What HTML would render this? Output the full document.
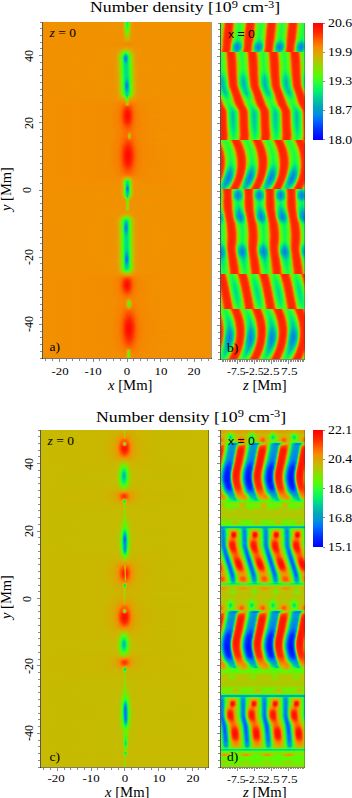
<!DOCTYPE html>
<html><head><meta charset="utf-8"><style>
*{margin:0;padding:0}
html,body{width:352px;height:798px;background:#fff;overflow:hidden;position:relative}
.im{position:absolute;overflow:hidden}
.im i{display:block;height:1px}
b,s{position:absolute;display:block}
b{background:#8a8a8a}
p{position:absolute;white-space:nowrap;color:#000;line-height:1;transform-origin:0 0}
sup{font-size:70%;vertical-align:0;position:relative;top:-0.5em}
.tt{font-family:"Liberation Serif",serif;font-size:14px;transform:scaleX(1.265)}
.yl{font-family:"Liberation Serif",serif;font-size:12px;transform-origin:center;transform:translate(-50%,-50%) rotate(-90deg) translateY(-50%)}
.ya{font-family:"Liberation Serif",serif;font-size:14.5px;transform-origin:center;transform:translate(-50%,-50%) rotate(-90deg)}
.xl{font-family:"Liberation Serif",serif;font-size:11px;transform-origin:center top;transform:translateX(-50%) scaleX(1.17)}
.xa{font-family:"Liberation Serif",serif;font-size:14px;transform:scaleX(1.05)}
.cl{font-family:"Liberation Serif",serif;font-size:12px;transform:translateY(-50%) scaleX(1.15)}
.zl{transform-origin:0 0}
.pl{font-family:"Liberation Serif",serif;font-size:13.5px}
.pls{font-family:"Liberation Sans",sans-serif;font-size:11.2px;transform:scaleX(1.09)}
</style></head><body>
<div class="im" style="left:43px;top:22px;width:168px;height:336px">
<i style="background:linear-gradient(90deg,#f29000 0.5px,#ef9300 78.5px,#e79b00 79.5px,#d3ae00 80.5px,#9ed200 81.5px,#54fa0c 82.5px,#18f750 83.5px,#0af363 84.5px,#29fd3a 85.5px,#73ed00 86.5px,#bac200 87.5px,#dda500 88.5px,#eb9700 89.5px,#f29000 92.5px,#f29000 167.5px)"></i>
<i style="background:linear-gradient(90deg,#f29000 0.5px,#ef9300 78.5px,#e79b00 79.5px,#d3ae00 80.5px,#9fd200 81.5px,#56f90a 82.5px,#1af84e 83.5px,#0cf460 84.5px,#2afd38 85.5px,#74ec00 86.5px,#bbc100 87.5px,#dda400 88.5px,#eb9700 89.5px,#f29000 92.5px,#f29000 167.5px)"></i>
<i style="background:linear-gradient(90deg,#f29000 0.5px,#ef9300 78.5px,#e79b00 79.5px,#d4ad00 80.5px,#a1d100 81.5px,#59f907 82.5px,#1df94a 83.5px,#0ff55c 84.5px,#2dfe34 85.5px,#76eb00 86.5px,#bcc000 87.5px,#dda400 88.5px,#eb9700 89.5px,#f29000 92.5px,#f29000 167.5px)"></i>
<i style="background:linear-gradient(90deg,#f29000 0.5px,#ef9300 78.5px,#e79a00 79.5px,#d5ad00 80.5px,#a4cf00 81.5px,#5ef802 82.5px,#22fa43 83.5px,#14f655 84.5px,#32ff2e 85.5px,#7ae900 86.5px,#bebf00 87.5px,#dea400 88.5px,#eb9600 89.5px,#f29000 92.5px,#f29000 167.5px)"></i>
<i style="background:linear-gradient(90deg,#f29000 0.5px,#ef9300 78.5px,#e89a00 79.5px,#d6ac00 80.5px,#a8cd00 81.5px,#64f600 82.5px,#28fc3b 83.5px,#1bf84c 84.5px,#3afe26 85.5px,#7ee600 86.5px,#c1be00 87.5px,#dfa300 88.5px,#ec9600 89.5px,#f29000 93.5px,#f29000 167.5px)"></i>
<i style="background:linear-gradient(90deg,#f29000 0.5px,#ef9300 78.5px,#e89900 79.5px,#d7aa00 80.5px,#acca00 81.5px,#6bf200 82.5px,#2fff31 83.5px,#23fb41 84.5px,#44fc1c 85.5px,#83e300 86.5px,#c5bb00 87.5px,#e0a200 88.5px,#ec9600 89.5px,#f29000 93.5px,#f29000 167.5px)"></i>
<i style="background:linear-gradient(90deg,#f29000 0.5px,#ef9300 78.5px,#e99900 79.5px,#d8a900 80.5px,#b1c700 81.5px,#72ed00 82.5px,#3bfd25 83.5px,#2cfe35 84.5px,#4ffa11 85.5px,#8adf00 86.5px,#c8b900 87.5px,#e0a100 88.5px,#ec9600 89.5px,#f29000 92.5px,#f29000 167.5px)"></i>
<i style="background:linear-gradient(90deg,#f29000 0.5px,#f09200 78.5px,#e99800 79.5px,#daa700 80.5px,#b7c400 81.5px,#7ae800 82.5px,#48fb18 83.5px,#39fe27 84.5px,#5bf905 85.5px,#cab700 87.5px,#e2a000 88.5px,#ed9500 89.5px,#f29000 94.5px,#f29000 167.5px)"></i>
<i style="background:linear-gradient(90deg,#f29000 0.5px,#f09200 78.5px,#ea9800 79.5px,#dca600 80.5px,#bdc000 81.5px,#83e300 82.5px,#56f90a 83.5px,#48fb18 84.5px,#67f400 85.5px,#cdb400 87.5px,#e39f00 88.5px,#f19100 90.5px,#f29000 167.5px)"></i>
<i style="background:linear-gradient(90deg,#f29000 0.5px,#f09200 78.5px,#eb9700 79.5px,#dda400 80.5px,#c3bc00 81.5px,#8ddd00 82.5px,#64f500 83.5px,#58f908 84.5px,#72ed00 85.5px,#d0b100 87.5px,#e49e00 88.5px,#f19100 90.5px,#f29000 167.5px)"></i>
<i style="background:linear-gradient(90deg,#f29000 0.5px,#f09200 78.5px,#eb9700 79.5px,#dfa200 80.5px,#c9b900 81.5px,#98d700 82.5px,#71ee00 83.5px,#67f400 84.5px,#7de600 85.5px,#acca00 86.5px,#d3ae00 87.5px,#e59d00 88.5px,#f19100 90.5px,#f29000 167.5px)"></i>
<i style="background:linear-gradient(90deg,#f29000 0.5px,#f09200 78.5px,#ec9600 79.5px,#e1a100 80.5px,#ccb500 81.5px,#7ee600 83.5px,#75ec00 84.5px,#89df00 85.5px,#b5c500 86.5px,#d6ac00 87.5px,#e69b00 88.5px,#f19100 90.5px,#f29000 167.5px)"></i>
<i style="background:linear-gradient(90deg,#f29000 0.5px,#f09200 78.5px,#ec9500 79.5px,#e39f00 80.5px,#d0b100 81.5px,#8bde00 83.5px,#82e400 84.5px,#97d700 85.5px,#bebf00 86.5px,#d9a900 87.5px,#e79a00 88.5px,#f19100 90.5px,#f29000 167.5px)"></i>
<i style="background:linear-gradient(90deg,#f29000 0.5px,#f19100 78.5px,#e49d00 80.5px,#d4ad00 81.5px,#99d600 83.5px,#90db00 84.5px,#a4cf00 85.5px,#c7ba00 86.5px,#dba600 87.5px,#e99900 88.5px,#f29000 91.5px,#f29000 167.5px)"></i>
<i style="background:linear-gradient(90deg,#f29000 0.5px,#f19100 78.5px,#e69c00 80.5px,#c2bd00 82.5px,#a7cd00 83.5px,#9fd200 84.5px,#b0c800 85.5px,#ccb500 86.5px,#ea9800 88.5px,#f29000 92.5px,#f29000 167.5px)"></i>
<i style="background:linear-gradient(90deg,#f29000 0.5px,#f19100 78.5px,#e79a00 80.5px,#cab700 82.5px,#b4c500 83.5px,#adca00 84.5px,#bcc100 85.5px,#e1a100 87.5px,#f09200 89.5px,#f29000 167.5px)"></i>
<i style="background:linear-gradient(90deg,#f29000 0.5px,#ef9300 79.5px,#dea300 81.5px,#c1be00 83.5px,#bbc100 84.5px,#d6ac00 86.5px,#ec9600 88.5px,#f29000 94.5px,#f29000 167.5px)"></i>
<i style="background:linear-gradient(90deg,#f29000 0.5px,#ef9300 79.5px,#e2a000 81.5px,#ccb500 83.5px,#c9b800 84.5px,#dba700 86.5px,#ed9500 88.5px,#f29000 93.5px,#f29000 167.5px)"></i>
<i style="background:linear-gradient(90deg,#f29000 0.5px,#f09200 79.5px,#e69c00 81.5px,#d6ab00 83.5px,#d4ad00 84.5px,#ee9400 88.5px,#f29000 96.5px,#f29000 167.5px)"></i>
<i style="background:linear-gradient(90deg,#f29000 0.5px,#ef9300 80.5px,#e0a100 84.5px,#f19100 89.5px,#f29000 167.5px)"></i>
<i style="background:linear-gradient(90deg,#f29000 0.5px,#ef9300 82.5px,#f29000 167.5px)"></i>
<i style="background:linear-gradient(90deg,#f29000 0.5px,#f38d00 81.5px,#f48900 85.5px,#f29000 92.5px,#f29000 167.5px)"></i>
<i style="background:linear-gradient(90deg,#f29000 0.5px,#f29000 80.5px,#f58400 84.5px,#f29000 90.5px,#f29000 167.5px)"></i>
<i style="background:linear-gradient(90deg,#f29000 0.5px,#f19100 81.5px,#f38c00 85.5px,#f19100 91.5px,#f29000 167.5px)"></i>
<i style="background:linear-gradient(90deg,#f29000 0.5px,#ef9300 76.5px,#ec9600 84.5px,#f29000 102.5px,#f29000 167.5px)"></i>
<i style="background:linear-gradient(90deg,#f29000 0.5px,#f09200 74.5px,#e0a100 83.5px,#f19100 92.5px,#f29000 167.5px)"></i>
<i style="background:linear-gradient(90deg,#f29000 0.5px,#f09200 73.5px,#d4ae00 83.5px,#ef9300 91.5px,#f29000 167.5px)"></i>
<i style="background:linear-gradient(90deg,#f29000 0.5px,#f09200 72.5px,#e49d00 76.5px,#c4bc00 82.5px,#c7ba00 84.5px,#ea9800 90.5px,#f29000 98.5px,#f29000 167.5px)"></i>
<i style="background:linear-gradient(90deg,#f29000 0.5px,#ef9300 72.5px,#dea400 76.5px,#c4bc00 79.5px,#aacc00 81.5px,#a2d000 83.5px,#b6c400 85.5px,#d0b100 87.5px,#eb9700 91.5px,#f29000 98.5px,#f29000 167.5px)"></i>
<i style="background:linear-gradient(90deg,#f29000 0.5px,#f09200 71.5px,#e69c00 74.5px,#cbb600 77.5px,#83e300 81.5px,#7ae800 82.5px,#7be800 83.5px,#85e200 84.5px,#c1be00 87.5px,#e2a000 90.5px,#f09200 94.5px,#f29000 167.5px)"></i>
<i style="background:linear-gradient(90deg,#f29000 0.5px,#ef9300 71.5px,#e2a000 74.5px,#cdb400 76.5px,#bac200 77.5px,#6fef00 80.5px,#59f907 81.5px,#4afb16 82.5px,#4efb12 83.5px,#61f800 84.5px,#8ddd00 86.5px,#c3bd00 88.5px,#dca500 90.5px,#ed9500 93.5px,#f29000 103.5px,#f29000 167.5px)"></i>
<i style="background:linear-gradient(90deg,#f29000 0.5px,#f09200 70.5px,#e59c00 73.5px,#d2af00 75.5px,#c2bd00 76.5px,#68f300 79.5px,#46fc1a 80.5px,#27fc3d 81.5px,#17f752 82.5px,#1cf94b 83.5px,#31ff2f 84.5px,#53fa0d 85.5px,#72ed00 86.5px,#b0c800 88.5px,#cab700 89.5px,#e1a100 91.5px,#ef9300 94.5px,#f29000 167.5px)"></i>
<i style="background:linear-gradient(90deg,#f29000 0.5px,#f09200 70.5px,#e39f00 73.5px,#cdb500 75.5px,#b4c600 76.5px,#70ef00 78.5px,#4afb16 79.5px,#22fb42 80.5px,#00ef71 81.5px,#00d590 82.5px,#00df85 83.5px,#0ff55b 84.5px,#30ff31 85.5px,#59f907 86.5px,#7ce700 87.5px,#c0be00 89.5px,#dea400 91.5px,#ee9400 94.5px,#f29000 106.5px,#f29000 167.5px)"></i>
<i style="background:linear-gradient(90deg,#f29000 0.5px,#ef9300 70.5px,#e1a000 73.5px,#c8b900 75.5px,#84e300 77.5px,#5ff801 78.5px,#30ff30 79.5px,#0af363 80.5px,#00c7a1 81.5px,#00abb6 82.5px,#00b6ad 83.5px,#00e182 84.5px,#1bf94b 85.5px,#43fc1d 86.5px,#6ef000 87.5px,#b7c400 89.5px,#cfb300 90.5px,#e59d00 92.5px,#f19100 96.5px,#f29000 167.5px)"></i>
<i style="background:linear-gradient(90deg,#f29000 0.5px,#ef9300 70.5px,#e0a100 73.5px,#c5bb00 75.5px,#7de700 77.5px,#55fa0b 78.5px,#26fc3d 79.5px,#00e978 80.5px,#00b0b2 81.5px,#0093db 82.5px,#009ec8 83.5px,#00cb9c 84.5px,#10f55b 85.5px,#37fe29 86.5px,#66f400 87.5px,#b2c700 89.5px,#cdb500 90.5px,#e49e00 92.5px,#f09200 95.5px,#f29000 167.5px)"></i>
<i style="background:linear-gradient(90deg,#f29000 0.5px,#ef9300 70.5px,#e0a100 73.5px,#c5bb00 75.5px,#7de700 77.5px,#54fa0c 78.5px,#25fb3f 79.5px,#00e47f 80.5px,#00a6bc 81.5px,#007ef2 82.5px,#0094da 83.5px,#00c3a3 84.5px,#0cf45f 85.5px,#35fe2b 86.5px,#64f500 87.5px,#b0c800 89.5px,#ccb500 90.5px,#e39e00 92.5px,#f09200 95.5px,#f29000 167.5px)"></i>
<i style="background:linear-gradient(90deg,#f29000 0.5px,#ef9300 70.5px,#e1a100 73.5px,#c6bb00 75.5px,#7ee600 77.5px,#55fa0b 78.5px,#26fc3e 79.5px,#00e380 80.5px,#00a3c0 81.5px,#0075fa 82.5px,#0090e0 83.5px,#00c1a5 84.5px,#0bf361 85.5px,#33ff2d 86.5px,#63f600 87.5px,#afc800 89.5px,#cbb600 90.5px,#e39e00 92.5px,#f09200 95.5px,#f29000 167.5px)"></i>
<i style="background:linear-gradient(90deg,#f29000 0.5px,#ef9300 70.5px,#e1a100 73.5px,#c7ba00 75.5px,#7fe500 77.5px,#57f909 78.5px,#27fc3c 79.5px,#00e67c 80.5px,#00a6bb 81.5px,#007ef1 82.5px,#0093da 83.5px,#00c2a4 84.5px,#0bf361 85.5px,#32ff2e 86.5px,#62f700 87.5px,#aec900 89.5px,#cbb600 90.5px,#e39f00 92.5px,#f09200 95.5px,#f29000 167.5px)"></i>
<i style="background:linear-gradient(90deg,#f29000 0.5px,#ef9300 70.5px,#e1a000 73.5px,#c7ba00 75.5px,#a7cd00 76.5px,#80e500 77.5px,#59f907 78.5px,#29fd3a 79.5px,#00eb76 80.5px,#00b0b2 81.5px,#0093db 82.5px,#009dca 83.5px,#00c8a0 84.5px,#0cf460 85.5px,#30ff30 86.5px,#60f800 87.5px,#adca00 89.5px,#cab700 90.5px,#e39f00 92.5px,#f19100 96.5px,#f29000 167.5px)"></i>
<i style="background:linear-gradient(90deg,#f29000 0.5px,#ef9300 70.5px,#e2a000 73.5px,#c8b900 75.5px,#82e400 77.5px,#5af906 78.5px,#2bfd37 79.5px,#02f16d 80.5px,#00bea7 81.5px,#00a2c2 82.5px,#00aab6 83.5px,#00d195 84.5px,#0df45f 85.5px,#30ff31 86.5px,#5ff801 87.5px,#accb00 89.5px,#cab700 90.5px,#e29f00 92.5px,#f09200 95.5px,#f29000 167.5px)"></i>
<i style="background:linear-gradient(90deg,#f29000 0.5px,#ef9300 70.5px,#e2a000 73.5px,#c9b800 75.5px,#83e300 77.5px,#5cf904 78.5px,#2dfe34 79.5px,#08f265 80.5px,#00cc9b 81.5px,#00b4af 82.5px,#00baaa 83.5px,#00d98b 84.5px,#0ef45d 85.5px,#2fff32 86.5px,#5df803 87.5px,#aacb00 89.5px,#c9b800 90.5px,#e2a000 92.5px,#ef9200 95.5px,#f29000 167.5px)"></i>
<i style="background:linear-gradient(90deg,#f29000 0.5px,#ef9200 70.5px,#e29f00 73.5px,#c9b800 75.5px,#abcb00 76.5px,#5ef802 78.5px,#2fff32 79.5px,#0df45f 80.5px,#00da8b 81.5px,#00c4a3 82.5px,#00c7a1 83.5px,#00e083 84.5px,#0ff55c 85.5px,#2efe33 86.5px,#5cf904 87.5px,#a9cc00 89.5px,#c8b900 90.5px,#e2a000 92.5px,#ef9300 95.5px,#f29000 167.5px)"></i>
<i style="background:linear-gradient(90deg,#f29000 0.5px,#f09200 70.5px,#e29f00 73.5px,#cab700 75.5px,#acca00 76.5px,#60f800 78.5px,#30ff30 79.5px,#10f55a 80.5px,#00e380 81.5px,#00d097 82.5px,#00d195 83.5px,#00e47e 84.5px,#0ff55c 85.5px,#2dfe34 86.5px,#5af906 87.5px,#a8cd00 89.5px,#c8b900 90.5px,#e1a000 92.5px,#ef9300 95.5px,#f29000 167.5px)"></i>
<i style="background:linear-gradient(90deg,#f29000 0.5px,#f09200 70.5px,#e39f00 73.5px,#cab700 75.5px,#adca00 76.5px,#61f700 78.5px,#32ff2e 79.5px,#13f657 80.5px,#00e879 81.5px,#00d78d 82.5px,#00d78e 83.5px,#00e67c 84.5px,#0ff55d 85.5px,#2cfe35 86.5px,#59f907 87.5px,#80e500 88.5px,#a7ce00 89.5px,#c7ba00 90.5px,#e1a000 92.5px,#ef9300 95.5px,#f29000 167.5px)"></i>
<i style="background:linear-gradient(90deg,#f29000 0.5px,#f09200 70.5px,#e39f00 73.5px,#cbb600 75.5px,#aec900 76.5px,#62f700 78.5px,#34fe2c 79.5px,#14f655 80.5px,#00eb76 81.5px,#00db89 82.5px,#00da8b 83.5px,#00e77b 84.5px,#0ef45d 85.5px,#2bfd37 86.5px,#57f909 87.5px,#7fe600 88.5px,#c6ba00 90.5px,#e1a100 92.5px,#ef9300 95.5px,#f29000 167.5px)"></i>
<i style="background:linear-gradient(90deg,#f29000 0.5px,#f09200 70.5px,#e39e00 73.5px,#ccb600 75.5px,#b0c800 76.5px,#64f600 78.5px,#36fe2a 79.5px,#16f753 80.5px,#00ed73 81.5px,#00dd87 82.5px,#00db89 83.5px,#00e77b 84.5px,#0df45e 85.5px,#2afd38 86.5px,#55fa0b 87.5px,#7de600 88.5px,#c5bb00 90.5px,#e1a100 92.5px,#ef9300 95.5px,#f29000 167.5px)"></i>
<i style="background:linear-gradient(90deg,#f29000 0.5px,#f09200 70.5px,#e49e00 73.5px,#ccb500 75.5px,#b1c700 76.5px,#65f500 78.5px,#37fe29 79.5px,#17f752 80.5px,#00ee72 81.5px,#00de86 82.5px,#00db89 83.5px,#00e67b 84.5px,#0cf45f 85.5px,#29fd3a 86.5px,#54fa0c 87.5px,#7ce700 88.5px,#c4bc00 90.5px,#e0a100 92.5px,#ef9300 95.5px,#f29000 167.5px)"></i>
<i style="background:linear-gradient(90deg,#f29000 0.5px,#f09200 70.5px,#e49e00 73.5px,#cdb400 75.5px,#b2c700 76.5px,#66f400 78.5px,#39fe27 79.5px,#18f750 80.5px,#00ef71 81.5px,#00de85 82.5px,#00db89 83.5px,#00e67c 84.5px,#0cf461 85.5px,#28fc3b 86.5px,#52fa0e 87.5px,#7be800 88.5px,#c3bc00 90.5px,#d5ad00 91.5px,#e89a00 93.5px,#f29000 98.5px,#f29000 167.5px)"></i>
<i style="background:linear-gradient(90deg,#f29000 0.5px,#f09200 70.5px,#e49e00 73.5px,#cdb400 75.5px,#b3c600 76.5px,#68f300 78.5px,#3bfd25 79.5px,#19f84f 80.5px,#00f070 81.5px,#00df85 82.5px,#00db89 83.5px,#00e57d 84.5px,#0bf362 85.5px,#27fc3c 86.5px,#51fa0f 87.5px,#7ae900 88.5px,#c2bd00 90.5px,#e0a200 92.5px,#ef9300 95.5px,#f29000 167.5px)"></i>
<i style="background:linear-gradient(90deg,#f29000 0.5px,#f09200 70.5px,#e49d00 73.5px,#ceb300 75.5px,#b4c500 76.5px,#69f300 78.5px,#3cfd24 79.5px,#1af84e 80.5px,#01f06f 81.5px,#00df84 82.5px,#00db89 83.5px,#00e57d 84.5px,#0af363 85.5px,#26fc3e 86.5px,#4ffa11 87.5px,#78e900 88.5px,#c1bd00 90.5px,#d4ae00 91.5px,#e79b00 93.5px,#f19100 97.5px,#f29000 167.5px)"></i>
<i style="background:linear-gradient(90deg,#f29000 0.5px,#f09200 70.5px,#e59d00 73.5px,#ceb300 75.5px,#b5c500 76.5px,#6af200 78.5px,#3efd22 79.5px,#1bf84c 80.5px,#01f06e 81.5px,#00e084 82.5px,#00db89 83.5px,#00e47e 84.5px,#09f364 85.5px,#25fb3f 86.5px,#4dfb13 87.5px,#77ea00 88.5px,#c0be00 90.5px,#d3ae00 91.5px,#e79b00 93.5px,#f19100 97.5px,#f29000 167.5px)"></i>
<i style="background:linear-gradient(90deg,#f29000 0.5px,#f09200 70.5px,#e59d00 73.5px,#cfb200 75.5px,#b7c400 76.5px,#6cf100 78.5px,#3ffd21 79.5px,#1cf94b 80.5px,#02f16d 81.5px,#00e083 82.5px,#00db8a 83.5px,#00e47f 84.5px,#08f365 85.5px,#24fb41 86.5px,#4cfb14 87.5px,#76eb00 88.5px,#bfbf00 90.5px,#d3af00 91.5px,#e79b00 93.5px,#f19100 97.5px,#f29000 167.5px)"></i>
<i style="background:linear-gradient(90deg,#f29000 0.5px,#f09200 70.5px,#e59d00 73.5px,#cfb200 75.5px,#b8c300 76.5px,#6df000 78.5px,#41fd1f 79.5px,#1df94a 80.5px,#03f16c 81.5px,#00e083 82.5px,#00da8a 83.5px,#00e380 84.5px,#07f266 85.5px,#23fb42 86.5px,#4afb16 87.5px,#75ec00 88.5px,#bebf00 90.5px,#d2af00 91.5px,#e69b00 93.5px,#f09200 96.5px,#f29000 167.5px)"></i>
<i style="background:linear-gradient(90deg,#f29000 0.5px,#f09200 70.5px,#e59c00 73.5px,#d0b100 75.5px,#b9c300 76.5px,#6eef00 78.5px,#43fc1d 79.5px,#1ef948 80.5px,#03f16b 81.5px,#00e083 82.5px,#00d98b 83.5px,#00e182 84.5px,#06f268 85.5px,#21fa43 86.5px,#49fb17 87.5px,#73ec00 88.5px,#bdc000 90.5px,#d2af00 91.5px,#e69b00 93.5px,#f09200 96.5px,#f29000 167.5px)"></i>
<i style="background:linear-gradient(90deg,#f29000 0.5px,#f09200 70.5px,#e69c00 73.5px,#d0b100 75.5px,#bac200 76.5px,#70ef00 78.5px,#44fc1c 79.5px,#1ffa47 80.5px,#04f16b 81.5px,#00e084 82.5px,#00d88d 83.5px,#00df84 84.5px,#04f16a 85.5px,#20fa45 86.5px,#47fc19 87.5px,#72ed00 88.5px,#bcc100 90.5px,#d1b000 91.5px,#e69c00 93.5px,#f09200 96.5px,#f29000 167.5px)"></i>
<i style="background:linear-gradient(90deg,#f29000 0.5px,#f09200 70.5px,#e69c00 73.5px,#d1b000 75.5px,#bbc100 76.5px,#71ee00 78.5px,#46fc1a 79.5px,#20fa46 80.5px,#04f16a 81.5px,#00de86 82.5px,#00d491 83.5px,#00dc89 84.5px,#02f16d 85.5px,#1ffa47 86.5px,#45fc1b 87.5px,#71ee00 88.5px,#bbc100 90.5px,#d1b000 91.5px,#e69c00 93.5px,#f19100 97.5px,#f29000 167.5px)"></i>
<i style="background:linear-gradient(90deg,#f29000 0.5px,#ef9300 71.5px,#dea400 74.5px,#d1b000 75.5px,#bcc000 76.5px,#72ed00 78.5px,#47fc19 79.5px,#20fa45 80.5px,#04f16b 81.5px,#00db89 82.5px,#00ce98 83.5px,#00d690 84.5px,#00ef71 85.5px,#1df949 86.5px,#44fc1c 87.5px,#6fef00 88.5px,#bac200 90.5px,#d0b100 91.5px,#e69c00 93.5px,#f19100 97.5px,#f29000 167.5px)"></i>
<i style="background:linear-gradient(90deg,#f29000 0.5px,#ef9300 71.5px,#dea300 74.5px,#d2af00 75.5px,#bdc000 76.5px,#74ec00 78.5px,#49fb17 79.5px,#21fa44 80.5px,#03f16c 81.5px,#00d68f 82.5px,#00c6a2 83.5px,#00cc9b 84.5px,#00ea78 85.5px,#1bf84c 86.5px,#42fc1e 87.5px,#6ef000 88.5px,#b9c300 90.5px,#d0b100 91.5px,#e59c00 93.5px,#f19100 97.5px,#f29000 167.5px)"></i>
<i style="background:linear-gradient(90deg,#f29000 0.5px,#ef9300 71.5px,#e79b00 73.5px,#d2af00 75.5px,#bebf00 76.5px,#75eb00 78.5px,#4bfb15 79.5px,#22fb43 80.5px,#02f16d 81.5px,#00cf97 82.5px,#00bbaa 83.5px,#00c1a5 84.5px,#00e280 85.5px,#18f84f 86.5px,#40fd20 87.5px,#6df000 88.5px,#b8c300 90.5px,#cfb200 91.5px,#e59d00 93.5px,#f19100 97.5px,#f29000 167.5px)"></i>
<i style="background:linear-gradient(90deg,#f29000 0.5px,#ef9300 71.5px,#dfa300 74.5px,#d3ae00 75.5px,#c0be00 76.5px,#76eb00 78.5px,#4cfb14 79.5px,#23fb42 80.5px,#00f070 81.5px,#00c6a1 82.5px,#00adb4 83.5px,#00b4af 84.5px,#00d98b 85.5px,#15f753 86.5px,#3efd22 87.5px,#6cf100 88.5px,#b7c400 90.5px,#cfb200 91.5px,#e59d00 93.5px,#f19100 97.5px,#f29000 167.5px)"></i>
<i style="background:linear-gradient(90deg,#f29000 0.5px,#ef9300 71.5px,#dfa200 74.5px,#c1be00 76.5px,#77ea00 78.5px,#4efb12 79.5px,#23fb41 80.5px,#00ee73 81.5px,#00bea8 82.5px,#00a0c5 83.5px,#00a6bc 84.5px,#00cf98 85.5px,#12f658 86.5px,#3cfd24 87.5px,#6af200 88.5px,#b5c500 90.5px,#ceb300 91.5px,#e59d00 93.5px,#f19100 97.5px,#f29000 167.5px)"></i>
<i style="background:linear-gradient(90deg,#f29000 0.5px,#ef9300 71.5px,#dfa200 74.5px,#d4ad00 75.5px,#c2bd00 76.5px,#79e900 78.5px,#4ffa11 79.5px,#24fb40 80.5px,#00eb76 81.5px,#00b5ae 82.5px,#0095d8 83.5px,#009acf 84.5px,#00c5a2 85.5px,#0ff55c 86.5px,#3afe26 87.5px,#69f300 88.5px,#b4c500 90.5px,#ceb300 91.5px,#e49d00 93.5px,#f09200 96.5px,#f29000 167.5px)"></i>
<i style="background:linear-gradient(90deg,#f29000 0.5px,#ef9300 71.5px,#e0a200 74.5px,#c3bc00 76.5px,#7ae800 78.5px,#51fa0f 79.5px,#24fb3f 80.5px,#00e978 81.5px,#00aeb3 82.5px,#0087e9 83.5px,#0091de 84.5px,#00bfa7 85.5px,#0cf460 86.5px,#38fe28 87.5px,#68f300 88.5px,#b3c600 90.5px,#cdb400 91.5px,#e49d00 93.5px,#f09200 96.5px,#f29000 167.5px)"></i>
<i style="background:linear-gradient(90deg,#f29000 0.5px,#ef9300 71.5px,#e0a100 74.5px,#c4bc00 76.5px,#7ce700 78.5px,#53fa0d 79.5px,#25fc3e 80.5px,#00e979 81.5px,#00abb6 82.5px,#007df3 83.5px,#0088e7 84.5px,#00bbaa 85.5px,#0af362 86.5px,#36fe2a 87.5px,#66f400 88.5px,#b2c700 90.5px,#cdb400 91.5px,#e49e00 93.5px,#f09200 96.5px,#f29000 167.5px)"></i>
<i style="background:linear-gradient(90deg,#f29000 0.5px,#ef9300 71.5px,#e1a100 74.5px,#c5bb00 76.5px,#7de700 78.5px,#54fa0c 79.5px,#26fc3d 80.5px,#00ea77 81.5px,#00abb5 82.5px,#007df2 83.5px,#0088e8 84.5px,#00baaa 85.5px,#0af363 86.5px,#35fe2b 87.5px,#65f500 88.5px,#b1c700 90.5px,#ccb500 91.5px,#e49e00 93.5px,#f09200 96.5px,#f29000 167.5px)"></i>
<i style="background:linear-gradient(90deg,#f29000 0.5px,#ef9300 71.5px,#e1a100 74.5px,#c6ba00 76.5px,#7ee600 78.5px,#56f90a 79.5px,#28fc3b 80.5px,#00ed74 81.5px,#00b0b2 82.5px,#0088e8 83.5px,#0091de 84.5px,#00bda8 85.5px,#0af363 86.5px,#34fe2c 87.5px,#64f600 88.5px,#b0c800 90.5px,#ccb500 91.5px,#e49e00 93.5px,#f09200 96.5px,#f29000 167.5px)"></i>
<i style="background:linear-gradient(90deg,#f29000 0.5px,#ef9200 71.5px,#e1a000 74.5px,#c7ba00 76.5px,#80e500 78.5px,#58f908 79.5px,#2afd39 80.5px,#01f06f 81.5px,#00b8ac 82.5px,#0096d7 83.5px,#009acf 84.5px,#00c3a4 85.5px,#0bf361 86.5px,#33ff2d 87.5px,#63f600 88.5px,#afc800 90.5px,#cbb600 91.5px,#e39e00 93.5px,#f09200 96.5px,#f29000 167.5px)"></i>
<i style="background:linear-gradient(90deg,#f29000 0.5px,#f09200 71.5px,#e2a000 74.5px,#c8b900 76.5px,#a8cd00 77.5px,#5af906 79.5px,#2bfe36 80.5px,#05f26a 81.5px,#00c2a5 82.5px,#00a2c3 83.5px,#00a5bd 84.5px,#00cb9d 85.5px,#0df45f 86.5px,#32ff2e 87.5px,#62f700 88.5px,#aec900 90.5px,#cbb600 91.5px,#e39e00 93.5px,#f09200 96.5px,#f29000 167.5px)"></i>
<i style="background:linear-gradient(90deg,#f29000 0.5px,#f09200 71.5px,#e29f00 74.5px,#c9b800 76.5px,#83e300 78.5px,#5cf904 79.5px,#2dfe34 80.5px,#09f364 81.5px,#00cd9a 82.5px,#00b0b2 83.5px,#00b3b0 84.5px,#00d492 85.5px,#0ef45d 86.5px,#32ff2e 87.5px,#61f700 88.5px,#adc900 90.5px,#cbb600 91.5px,#e39f00 93.5px,#f09200 96.5px,#f29000 167.5px)"></i>
<i style="background:linear-gradient(90deg,#f29000 0.5px,#f09200 71.5px,#e39f00 74.5px,#c9b800 76.5px,#abcb00 77.5px,#5ef802 79.5px,#2fff31 80.5px,#0df45e 81.5px,#00d88d 82.5px,#00bea8 83.5px,#00c0a6 84.5px,#00dc88 85.5px,#10f55b 86.5px,#31ff2f 87.5px,#60f800 88.5px,#acca00 90.5px,#cab700 91.5px,#e39f00 93.5px,#f09200 96.5px,#f29000 167.5px)"></i>
<i style="background:linear-gradient(90deg,#f29000 0.5px,#f09200 71.5px,#e39f00 74.5px,#cab700 76.5px,#adca00 77.5px,#61f700 79.5px,#32ff2e 80.5px,#12f658 81.5px,#00e281 82.5px,#00cb9d 83.5px,#00cc9b 84.5px,#00e47e 85.5px,#13f657 86.5px,#33ff2d 87.5px,#61f700 88.5px,#adca00 90.5px,#cab700 91.5px,#e39f00 93.5px,#f09200 96.5px,#f29000 167.5px)"></i>
<i style="background:linear-gradient(90deg,#f29000 0.5px,#f09200 71.5px,#e49e00 74.5px,#cdb400 76.5px,#b3c600 77.5px,#6af200 79.5px,#40fd20 80.5px,#1df949 81.5px,#01f06e 82.5px,#00da8a 83.5px,#00db89 84.5px,#02f16d 85.5px,#1ef948 86.5px,#41fd1f 87.5px,#6af200 88.5px,#b3c600 90.5px,#cdb400 91.5px,#e49e00 93.5px,#f09200 96.5px,#f29000 167.5px)"></i>
<i style="background:linear-gradient(90deg,#f29000 0.5px,#ef9300 72.5px,#dda400 75.5px,#d1b000 76.5px,#bdc000 77.5px,#7ae800 79.5px,#58f908 80.5px,#2fff31 81.5px,#0df45f 82.5px,#00d98c 83.5px,#00da8b 84.5px,#0df45e 85.5px,#30ff30 86.5px,#59f907 87.5px,#7ae800 88.5px,#bdc000 90.5px,#d1b000 91.5px,#e69c00 93.5px,#f29000 97.5px,#f29000 167.5px)"></i>
<i style="background:linear-gradient(90deg,#f29000 0.5px,#ef9200 72.5px,#e1a100 75.5px,#c9b800 77.5px,#73ed00 80.5px,#4ffb11 81.5px,#17f752 82.5px,#00cc9b 83.5px,#00cd9a 84.5px,#17f751 85.5px,#4ffa11 86.5px,#74ec00 87.5px,#b0c800 89.5px,#c9b800 90.5px,#e1a000 92.5px,#f09200 95.5px,#f29000 167.5px)"></i>
<i style="background:linear-gradient(90deg,#f29000 0.5px,#f09200 72.5px,#e59d00 75.5px,#c4bc00 78.5px,#73ed00 81.5px,#36fe2a 82.5px,#00eb76 83.5px,#00ea77 84.5px,#35fe2b 85.5px,#73ec00 86.5px,#acca00 88.5px,#c5bb00 89.5px,#dda400 91.5px,#ee9400 94.5px,#f28f00 101.5px,#f29000 167.5px)"></i>
<i style="background:linear-gradient(90deg,#f29000 0.5px,#f09200 73.5px,#e39f00 76.5px,#c6bb00 79.5px,#b3c600 80.5px,#98d600 81.5px,#66f500 82.5px,#1ffa46 83.5px,#1cf94b 84.5px,#60f800 85.5px,#97d700 86.5px,#b4c600 87.5px,#c7ba00 88.5px,#e39e00 91.5px,#f19100 95.5px,#f29000 167.5px)"></i>
<i style="background:linear-gradient(90deg,#f29000 0.5px,#f19100 73.5px,#e39f00 77.5px,#cdb400 80.5px,#bdc000 81.5px,#8adf00 82.5px,#46fc1a 83.5px,#3dfd23 84.5px,#80e500 85.5px,#bac200 86.5px,#ceb300 87.5px,#e99900 91.5px,#f28f00 95.5px,#f29000 167.5px)"></i>
<i style="background:linear-gradient(90deg,#f29000 0.5px,#f19100 74.5px,#dda500 80.5px,#d3ae00 81.5px,#aec900 82.5px,#6bf200 83.5px,#60f800 84.5px,#9ed300 85.5px,#d1b000 86.5px,#dea400 87.5px,#f29000 93.5px,#f29000 167.5px)"></i>
<i style="background:linear-gradient(90deg,#f29000 0.5px,#f19100 76.5px,#e99900 80.5px,#e39f00 81.5px,#cab700 82.5px,#85e200 83.5px,#77ea00 84.5px,#b7c400 85.5px,#dfa200 86.5px,#ea9800 87.5px,#f38d00 94.5px,#f29000 167.5px)"></i>
<i style="background:linear-gradient(90deg,#f29000 0.5px,#f28f00 80.5px,#ee9400 81.5px,#d8a900 82.5px,#9dd300 83.5px,#8adf00 84.5px,#c9b800 85.5px,#ea9700 86.5px,#f38d00 87.5px,#f29000 167.5px)"></i>
<i style="background:linear-gradient(90deg,#f29000 0.5px,#f38d00 71.5px,#f58300 80.5px,#f48700 81.5px,#e49e00 82.5px,#b2c700 83.5px,#9bd500 84.5px,#d1b000 85.5px,#f28e00 86.5px,#f68000 87.5px,#f38d00 97.5px,#f29000 167.5px)"></i>
<i style="background:linear-gradient(90deg,#f29000 0.5px,#f38d00 70.5px,#f68200 78.5px,#f87a00 80.5px,#f87b00 81.5px,#ed9500 82.5px,#c2bd00 83.5px,#a8cc00 84.5px,#d8a900 85.5px,#f68300 86.5px,#f97500 87.5px,#f48900 93.5px,#f29000 114.5px,#f29000 167.5px)"></i>
<i style="background:linear-gradient(90deg,#f29000 0.5px,#f38d00 69.5px,#f68200 77.5px,#fb7000 81.5px,#f48800 82.5px,#d3af00 83.5px,#c2bd00 84.5px,#e39e00 85.5px,#f97700 86.5px,#fc6c00 87.5px,#f58500 92.5px,#f28f00 104.5px,#f29000 167.5px)"></i>
<i style="background:linear-gradient(90deg,#f29000 0.5px,#f38d00 69.5px,#f58300 76.5px,#fa7300 79.5px,#fe6400 81.5px,#fc6a00 82.5px,#f68200 83.5px,#f38c00 84.5px,#ff6200 86.5px,#fe6200 87.5px,#f77f00 91.5px,#f38b00 97.5px,#f29000 122.5px,#f29000 167.5px)"></i>
<i style="background:linear-gradient(90deg,#f29000 0.5px,#f38d00 69.5px,#f68200 76.5px,#fe6400 80.5px,#ff5200 82.5px,#ff5100 86.5px,#f77d00 91.5px,#f48a00 96.5px,#f29000 117.5px,#f29000 167.5px)"></i>
<i style="background:linear-gradient(90deg,#f29000 0.5px,#f38d00 68.5px,#f58400 75.5px,#fa7300 78.5px,#ff4500 82.5px,#ff3c00 84.5px,#ff4500 86.5px,#fa7300 90.5px,#f58400 93.5px,#f28f00 104.5px,#f29000 167.5px)"></i>
<i style="background:linear-gradient(90deg,#f29000 0.5px,#f38d00 68.5px,#f68300 75.5px,#fb7000 78.5px,#ff3b00 82.5px,#ff2f00 84.5px,#ff3b00 86.5px,#fb7000 90.5px,#f68300 93.5px,#f28f00 105.5px,#f29000 167.5px)"></i>
<i style="background:linear-gradient(90deg,#f29000 0.5px,#f38d00 68.5px,#f68200 75.5px,#fc6d00 78.5px,#ff3200 82.5px,#ff2800 83.5px,#ff2800 85.5px,#ff4100 87.5px,#fc6d00 90.5px,#f68200 93.5px,#f38e00 102.5px,#f29000 167.5px)"></i>
<i style="background:linear-gradient(90deg,#f29000 0.5px,#f38d00 67.5px,#f68100 75.5px,#f97500 77.5px,#ff4b00 80.5px,#ff2900 82.5px,#ff1f00 84.5px,#ff2900 86.5px,#fc6a00 90.5px,#f77c00 92.5px,#f48a00 97.5px,#f29000 118.5px,#f29000 167.5px)"></i>
<i style="background:linear-gradient(90deg,#f29000 0.5px,#f38d00 67.5px,#f58400 74.5px,#fa7300 77.5px,#ff4600 80.5px,#ff2400 82.5px,#ff1900 84.5px,#ff2400 86.5px,#ff4600 88.5px,#fa7300 91.5px,#f58400 94.5px,#f28f00 106.5px,#f29000 167.5px)"></i>
<i style="background:linear-gradient(90deg,#f29000 0.5px,#f38d00 67.5px,#f58300 74.5px,#fa7100 77.5px,#ff5500 79.5px,#ff2d00 81.5px,#ff1700 83.5px,#ff1700 85.5px,#ff2d00 87.5px,#fe6500 90.5px,#f68000 93.5px,#f38c00 100.5px,#f29000 136.5px,#f29000 167.5px)"></i>
<i style="background:linear-gradient(90deg,#f29000 0.5px,#f38d00 67.5px,#f68300 74.5px,#fb7000 77.5px,#ff5200 79.5px,#ff2800 81.5px,#ff1300 83.5px,#ff1300 85.5px,#ff2800 87.5px,#fe6300 90.5px,#f87900 92.5px,#f48700 96.5px,#f29000 111.5px,#f29000 167.5px)"></i>
<i style="background:linear-gradient(90deg,#f29000 0.5px,#f38d00 67.5px,#f77f00 75.5px,#fb6f00 77.5px,#ff5000 79.5px,#ff2600 81.5px,#ff1100 83.5px,#ff0d00 84.5px,#ff1900 86.5px,#ff2600 87.5px,#ff6200 90.5px,#f87800 92.5px,#f58500 95.5px,#f28f00 107.5px,#f29000 167.5px)"></i>
<i style="background:linear-gradient(90deg,#f29000 0.5px,#f38d00 67.5px,#f68300 74.5px,#fb6f00 77.5px,#ff4f00 79.5px,#ff2500 81.5px,#ff0f00 83.5px,#ff0f00 85.5px,#ff2500 87.5px,#ff6100 90.5px,#f87800 92.5px,#f48700 96.5px,#f29000 111.5px,#f29000 167.5px)"></i>
<i style="background:linear-gradient(90deg,#f29000 0.5px,#f38d00 67.5px,#f68200 74.5px,#fb6f00 77.5px,#ff4f00 79.5px,#ff2500 81.5px,#ff0f00 83.5px,#ff0f00 85.5px,#ff2500 87.5px,#ff6100 90.5px,#f97800 92.5px,#f48700 96.5px,#f29000 111.5px,#f29000 167.5px)"></i>
<i style="background:linear-gradient(90deg,#f29000 0.5px,#f38d00 67.5px,#f68200 74.5px,#fb6f00 77.5px,#ff5000 79.5px,#ff2600 81.5px,#ff1000 83.5px,#ff1000 85.5px,#ff2600 87.5px,#ff6100 90.5px,#f87800 92.5px,#f48700 96.5px,#f29000 111.5px,#f29000 167.5px)"></i>
<i style="background:linear-gradient(90deg,#f29000 0.5px,#f38d00 67.5px,#f77f00 75.5px,#fb6f00 77.5px,#ff5100 79.5px,#ff2700 81.5px,#ff1300 83.5px,#ff1300 85.5px,#ff2700 87.5px,#fe6200 90.5px,#f87800 92.5px,#f58500 95.5px,#f28f00 107.5px,#f29000 167.5px)"></i>
<i style="background:linear-gradient(90deg,#f29000 0.5px,#f38d00 67.5px,#f77f00 75.5px,#fe6400 78.5px,#ff2b00 81.5px,#ff1600 83.5px,#ff1600 85.5px,#ff2b00 87.5px,#fe6400 90.5px,#f77f00 93.5px,#f38d00 101.5px,#f29000 167.5px)"></i>
<i style="background:linear-gradient(90deg,#f29000 0.5px,#f38d00 67.5px,#f68300 74.5px,#fa7200 77.5px,#ff5600 79.5px,#ff2200 82.5px,#ff1800 84.5px,#ff2200 86.5px,#ff4400 88.5px,#fd6600 90.5px,#f87a00 92.5px,#f48900 97.5px,#f29000 115.5px,#f29000 167.5px)"></i>
<i style="background:linear-gradient(90deg,#f29000 0.5px,#f38d00 67.5px,#f58300 74.5px,#fa7300 77.5px,#ff4900 80.5px,#ff2700 82.5px,#ff1e00 84.5px,#ff2700 86.5px,#fd6800 90.5px,#f68000 93.5px,#f38d00 101.5px,#f29000 167.5px)"></i>
<i style="background:linear-gradient(90deg,#f29000 0.5px,#f38d00 67.5px,#f68100 75.5px,#fc6b00 78.5px,#ff2f00 82.5px,#ff2600 83.5px,#ff2600 85.5px,#ff3d00 87.5px,#fc6a00 90.5px,#f68000 93.5px,#f38c00 100.5px,#f29000 136.5px,#f29000 167.5px)"></i>
<i style="background:linear-gradient(90deg,#f29000 0.5px,#f38d00 67.5px,#f68100 75.5px,#fb6d00 78.5px,#ff3700 82.5px,#ff2b00 84.5px,#ff3700 86.5px,#fc6d00 90.5px,#f68100 93.5px,#f38d00 102.5px,#f29000 167.5px)"></i>
<i style="background:linear-gradient(90deg,#f29000 0.5px,#f38d00 67.5px,#f68200 75.5px,#fb7000 78.5px,#ff4000 82.5px,#ff3500 84.5px,#ff4000 86.5px,#fb6f00 90.5px,#f68200 93.5px,#f28f00 106.5px,#f29000 167.5px)"></i>
<i style="background:linear-gradient(90deg,#f29000 0.5px,#f38d00 67.5px,#f68300 75.5px,#fa7200 78.5px,#ff4100 83.5px,#ff4100 85.5px,#fa7200 90.5px,#f68200 93.5px,#f28f00 106.5px,#f29000 167.5px)"></i>
<i style="background:linear-gradient(90deg,#f29000 0.5px,#f38d00 67.5px,#f58300 75.5px,#fc6d00 79.5px,#ff4a00 83.5px,#ff4a00 85.5px,#f87b00 91.5px,#f48800 96.5px,#f29000 114.5px,#f29000 167.5px)"></i>
<i style="background:linear-gradient(90deg,#f29000 0.5px,#f38d00 67.5px,#f68100 76.5px,#fd6800 80.5px,#ff5200 83.5px,#ff5200 85.5px,#f77c00 91.5px,#f48a00 97.5px,#f29000 121.5px,#f29000 167.5px)"></i>
<i style="background:linear-gradient(90deg,#f29000 0.5px,#f38d00 67.5px,#f68200 76.5px,#fe6400 81.5px,#ff5700 84.5px,#fe6300 87.5px,#f68100 92.5px,#f38d00 101.5px,#f29000 167.5px)"></i>
<i style="background:linear-gradient(90deg,#f29000 0.5px,#f38d00 68.5px,#f68200 76.5px,#fb6f00 80.5px,#ff5e00 83.5px,#ff6200 86.5px,#f68100 92.5px,#f38d00 101.5px,#f29000 167.5px)"></i>
<i style="background:linear-gradient(90deg,#f29000 0.5px,#f38d00 68.5px,#f68000 77.5px,#fe6300 83.5px,#fe6300 85.5px,#f68200 92.5px,#f28f00 105.5px,#f29000 167.5px)"></i>
<i style="background:linear-gradient(90deg,#f29000 0.5px,#f38d00 68.5px,#f68000 77.5px,#fd6600 83.5px,#fc6a00 85.5px,#fb7000 87.5px,#f48800 95.5px,#f29000 115.5px,#f29000 167.5px)"></i>
<i style="background:linear-gradient(90deg,#f29000 0.5px,#f38d00 68.5px,#f68100 77.5px,#fd6800 83.5px,#fc6a00 84.5px,#f58500 86.5px,#fa7400 88.5px,#f48800 95.5px,#f29000 115.5px,#f29000 167.5px)"></i>
<i style="background:linear-gradient(90deg,#f29000 0.5px,#f38d00 68.5px,#f68100 77.5px,#fd6900 83.5px,#fb7000 84.5px,#ef9300 85.5px,#dda400 86.5px,#f19100 87.5px,#f97700 88.5px,#f38b00 98.5px,#f29000 128.5px,#f29000 167.5px)"></i>
<i style="background:linear-gradient(90deg,#f29000 0.5px,#f38d00 68.5px,#f68100 77.5px,#fd6900 83.5px,#f97700 84.5px,#d7aa00 85.5px,#acca00 86.5px,#dea300 87.5px,#f87b00 88.5px,#f97600 89.5px,#f48800 95.5px,#f29000 115.5px,#f29000 167.5px)"></i>
<i style="background:linear-gradient(90deg,#f29000 0.5px,#f38d00 68.5px,#f68000 77.5px,#fd6800 83.5px,#f87c00 84.5px,#c3bc00 85.5px,#7ce700 86.5px,#d0b100 87.5px,#f77e00 88.5px,#f97500 89.5px,#f48700 95.5px,#f29000 113.5px,#f29000 167.5px)"></i>
<i style="background:linear-gradient(90deg,#f29000 0.5px,#f38d00 67.5px,#f68300 76.5px,#fe6500 83.5px,#f87900 84.5px,#c6bb00 85.5px,#7ee600 86.5px,#d2b000 87.5px,#f87b00 88.5px,#fa7300 89.5px,#f48700 95.5px,#f29000 113.5px,#f29000 167.5px)"></i>
<i style="background:linear-gradient(90deg,#f29000 0.5px,#f38d00 67.5px,#f68200 76.5px,#ff6200 83.5px,#fb6f00 84.5px,#dca600 85.5px,#b4c600 86.5px,#e39f00 87.5px,#f97500 88.5px,#fa7100 89.5px,#f48700 95.5px,#f29000 113.5px,#f29000 167.5px)"></i>
<i style="background:linear-gradient(90deg,#f29000 0.5px,#f38d00 67.5px,#f68100 76.5px,#ff5d00 83.5px,#fe6300 84.5px,#f48800 85.5px,#e59d00 86.5px,#f58500 87.5px,#fc6c00 88.5px,#f58400 94.5px,#f28f00 107.5px,#f29000 167.5px)"></i>
<i style="background:linear-gradient(90deg,#f29000 0.5px,#f38d00 67.5px,#f58400 75.5px,#fc6a00 80.5px,#ff5700 83.5px,#ff5800 84.5px,#fa7300 86.5px,#fe6500 88.5px,#f68100 93.5px,#f38d00 102.5px,#f29000 167.5px)"></i>
<i style="background:linear-gradient(90deg,#f29000 0.5px,#f38d00 67.5px,#f68300 75.5px,#fb6e00 79.5px,#ff5200 83.5px,#ff4f00 84.5px,#ff5f00 88.5px,#f87b00 92.5px,#f48a00 98.5px,#f29000 124.5px,#f29000 167.5px)"></i>
<i style="background:linear-gradient(90deg,#f29000 0.5px,#f38d00 67.5px,#f68200 75.5px,#fa7300 78.5px,#ff4b00 83.5px,#ff4900 85.5px,#ff5a00 88.5px,#f87a00 92.5px,#f48a00 98.5px,#f29000 124.5px,#f29000 167.5px)"></i>
<i style="background:linear-gradient(90deg,#f29000 0.5px,#f38d00 66.5px,#f68100 75.5px,#fa7100 78.5px,#ff4400 83.5px,#ff4100 85.5px,#ff5500 88.5px,#f87800 92.5px,#f58700 96.5px,#f29000 114.5px,#f29000 167.5px)"></i>
<i style="background:linear-gradient(90deg,#f29000 0.5px,#f38d00 66.5px,#f68100 75.5px,#fe6500 79.5px,#ff3d00 83.5px,#ff3900 85.5px,#ff4500 87.5px,#f97600 92.5px,#f58600 96.5px,#f29000 112.5px,#f29000 167.5px)"></i>
<i style="background:linear-gradient(90deg,#f29000 0.5px,#f38d00 66.5px,#f58300 74.5px,#f97500 77.5px,#ff4a00 81.5px,#ff3600 83.5px,#ff3100 85.5px,#ff3f00 87.5px,#fc6c00 91.5px,#f68000 94.5px,#f38c00 102.5px,#f29000 142.5px,#f29000 167.5px)"></i>
<i style="background:linear-gradient(90deg,#f29000 0.5px,#f38d00 66.5px,#f68300 74.5px,#fa7300 77.5px,#ff3800 82.5px,#ff2900 84.5px,#ff2f00 86.5px,#fc6a00 91.5px,#f77f00 94.5px,#f38b00 100.5px,#f29000 130.5px,#f29000 167.5px)"></i>
<i style="background:linear-gradient(90deg,#f29000 0.5px,#f38d00 66.5px,#f68200 74.5px,#fa7100 77.5px,#ff4d00 80.5px,#ff2700 83.5px,#ff2700 86.5px,#fd6700 91.5px,#f77e00 94.5px,#f48a00 100.5px,#f29000 124.5px,#f29000 167.5px)"></i>
<i style="background:linear-gradient(90deg,#f29000 0.5px,#f38d00 65.5px,#f68200 74.5px,#fb6f00 77.5px,#ff4800 80.5px,#ff2b00 82.5px,#ff1f00 84.5px,#ff2300 86.5px,#ff3900 88.5px,#fe6500 91.5px,#f77d00 94.5px,#f48900 99.5px,#f29000 120.5px,#f29000 167.5px)"></i>
<i style="background:linear-gradient(90deg,#f29000 0.5px,#f38d00 65.5px,#f68100 74.5px,#fb6e00 77.5px,#ff2600 82.5px,#ff1b00 84.5px,#ff1f00 86.5px,#ff2600 87.5px,#fb6e00 92.5px,#f68100 95.5px,#f38d00 104.5px,#f29000 167.5px)"></i>
<i style="background:linear-gradient(90deg,#f29000 0.5px,#f38d00 65.5px,#f68100 74.5px,#fc6c00 77.5px,#ff4000 80.5px,#ff2200 82.5px,#ff1600 84.5px,#ff1b00 86.5px,#ff2f00 88.5px,#ff6000 91.5px,#f77c00 94.5px,#f48900 99.5px,#f29000 120.5px,#f29000 167.5px)"></i>
<i style="background:linear-gradient(90deg,#f29000 0.5px,#f38d00 65.5px,#f58300 73.5px,#f97400 76.5px,#ff5e00 78.5px,#ff2b00 81.5px,#ff1700 83.5px,#ff1300 85.5px,#ff1f00 87.5px,#ff3d00 89.5px,#fc6b00 92.5px,#f68000 95.5px,#f38c00 103.5px,#f29000 143.5px,#f29000 167.5px)"></i>
<i style="background:linear-gradient(90deg,#f29000 0.5px,#f38d00 65.5px,#f58300 73.5px,#fa7400 76.5px,#ff5c00 78.5px,#ff2700 81.5px,#ff1400 83.5px,#ff0f00 85.5px,#ff2700 88.5px,#ff5c00 91.5px,#fa7400 93.5px,#f58600 97.5px,#f29000 114.5px,#f29000 167.5px)"></i>
<i style="background:linear-gradient(90deg,#f29000 0.5px,#f38d00 65.5px,#f68300 73.5px,#fa7300 76.5px,#ff5b00 78.5px,#ff2500 81.5px,#ff1100 83.5px,#ff0d00 85.5px,#ff1a00 87.5px,#ff2500 88.5px,#fd6900 92.5px,#f67f00 95.5px,#f38b00 101.5px,#f29000 131.5px,#f29000 167.5px)"></i>
<i style="background:linear-gradient(90deg,#f29000 0.5px,#f38d00 65.5px,#f68300 73.5px,#fa7200 76.5px,#ff5a00 78.5px,#ff2400 81.5px,#ff0f00 83.5px,#ff0a00 85.5px,#ff1800 87.5px,#ff3500 89.5px,#fd6800 92.5px,#f77f00 95.5px,#f38b00 102.5px,#f29000 129.5px,#f29000 167.5px)"></i>
<i style="background:linear-gradient(90deg,#f29000 0.5px,#f38d00 65.5px,#f68300 73.5px,#fa7200 76.5px,#ff4800 79.5px,#ff2300 81.5px,#ff0e00 83.5px,#ff0900 85.5px,#ff1700 87.5px,#ff3400 89.5px,#fd6700 92.5px,#f77f00 95.5px,#f38b00 102.5px,#f29000 129.5px,#f29000 167.5px)"></i>
<i style="height:2px;background:linear-gradient(90deg,#f29000 0.5px,#f38d00 65.5px,#f68300 73.5px,#fa7200 76.5px,#ff5900 78.5px,#ff2200 81.5px,#ff0d00 83.5px,#ff0800 85.5px,#ff1600 87.5px,#ff3300 89.5px,#ff5900 91.5px,#f87a00 94.5px,#f48700 98.5px,#f29000 116.5px,#f29000 167.5px)"></i>
<i style="background:linear-gradient(90deg,#f29000 0.5px,#f38d00 65.5px,#f68300 73.5px,#fa7200 76.5px,#ff4800 79.5px,#ff2300 81.5px,#ff0e00 83.5px,#ff0900 85.5px,#ff1700 87.5px,#ff3400 89.5px,#fd6700 92.5px,#f77f00 95.5px,#f38b00 102.5px,#f29000 129.5px,#f29000 167.5px)"></i>
<i style="background:linear-gradient(90deg,#f29000 0.5px,#f38d00 65.5px,#f68300 73.5px,#fa7200 76.5px,#ff5a00 78.5px,#ff2400 81.5px,#ff0f00 83.5px,#ff0a00 85.5px,#ff1800 87.5px,#ff3500 89.5px,#fd6800 92.5px,#f77f00 95.5px,#f38b00 102.5px,#f29000 129.5px,#f29000 167.5px)"></i>
<i style="background:linear-gradient(90deg,#f29000 0.5px,#f38d00 65.5px,#f68300 73.5px,#fa7300 76.5px,#ff5b00 78.5px,#ff2500 81.5px,#ff1100 83.5px,#ff0d00 85.5px,#ff1a00 87.5px,#ff2500 88.5px,#fd6900 92.5px,#f68000 95.5px,#f38c00 103.5px,#f29000 143.5px,#f29000 167.5px)"></i>
<i style="background:linear-gradient(90deg,#f29000 0.5px,#f38d00 65.5px,#f58300 73.5px,#fa7400 76.5px,#ff5d00 78.5px,#ff2700 81.5px,#ff1400 83.5px,#ff0f00 85.5px,#ff2700 88.5px,#ff5d00 91.5px,#f87b00 94.5px,#f48900 99.5px,#f29000 120.5px,#f29000 167.5px)"></i>
<i style="background:linear-gradient(90deg,#f29000 0.5px,#f38d00 65.5px,#f58400 73.5px,#f97500 76.5px,#ff4f00 79.5px,#ff2b00 81.5px,#ff1700 83.5px,#ff1300 85.5px,#ff1f00 87.5px,#ff3d00 89.5px,#fc6b00 92.5px,#f68000 95.5px,#f38c00 102.5px,#f29000 146.5px,#f29000 167.5px)"></i>
<i style="background:linear-gradient(90deg,#f29000 0.5px,#f38d00 65.5px,#f68100 74.5px,#fc6c00 77.5px,#ff4100 80.5px,#ff2300 82.5px,#ff1700 84.5px,#ff1b00 86.5px,#ff2f00 88.5px,#ff6000 91.5px,#f97600 93.5px,#f58600 97.5px,#f29000 113.5px,#f29000 167.5px)"></i>
<i style="background:linear-gradient(90deg,#f29000 0.5px,#f38d00 65.5px,#f68100 74.5px,#fb6e00 77.5px,#ff4500 80.5px,#ff2600 82.5px,#ff1b00 84.5px,#ff1f00 86.5px,#ff2600 87.5px,#fe6300 91.5px,#f77d00 94.5px,#f38b00 101.5px,#f29000 128.5px,#f29000 167.5px)"></i>
<i style="background:linear-gradient(90deg,#f29000 0.5px,#f38d00 66.5px,#f68200 74.5px,#fb7000 77.5px,#ff3a00 81.5px,#ff2b00 82.5px,#ff2000 84.5px,#ff2300 86.5px,#ff2b00 87.5px,#fe6500 91.5px,#f77e00 94.5px,#f48a00 100.5px,#f29000 124.5px,#f29000 167.5px)"></i>
<i style="background:linear-gradient(90deg,#f29000 0.5px,#f38d00 66.5px,#f68200 74.5px,#fa7100 77.5px,#ff4d00 80.5px,#ff2800 83.5px,#ff2400 85.5px,#ff3200 87.5px,#fd6800 91.5px,#f77f00 94.5px,#f38b00 101.5px,#f29000 128.5px,#f29000 167.5px)"></i>
<i style="background:linear-gradient(90deg,#f29000 0.5px,#f38d00 66.5px,#f58300 74.5px,#fa7300 77.5px,#ff4500 81.5px,#ff2f00 83.5px,#ff2a00 85.5px,#ff3900 87.5px,#fc6a00 91.5px,#f68000 94.5px,#f38c00 102.5px,#f29000 142.5px,#f29000 167.5px)"></i>
<i style="background:linear-gradient(90deg,#f29000 0.5px,#f38d00 66.5px,#f58400 74.5px,#f97500 77.5px,#ff4b00 81.5px,#ff3700 83.5px,#ff3300 85.5px,#ff4000 87.5px,#fc6d00 91.5px,#f68000 94.5px,#f38c00 101.5px,#f29000 145.5px,#f29000 167.5px)"></i>
<i style="background:linear-gradient(90deg,#f29000 0.5px,#f38d00 67.5px,#f68100 75.5px,#fb7000 78.5px,#ff3f00 83.5px,#ff3b00 85.5px,#ff4700 87.5px,#f97700 92.5px,#f58700 96.5px,#f29000 114.5px,#f29000 167.5px)"></i>
<i style="background:linear-gradient(90deg,#f29000 0.5px,#f38d00 67.5px,#f68200 75.5px,#fc6a00 79.5px,#ff4600 83.5px,#ff4600 86.5px,#fa7200 91.5px,#f58500 95.5px,#f28f00 108.5px,#f29000 167.5px)"></i>
<i style="background:linear-gradient(90deg,#f29000 0.5px,#f38d00 67.5px,#f58300 75.5px,#fb6d00 79.5px,#ff4e00 83.5px,#ff4a00 85.5px,#ff5c00 88.5px,#f87b00 92.5px,#f48900 97.5px,#f29000 120.5px,#f29000 167.5px)"></i>
<i style="background:linear-gradient(90deg,#f29000 0.5px,#f38d00 67.5px,#f58400 75.5px,#fb7100 79.5px,#ff5500 83.5px,#ff5500 86.5px,#f68100 93.5px,#f38c00 100.5px,#f29000 144.5px,#f29000 167.5px)"></i>
<i style="background:linear-gradient(90deg,#f29000 0.5px,#f38d00 68.5px,#f68200 76.5px,#fd6700 81.5px,#ff5900 84.5px,#ff6000 87.5px,#f77f00 92.5px,#f38b00 98.5px,#f29000 130.5px,#f29000 167.5px)"></i>
<i style="background:linear-gradient(90deg,#f29000 0.5px,#f38d00 68.5px,#f58400 76.5px,#ff6100 84.5px,#fd6700 87.5px,#f58400 93.5px,#f28f00 106.5px,#f29000 167.5px)"></i>
<i style="background:linear-gradient(90deg,#f29000 0.5px,#f38d00 69.5px,#f68200 77.5px,#fc6c00 84.5px,#fa7200 88.5px,#f48700 94.5px,#f29000 112.5px,#f29000 167.5px)"></i>
<i style="background:linear-gradient(90deg,#f29000 0.5px,#f38d00 69.5px,#f68100 78.5px,#f87900 88.5px,#f38b00 97.5px,#f29000 129.5px,#f29000 167.5px)"></i>
<i style="background:linear-gradient(90deg,#f29000 0.5px,#f38d00 70.5px,#f58600 79.5px,#ed9500 84.5px,#f68200 89.5px,#f28e00 103.5px,#f29000 167.5px)"></i>
<i style="background:linear-gradient(90deg,#f29000 0.5px,#f38d00 70.5px,#f48a00 78.5px,#e59d00 81.5px,#d4ad00 83.5px,#d1b000 84.5px,#dda500 86.5px,#ef9300 88.5px,#f48700 90.5px,#f29000 114.5px,#f29000 167.5px)"></i>
<i style="background:linear-gradient(90deg,#f29000 0.5px,#f38d00 71.5px,#f38c00 77.5px,#eb9700 79.5px,#cfb200 81.5px,#a1d100 83.5px,#98d600 84.5px,#a2d100 85.5px,#d1b100 87.5px,#ec9500 89.5px,#f48a00 91.5px,#f29000 127.5px,#f29000 167.5px)"></i>
<i style="background:linear-gradient(90deg,#f29000 0.5px,#f38d00 71.5px,#f38c00 76.5px,#ed9500 78.5px,#e2a000 79.5px,#cfb200 80.5px,#abcb00 81.5px,#7fe500 82.5px,#60f800 83.5px,#53fa0d 84.5px,#61f700 85.5px,#80e500 86.5px,#adca00 87.5px,#d1b000 88.5px,#e39e00 89.5px,#f38e00 91.5px,#f38b00 95.5px,#f29000 130.5px,#f29000 167.5px)"></i>
<i style="background:linear-gradient(90deg,#f29000 0.5px,#f38d00 72.5px,#f38d00 76.5px,#e99900 78.5px,#daa800 79.5px,#bcc000 80.5px,#85e200 81.5px,#4efb12 82.5px,#22fb42 83.5px,#15f754 84.5px,#23fb42 85.5px,#4ffa11 86.5px,#86e100 87.5px,#bebf00 88.5px,#dba700 89.5px,#ea9800 90.5px,#f38c00 92.5px,#f29000 156.5px,#f29000 167.5px)"></i>
<i style="background:linear-gradient(90deg,#f29000 0.5px,#f38d00 73.5px,#ef9300 77.5px,#e69c00 78.5px,#d4ad00 79.5px,#adca00 80.5px,#70ef00 81.5px,#2cfe35 82.5px,#04f16a 83.5px,#00e37f 84.5px,#05f16a 85.5px,#2dfe34 86.5px,#71ee00 87.5px,#aec900 88.5px,#d5ac00 89.5px,#e79b00 90.5px,#f38e00 92.5px,#f29000 167.5px)"></i>
<i style="background:linear-gradient(90deg,#f29000 0.5px,#f28f00 76.5px,#ef9300 77.5px,#e59c00 78.5px,#d3ae00 79.5px,#a9cc00 80.5px,#6cf100 81.5px,#27fc3b 82.5px,#00ed74 83.5px,#00da8a 84.5px,#00ed73 85.5px,#28fd3b 86.5px,#6df000 87.5px,#abcb00 88.5px,#d4ad00 89.5px,#e69c00 90.5px,#f28e00 92.5px,#f29000 167.5px)"></i>
<i style="background:linear-gradient(90deg,#f29000 0.5px,#f29000 76.5px,#e59d00 78.5px,#d2af00 79.5px,#a8cd00 80.5px,#6af200 81.5px,#25fc3e 82.5px,#00e77a 83.5px,#00d294 84.5px,#00e87a 85.5px,#26fc3e 86.5px,#6bf100 87.5px,#a9cc00 88.5px,#d3ae00 89.5px,#e59c00 90.5px,#ef9300 91.5px,#f38d00 95.5px,#f29000 167.5px)"></i>
<i style="background:linear-gradient(90deg,#f29000 0.5px,#f29000 76.5px,#e49d00 78.5px,#d2af00 79.5px,#a7cd00 80.5px,#69f300 81.5px,#22fb42 82.5px,#00de86 83.5px,#00c5a3 84.5px,#00de86 85.5px,#23fb42 86.5px,#6af200 87.5px,#a8cd00 88.5px,#d2af00 89.5px,#e59d00 90.5px,#f29000 92.5px,#f29000 116.5px,#f29000 167.5px)"></i>
<i style="background:linear-gradient(90deg,#f29000 0.5px,#f29000 76.5px,#e49e00 78.5px,#d1b000 79.5px,#a6ce00 80.5px,#68f300 81.5px,#1ef948 82.5px,#00ce98 83.5px,#00b2b0 84.5px,#00cf98 85.5px,#1ef948 86.5px,#68f300 87.5px,#a7cd00 88.5px,#d2af00 89.5px,#e49d00 90.5px,#f29000 92.5px,#f29000 116.5px,#f29000 167.5px)"></i>
<i style="background:linear-gradient(90deg,#f29000 0.5px,#f19100 76.5px,#e49e00 78.5px,#d1b000 79.5px,#a5ce00 80.5px,#66f400 81.5px,#19f84f 82.5px,#00bea8 83.5px,#009ec9 84.5px,#00bea8 85.5px,#19f84e 86.5px,#67f400 87.5px,#a6ce00 88.5px,#d1b000 89.5px,#e49e00 90.5px,#f29000 92.5px,#f29000 167.5px)"></i>
<i style="background:linear-gradient(90deg,#f29000 0.5px,#f19100 76.5px,#e39e00 78.5px,#d1b100 79.5px,#a5cf00 80.5px,#65f500 81.5px,#14f655 82.5px,#00aeb3 83.5px,#0089e7 84.5px,#00aeb3 85.5px,#14f655 86.5px,#65f500 87.5px,#a5cf00 88.5px,#d1b000 89.5px,#e49e00 90.5px,#f19100 92.5px,#f29000 167.5px)"></i>
<i style="background:linear-gradient(90deg,#f29000 0.5px,#f19100 76.5px,#e39f00 78.5px,#d0b100 79.5px,#a4cf00 80.5px,#64f600 81.5px,#11f55a 82.5px,#00a5bc 83.5px,#0073fc 84.5px,#00a5bc 85.5px,#11f55a 86.5px,#64f500 87.5px,#a4cf00 88.5px,#d1b100 89.5px,#e39e00 90.5px,#f19100 92.5px,#f29000 167.5px)"></i>
<i style="background:linear-gradient(90deg,#f29000 0.5px,#f19100 76.5px,#e39f00 78.5px,#d0b100 79.5px,#a3cf00 80.5px,#64f600 81.5px,#10f55b 82.5px,#00a5bd 83.5px,#0072fd 84.5px,#00a5bd 85.5px,#10f55a 86.5px,#64f600 87.5px,#a4cf00 88.5px,#d0b100 89.5px,#e39f00 90.5px,#f19100 92.5px,#f29000 167.5px)"></i>
<i style="background:linear-gradient(90deg,#f29000 0.5px,#f19100 76.5px,#e39f00 78.5px,#d0b100 79.5px,#a3d000 80.5px,#63f600 81.5px,#13f657 82.5px,#00adb4 83.5px,#0087e9 84.5px,#00adb4 85.5px,#13f657 86.5px,#64f600 87.5px,#a3d000 88.5px,#d0b100 89.5px,#e39f00 90.5px,#f19100 92.5px,#f29000 167.5px)"></i>
<i style="background:linear-gradient(90deg,#f29000 0.5px,#f09100 76.5px,#e29f00 78.5px,#d0b200 79.5px,#a3d000 80.5px,#64f600 81.5px,#17f752 82.5px,#00bba9 83.5px,#009ccc 84.5px,#00bba9 85.5px,#17f752 86.5px,#64f600 87.5px,#a3d000 88.5px,#d0b100 89.5px,#e39f00 90.5px,#f19100 92.5px,#f29000 167.5px)"></i>
<i style="background:linear-gradient(90deg,#f29000 0.5px,#f09200 76.5px,#e29f00 78.5px,#cfb200 79.5px,#a2d000 80.5px,#64f600 81.5px,#1bf84c 82.5px,#00ca9d 83.5px,#00afb3 84.5px,#00ca9d 85.5px,#1bf84c 86.5px,#64f600 87.5px,#a3d000 88.5px,#d0b200 89.5px,#e29f00 90.5px,#f09200 92.5px,#f29000 167.5px)"></i>
<i style="background:linear-gradient(90deg,#f29000 0.5px,#f09200 76.5px,#e29f00 78.5px,#cfb200 79.5px,#a2d000 80.5px,#64f600 81.5px,#1ef948 82.5px,#00d88d 83.5px,#00c0a6 84.5px,#00d88d 85.5px,#1ef948 86.5px,#64f500 87.5px,#a2d000 88.5px,#cfb200 89.5px,#e29f00 90.5px,#f09200 92.5px,#f29000 167.5px)"></i>
<i style="background:linear-gradient(90deg,#f29000 0.5px,#f09200 76.5px,#e29f00 78.5px,#d0b100 79.5px,#a4cf00 80.5px,#67f400 81.5px,#21fa43 82.5px,#00e084 83.5px,#00c8a0 84.5px,#00e084 85.5px,#22fa43 86.5px,#67f400 87.5px,#a4cf00 88.5px,#d0b100 89.5px,#e29f00 90.5px,#f09200 92.5px,#f29000 167.5px)"></i>
<i style="background:linear-gradient(90deg,#f29000 0.5px,#f09200 76.5px,#e49d00 78.5px,#d4ad00 79.5px,#b1c700 80.5px,#79e900 81.5px,#34fe2c 82.5px,#00ea77 83.5px,#00c99e 84.5px,#00ea77 85.5px,#35fe2b 86.5px,#79e900 87.5px,#b2c700 88.5px,#d4ad00 89.5px,#e49d00 90.5px,#f09100 92.5px,#f29000 167.5px)"></i>
<i style="background:linear-gradient(90deg,#f29000 0.5px,#f19100 76.5px,#e89a00 78.5px,#dba600 79.5px,#c8b900 80.5px,#99d600 81.5px,#5bf905 82.5px,#04f16b 83.5px,#00c2a4 84.5px,#04f16b 85.5px,#5bf905 86.5px,#99d600 87.5px,#c8b900 88.5px,#dca600 89.5px,#ee9400 91.5px,#f29000 99.5px,#f29000 167.5px)"></i>
<i style="background:linear-gradient(90deg,#f29000 0.5px,#f09200 77.5px,#e39e00 79.5px,#d6ab00 80.5px,#c0be00 81.5px,#89df00 82.5px,#2dfe34 83.5px,#00ee72 84.5px,#2dfe34 85.5px,#89e000 86.5px,#c0be00 87.5px,#d6ab00 88.5px,#eb9600 90.5px,#f29000 93.5px,#f29000 167.5px)"></i>
<i style="background:linear-gradient(90deg,#f29000 0.5px,#f19100 77.5px,#e2a000 80.5px,#d6ab00 81.5px,#b7c400 82.5px,#65f500 83.5px,#29fd39 84.5px,#63f600 85.5px,#b6c400 86.5px,#d6ab00 87.5px,#ea9800 89.5px,#f29000 93.5px,#f29000 167.5px)"></i>
<i style="background:linear-gradient(90deg,#f29000 0.5px,#f09200 78.5px,#e39e00 81.5px,#d0b100 82.5px,#86e100 83.5px,#4ffa11 84.5px,#83e300 85.5px,#cfb200 86.5px,#e39e00 87.5px,#f09200 90.5px,#f29000 167.5px)"></i>
<i style="background:linear-gradient(90deg,#f29000 0.5px,#ef9300 80.5px,#eb9700 81.5px,#dba700 82.5px,#9bd400 83.5px,#65f500 84.5px,#96d700 85.5px,#d9a800 86.5px,#eb9700 87.5px,#f29000 94.5px,#f29000 167.5px)"></i>
<i style="background:linear-gradient(90deg,#f29000 0.5px,#f19100 80.5px,#ee9300 81.5px,#e0a200 82.5px,#a6ce00 83.5px,#6fef00 84.5px,#a0d200 85.5px,#dea400 86.5px,#ee9400 87.5px,#f29000 95.5px,#f29000 167.5px)"></i>
<i style="background:linear-gradient(90deg,#f29000 0.5px,#f09200 81.5px,#e29f00 82.5px,#abcb00 83.5px,#73ed00 84.5px,#a3d000 85.5px,#e0a200 86.5px,#f09200 87.5px,#f29000 167.5px)"></i>
<i style="background:linear-gradient(90deg,#f29000 0.5px,#f09200 81.5px,#e39e00 82.5px,#adc900 83.5px,#74ec00 84.5px,#a4cf00 85.5px,#e0a100 86.5px,#f09200 87.5px,#f29000 167.5px)"></i>
<i style="background:linear-gradient(90deg,#f29000 0.5px,#f19100 81.5px,#e49e00 82.5px,#afc900 83.5px,#74ec00 84.5px,#a3cf00 85.5px,#e0a200 86.5px,#f09200 87.5px,#f29000 167.5px)"></i>
<i style="background:linear-gradient(90deg,#f29000 0.5px,#f19100 81.5px,#e49e00 82.5px,#74ec00 84.5px,#a3d000 85.5px,#e0a200 86.5px,#f09200 87.5px,#f29000 167.5px)"></i>
<i style="background:linear-gradient(90deg,#f29000 0.5px,#f19100 81.5px,#e49e00 82.5px,#b0c800 83.5px,#74ec00 84.5px,#a2d000 85.5px,#dfa200 86.5px,#f09200 87.5px,#f29000 167.5px)"></i>
<i style="background:linear-gradient(90deg,#f29000 0.5px,#f09100 81.5px,#e49e00 82.5px,#b1c800 83.5px,#74ec00 84.5px,#a1d100 85.5px,#dfa200 86.5px,#f09200 87.5px,#f29000 167.5px)"></i>
<i style="background:linear-gradient(90deg,#f29000 0.5px,#f09200 81.5px,#e49e00 82.5px,#b1c700 83.5px,#74ec00 84.5px,#a0d200 85.5px,#dfa300 86.5px,#ef9200 87.5px,#f29000 167.5px)"></i>
<i style="background:linear-gradient(90deg,#f29000 0.5px,#f09200 81.5px,#e59d00 82.5px,#b9c200 83.5px,#81e400 84.5px,#aacc00 85.5px,#e0a200 86.5px,#ef9300 87.5px,#f29000 167.5px)"></i>
<i style="background:linear-gradient(90deg,#f29000 0.5px,#ef9300 81.5px,#ea9800 82.5px,#ccb500 84.5px,#d7aa00 85.5px,#e99900 86.5px,#f19100 88.5px,#f29000 167.5px)"></i>
<i style="background:linear-gradient(90deg,#f29000 0.5px,#ef9300 78.5px,#e99900 85.5px,#f19100 90.5px,#f29000 167.5px)"></i>
<i style="background:linear-gradient(90deg,#f29000 0.5px,#f09200 76.5px,#e79b00 84.5px,#f29000 95.5px,#f29000 167.5px)"></i>
<i style="background:linear-gradient(90deg,#f29000 0.5px,#ef9300 75.5px,#dea300 83.5px,#f19100 93.5px,#f29000 167.5px)"></i>
<i style="background:linear-gradient(90deg,#f29000 0.5px,#ef9300 74.5px,#e29f00 78.5px,#d2af00 82.5px,#d6ab00 85.5px,#ee9400 91.5px,#f29000 107.5px,#f29000 167.5px)"></i>
<i style="background:linear-gradient(90deg,#f29000 0.5px,#f09200 73.5px,#e1a100 77.5px,#bbc100 82.5px,#bec000 84.5px,#e89a00 90.5px,#f29000 95.5px,#f29000 167.5px)"></i>
<i style="background:linear-gradient(90deg,#f29000 0.5px,#ef9300 73.5px,#e1a100 76.5px,#c0be00 79.5px,#9fd200 81.5px,#95d800 82.5px,#92da00 83.5px,#a4cf00 85.5px,#c7ba00 87.5px,#e49e00 90.5px,#f19100 94.5px,#f29000 167.5px)"></i>
<i style="background:linear-gradient(90deg,#f29000 0.5px,#f09200 72.5px,#e39e00 75.5px,#cfb200 77.5px,#bdc000 78.5px,#8adf00 80.5px,#77ea00 81.5px,#6bf100 82.5px,#69f300 83.5px,#70ef00 84.5px,#7ee600 85.5px,#c6ba00 88.5px,#dea300 90.5px,#ee9400 93.5px,#f29000 105.5px,#f29000 167.5px)"></i>
<i style="background:linear-gradient(90deg,#f29000 0.5px,#ef9300 72.5px,#dfa300 75.5px,#c3bc00 77.5px,#69f300 80.5px,#4efb12 81.5px,#3bfd25 82.5px,#36fe2a 83.5px,#42fc1e 84.5px,#59f907 85.5px,#74ec00 86.5px,#b2c700 88.5px,#cbb600 89.5px,#e29f00 91.5px,#f09200 94.5px,#f29000 167.5px)"></i>
<i style="background:linear-gradient(90deg,#f29000 0.5px,#f09200 71.5px,#e49d00 74.5px,#cdb400 76.5px,#b3c600 77.5px,#6cf100 79.5px,#45fc1b 80.5px,#26fc3e 81.5px,#14f655 82.5px,#11f559 83.5px,#1cf94b 84.5px,#30ff30 85.5px,#56f90a 86.5px,#7ae900 87.5px,#c0be00 89.5px,#d3ae00 90.5px,#e79b00 92.5px,#f19100 96.5px,#f29000 167.5px)"></i>
<i style="background:linear-gradient(90deg,#f29000 0.5px,#f09200 71.5px,#e39f00 74.5px,#c8b900 76.5px,#a7cd00 77.5px,#7fe500 78.5px,#57f909 79.5px,#2afd38 80.5px,#0cf460 81.5px,#00e57d 82.5px,#00e182 83.5px,#01f06f 84.5px,#1af84e 85.5px,#3bfd25 86.5px,#68f300 87.5px,#b6c400 89.5px,#cfb200 90.5px,#e69c00 92.5px,#f09200 95.5px,#f29000 167.5px)"></i>
<i style="background:linear-gradient(90deg,#f29000 0.5px,#f09200 71.5px,#e2a000 74.5px,#c5bb00 76.5px,#77ea00 78.5px,#4afb16 79.5px,#1ef948 80.5px,#00ea77 81.5px,#00cd9b 82.5px,#00c8a0 83.5px,#00dd87 84.5px,#0cf460 85.5px,#2efe33 86.5px,#5ff801 87.5px,#b0c800 89.5px,#cdb400 90.5px,#e59d00 92.5px,#f09200 95.5px,#f29000 167.5px)"></i>
<i style="background:linear-gradient(90deg,#f29000 0.5px,#f09200 71.5px,#e1a000 74.5px,#d6ab00 75.5px,#c4bc00 76.5px,#76eb00 78.5px,#48fb18 79.5px,#1bf84c 80.5px,#00e181 81.5px,#00c0a6 82.5px,#00bca9 83.5px,#00d492 84.5px,#09f364 85.5px,#2cfe36 86.5px,#5df803 87.5px,#afc900 89.5px,#ccb500 90.5px,#e59d00 92.5px,#f19100 96.5px,#f29000 167.5px)"></i>
<i style="background:linear-gradient(90deg,#f29000 0.5px,#f09200 71.5px,#e2a000 74.5px,#c4bc00 76.5px,#77ea00 78.5px,#48fb18 79.5px,#19f84f 80.5px,#00d98c 81.5px,#00b2b0 82.5px,#00aeb3 83.5px,#00ca9d 84.5px,#06f268 85.5px,#2bfd37 86.5px,#5cf904 87.5px,#aec900 89.5px,#ccb500 90.5px,#e59d00 92.5px,#f19100 96.5px,#f29000 167.5px)"></i>
<i style="background:linear-gradient(90deg,#f29000 0.5px,#f09200 71.5px,#e2a000 74.5px,#c5bb00 76.5px,#77ea00 78.5px,#48fb18 79.5px,#17f752 80.5px,#00ce98 81.5px,#00a4be 82.5px,#00a1c3 83.5px,#00c1a5 84.5px,#03f16c 85.5px,#2afd38 86.5px,#5cf904 87.5px,#aec900 89.5px,#ccb500 90.5px,#e59d00 92.5px,#f19100 96.5px,#f29000 167.5px)"></i>
<i style="background:linear-gradient(90deg,#f29000 0.5px,#f09200 71.5px,#e2a000 74.5px,#c5bb00 76.5px,#78ea00 78.5px,#48fb18 79.5px,#14f655 80.5px,#00c5a2 81.5px,#0099d1 82.5px,#0096d6 83.5px,#00b9ab 84.5px,#00f070 85.5px,#2afd39 86.5px,#5bf905 87.5px,#aec900 89.5px,#ccb500 90.5px,#e59d00 92.5px,#f19100 96.5px,#f29000 167.5px)"></i>
<i style="background:linear-gradient(90deg,#f29000 0.5px,#f09200 71.5px,#e2a000 74.5px,#c6bb00 76.5px,#78ea00 78.5px,#48fb18 79.5px,#12f657 80.5px,#00bfa7 81.5px,#0090e0 82.5px,#008ae6 83.5px,#00b2b0 84.5px,#00ed73 85.5px,#29fd3a 86.5px,#5af906 87.5px,#adca00 89.5px,#ccb500 90.5px,#e49d00 92.5px,#f09200 95.5px,#f29000 167.5px)"></i>
<i style="background:linear-gradient(90deg,#f29000 0.5px,#f09200 71.5px,#e2a000 74.5px,#c6bb00 76.5px,#78e900 78.5px,#48fb18 79.5px,#11f559 80.5px,#00bbaa 81.5px,#0086ea 82.5px,#007ff0 83.5px,#00aeb3 84.5px,#00ec75 85.5px,#28fd3a 86.5px,#5af906 87.5px,#adca00 89.5px,#cbb600 90.5px,#e49d00 92.5px,#f09200 95.5px,#f29000 167.5px)"></i>
<i style="background:linear-gradient(90deg,#f29000 0.5px,#f09200 71.5px,#e2a000 74.5px,#c6ba00 76.5px,#79e900 78.5px,#49fb17 79.5px,#12f658 80.5px,#00bba9 81.5px,#0086ea 82.5px,#007ff0 83.5px,#00aeb3 84.5px,#00eb76 85.5px,#28fc3b 86.5px,#59f907 87.5px,#83e300 88.5px,#acca00 89.5px,#cbb600 90.5px,#e49d00 92.5px,#f09200 95.5px,#f29000 167.5px)"></i>
<i style="background:linear-gradient(90deg,#f29000 0.5px,#f09200 71.5px,#e29f00 74.5px,#c7ba00 76.5px,#79e900 78.5px,#4afb16 79.5px,#13f656 80.5px,#00bfa6 81.5px,#0090df 82.5px,#0089e6 83.5px,#00b2b1 84.5px,#00ec74 85.5px,#28fc3b 86.5px,#59f907 87.5px,#83e300 88.5px,#acca00 89.5px,#cbb600 90.5px,#e49e00 92.5px,#f09200 95.5px,#f29000 167.5px)"></i>
<i style="background:linear-gradient(90deg,#f29000 0.5px,#f09200 71.5px,#e29f00 74.5px,#c7ba00 76.5px,#7ae900 78.5px,#4bfb15 79.5px,#16f753 80.5px,#00c6a1 81.5px,#009ad0 82.5px,#0096d6 83.5px,#00b8ac 84.5px,#00ee72 85.5px,#28fc3b 86.5px,#58f908 87.5px,#82e300 88.5px,#accb00 89.5px,#cbb600 90.5px,#e49e00 92.5px,#f09200 95.5px,#f29000 167.5px)"></i>
<i style="background:linear-gradient(90deg,#f29000 0.5px,#f09200 71.5px,#e29f00 74.5px,#c7ba00 76.5px,#a4cf00 77.5px,#7ae800 78.5px,#4cfb14 79.5px,#19f84f 80.5px,#00d096 81.5px,#00a5bd 82.5px,#00a1c3 83.5px,#00c0a6 84.5px,#01f06f 85.5px,#28fc3b 86.5px,#58f908 87.5px,#82e400 88.5px,#abcb00 89.5px,#cbb600 90.5px,#e49e00 92.5px,#f09200 95.5px,#f29000 167.5px)"></i>
<i style="background:linear-gradient(90deg,#f29000 0.5px,#f09200 71.5px,#e29f00 74.5px,#c7ba00 76.5px,#7be800 78.5px,#4dfb13 79.5px,#1cf94b 80.5px,#00db89 81.5px,#00b4af 82.5px,#00aeb3 83.5px,#00c89f 84.5px,#03f16b 85.5px,#28fc3b 86.5px,#57f909 87.5px,#82e400 88.5px,#abcb00 89.5px,#cab700 90.5px,#e49e00 92.5px,#f09200 95.5px,#f29000 167.5px)"></i>
<i style="background:linear-gradient(90deg,#f29000 0.5px,#f09200 71.5px,#e39f00 74.5px,#c8b900 76.5px,#7be800 78.5px,#4efb12 79.5px,#1ffa47 80.5px,#00e57e 81.5px,#00c1a5 82.5px,#00bca9 83.5px,#00d195 84.5px,#06f269 85.5px,#28fc3b 86.5px,#57f909 87.5px,#81e400 88.5px,#aacb00 89.5px,#cab700 90.5px,#e49e00 92.5px,#f09200 95.5px,#f29000 167.5px)"></i>
<i style="background:linear-gradient(90deg,#f29000 0.5px,#f09200 71.5px,#e39f00 74.5px,#c8b900 76.5px,#7ce700 78.5px,#4ffa11 79.5px,#21fa44 80.5px,#00ec75 81.5px,#00cc9b 82.5px,#00c6a2 83.5px,#00d88c 84.5px,#07f267 85.5px,#28fc3b 86.5px,#56f90a 87.5px,#81e400 88.5px,#aacc00 89.5px,#cab700 90.5px,#e49e00 92.5px,#f09200 95.5px,#f29000 167.5px)"></i>
<i style="background:linear-gradient(90deg,#f29000 0.5px,#f09200 71.5px,#e39f00 74.5px,#c8b900 76.5px,#7ce700 78.5px,#50fa10 79.5px,#23fb42 80.5px,#01f06e 81.5px,#00d68f 82.5px,#00cf98 83.5px,#00dd87 84.5px,#08f365 85.5px,#28fc3b 86.5px,#56fa0a 87.5px,#80e500 88.5px,#a9cc00 89.5px,#cab700 90.5px,#e49e00 92.5px,#f09200 95.5px,#f29000 167.5px)"></i>
<i style="background:linear-gradient(90deg,#f29000 0.5px,#f09200 71.5px,#e39f00 74.5px,#c8b900 76.5px,#a6ce00 77.5px,#7ce700 78.5px,#51fa0f 79.5px,#24fb40 80.5px,#04f16a 81.5px,#00dc88 82.5px,#00d491 83.5px,#00e083 84.5px,#09f365 85.5px,#27fc3c 86.5px,#55fa0b 87.5px,#80e500 88.5px,#a9cc00 89.5px,#cab700 90.5px,#e49e00 92.5px,#f09200 95.5px,#f29000 167.5px)"></i>
<i style="background:linear-gradient(90deg,#f29000 0.5px,#f09200 71.5px,#e39f00 74.5px,#c8b900 76.5px,#a6ce00 77.5px,#7de700 78.5px,#51fa0f 79.5px,#25fb3f 80.5px,#06f268 81.5px,#00df84 82.5px,#00d88d 83.5px,#00e281 84.5px,#09f364 85.5px,#27fc3c 86.5px,#55fa0b 87.5px,#7fe500 88.5px,#a9cc00 89.5px,#cab800 90.5px,#e39e00 92.5px,#f09200 95.5px,#f29000 167.5px)"></i>
<i style="background:linear-gradient(90deg,#f29000 0.5px,#f09200 71.5px,#e39f00 74.5px,#c9b800 76.5px,#a7ce00 77.5px,#7de600 78.5px,#52fa0e 79.5px,#25fc3e 80.5px,#07f266 81.5px,#00e182 82.5px,#00d98b 83.5px,#00e280 84.5px,#09f364 85.5px,#27fc3c 86.5px,#54fa0c 87.5px,#7fe500 88.5px,#a8cd00 89.5px,#c9b800 90.5px,#e39e00 92.5px,#f09200 95.5px,#f29000 167.5px)"></i>
<i style="background:linear-gradient(90deg,#f29000 0.5px,#f09200 71.5px,#e39f00 74.5px,#c9b800 76.5px,#a7cd00 77.5px,#7ee600 78.5px,#53fa0d 79.5px,#26fc3e 80.5px,#08f265 81.5px,#00e281 82.5px,#00da8a 83.5px,#00e380 84.5px,#09f365 85.5px,#26fc3d 86.5px,#54fa0c 87.5px,#7fe600 88.5px,#a8cd00 89.5px,#c9b800 90.5px,#e39e00 92.5px,#f09200 95.5px,#f29000 167.5px)"></i>
<i style="background:linear-gradient(90deg,#f29000 0.5px,#f09200 71.5px,#e39e00 74.5px,#c9b800 76.5px,#a7cd00 77.5px,#7ee600 78.5px,#53fa0d 79.5px,#26fc3d 80.5px,#08f365 81.5px,#00e380 82.5px,#00db8a 83.5px,#00e380 84.5px,#08f365 85.5px,#26fc3d 86.5px,#53fa0d 87.5px,#7ee600 88.5px,#a7cd00 89.5px,#c9b800 90.5px,#e39e00 92.5px,#f09200 95.5px,#f29000 167.5px)"></i>
<i style="background:linear-gradient(90deg,#f29000 0.5px,#f09200 71.5px,#e39e00 74.5px,#c9b800 76.5px,#a8cd00 77.5px,#7fe600 78.5px,#54fa0c 79.5px,#26fc3d 80.5px,#09f364 81.5px,#00e380 82.5px,#00db8a 83.5px,#00e380 84.5px,#08f365 85.5px,#26fc3e 86.5px,#52fa0e 87.5px,#7ee600 88.5px,#a7cd00 89.5px,#c9b800 90.5px,#e39f00 92.5px,#f09200 95.5px,#f29000 167.5px)"></i>
<i style="background:linear-gradient(90deg,#f29000 0.5px,#f09200 71.5px,#e39e00 74.5px,#c9b800 76.5px,#a8cd00 77.5px,#7fe500 78.5px,#54fa0c 79.5px,#27fc3c 80.5px,#09f364 81.5px,#00e37f 82.5px,#00db8a 83.5px,#00e280 84.5px,#08f266 85.5px,#25fc3e 86.5px,#52fa0e 87.5px,#7de600 88.5px,#a7ce00 89.5px,#c9b900 90.5px,#e39f00 92.5px,#f09200 95.5px,#f29000 167.5px)"></i>
<i style="background:linear-gradient(90deg,#f29000 0.5px,#f09200 71.5px,#e39e00 74.5px,#cab800 76.5px,#a9cc00 77.5px,#7fe500 78.5px,#55fa0b 79.5px,#27fc3c 80.5px,#09f364 81.5px,#00e37f 82.5px,#00db8a 83.5px,#00e281 84.5px,#07f266 85.5px,#25fc3f 86.5px,#51fa0f 87.5px,#7de700 88.5px,#a6ce00 89.5px,#c8b900 90.5px,#e39f00 92.5px,#f09200 95.5px,#f29000 167.5px)"></i>
<i style="background:linear-gradient(90deg,#f29000 0.5px,#f09200 71.5px,#e49e00 74.5px,#cab700 76.5px,#a9cc00 77.5px,#80e500 78.5px,#55fa0b 79.5px,#28fc3b 80.5px,#0af363 81.5px,#00e37f 82.5px,#00da8a 83.5px,#00e281 84.5px,#07f266 85.5px,#25fb3f 86.5px,#51fa0f 87.5px,#7ce700 88.5px,#a6ce00 89.5px,#c8b900 90.5px,#e39f00 92.5px,#f09200 95.5px,#f29000 167.5px)"></i>
<i style="background:linear-gradient(90deg,#f29000 0.5px,#f09200 71.5px,#e49e00 74.5px,#cab700 76.5px,#aacc00 77.5px,#80e500 78.5px,#56f90a 79.5px,#28fc3b 80.5px,#0af363 81.5px,#00e37f 82.5px,#00da8a 83.5px,#00e182 84.5px,#07f267 85.5px,#24fb40 86.5px,#50fa10 87.5px,#7ce700 88.5px,#c8b900 90.5px,#e39f00 92.5px,#f09200 95.5px,#f29000 167.5px)"></i>
<i style="background:linear-gradient(90deg,#f29000 0.5px,#f09200 71.5px,#e49e00 74.5px,#cab700 76.5px,#aacb00 77.5px,#81e400 78.5px,#56f90a 79.5px,#28fd3a 80.5px,#0af363 81.5px,#00e380 82.5px,#00d98c 83.5px,#00e083 84.5px,#06f268 85.5px,#24fb40 86.5px,#50fa10 87.5px,#7ce700 88.5px,#c8b900 90.5px,#e39f00 92.5px,#f09200 95.5px,#f29000 167.5px)"></i>
<i style="background:linear-gradient(90deg,#f29000 0.5px,#f09200 71.5px,#e49e00 74.5px,#cab700 76.5px,#aacb00 77.5px,#81e400 78.5px,#57f909 79.5px,#29fd3a 80.5px,#0af363 81.5px,#00e281 82.5px,#00d78e 83.5px,#00df85 84.5px,#05f269 85.5px,#23fb41 86.5px,#4ffa11 87.5px,#7be800 88.5px,#c8ba00 90.5px,#e39f00 92.5px,#f09200 95.5px,#f29000 167.5px)"></i>
<i style="background:linear-gradient(90deg,#f29000 0.5px,#f09200 71.5px,#e49e00 74.5px,#cbb700 76.5px,#abcb00 77.5px,#82e400 78.5px,#57f909 79.5px,#29fd3a 80.5px,#0af363 81.5px,#00e083 82.5px,#00d591 83.5px,#00dc88 84.5px,#04f16b 85.5px,#23fb42 86.5px,#4ffb11 87.5px,#7be800 88.5px,#c7ba00 90.5px,#e29f00 92.5px,#f09200 95.5px,#f29000 167.5px)"></i>
<i style="background:linear-gradient(90deg,#f29000 0.5px,#f09200 71.5px,#e49e00 74.5px,#cbb600 76.5px,#abcb00 77.5px,#82e400 78.5px,#58f908 79.5px,#29fd39 80.5px,#09f364 81.5px,#00de86 82.5px,#00d096 83.5px,#00d88d 84.5px,#02f16e 85.5px,#22fb43 86.5px,#4efb12 87.5px,#7ae800 88.5px,#a4cf00 89.5px,#c7ba00 90.5px,#e29f00 92.5px,#f09200 95.5px,#f29000 167.5px)"></i>
<i style="background:linear-gradient(90deg,#f29000 0.5px,#f09200 71.5px,#e49e00 74.5px,#cbb600 76.5px,#acca00 77.5px,#82e300 78.5px,#59f907 79.5px,#29fd39 80.5px,#08f365 81.5px,#00da8b 82.5px,#00c99f 83.5px,#00d195 84.5px,#00ef71 85.5px,#21fa44 86.5px,#4dfb13 87.5px,#7ae900 88.5px,#c7ba00 90.5px,#e29f00 92.5px,#f09200 95.5px,#f29000 167.5px)"></i>
<i style="background:linear-gradient(90deg,#f29000 0.5px,#f09200 71.5px,#e49d00 74.5px,#cbb600 76.5px,#acca00 77.5px,#83e300 78.5px,#59f907 79.5px,#29fd39 80.5px,#07f267 81.5px,#00d492 82.5px,#00c1a5 83.5px,#00c8a0 84.5px,#00ea77 85.5px,#1ffa46 86.5px,#4cfb14 87.5px,#79e900 88.5px,#a3d000 89.5px,#c6ba00 90.5px,#e29f00 92.5px,#f09200 95.5px,#f29000 167.5px)"></i>
<i style="background:linear-gradient(90deg,#f29000 0.5px,#f09200 71.5px,#e49d00 74.5px,#cbb600 76.5px,#adca00 77.5px,#5af906 79.5px,#29fd39 80.5px,#04f16a 81.5px,#00cc9b 82.5px,#00b6ad 83.5px,#00bfa7 84.5px,#00e47e 85.5px,#1ef948 86.5px,#4cfb14 87.5px,#79e900 88.5px,#c6bb00 90.5px,#e2a000 92.5px,#f09200 95.5px,#f29000 167.5px)"></i>
<i style="background:linear-gradient(90deg,#f29000 0.5px,#f09200 71.5px,#e49d00 74.5px,#ccb600 76.5px,#adca00 77.5px,#5af906 79.5px,#29fd39 80.5px,#02f16e 81.5px,#00c3a4 82.5px,#00a9b7 83.5px,#00b3b0 84.5px,#00dd87 85.5px,#1cf94b 86.5px,#4bfb15 87.5px,#78e900 88.5px,#c6bb00 90.5px,#e2a000 92.5px,#f09200 95.5px,#f29000 167.5px)"></i>
<i style="background:linear-gradient(90deg,#f29000 0.5px,#f09200 71.5px,#e49d00 74.5px,#ccb500 76.5px,#adc900 77.5px,#5af906 79.5px,#29fd3a 80.5px,#00ef72 81.5px,#00bbaa 82.5px,#009ec8 83.5px,#00a7ba 84.5px,#00d590 85.5px,#1af84e 86.5px,#4afb16 87.5px,#78ea00 88.5px,#c5bb00 90.5px,#d7ab00 91.5px,#e99900 93.5px,#f29000 97.5px,#f29000 167.5px)"></i>
<i style="background:linear-gradient(90deg,#f29000 0.5px,#f09200 71.5px,#e59d00 74.5px,#ccb500 76.5px,#aec900 77.5px,#5bf905 79.5px,#29fd3a 80.5px,#00eb76 81.5px,#00b2b1 82.5px,#0093db 83.5px,#009dcb 84.5px,#00cd9a 85.5px,#18f750 86.5px,#49fb17 87.5px,#78ea00 88.5px,#c5bb00 90.5px,#e2a000 92.5px,#f09200 95.5px,#f29000 167.5px)"></i>
<i style="background:linear-gradient(90deg,#f29000 0.5px,#f09200 71.5px,#e59d00 74.5px,#ccb500 76.5px,#aec900 77.5px,#5bf905 79.5px,#28fd3a 80.5px,#00e879 81.5px,#00aab7 82.5px,#0082ee 83.5px,#0094da 84.5px,#00c6a2 85.5px,#16f753 86.5px,#48fb18 87.5px,#77ea00 88.5px,#c5bb00 90.5px,#e2a000 92.5px,#f09200 95.5px,#f29000 167.5px)"></i>
<i style="background:linear-gradient(90deg,#f29000 0.5px,#f09200 71.5px,#e59d00 74.5px,#ccb500 76.5px,#afc900 77.5px,#5cf904 79.5px,#28fd3a 80.5px,#00e67c 81.5px,#00a5be 82.5px,#0073fc 83.5px,#008ae6 84.5px,#00c1a5 85.5px,#14f655 86.5px,#47fc19 87.5px,#77ea00 88.5px,#c5bb00 90.5px,#e2a000 92.5px,#f09200 95.5px,#f29000 167.5px)"></i>
<i style="background:linear-gradient(90deg,#f29000 0.5px,#f09200 71.5px,#e59d00 74.5px,#cdb500 76.5px,#afc800 77.5px,#5df803 79.5px,#29fd3a 80.5px,#00e57d 81.5px,#00a2c2 82.5px,#006aff 83.5px,#0082ed 84.5px,#00bfa7 85.5px,#13f657 86.5px,#47fc19 87.5px,#76eb00 88.5px,#c4bc00 90.5px,#e2a000 92.5px,#f09200 95.5px,#f29000 167.5px)"></i>
<i style="background:linear-gradient(90deg,#f29000 0.5px,#ef9300 72.5px,#e59d00 74.5px,#cdb400 76.5px,#b0c800 77.5px,#5df803 79.5px,#29fd39 80.5px,#00e57d 81.5px,#00a2c2 82.5px,#006aff 83.5px,#0082ee 84.5px,#00bfa7 85.5px,#13f657 86.5px,#46fc1a 87.5px,#76eb00 88.5px,#c4bc00 90.5px,#d6ab00 91.5px,#e99900 93.5px,#f29000 97.5px,#f29000 167.5px)"></i>
<i style="background:linear-gradient(90deg,#f29000 0.5px,#ef9300 72.5px,#e59d00 74.5px,#cdb400 76.5px,#b0c800 77.5px,#5ef802 79.5px,#2afd38 80.5px,#00e77b 81.5px,#00a5bd 82.5px,#0073fc 83.5px,#0089e6 84.5px,#00c1a5 85.5px,#13f656 86.5px,#46fc1a 87.5px,#76eb00 88.5px,#c4bc00 90.5px,#d6ac00 91.5px,#e99900 93.5px,#f29000 97.5px,#f29000 167.5px)"></i>
<i style="background:linear-gradient(90deg,#f29000 0.5px,#ef9300 72.5px,#e59c00 74.5px,#cdb400 76.5px,#b1c700 77.5px,#5ff801 79.5px,#2bfd37 80.5px,#00ea77 81.5px,#00abb6 82.5px,#0083ed 83.5px,#0094da 84.5px,#00c5a2 85.5px,#14f655 86.5px,#46fc1a 87.5px,#75eb00 88.5px,#c4bc00 90.5px,#d6ac00 91.5px,#e99900 93.5px,#f29000 97.5px,#f29000 167.5px)"></i>
<i style="background:linear-gradient(90deg,#f29000 0.5px,#ef9300 72.5px,#e59c00 74.5px,#ceb400 76.5px,#b1c700 77.5px,#60f800 79.5px,#2cfe36 80.5px,#00ee72 81.5px,#00b3b0 82.5px,#0094da 83.5px,#009dcb 84.5px,#00cc9c 85.5px,#16f753 86.5px,#46fc1a 87.5px,#75eb00 88.5px,#c3bc00 90.5px,#d6ac00 91.5px,#e99900 93.5px,#f29000 97.5px,#f29000 167.5px)"></i>
<i style="background:linear-gradient(90deg,#f29000 0.5px,#ef9300 72.5px,#e69c00 74.5px,#ceb300 76.5px,#b2c700 77.5px,#60f800 79.5px,#2dfe34 80.5px,#02f16d 81.5px,#00bda8 82.5px,#009fc7 83.5px,#00a7ba 84.5px,#00d492 85.5px,#18f751 86.5px,#46fc1a 87.5px,#75eb00 88.5px,#c3bc00 90.5px,#d6ac00 91.5px,#e99900 93.5px,#f29000 97.5px,#f29000 167.5px)"></i>
<i style="background:linear-gradient(90deg,#f29000 0.5px,#ef9300 72.5px,#e69c00 74.5px,#ceb300 76.5px,#b3c600 77.5px,#61f700 79.5px,#2efe32 80.5px,#06f268 81.5px,#00c6a1 82.5px,#00abb6 83.5px,#00b3b0 84.5px,#00db89 85.5px,#19f84e 86.5px,#46fc1a 87.5px,#75eb00 88.5px,#c3bc00 90.5px,#d6ac00 91.5px,#e99900 93.5px,#f29000 97.5px,#f29000 167.5px)"></i>
<i style="background:linear-gradient(90deg,#f29000 0.5px,#ef9300 72.5px,#dda500 75.5px,#cfb300 76.5px,#b3c600 77.5px,#62f700 79.5px,#2fff31 80.5px,#0af363 81.5px,#00d096 82.5px,#00b8ac 83.5px,#00bfa7 84.5px,#00e380 85.5px,#1bf84c 86.5px,#47fc19 87.5px,#75eb00 88.5px,#c3bc00 90.5px,#d6ac00 91.5px,#e99900 93.5px,#f29000 97.5px,#f29000 167.5px)"></i>
<i style="background:linear-gradient(90deg,#f29000 0.5px,#ef9300 72.5px,#e69b00 74.5px,#cfb200 76.5px,#b4c500 77.5px,#63f600 79.5px,#31ff2f 80.5px,#0df45e 81.5px,#00d98b 82.5px,#00c3a3 83.5px,#00c99f 84.5px,#00e979 85.5px,#1df94a 86.5px,#47fc19 87.5px,#75eb00 88.5px,#c3bc00 90.5px,#d6ac00 91.5px,#e99900 93.5px,#f29000 97.5px,#f29000 167.5px)"></i>
<i style="background:linear-gradient(90deg,#f29000 0.5px,#ef9300 72.5px,#e79b00 74.5px,#cfb200 76.5px,#b5c500 77.5px,#64f500 79.5px,#33ff2d 80.5px,#10f55a 81.5px,#00e182 82.5px,#00cd9a 83.5px,#00d393 84.5px,#00ee73 85.5px,#1ef948 86.5px,#48fc18 87.5px,#75eb00 88.5px,#c3bc00 90.5px,#d6ac00 91.5px,#e99900 93.5px,#f29000 97.5px,#f29000 167.5px)"></i>
<i style="background:linear-gradient(90deg,#f29000 0.5px,#f09200 72.5px,#dea400 75.5px,#d0b100 76.5px,#b7c400 77.5px,#67f400 79.5px,#37fe29 80.5px,#14f655 81.5px,#00e879 82.5px,#00d88d 83.5px,#00dc88 84.5px,#03f16c 85.5px,#21fa44 86.5px,#4bfb15 87.5px,#77ea00 88.5px,#c5bb00 90.5px,#e2a000 92.5px,#ee9400 94.5px,#f29000 102.5px,#f29000 167.5px)"></i>
<i style="background:linear-gradient(90deg,#f29000 0.5px,#f09200 72.5px,#e0a200 75.5px,#d3af00 76.5px,#bdc000 77.5px,#71ee00 79.5px,#47fc19 80.5px,#22fb42 81.5px,#0bf362 82.5px,#00ee72 83.5px,#02f16e 84.5px,#13f656 85.5px,#2efe33 86.5px,#5af906 87.5px,#a8cd00 89.5px,#c9b800 90.5px,#e39e00 92.5px,#f19100 95.5px,#f29000 167.5px)"></i>
<i style="background:linear-gradient(90deg,#f29000 0.5px,#f19100 72.5px,#e29f00 75.5px,#c8b900 77.5px,#63f600 80.5px,#3ffd21 81.5px,#27fc3d 82.5px,#1df94a 83.5px,#1ffa46 84.5px,#2efe33 85.5px,#4dfb13 86.5px,#70ee00 87.5px,#b6c400 89.5px,#cfb200 90.5px,#e69c00 92.5px,#f29000 96.5px,#f29000 167.5px)"></i>
<i style="background:linear-gradient(90deg,#f29000 0.5px,#f19100 72.5px,#e69c00 75.5px,#d1b100 77.5px,#bdc000 78.5px,#81e400 80.5px,#68f300 81.5px,#54fa0c 82.5px,#49fb17 83.5px,#4cfb14 84.5px,#5cf904 85.5px,#8ddd00 87.5px,#c8b900 89.5px,#e1a000 91.5px,#f09200 94.5px,#f29000 167.5px)"></i>
<i style="background:linear-gradient(90deg,#f29000 0.5px,#f19100 73.5px,#e39f00 76.5px,#ceb300 78.5px,#a6ce00 80.5px,#82e300 82.5px,#7ce700 83.5px,#7ee600 84.5px,#88e000 85.5px,#c7ba00 88.5px,#e69b00 91.5px,#f29000 94.5px,#f29000 167.5px)"></i>
<i style="background:linear-gradient(90deg,#f29000 0.5px,#f29000 73.5px,#e99900 76.5px,#c9b800 80.5px,#b4c500 82.5px,#afc800 83.5px,#b8c300 85.5px,#dfa200 89.5px,#ef9300 92.5px,#f28e00 99.5px,#f29000 167.5px)"></i>
<i style="background:linear-gradient(90deg,#f29000 0.5px,#f28f00 74.5px,#e2a000 79.5px,#d6ac00 83.5px,#e0a100 87.5px,#f29000 92.5px,#f29000 116.5px,#f29000 167.5px)"></i>
<i style="background:linear-gradient(90deg,#f29000 0.5px,#f38d00 70.5px,#f19100 77.5px,#f19100 88.5px,#f38c00 96.5px,#f29000 132.5px,#f29000 167.5px)"></i>
<i style="background:linear-gradient(90deg,#f29000 0.5px,#f38d00 69.5px,#f58300 79.5px,#f97500 84.5px,#f48900 92.5px,#f29000 115.5px,#f29000 167.5px)"></i>
<i style="background:linear-gradient(90deg,#f29000 0.5px,#f38d00 69.5px,#f68100 77.5px,#ff5a00 83.5px,#ff5d00 85.5px,#f68000 90.5px,#f38c00 97.5px,#f29000 133.5px,#f29000 167.5px)"></i>
<i style="background:linear-gradient(90deg,#f29000 0.5px,#f38d00 68.5px,#f68100 76.5px,#fc6a00 79.5px,#ff4900 82.5px,#ff4300 84.5px,#ff5e00 87.5px,#f87b00 90.5px,#f48a00 95.5px,#f29000 116.5px,#f29000 167.5px)"></i>
<i style="background:linear-gradient(90deg,#f29000 0.5px,#f38d00 68.5px,#f68300 75.5px,#fb6e00 78.5px,#ff3800 82.5px,#ff3100 83.5px,#ff3700 85.5px,#fb6d00 89.5px,#f68200 92.5px,#f38e00 101.5px,#f29000 167.5px)"></i>
<i style="background:linear-gradient(90deg,#f29000 0.5px,#f38d00 68.5px,#f68100 75.5px,#fa7400 77.5px,#ff4800 80.5px,#ff2900 82.5px,#ff2300 84.5px,#ff2900 85.5px,#fa7400 90.5px,#f58400 93.5px,#f28f00 104.5px,#f29000 167.5px)"></i>
<i style="background:linear-gradient(90deg,#f29000 0.5px,#f38d00 67.5px,#f58400 74.5px,#fa7100 77.5px,#ff5300 79.5px,#ff2c00 81.5px,#ff1b00 83.5px,#ff2100 85.5px,#ff2c00 86.5px,#fe6400 89.5px,#f87a00 91.5px,#f48800 95.5px,#f29000 111.5px,#f29000 167.5px)"></i>
<i style="background:linear-gradient(90deg,#f29000 0.5px,#f38d00 67.5px,#f58300 74.5px,#f87900 76.5px,#ff6100 78.5px,#ff2500 81.5px,#ff1400 83.5px,#ff1400 84.5px,#ff2500 86.5px,#ff6000 89.5px,#f87800 91.5px,#f48800 95.5px,#f29000 111.5px,#f29000 167.5px)"></i>
<i style="background:linear-gradient(90deg,#f29000 0.5px,#f38d00 67.5px,#f68300 74.5px,#f97800 76.5px,#ff5e00 78.5px,#ff2200 81.5px,#ff1000 83.5px,#ff1600 85.5px,#ff3400 87.5px,#ff5e00 89.5px,#f97700 91.5px,#f58500 94.5px,#f29000 107.5px,#f29000 167.5px)"></i>
<i style="height:2px;background:linear-gradient(90deg,#f29000 0.5px,#f38d00 67.5px,#f68200 74.5px,#f97700 76.5px,#ff5d00 78.5px,#ff2000 81.5px,#ff0d00 83.5px,#ff0d00 84.5px,#ff2000 86.5px,#ff5d00 89.5px,#f97700 91.5px,#f48700 95.5px,#f29000 110.5px,#f29000 167.5px)"></i>
<i style="background:linear-gradient(90deg,#f29000 0.5px,#f38d00 67.5px,#f68300 74.5px,#fc6d00 77.5px,#ff4b00 79.5px,#ff2200 81.5px,#ff0f00 83.5px,#ff0f00 84.5px,#ff2100 86.5px,#ff5e00 89.5px,#f97700 91.5px,#f48700 95.5px,#f29000 110.5px,#f29000 167.5px)"></i>
<i style="background:linear-gradient(90deg,#f29000 0.5px,#f38d00 67.5px,#f68300 74.5px,#fb6e00 77.5px,#ff4e00 79.5px,#ff2500 81.5px,#ff1400 83.5px,#ff1a00 85.5px,#ff2500 86.5px,#ff6000 89.5px,#f97800 91.5px,#f58500 94.5px,#f28f00 106.5px,#f29000 167.5px)"></i>
<i style="background:linear-gradient(90deg,#f29000 0.5px,#f38d00 67.5px,#f58300 74.5px,#fb7000 77.5px,#ff5200 79.5px,#ff2b00 81.5px,#ff1a00 83.5px,#ff1f00 85.5px,#ff2a00 86.5px,#fe6300 89.5px,#f87900 91.5px,#f48700 95.5px,#f29000 110.5px,#f29000 167.5px)"></i>
<i style="background:linear-gradient(90deg,#f29000 0.5px,#f38d00 67.5px,#f58400 74.5px,#fa7200 77.5px,#ff5700 79.5px,#ff2600 82.5px,#ff2100 84.5px,#ff2600 85.5px,#fd6600 89.5px,#f87a00 91.5px,#f48800 95.5px,#f29000 113.5px,#f29000 167.5px)"></i>
<i style="background:linear-gradient(90deg,#f29000 0.5px,#f38d00 68.5px,#f68100 75.5px,#fc6b00 78.5px,#ff3200 82.5px,#ff2a00 83.5px,#ff2a00 84.5px,#ff3e00 86.5px,#fc6a00 89.5px,#f77c00 91.5px,#f48900 96.5px,#f29000 113.5px,#f29000 167.5px)"></i>
<i style="background:linear-gradient(90deg,#f29000 0.5px,#f38d00 68.5px,#f68300 75.5px,#fb6f00 78.5px,#ff3e00 82.5px,#ff3800 84.5px,#ff4900 86.5px,#f97700 90.5px,#f48700 94.5px,#f29000 109.5px,#f29000 167.5px)"></i>
<i style="background:linear-gradient(90deg,#f29000 0.5px,#f38d00 68.5px,#f58400 75.5px,#fa7300 78.5px,#ff4a00 82.5px,#ff4500 84.5px,#ff5300 86.5px,#f87a00 90.5px,#f48900 95.5px,#f29000 113.5px,#f29000 167.5px)"></i>
<i style="background:linear-gradient(90deg,#f29000 0.5px,#f38d00 68.5px,#f68200 76.5px,#fd6600 80.5px,#ff5200 83.5px,#ff5500 85.5px,#f77c00 90.5px,#f48900 95.5px,#f29000 113.5px,#f29000 167.5px)"></i>
<i style="background:linear-gradient(90deg,#f29000 0.5px,#f38d00 69.5px,#f58300 76.5px,#fb6d00 80.5px,#ff5d00 83.5px,#fe6500 86.5px,#f77f00 90.5px,#f38b00 97.5px,#f29000 124.5px,#f29000 167.5px)"></i>
<i style="background:linear-gradient(90deg,#f29000 0.5px,#f38d00 69.5px,#f68200 77.5px,#fd6600 83.5px,#fa7200 87.5px,#f58600 92.5px,#f29000 108.5px,#f29000 167.5px)"></i>
<i style="background:linear-gradient(90deg,#f29000 0.5px,#f38d00 69.5px,#f58400 77.5px,#fb6f00 83.5px,#f48800 93.5px,#f29000 113.5px,#f29000 167.5px)"></i>
<i style="background:linear-gradient(90deg,#f29000 0.5px,#f38d00 70.5px,#f68300 78.5px,#f97600 83.5px,#f77e00 87.5px,#f38e00 100.5px,#f29000 167.5px)"></i>
<i style="background:linear-gradient(90deg,#f29000 0.5px,#f38d00 70.5px,#f68200 79.5px,#f87b00 82.5px,#f58500 84.5px,#f38e00 85.5px,#f48800 87.5px,#f68300 89.5px,#f28f00 103.5px,#f29000 167.5px)"></i>
<i style="background:linear-gradient(90deg,#f29000 0.5px,#f38d00 71.5px,#f68000 82.5px,#f48700 83.5px,#e29f00 85.5px,#e39f00 86.5px,#f48900 88.5px,#f58500 90.5px,#f28f00 106.5px,#f29000 167.5px)"></i>
<i style="background:linear-gradient(90deg,#f29000 0.5px,#f38d00 71.5px,#f68100 81.5px,#f58400 82.5px,#f09200 83.5px,#c7ba00 85.5px,#cab700 86.5px,#f19100 88.5px,#f58600 89.5px,#f29000 111.5px,#f29000 167.5px)"></i>
<i style="background:linear-gradient(90deg,#f29000 0.5px,#f38d00 71.5px,#f68300 81.5px,#f48800 82.5px,#e79b00 83.5px,#c4bc00 84.5px,#8fdc00 85.5px,#96d800 86.5px,#ccb500 87.5px,#ea9700 88.5px,#f48800 89.5px,#f48800 93.5px,#f29000 113.5px,#f29000 167.5px)"></i>
<i style="background:linear-gradient(90deg,#f29000 0.5px,#f38d00 71.5px,#f58300 81.5px,#f38c00 82.5px,#dfa300 83.5px,#a0d200 84.5px,#5ff801 85.5px,#67f400 86.5px,#b1c700 87.5px,#e49d00 88.5px,#f48a00 89.5px,#f58400 90.5px,#f28f00 105.5px,#f29000 167.5px)"></i>
<i style="background:linear-gradient(90deg,#f29000 0.5px,#f38d00 71.5px,#f68300 81.5px,#f38d00 82.5px,#daa800 83.5px,#8adf00 84.5px,#3cfd24 85.5px,#47fc19 86.5px,#9fd200 87.5px,#e1a100 88.5px,#f48a00 89.5px,#f58400 91.5px,#f28f00 104.5px,#f29000 167.5px)"></i>
<i style="background:linear-gradient(90deg,#f29000 0.5px,#f38d00 71.5px,#f68200 81.5px,#f38c00 82.5px,#dba700 83.5px,#8cde00 84.5px,#3dfd23 85.5px,#49fb17 86.5px,#a1d100 87.5px,#e2a000 88.5px,#f48800 89.5px,#f68200 90.5px,#f38e00 102.5px,#f29000 167.5px)"></i>
<i style="background:linear-gradient(90deg,#f29000 0.5px,#f38d00 71.5px,#f68000 81.5px,#f48800 82.5px,#e1a000 83.5px,#64f600 85.5px,#6cf100 86.5px,#b7c400 87.5px,#e89a00 88.5px,#f58500 89.5px,#f68000 90.5px,#f38d00 100.5px,#f29000 167.5px)"></i>
<i style="background:linear-gradient(90deg,#f29000 0.5px,#f38d00 71.5px,#f68300 79.5px,#f77e00 81.5px,#f68200 82.5px,#eb9700 83.5px,#cab700 84.5px,#98d600 85.5px,#9fd200 86.5px,#d2b000 87.5px,#f09200 88.5px,#f68000 89.5px,#f58300 92.5px,#f38e00 103.5px,#f29000 167.5px)"></i>
<i style="background:linear-gradient(90deg,#f29000 0.5px,#f38d00 70.5px,#f68100 79.5px,#f77c00 82.5px,#f48a00 83.5px,#cfb200 85.5px,#d2af00 86.5px,#e79b00 87.5px,#f58500 88.5px,#f87b00 89.5px,#f38b00 97.5px,#f29000 132.5px,#f29000 167.5px)"></i>
<i style="background:linear-gradient(90deg,#f29000 0.5px,#f38d00 70.5px,#f58300 78.5px,#f97700 82.5px,#f87c00 83.5px,#ec9600 85.5px,#ed9500 86.5px,#f87900 88.5px,#f87900 90.5px,#f48900 96.5px,#f29000 119.5px,#f29000 167.5px)"></i>
<i style="background:linear-gradient(90deg,#f29000 0.5px,#f38d00 70.5px,#f68200 78.5px,#fa7100 83.5px,#f87b00 85.5px,#fb7000 88.5px,#f48900 96.5px,#f29000 119.5px,#f29000 167.5px)"></i>
<i style="background:linear-gradient(90deg,#f29000 0.5px,#f38d00 69.5px,#f68100 78.5px,#fd6900 83.5px,#fd6900 88.5px,#f58400 94.5px,#f28f00 107.5px,#f29000 167.5px)"></i>
<i style="background:linear-gradient(90deg,#f29000 0.5px,#f38d00 69.5px,#f68300 77.5px,#ff5f00 84.5px,#fe6300 88.5px,#f68300 94.5px,#f38e00 105.5px,#f29000 167.5px)"></i>
<i style="background:linear-gradient(90deg,#f29000 0.5px,#f38d00 69.5px,#f68200 77.5px,#ff5800 84.5px,#ff5800 87.5px,#f68200 94.5px,#f38d00 102.5px,#f29000 167.5px)"></i>
<i style="background:linear-gradient(90deg,#f29000 0.5px,#f38d00 68.5px,#f58400 76.5px,#fb6f00 80.5px,#ff5100 84.5px,#ff5100 87.5px,#f77c00 93.5px,#f48900 98.5px,#f29000 119.5px,#f29000 167.5px)"></i>
<i style="background:linear-gradient(90deg,#f29000 0.5px,#f38d00 68.5px,#f68300 76.5px,#fc6c00 80.5px,#ff4a00 84.5px,#ff4a00 87.5px,#f87a00 93.5px,#f48900 98.5px,#f29000 121.5px,#f29000 167.5px)"></i>
<i style="background:linear-gradient(90deg,#f29000 0.5px,#f38d00 68.5px,#f68200 76.5px,#fd6800 80.5px,#ff4300 84.5px,#ff3f00 86.5px,#ff5400 89.5px,#f87800 93.5px,#f48700 97.5px,#f29000 115.5px,#f29000 167.5px)"></i>
<i style="background:linear-gradient(90deg,#f29000 0.5px,#f38d00 67.5px,#f68100 76.5px,#fe6500 80.5px,#ff3c00 84.5px,#ff3700 86.5px,#ff4e00 89.5px,#f97600 93.5px,#f58600 97.5px,#f29000 113.5px,#f29000 167.5px)"></i>
<i style="background:linear-gradient(90deg,#f29000 0.5px,#f38d00 67.5px,#f58400 75.5px,#fc6c00 79.5px,#ff3400 84.5px,#ff3000 86.5px,#ff3d00 88.5px,#fc6c00 92.5px,#f58400 96.5px,#f28f00 109.5px,#f29000 167.5px)"></i>
<i style="background:linear-gradient(90deg,#f29000 0.5px,#f38d00 67.5px,#f68300 75.5px,#fa7300 78.5px,#ff3700 83.5px,#ff2800 85.5px,#ff2d00 87.5px,#fc6900 92.5px,#f77f00 95.5px,#f38b00 101.5px,#f29000 131.5px,#f29000 167.5px)"></i>
<i style="background:linear-gradient(90deg,#f29000 0.5px,#f38d00 67.5px,#f68200 75.5px,#fa7100 78.5px,#ff3000 83.5px,#ff2300 85.5px,#ff2700 87.5px,#ff3d00 89.5px,#fa7100 93.5px,#f58500 97.5px,#f28f00 111.5px,#f29000 167.5px)"></i>
<i style="background:linear-gradient(90deg,#f29000 0.5px,#f38d00 67.5px,#f68200 75.5px,#fb6f00 78.5px,#ff4800 81.5px,#ff2a00 83.5px,#ff1e00 85.5px,#ff2200 87.5px,#ff3800 89.5px,#fe6400 92.5px,#f97800 94.5px,#f58700 98.5px,#f29000 116.5px,#f29000 167.5px)"></i>
<i style="background:linear-gradient(90deg,#f29000 0.5px,#f38d00 66.5px,#f68100 75.5px,#fb6e00 78.5px,#ff4400 81.5px,#ff2500 83.5px,#ff1a00 85.5px,#ff1e00 87.5px,#ff2500 88.5px,#fe6200 92.5px,#f77d00 95.5px,#f38b00 102.5px,#f29000 129.5px,#f29000 167.5px)"></i>
<i style="background:linear-gradient(90deg,#f29000 0.5px,#f38d00 66.5px,#f68100 75.5px,#fc6c00 78.5px,#ff4000 81.5px,#ff2200 83.5px,#ff1600 85.5px,#ff1a00 87.5px,#ff2e00 89.5px,#ff6000 92.5px,#f77c00 95.5px,#f48900 100.5px,#f29000 121.5px,#f29000 167.5px)"></i>
<i style="background:linear-gradient(90deg,#f29000 0.5px,#f38d00 66.5px,#f58400 74.5px,#f97400 77.5px,#ff5e00 79.5px,#ff2a00 82.5px,#ff1200 85.5px,#ff1700 87.5px,#ff2a00 89.5px,#ff5e00 92.5px,#f97400 94.5px,#f58600 98.5px,#f29000 114.5px,#f29000 167.5px)"></i>
<i style="background:linear-gradient(90deg,#f29000 0.5px,#f38d00 66.5px,#f58300 74.5px,#fa7400 77.5px,#ff5c00 79.5px,#ff2700 82.5px,#ff1400 84.5px,#ff0f00 86.5px,#ff2700 89.5px,#ff5c00 92.5px,#fa7400 94.5px,#f58600 98.5px,#f29000 115.5px,#f29000 167.5px)"></i>
<i style="background:linear-gradient(90deg,#f29000 0.5px,#f38d00 66.5px,#f68300 74.5px,#fa7300 77.5px,#ff5b00 79.5px,#ff2500 82.5px,#ff1100 84.5px,#ff0c00 86.5px,#ff1a00 88.5px,#ff2500 89.5px,#fd6900 93.5px,#f68000 96.5px,#f38c00 104.5px,#f29000 144.5px,#f29000 167.5px)"></i>
<i style="background:linear-gradient(90deg,#f29000 0.5px,#f38d00 66.5px,#f68300 74.5px,#fa7200 77.5px,#ff5a00 79.5px,#ff2400 82.5px,#ff0f00 84.5px,#ff0a00 86.5px,#ff1800 88.5px,#ff3500 90.5px,#fd6800 93.5px,#f77f00 96.5px,#f38b00 103.5px,#f29000 130.5px,#f29000 167.5px)"></i>
<i style="background:linear-gradient(90deg,#f29000 0.5px,#f38d00 66.5px,#f68300 74.5px,#fa7200 77.5px,#ff4800 80.5px,#ff2300 82.5px,#ff0e00 84.5px,#ff0900 86.5px,#ff1700 88.5px,#ff3400 90.5px,#fd6700 93.5px,#f77f00 96.5px,#f38b00 103.5px,#f29000 130.5px,#f29000 167.5px)"></i>
<i style="height:2px;background:linear-gradient(90deg,#f29000 0.5px,#f38d00 66.5px,#f68300 74.5px,#fa7200 77.5px,#ff5900 79.5px,#ff2200 82.5px,#ff0d00 84.5px,#ff0800 86.5px,#ff1600 88.5px,#ff3300 90.5px,#ff5900 92.5px,#f87a00 95.5px,#f48700 99.5px,#f29000 117.5px,#f29000 167.5px)"></i>
<i style="background:linear-gradient(90deg,#f29000 0.5px,#f38d00 66.5px,#f68300 74.5px,#fa7200 77.5px,#ff4800 80.5px,#ff2300 82.5px,#ff0e00 84.5px,#ff0900 86.5px,#ff1700 88.5px,#ff3400 90.5px,#fd6700 93.5px,#f77f00 96.5px,#f38b00 103.5px,#f29000 130.5px,#f29000 167.5px)"></i>
<i style="background:linear-gradient(90deg,#f29000 0.5px,#f38d00 66.5px,#f68300 74.5px,#fa7200 77.5px,#ff5a00 79.5px,#ff2400 82.5px,#ff0f00 84.5px,#ff0a00 86.5px,#ff1800 88.5px,#ff3500 90.5px,#fd6800 93.5px,#f77f00 96.5px,#f38b00 103.5px,#f29000 130.5px,#f29000 167.5px)"></i>
<i style="background:linear-gradient(90deg,#f29000 0.5px,#f38d00 66.5px,#f68300 74.5px,#fa7300 77.5px,#ff5b00 79.5px,#ff2500 82.5px,#ff1100 84.5px,#ff0c00 86.5px,#ff1a00 88.5px,#ff2500 89.5px,#fd6900 93.5px,#f68000 96.5px,#f38c00 104.5px,#f29000 144.5px,#f29000 167.5px)"></i>
<i style="background:linear-gradient(90deg,#f29000 0.5px,#f38d00 66.5px,#f58300 74.5px,#fa7400 77.5px,#ff5c00 79.5px,#ff2700 82.5px,#ff1400 84.5px,#ff0f00 86.5px,#ff2700 89.5px,#ff5c00 92.5px,#fa7400 94.5px,#f58600 98.5px,#f29000 115.5px,#f29000 167.5px)"></i>
<i style="background:linear-gradient(90deg,#f29000 0.5px,#f38d00 66.5px,#f58400 74.5px,#f97400 77.5px,#ff5e00 79.5px,#ff2a00 82.5px,#ff1200 85.5px,#ff1700 87.5px,#ff2a00 89.5px,#ff5e00 92.5px,#f97400 94.5px,#f58600 98.5px,#f29000 114.5px,#f29000 167.5px)"></i>
<i style="background:linear-gradient(90deg,#f29000 0.5px,#f38d00 66.5px,#f68100 75.5px,#fc6c00 78.5px,#ff4000 81.5px,#ff2200 83.5px,#ff1600 85.5px,#ff1a00 87.5px,#ff2e00 89.5px,#ff6000 92.5px,#f77c00 95.5px,#f48900 100.5px,#f29000 121.5px,#f29000 167.5px)"></i>
<i style="background:linear-gradient(90deg,#f29000 0.5px,#f38d00 66.5px,#f68100 75.5px,#fb6e00 78.5px,#ff4400 81.5px,#ff2500 83.5px,#ff1a00 85.5px,#ff1e00 87.5px,#ff2500 88.5px,#fe6200 92.5px,#f77d00 95.5px,#f38b00 102.5px,#f29000 129.5px,#f29000 167.5px)"></i>
<i style="background:linear-gradient(90deg,#f29000 0.5px,#f38d00 67.5px,#f68200 75.5px,#fb6f00 78.5px,#ff4800 81.5px,#ff2a00 83.5px,#ff1e00 85.5px,#ff2200 87.5px,#ff3800 89.5px,#fe6400 92.5px,#f77e00 95.5px,#f48a00 101.5px,#f29000 125.5px,#f29000 167.5px)"></i>
<i style="background:linear-gradient(90deg,#f29000 0.5px,#f38d00 67.5px,#f68200 75.5px,#fa7100 78.5px,#ff3000 83.5px,#ff2300 85.5px,#ff2700 87.5px,#ff3d00 89.5px,#fa7100 93.5px,#f58500 97.5px,#f28f00 111.5px,#f29000 167.5px)"></i>
<i style="background:linear-gradient(90deg,#f29000 0.5px,#f38d00 67.5px,#f68300 75.5px,#fa7300 78.5px,#ff3700 83.5px,#ff2800 85.5px,#ff2d00 87.5px,#fc6900 92.5px,#f77f00 95.5px,#f38b00 101.5px,#f29000 131.5px,#f29000 167.5px)"></i>
<i style="background:linear-gradient(90deg,#f29000 0.5px,#f38d00 67.5px,#f58400 75.5px,#fc6c00 79.5px,#ff3400 84.5px,#ff3000 86.5px,#ff3d00 88.5px,#fc6c00 92.5px,#f58400 96.5px,#f28f00 109.5px,#f29000 167.5px)"></i>
<i style="background:linear-gradient(90deg,#f29000 0.5px,#f38d00 67.5px,#f68100 76.5px,#fe6500 80.5px,#ff3c00 84.5px,#ff3700 86.5px,#ff4e00 89.5px,#f97600 93.5px,#f58600 97.5px,#f28f00 111.5px,#f29000 167.5px)"></i>
<i style="background:linear-gradient(90deg,#f29000 0.5px,#f38d00 68.5px,#f68200 76.5px,#fd6800 80.5px,#ff4300 84.5px,#ff3f00 86.5px,#ff5400 89.5px,#f87800 93.5px,#f48700 97.5px,#f29000 115.5px,#f29000 167.5px)"></i>
<i style="background:linear-gradient(90deg,#f29000 0.5px,#f38d00 68.5px,#f68300 76.5px,#fc6c00 80.5px,#ff4a00 84.5px,#ff4a00 87.5px,#f87a00 93.5px,#f48900 98.5px,#f29000 121.5px,#f29000 167.5px)"></i>
<i style="background:linear-gradient(90deg,#f29000 0.5px,#f38d00 68.5px,#f58400 76.5px,#fb6f00 80.5px,#ff5100 84.5px,#ff5100 87.5px,#f77c00 93.5px,#f48900 98.5px,#f29000 119.5px,#f29000 167.5px)"></i>
<i style="background:linear-gradient(90deg,#f29000 0.5px,#f38d00 69.5px,#f68200 77.5px,#ff5800 84.5px,#ff5800 87.5px,#f68200 94.5px,#f38d00 102.5px,#f29000 167.5px)"></i>
<i style="background:linear-gradient(90deg,#f29000 0.5px,#f38d00 69.5px,#f68300 77.5px,#ff5e00 84.5px,#ff5e00 87.5px,#f68300 94.5px,#f38e00 105.5px,#f29000 167.5px)"></i>
<i style="background:linear-gradient(90deg,#f29000 0.5px,#f38d00 69.5px,#f68100 78.5px,#fe6500 84.5px,#fe6400 87.5px,#f58400 94.5px,#f28f00 107.5px,#f29000 167.5px)"></i>
<i style="background:linear-gradient(90deg,#f29000 0.5px,#f38d00 70.5px,#f68200 78.5px,#fb7000 83.5px,#f87800 85.5px,#fb6d00 87.5px,#f97600 90.5px,#f48900 96.5px,#f29000 119.5px,#f29000 167.5px)"></i>
<i style="background:linear-gradient(90deg,#f29000 0.5px,#f38d00 70.5px,#f68100 79.5px,#f97700 82.5px,#f68000 83.5px,#e79a00 84.5px,#d6ab00 85.5px,#e39e00 86.5px,#f68200 87.5px,#fa7400 88.5px,#f48900 96.5px,#f29000 119.5px,#f29000 167.5px)"></i>
<i style="background:linear-gradient(90deg,#f29000 0.5px,#f38d00 71.5px,#f68200 79.5px,#f77c00 82.5px,#ef9300 83.5px,#bcc100 84.5px,#7de700 85.5px,#aacb00 86.5px,#e99800 87.5px,#f87c00 88.5px,#f87800 89.5px,#f48a00 96.5px,#f29000 123.5px,#f29000 167.5px)"></i>
<i style="background:linear-gradient(90deg,#f29000 0.5px,#f38d00 71.5px,#f68100 80.5px,#f68000 82.5px,#eb9700 83.5px,#adca00 84.5px,#6af200 85.5px,#99d600 86.5px,#e49d00 87.5px,#f68000 88.5px,#f77e00 90.5px,#f38c00 98.5px,#f29000 146.5px,#f29000 167.5px)"></i>
<i style="background:linear-gradient(90deg,#f29000 0.5px,#f38d00 72.5px,#f68300 82.5px,#e99900 83.5px,#a9cc00 84.5px,#67f400 85.5px,#95d800 86.5px,#e29f00 87.5px,#f68300 88.5px,#f77e00 89.5px,#f38c00 97.5px,#f29000 149.5px,#f29000 167.5px)"></i>
<i style="background:linear-gradient(90deg,#f29000 0.5px,#f38d00 73.5px,#f58500 82.5px,#e79b00 83.5px,#a6ce00 84.5px,#64f600 85.5px,#92da00 86.5px,#e0a100 87.5px,#f58600 88.5px,#f68200 90.5px,#f38d00 99.5px,#f29000 167.5px)"></i>
<i style="background:linear-gradient(90deg,#f29000 0.5px,#f38d00 73.5px,#f48700 82.5px,#e69c00 83.5px,#a3d000 84.5px,#62f700 85.5px,#8fdc00 86.5px,#dfa300 87.5px,#f48800 88.5px,#f58400 90.5px,#f28e00 102.5px,#f29000 167.5px)"></i>
<i style="background:linear-gradient(90deg,#f29000 0.5px,#f38d00 74.5px,#f58600 81.5px,#f48900 82.5px,#e49d00 83.5px,#a1d100 84.5px,#5ff801 85.5px,#8ddd00 86.5px,#dda400 87.5px,#f38a00 88.5px,#f58600 90.5px,#f28f00 105.5px,#f29000 167.5px)"></i>
<i style="background:linear-gradient(90deg,#f29000 0.5px,#f38d00 75.5px,#f48800 81.5px,#f38b00 82.5px,#e39e00 83.5px,#9fd200 84.5px,#5df803 85.5px,#8bde00 86.5px,#dca600 87.5px,#f38c00 88.5px,#f48700 90.5px,#f28f00 106.5px,#f29000 167.5px)"></i>
<i style="background:linear-gradient(90deg,#f29000 0.5px,#f38d00 75.5px,#f48900 81.5px,#f38c00 82.5px,#e29f00 83.5px,#9dd300 84.5px,#5bf905 85.5px,#89e000 86.5px,#dba700 87.5px,#f38e00 88.5px,#f48800 90.5px,#f29000 111.5px,#f29000 167.5px)"></i>
</div>
<div class="im" style="left:41px;top:430px;width:168px;height:337px">
<i style="background:linear-gradient(90deg,#c7ba00 0.5px,#cab700 71.5px,#d2af00 81.5px,#c4bc00 82.5px,#8cde00 83.5px,#c4bc00 84.5px,#d2af00 85.5px,#c7ba00 107.5px,#c7ba00 167.5px)"></i>
<i style="background:linear-gradient(90deg,#c7ba00 0.5px,#cab700 70.5px,#d5ac00 81.5px,#c8b900 82.5px,#91da00 83.5px,#c8b900 84.5px,#d5ac00 85.5px,#c8b900 101.5px,#c7ba00 167.5px)"></i>
<i style="background:linear-gradient(90deg,#c7ba00 0.5px,#cab700 69.5px,#d8a900 81.5px,#ccb500 82.5px,#97d700 83.5px,#ccb500 84.5px,#d8a900 85.5px,#c9b800 99.5px,#c7ba00 167.5px)"></i>
<i style="background:linear-gradient(90deg,#c7ba00 0.5px,#cab700 68.5px,#d6ab00 78.5px,#dca500 81.5px,#d0b100 82.5px,#9fd200 83.5px,#d0b100 84.5px,#dca500 85.5px,#cbb600 96.5px,#c7ba00 140.5px,#c7ba00 167.5px)"></i>
<i style="background:linear-gradient(90deg,#c7ba00 0.5px,#cab700 67.5px,#d4ad00 76.5px,#e1a000 81.5px,#d5ac00 82.5px,#a8cd00 83.5px,#d5ac00 84.5px,#e1a000 85.5px,#cdb400 95.5px,#c7ba00 119.5px,#c7ba00 167.5px)"></i>
<i style="background:linear-gradient(90deg,#c7ba00 0.5px,#cab700 67.5px,#d6ab00 76.5px,#e79b00 81.5px,#dca600 82.5px,#b3c600 83.5px,#dca600 84.5px,#e79b00 85.5px,#d0b100 93.5px,#c7ba00 111.5px,#c7ba00 167.5px)"></i>
<i style="background:linear-gradient(90deg,#c7ba00 0.5px,#cab700 66.5px,#d6ac00 75.5px,#ee9400 81.5px,#e39f00 82.5px,#bfbf00 83.5px,#e39f00 84.5px,#ee9400 85.5px,#d3ae00 92.5px,#c8b900 105.5px,#c7ba00 167.5px)"></i>
<i style="background:linear-gradient(90deg,#c7ba00 0.5px,#cab700 65.5px,#d5ad00 74.5px,#eb9700 79.5px,#f38b00 81.5px,#eb9700 82.5px,#cab700 83.5px,#eb9700 84.5px,#f38b00 85.5px,#d8aa00 91.5px,#cbb600 99.5px,#c7ba00 139.5px,#c7ba00 167.5px)"></i>
<i style="background:linear-gradient(90deg,#c7ba00 0.5px,#cab700 65.5px,#d6ab00 74.5px,#f19100 79.5px,#f77d00 81.5px,#f48700 82.5px,#e0a200 83.5px,#f48700 84.5px,#f77d00 85.5px,#ea9800 88.5px,#d6ab00 92.5px,#cab700 102.5px,#c7ba00 167.5px)"></i>
<i style="background:linear-gradient(90deg,#c7ba00 0.5px,#cab700 65.5px,#d8a900 74.5px,#ef9300 78.5px,#fb6e00 81.5px,#fd6800 82.5px,#fd6800 84.5px,#f87a00 86.5px,#ef9300 88.5px,#d8a900 92.5px,#cab700 101.5px,#c7ba00 167.5px)"></i>
<i style="background:linear-gradient(90deg,#c7ba00 0.5px,#cab700 64.5px,#d6ab00 73.5px,#eb9600 77.5px,#f77c00 79.5px,#ff6000 81.5px,#ff5800 83.5px,#ff6000 85.5px,#f38c00 88.5px,#dea300 91.5px,#d0b100 96.5px,#c7ba00 111.5px,#c7ba00 167.5px)"></i>
<i style="background:linear-gradient(90deg,#c7ba00 0.5px,#cab700 64.5px,#d7aa00 73.5px,#ef9300 77.5px,#ff6000 80.5px,#ff5600 81.5px,#fc6b00 83.5px,#ff5900 85.5px,#ff6100 86.5px,#ef9300 89.5px,#d7aa00 93.5px,#cab700 102.5px,#c7ba00 167.5px)"></i>
<i style="background:linear-gradient(90deg,#c7ba00 0.5px,#cab700 64.5px,#d8a900 73.5px,#ea9800 76.5px,#f28e00 77.5px,#ff5500 80.5px,#ff5900 81.5px,#ee9400 82.5px,#c8b900 83.5px,#e39f00 84.5px,#fe6300 85.5px,#ff5700 86.5px,#f28e00 89.5px,#dda500 92.5px,#ceb300 98.5px,#c7ba00 116.5px,#c7ba00 167.5px)"></i>
<i style="background:linear-gradient(90deg,#c7ba00 0.5px,#cab700 63.5px,#d6ab00 72.5px,#e49e00 75.5px,#f48900 77.5px,#ff5e00 79.5px,#ff4c00 80.5px,#fe6300 81.5px,#b7c400 82.5px,#3cfd24 83.5px,#92da00 84.5px,#f97700 85.5px,#ff4f00 86.5px,#ff5e00 87.5px,#f48900 89.5px,#e49e00 91.5px,#d4ae00 95.5px,#c8b900 107.5px,#c7ba00 167.5px)"></i>
<i style="background:linear-gradient(90deg,#c7ba00 0.5px,#cab700 63.5px,#d7ab00 72.5px,#e69c00 75.5px,#ee9400 76.5px,#fb6e00 78.5px,#ff4200 80.5px,#ff5700 81.5px,#c3bc00 82.5px,#49fb17 83.5px,#9ed300 84.5px,#fc6b00 85.5px,#ff4500 86.5px,#ff5600 87.5px,#f58400 89.5px,#ee9400 90.5px,#daa700 93.5px,#ccb600 101.5px,#c7ba00 123.5px,#c7ba00 167.5px)"></i>
<i style="background:linear-gradient(90deg,#c7ba00 0.5px,#cab700 63.5px,#d7aa00 72.5px,#e79b00 75.5px,#f09200 76.5px,#fd6800 78.5px,#ff3800 80.5px,#ff3700 81.5px,#fa7200 82.5px,#dfa300 83.5px,#f58400 84.5px,#ff4100 85.5px,#ff3900 86.5px,#fd6800 88.5px,#f09200 90.5px,#dba700 93.5px,#cdb400 100.5px,#c7ba00 118.5px,#c7ba00 167.5px)"></i>
<i style="background:linear-gradient(90deg,#c7ba00 0.5px,#cab700 63.5px,#d8aa00 72.5px,#e89a00 75.5px,#f19100 76.5px,#fe6500 78.5px,#ff3000 80.5px,#ff2300 81.5px,#ff2400 82.5px,#ff2e00 83.5px,#ff2400 85.5px,#ff3100 86.5px,#fe6500 88.5px,#f19100 90.5px,#dba600 93.5px,#cdb400 100.5px,#c7ba00 118.5px,#c7ba00 167.5px)"></i>
<i style="background:linear-gradient(90deg,#c7ba00 0.5px,#cab700 63.5px,#d8aa00 72.5px,#e89a00 75.5px,#f29000 76.5px,#fe6300 78.5px,#ff2d00 80.5px,#ff1d00 81.5px,#ff1300 83.5px,#ff1500 84.5px,#ff2d00 86.5px,#fe6300 88.5px,#f29000 90.5px,#dca600 93.5px,#cdb400 100.5px,#c7ba00 118.5px,#c7ba00 167.5px)"></i>
<i style="background:linear-gradient(90deg,#c7ba00 0.5px,#cab700 63.5px,#d8aa00 72.5px,#e89a00 75.5px,#f29000 76.5px,#fe6300 78.5px,#ff2d00 80.5px,#ff1d00 81.5px,#ff1000 83.5px,#ff1d00 85.5px,#ff2d00 86.5px,#fe6300 88.5px,#f29000 90.5px,#dca600 93.5px,#cdb400 100.5px,#c7ba00 118.5px,#c7ba00 167.5px)"></i>
<i style="background:linear-gradient(90deg,#c7ba00 0.5px,#cab700 63.5px,#d8aa00 72.5px,#e89a00 75.5px,#f19100 76.5px,#fe6500 78.5px,#ff3100 80.5px,#ff2000 81.5px,#ff1600 82.5px,#ff1600 84.5px,#ff1f00 85.5px,#ff3000 86.5px,#fe6500 88.5px,#f19100 90.5px,#dba600 93.5px,#cdb400 100.5px,#c7ba00 118.5px,#c7ba00 167.5px)"></i>
<i style="background:linear-gradient(90deg,#c7ba00 0.5px,#cab700 63.5px,#d7aa00 72.5px,#e79b00 75.5px,#f09200 76.5px,#fd6900 78.5px,#ff3700 80.5px,#ff2400 81.5px,#ff1800 83.5px,#ff2400 85.5px,#ff3600 86.5px,#fd6900 88.5px,#f09200 90.5px,#dba700 93.5px,#cdb400 100.5px,#c7ba00 118.5px,#c7ba00 167.5px)"></i>
<i style="background:linear-gradient(90deg,#c7ba00 0.5px,#cab700 63.5px,#d7ab00 72.5px,#e59c00 75.5px,#ee9400 76.5px,#fb6f00 78.5px,#ff2c00 81.5px,#ff2200 82.5px,#ff2200 84.5px,#ff2b00 85.5px,#fb6e00 88.5px,#ee9400 90.5px,#daa700 93.5px,#ccb600 101.5px,#c7ba00 123.5px,#c7ba00 167.5px)"></i>
<i style="background:linear-gradient(90deg,#c7ba00 0.5px,#cab700 63.5px,#d6ab00 72.5px,#e49e00 75.5px,#f48a00 77.5px,#ff6000 79.5px,#ff3900 81.5px,#ff2c00 82.5px,#ff2800 83.5px,#ff2c00 84.5px,#ff4a00 86.5px,#f97500 88.5px,#f48900 89.5px,#e49e00 91.5px,#d4ae00 95.5px,#c8b900 107.5px,#c7ba00 167.5px)"></i>
<i style="background:linear-gradient(90deg,#c7ba00 0.5px,#cab700 64.5px,#d8a900 73.5px,#e99900 76.5px,#f29000 77.5px,#ff5800 80.5px,#ff3d00 82.5px,#ff3900 83.5px,#ff3c00 84.5px,#ff5700 86.5px,#f28f00 89.5px,#dda500 92.5px,#ceb300 98.5px,#c7ba00 116.5px,#c7ba00 167.5px)"></i>
<i style="background:linear-gradient(90deg,#c7ba00 0.5px,#cab700 64.5px,#d7aa00 73.5px,#ee9400 77.5px,#ff5900 81.5px,#ff4b00 83.5px,#ff5700 85.5px,#ef9300 89.5px,#dba600 92.5px,#cdb400 99.5px,#c7ba00 120.5px,#c7ba00 167.5px)"></i>
<i style="background:linear-gradient(90deg,#c7ba00 0.5px,#cab700 64.5px,#d6ab00 73.5px,#ea9800 77.5px,#f68300 79.5px,#fe6300 82.5px,#ff6100 84.5px,#fa7300 86.5px,#f28f00 88.5px,#daa800 92.5px,#ccb600 100.5px,#c7ba00 125.5px,#c7ba00 167.5px)"></i>
<i style="background:linear-gradient(90deg,#c7ba00 0.5px,#cab700 65.5px,#d8aa00 74.5px,#f29000 79.5px,#f97700 82.5px,#f97500 84.5px,#f68300 86.5px,#e1a100 90.5px,#d1b000 95.5px,#c7ba00 110.5px,#c7ba00 167.5px)"></i>
<i style="background:linear-gradient(90deg,#c7ba00 0.5px,#cab700 65.5px,#d6ab00 74.5px,#f38c00 82.5px,#f38d00 85.5px,#d4ae00 93.5px,#c8b900 106.5px,#c7ba00 167.5px)"></i>
<i style="background:linear-gradient(90deg,#c7ba00 0.5px,#cab700 65.5px,#d7ab00 75.5px,#e99900 83.5px,#e59d00 87.5px,#cfb200 95.5px,#c7ba00 113.5px,#c7ba00 167.5px)"></i>
<i style="background:linear-gradient(90deg,#c7ba00 0.5px,#cab700 66.5px,#dfa300 86.5px,#ccb600 98.5px,#c7ba00 125.5px,#c7ba00 167.5px)"></i>
<i style="background:linear-gradient(90deg,#c7ba00 0.5px,#cab700 67.5px,#d3ae00 78.5px,#cfb200 83.5px,#d7aa00 88.5px,#c9b800 102.5px,#c7ba00 167.5px)"></i>
<i style="background:linear-gradient(90deg,#c7ba00 0.5px,#cab700 67.5px,#cfb200 77.5px,#bebf00 82.5px,#d3af00 89.5px,#c8b900 106.5px,#c7ba00 167.5px)"></i>
<i style="background:linear-gradient(90deg,#c7ba00 0.5px,#cab700 68.5px,#cdb400 76.5px,#c8b900 78.5px,#a9cc00 82.5px,#b0c800 84.5px,#cab700 87.5px,#cfb200 92.5px,#c7ba00 112.5px,#c7ba00 167.5px)"></i>
<i style="background:linear-gradient(90deg,#c7ba00 0.5px,#cab700 69.5px,#cbb600 76.5px,#bfbf00 78.5px,#9ad500 81.5px,#94d900 83.5px,#a8cd00 85.5px,#c2bd00 87.5px,#ceb300 90.5px,#c7ba00 118.5px,#c7ba00 167.5px)"></i>
<i style="background:linear-gradient(90deg,#c7ba00 0.5px,#cab700 70.5px,#cbb600 75.5px,#c1bd00 77.5px,#a6ce00 79.5px,#87e100 81.5px,#7fe500 82.5px,#80e500 83.5px,#88e000 84.5px,#c4bc00 88.5px,#ccb500 91.5px,#c7ba00 128.5px,#c7ba00 167.5px)"></i>
<i style="background:linear-gradient(90deg,#c7ba00 0.5px,#cab700 71.5px,#c5bb00 76.5px,#acca00 78.5px,#76eb00 81.5px,#6cf100 82.5px,#6df000 83.5px,#76eb00 84.5px,#bdc000 88.5px,#cab700 90.5px,#c7ba00 167.5px)"></i>
<i style="background:linear-gradient(90deg,#c7ba00 0.5px,#c7ba00 75.5px,#b5c500 77.5px,#64f500 81.5px,#58f908 82.5px,#58f908 83.5px,#65f500 84.5px,#a5cf00 87.5px,#c2bd00 89.5px,#cab700 91.5px,#c7ba00 167.5px)"></i>
<i style="background:linear-gradient(90deg,#c7ba00 0.5px,#c8b900 74.5px,#bdc000 76.5px,#9bd500 78.5px,#69f300 80.5px,#50fa10 81.5px,#40fd20 82.5px,#40fd20 83.5px,#50fa10 84.5px,#69f200 85.5px,#9cd400 87.5px,#bebf00 89.5px,#c9b800 91.5px,#c7ba00 167.5px)"></i>
<i style="background:linear-gradient(90deg,#c7ba00 0.5px,#c7ba00 74.5px,#bac200 76.5px,#aacc00 77.5px,#77ea00 79.5px,#5af906 80.5px,#3bfd25 81.5px,#2afd39 82.5px,#2afd38 83.5px,#3bfd25 84.5px,#5af906 85.5px,#93d900 87.5px,#aacb00 88.5px,#c4bc00 90.5px,#c9b800 95.5px,#c7ba00 167.5px)"></i>
<i style="background:linear-gradient(90deg,#c7ba00 0.5px,#c6ba00 74.5px,#b6c400 76.5px,#a5cf00 77.5px,#6df000 79.5px,#49fb17 80.5px,#28fd3a 81.5px,#18f850 82.5px,#18f850 83.5px,#29fd3a 84.5px,#4afb16 85.5px,#6df000 86.5px,#a5ce00 88.5px,#b7c400 89.5px,#c7ba00 91.5px,#c7ba00 167.5px)"></i>
<i style="background:linear-gradient(90deg,#c7ba00 0.5px,#c5bb00 74.5px,#b3c600 76.5px,#a0d200 77.5px,#64f600 79.5px,#3afe26 80.5px,#1af84d 81.5px,#06f267 82.5px,#07f267 83.5px,#1af84d 84.5px,#3afe26 85.5px,#64f600 86.5px,#a0d100 88.5px,#b4c600 89.5px,#c6bb00 91.5px,#c7ba00 167.5px)"></i>
<i style="background:linear-gradient(90deg,#c7ba00 0.5px,#c7ba00 73.5px,#bec000 75.5px,#b1c700 76.5px,#9bd400 77.5px,#7ee600 78.5px,#5af906 79.5px,#2dfe34 80.5px,#0cf460 81.5px,#00e47e 82.5px,#00e47e 83.5px,#0cf45f 84.5px,#2dfe34 85.5px,#5af906 86.5px,#9cd400 88.5px,#b1c700 89.5px,#c5bb00 91.5px,#c7ba00 167.5px)"></i>
<i style="background:linear-gradient(90deg,#c7ba00 0.5px,#c7ba00 73.5px,#bcc000 75.5px,#afc900 76.5px,#98d700 77.5px,#79e900 78.5px,#51fa0f 79.5px,#24fb40 80.5px,#00f070 81.5px,#00d392 82.5px,#00d392 83.5px,#00f070 84.5px,#24fb40 85.5px,#51fa0f 86.5px,#79e900 87.5px,#98d600 88.5px,#afc900 89.5px,#c4bc00 91.5px,#c8b900 98.5px,#c7ba00 167.5px)"></i>
<i style="background:linear-gradient(90deg,#c7ba00 0.5px,#c6bb00 73.5px,#bbc100 75.5px,#adca00 76.5px,#95d800 77.5px,#74ec00 78.5px,#4afb16 79.5px,#1df94a 80.5px,#00e57d 81.5px,#00c6a1 82.5px,#00c6a1 83.5px,#00e57d 84.5px,#1df94a 85.5px,#4afb16 86.5px,#75ec00 87.5px,#95d800 88.5px,#adca00 89.5px,#c3bd00 91.5px,#c8b900 97.5px,#c7ba00 167.5px)"></i>
<i style="background:linear-gradient(90deg,#c7ba00 0.5px,#c6bb00 73.5px,#bac200 75.5px,#abcb00 76.5px,#92da00 77.5px,#71ee00 78.5px,#45fc1b 79.5px,#17f751 80.5px,#00dd87 81.5px,#00bea7 82.5px,#00bea7 83.5px,#00dd87 84.5px,#18f751 85.5px,#45fc1b 86.5px,#72ed00 87.5px,#92da00 88.5px,#abcb00 89.5px,#bac200 90.5px,#c6bb00 92.5px,#c7ba00 167.5px)"></i>
<i style="background:linear-gradient(90deg,#c7ba00 0.5px,#c5bb00 73.5px,#bac200 75.5px,#aacb00 76.5px,#91db00 77.5px,#6fef00 78.5px,#41fc1f 79.5px,#14f655 80.5px,#00d98c 81.5px,#00bbaa 82.5px,#00bbaa 83.5px,#00d98c 84.5px,#14f655 85.5px,#41fc1f 86.5px,#70ef00 87.5px,#91db00 88.5px,#aacb00 89.5px,#bac200 90.5px,#c6bb00 92.5px,#c7ba00 167.5px)"></i>
<i style="background:linear-gradient(90deg,#c7ba00 0.5px,#c5bb00 73.5px,#b9c200 75.5px,#aacc00 76.5px,#90db00 77.5px,#6fef00 78.5px,#40fd20 79.5px,#13f656 80.5px,#00d88c 81.5px,#00bbaa 82.5px,#00bbaa 83.5px,#00d88c 84.5px,#13f656 85.5px,#40fd20 86.5px,#6fef00 87.5px,#90db00 88.5px,#aacc00 89.5px,#c2bd00 91.5px,#c7ba00 96.5px,#c7ba00 167.5px)"></i>
<i style="background:linear-gradient(90deg,#c7ba00 0.5px,#c5bb00 73.5px,#b9c200 75.5px,#aacc00 76.5px,#90db00 77.5px,#6fef00 78.5px,#41fd1f 79.5px,#15f654 80.5px,#00dc88 81.5px,#00bfa7 82.5px,#00bfa7 83.5px,#00dc88 84.5px,#15f654 85.5px,#41fd1f 86.5px,#6fef00 87.5px,#90db00 88.5px,#aacc00 89.5px,#b9c200 90.5px,#c5bb00 92.5px,#c7ba00 167.5px)"></i>
<i style="background:linear-gradient(90deg,#c7ba00 0.5px,#c5bb00 73.5px,#b9c200 75.5px,#aacb00 76.5px,#91da00 77.5px,#71ee00 78.5px,#44fc1c 79.5px,#18f850 80.5px,#00e281 81.5px,#00c6a1 82.5px,#00c6a1 83.5px,#00e281 84.5px,#18f850 85.5px,#44fc1c 86.5px,#71ee00 87.5px,#91da00 88.5px,#aacb00 89.5px,#b9c200 90.5px,#c5bb00 92.5px,#c7ba00 167.5px)"></i>
<i style="background:linear-gradient(90deg,#c7ba00 0.5px,#c5bb00 73.5px,#bac200 75.5px,#abcb00 76.5px,#93d900 77.5px,#73ec00 78.5px,#49fb17 79.5px,#1df949 80.5px,#00eb76 81.5px,#00d295 82.5px,#00d295 83.5px,#00eb76 84.5px,#1df949 85.5px,#49fb17 86.5px,#73ec00 87.5px,#93d900 88.5px,#abcb00 89.5px,#bac200 90.5px,#c5bb00 92.5px,#c7ba00 167.5px)"></i>
<i style="background:linear-gradient(90deg,#c7ba00 0.5px,#c5bb00 73.5px,#bbc100 75.5px,#adca00 76.5px,#96d800 77.5px,#77ea00 78.5px,#4ffa11 79.5px,#24fb40 80.5px,#05f269 81.5px,#00df84 82.5px,#00df84 83.5px,#05f269 84.5px,#24fb40 85.5px,#50fa10 86.5px,#77ea00 87.5px,#96d800 88.5px,#adca00 89.5px,#bbc100 90.5px,#c7ba00 93.5px,#c7ba00 167.5px)"></i>
<i style="background:linear-gradient(90deg,#c7ba00 0.5px,#c6bb00 73.5px,#bcc100 75.5px,#afc900 76.5px,#99d600 77.5px,#7be800 78.5px,#58f908 79.5px,#2cfe35 80.5px,#10f55b 81.5px,#00ee72 82.5px,#00ee72 83.5px,#10f55b 84.5px,#2cfe35 85.5px,#58f908 86.5px,#7be800 87.5px,#99d600 88.5px,#afc900 89.5px,#c3bd00 91.5px,#c7ba00 99.5px,#c7ba00 167.5px)"></i>
<i style="background:linear-gradient(90deg,#c7ba00 0.5px,#c6bb00 73.5px,#bdc000 75.5px,#b1c700 76.5px,#9dd300 77.5px,#61f700 79.5px,#38fe28 80.5px,#1cf94b 81.5px,#0df45f 82.5px,#0df45f 83.5px,#1cf94b 84.5px,#38fe28 85.5px,#61f700 86.5px,#9dd300 88.5px,#b1c700 89.5px,#c3bc00 91.5px,#c7ba00 99.5px,#c7ba00 167.5px)"></i>
<i style="background:linear-gradient(90deg,#c7ba00 0.5px,#c7ba00 73.5px,#bfbf00 75.5px,#b4c600 76.5px,#a2d100 77.5px,#6af200 79.5px,#47fc19 80.5px,#29fd39 81.5px,#1bf94c 82.5px,#1bf94c 83.5px,#29fd39 84.5px,#47fc19 85.5px,#6af200 86.5px,#a2d000 88.5px,#b4c500 89.5px,#c4bc00 91.5px,#c7ba00 97.5px,#c7ba00 167.5px)"></i>
<i style="background:linear-gradient(90deg,#c7ba00 0.5px,#c6bb00 74.5px,#b7c400 76.5px,#a7cd00 77.5px,#74ec00 79.5px,#57f909 80.5px,#39fe27 81.5px,#2bfd37 82.5px,#2bfd37 83.5px,#39fe27 84.5px,#57f909 85.5px,#74ec00 86.5px,#a7cd00 88.5px,#c1be00 90.5px,#c8b900 93.5px,#c7ba00 167.5px)"></i>
<i style="background:linear-gradient(90deg,#c7ba00 0.5px,#c7ba00 74.5px,#bbc100 76.5px,#adca00 77.5px,#66f400 80.5px,#4efb12 81.5px,#3ffd21 82.5px,#3ffd21 83.5px,#4efb12 84.5px,#66f400 85.5px,#adca00 88.5px,#c4bc00 90.5px,#c8b900 96.5px,#c7ba00 167.5px)"></i>
<i style="background:linear-gradient(90deg,#c7ba00 0.5px,#c6ba00 75.5px,#b4c600 77.5px,#63f600 81.5px,#57f909 82.5px,#57f909 83.5px,#63f600 84.5px,#b4c500 88.5px,#c7ba00 90.5px,#c7ba00 115.5px,#c7ba00 167.5px)"></i>
<i style="background:linear-gradient(90deg,#c7ba00 0.5px,#cab700 72.5px,#c5bb00 76.5px,#adca00 78.5px,#77ea00 81.5px,#6ef000 82.5px,#6ef000 83.5px,#86e100 85.5px,#bcc100 88.5px,#c9b800 90.5px,#c7ba00 167.5px)"></i>
<i style="background:linear-gradient(90deg,#c7ba00 0.5px,#cab700 70.5px,#c9b800 76.5px,#b9c200 78.5px,#8ddd00 81.5px,#85e200 82.5px,#86e100 83.5px,#9cd400 85.5px,#c5bb00 88.5px,#cdb500 92.5px,#c7ba00 116.5px,#c7ba00 167.5px)"></i>
<i style="background:linear-gradient(90deg,#c7ba00 0.5px,#cab700 68.5px,#ceb300 76.5px,#c7ba00 78.5px,#a9cc00 81.5px,#a4cf00 83.5px,#b5c500 85.5px,#c8b900 87.5px,#cfb200 90.5px,#c7ba00 112.5px,#c7ba00 167.5px)"></i>
<i style="background:linear-gradient(90deg,#c7ba00 0.5px,#cab700 67.5px,#d2af00 77.5px,#c7ba00 83.5px,#d4ad00 88.5px,#c7ba00 106.5px,#c7ba00 167.5px)"></i>
<i style="background:linear-gradient(90deg,#c7ba00 0.5px,#cab700 66.5px,#dca500 81.5px,#dca500 88.5px,#cbb600 98.5px,#c7ba00 130.5px,#c7ba00 167.5px)"></i>
<i style="background:linear-gradient(90deg,#c7ba00 0.5px,#cab700 66.5px,#d9a800 75.5px,#f38d00 82.5px,#f29000 85.5px,#d5ac00 92.5px,#c9b800 102.5px,#c7ba00 167.5px)"></i>
<i style="background:linear-gradient(90deg,#c7ba00 0.5px,#cab700 65.5px,#d6ac00 73.5px,#e89a00 77.5px,#fb7000 81.5px,#fd6800 83.5px,#fa7300 85.5px,#ec9600 88.5px,#d7ab00 92.5px,#c9b800 102.5px,#c7ba00 167.5px)"></i>
<i style="background:linear-gradient(90deg,#c7ba00 0.5px,#cab700 65.5px,#d7aa00 73.5px,#e69c00 76.5px,#f48700 78.5px,#ff5600 81.5px,#ff4c00 82.5px,#ff4a00 83.5px,#ff5c00 85.5px,#f29000 88.5px,#dca500 91.5px,#cab700 100.5px,#c7ba00 167.5px)"></i>
<i style="background:linear-gradient(90deg,#c7ba00 0.5px,#cab700 65.5px,#d8aa00 73.5px,#e89a00 76.5px,#f19100 77.5px,#ff5600 80.5px,#ff3a00 82.5px,#ff3800 83.5px,#ff3f00 84.5px,#ff6000 86.5px,#f48a00 88.5px,#e49e00 90.5px,#d3ae00 94.5px,#c8b900 105.5px,#c7ba00 167.5px)"></i>
<i style="background:linear-gradient(90deg,#c7ba00 0.5px,#cab700 65.5px,#d8aa00 73.5px,#e89a00 76.5px,#f29000 77.5px,#ff5200 80.5px,#ff4000 81.5px,#ff3500 82.5px,#ff3300 83.5px,#ff3a00 84.5px,#ff5e00 86.5px,#f48800 88.5px,#e49e00 90.5px,#d3ae00 94.5px,#c8b900 105.5px,#c7ba00 167.5px)"></i>
<i style="background:linear-gradient(90deg,#c7ba00 0.5px,#cab700 65.5px,#d7aa00 73.5px,#e79b00 76.5px,#f09200 77.5px,#ff5900 80.5px,#ff4800 81.5px,#ff3f00 82.5px,#ff3e00 83.5px,#ff4400 84.5px,#fe6400 86.5px,#f38c00 88.5px,#e29f00 90.5px,#d3ae00 94.5px,#c8b900 105.5px,#c7ba00 167.5px)"></i>
<i style="background:linear-gradient(90deg,#c7ba00 0.5px,#cab700 65.5px,#d6ac00 73.5px,#ec9600 77.5px,#f38b00 78.5px,#fd6700 80.5px,#ff5c00 81.5px,#fc6a00 83.5px,#fd6600 85.5px,#fa7100 86.5px,#ef9200 88.5px,#dba700 91.5px,#cbb600 99.5px,#c7ba00 131.5px,#c7ba00 167.5px)"></i>
<i style="background:linear-gradient(90deg,#c7ba00 0.5px,#cab700 66.5px,#d7aa00 74.5px,#ee9400 78.5px,#f77c00 80.5px,#f68100 81.5px,#dca500 82.5px,#b6c400 83.5px,#d1b000 84.5px,#f28f00 85.5px,#f58500 86.5px,#e99900 88.5px,#d5ac00 92.5px,#c9b800 102.5px,#c7ba00 167.5px)"></i>
<i style="background:linear-gradient(90deg,#c7ba00 0.5px,#cab700 66.5px,#d7aa00 75.5px,#f09200 80.5px,#dfa300 81.5px,#72ed00 82.5px,#0af362 83.5px,#51fa0f 84.5px,#d1b000 85.5px,#eb9700 86.5px,#d3ae00 92.5px,#c8b900 104.5px,#c7ba00 167.5px)"></i>
<i style="background:linear-gradient(90deg,#c7ba00 0.5px,#cab700 67.5px,#d7aa00 76.5px,#e59d00 80.5px,#ceb400 81.5px,#43fc1d 82.5px,#00c3a4 83.5px,#20fa45 84.5px,#bac200 85.5px,#e0a200 86.5px,#dca500 88.5px,#ccb500 96.5px,#c7ba00 121.5px,#c7ba00 167.5px)"></i>
<i style="background:linear-gradient(90deg,#c7ba00 0.5px,#cab700 68.5px,#d6ac00 77.5px,#dca500 80.5px,#cfb200 81.5px,#73ed00 82.5px,#0bf362 83.5px,#5ef802 84.5px,#c6ba00 85.5px,#d9a800 86.5px,#c9b800 99.5px,#c7ba00 167.5px)"></i>
<i style="background:linear-gradient(90deg,#c7ba00 0.5px,#cab700 70.5px,#d6ab00 80.5px,#d3af00 81.5px,#acca00 82.5px,#64f600 83.5px,#a5cf00 84.5px,#d0b100 85.5px,#d4ad00 87.5px,#c8b900 101.5px,#c7ba00 167.5px)"></i>
<i style="background:linear-gradient(90deg,#c7ba00 0.5px,#cab700 71.5px,#d1b000 81.5px,#bebf00 82.5px,#84e300 83.5px,#bdc000 84.5px,#d0b100 85.5px,#c7ba00 109.5px,#c7ba00 167.5px)"></i>
<i style="background:linear-gradient(90deg,#c7ba00 0.5px,#cab700 74.5px,#cdb400 81.5px,#bbc100 82.5px,#84e200 83.5px,#bbc100 84.5px,#cdb400 85.5px,#c7ba00 119.5px,#c7ba00 167.5px)"></i>
<i style="background:linear-gradient(90deg,#c7ba00 0.5px,#cab700 77.5px,#cbb600 81.5px,#b7c400 82.5px,#80e500 83.5px,#b7c400 84.5px,#cbb700 85.5px,#c7ba00 149.5px,#c7ba00 167.5px)"></i>
<i style="background:linear-gradient(90deg,#c7ba00 0.5px,#c9b800 81.5px,#b4c600 82.5px,#7ee600 83.5px,#b3c600 84.5px,#c9b800 85.5px,#c7ba00 167.5px)"></i>
<i style="background:linear-gradient(90deg,#c7ba00 0.5px,#c8b900 81.5px,#b1c700 82.5px,#7ce700 83.5px,#b1c700 84.5px,#c7ba00 85.5px,#c7ba00 167.5px)"></i>
<i style="background:linear-gradient(90deg,#c7ba00 0.5px,#c6ba00 81.5px,#b0c800 82.5px,#7ae800 83.5px,#afc800 84.5px,#c6bb00 85.5px,#c7ba00 167.5px)"></i>
<i style="background:linear-gradient(90deg,#c7ba00 0.5px,#c5bb00 81.5px,#aec900 82.5px,#79e900 83.5px,#aec900 84.5px,#c5bb00 85.5px,#c7ba00 167.5px)"></i>
<i style="background:linear-gradient(90deg,#c7ba00 0.5px,#c4bc00 81.5px,#adca00 82.5px,#77ea00 83.5px,#acca00 84.5px,#c3bc00 85.5px,#c7ba00 101.5px,#c7ba00 167.5px)"></i>
<i style="background:linear-gradient(90deg,#c7ba00 0.5px,#c4bc00 80.5px,#c3bd00 81.5px,#abcb00 82.5px,#76eb00 83.5px,#abcb00 84.5px,#c2bd00 85.5px,#c7ba00 97.5px,#c7ba00 167.5px)"></i>
<i style="background:linear-gradient(90deg,#c7ba00 0.5px,#c5bb00 79.5px,#c1bd00 81.5px,#a9cc00 82.5px,#74ec00 83.5px,#a9cc00 84.5px,#c0be00 85.5px,#c7ba00 93.5px,#c7ba00 167.5px)"></i>
<i style="background:linear-gradient(90deg,#c7ba00 0.5px,#c4bc00 79.5px,#c0be00 81.5px,#a7cd00 82.5px,#73ed00 83.5px,#a7ce00 84.5px,#bebf00 85.5px,#c7ba00 92.5px,#c7ba00 167.5px)"></i>
<i style="background:linear-gradient(90deg,#c7ba00 0.5px,#c5bb00 78.5px,#bec000 81.5px,#a5ce00 82.5px,#70ee00 83.5px,#a4cf00 84.5px,#bcc100 85.5px,#c7ba00 91.5px,#c7ba00 167.5px)"></i>
<i style="background:linear-gradient(90deg,#c7ba00 0.5px,#c4bc00 78.5px,#bbc100 81.5px,#a2d000 82.5px,#6df000 83.5px,#a1d100 84.5px,#b9c200 85.5px,#c7ba00 91.5px,#c7ba00 167.5px)"></i>
<i style="background:linear-gradient(90deg,#c7ba00 0.5px,#c4bc00 78.5px,#b9c300 81.5px,#9fd200 82.5px,#6af200 83.5px,#9dd300 84.5px,#b6c400 85.5px,#c6bb00 90.5px,#c7ba00 167.5px)"></i>
<i style="background:linear-gradient(90deg,#c7ba00 0.5px,#c5bb00 77.5px,#b5c500 81.5px,#9bd500 82.5px,#66f400 83.5px,#98d600 84.5px,#b2c700 85.5px,#c4bc00 89.5px,#c7ba00 167.5px)"></i>
<i style="background:linear-gradient(90deg,#c7ba00 0.5px,#c5bb00 77.5px,#b2c700 81.5px,#96d800 82.5px,#62f700 83.5px,#93da00 84.5px,#adca00 85.5px,#c3bd00 89.5px,#c7ba00 101.5px,#c7ba00 167.5px)"></i>
<i style="background:linear-gradient(90deg,#c7ba00 0.5px,#c4bc00 77.5px,#b5c500 80.5px,#adca00 81.5px,#90db00 82.5px,#5bf905 83.5px,#8cdd00 84.5px,#a7cd00 85.5px,#c2bd00 89.5px,#c7ba00 96.5px,#c7ba00 167.5px)"></i>
<i style="background:linear-gradient(90deg,#c7ba00 0.5px,#c4bc00 77.5px,#b2c700 80.5px,#a8cd00 81.5px,#89df00 82.5px,#53fa0d 83.5px,#85e200 84.5px,#a1d100 85.5px,#c1be00 89.5px,#c7ba00 95.5px,#c7ba00 167.5px)"></i>
<i style="background:linear-gradient(90deg,#c7ba00 0.5px,#c5bb00 76.5px,#bfbf00 78.5px,#a2d000 81.5px,#82e300 82.5px,#4afb16 83.5px,#7ee600 84.5px,#99d500 85.5px,#b9c200 88.5px,#c6bb00 91.5px,#c7ba00 167.5px)"></i>
<i style="background:linear-gradient(90deg,#c7ba00 0.5px,#c5bb00 76.5px,#b5c500 79.5px,#9bd500 81.5px,#7be800 82.5px,#40fd20 83.5px,#75eb00 84.5px,#91db00 85.5px,#b6c400 88.5px,#c5bb00 91.5px,#c7ba00 167.5px)"></i>
<i style="background:linear-gradient(90deg,#c7ba00 0.5px,#c5bb00 76.5px,#bbc100 78.5px,#a4cf00 80.5px,#93d900 81.5px,#72ed00 82.5px,#33ff2d 83.5px,#6bf100 84.5px,#87e000 85.5px,#b4c600 88.5px,#c2bd00 90.5px,#c7ba00 97.5px,#c7ba00 167.5px)"></i>
<i style="background:linear-gradient(90deg,#c7ba00 0.5px,#c4bc00 76.5px,#b9c200 78.5px,#9ed300 80.5px,#8adf00 81.5px,#68f300 82.5px,#28fd3b 83.5px,#5ff801 84.5px,#7ee600 85.5px,#b0c800 88.5px,#c1bd00 90.5px,#c7ba00 96.5px,#c7ba00 167.5px)"></i>
<i style="background:linear-gradient(90deg,#c7ba00 0.5px,#c4bc00 76.5px,#b7c400 78.5px,#97d700 80.5px,#82e400 81.5px,#61f700 82.5px,#2bfd37 83.5px,#55fa0b 84.5px,#73ec00 85.5px,#adca00 88.5px,#c1be00 90.5px,#c7ba00 96.5px,#c7ba00 167.5px)"></i>
<i style="background:linear-gradient(90deg,#c7ba00 0.5px,#c6bb00 75.5px,#bebf00 77.5px,#a6ce00 79.5px,#61f700 82.5px,#4bfb15 83.5px,#52fa0e 84.5px,#68f300 85.5px,#a9cc00 88.5px,#c0be00 90.5px,#c7ba00 94.5px,#c7ba00 167.5px)"></i>
<i style="background:linear-gradient(90deg,#c7ba00 0.5px,#c5bb00 75.5px,#bdc000 77.5px,#b3c600 78.5px,#89df00 80.5px,#6fef00 81.5px,#51fa0f 82.5px,#39fe27 83.5px,#3dfd23 84.5px,#59f907 85.5px,#76eb00 86.5px,#a5ce00 88.5px,#bfbf00 90.5px,#c7ba00 94.5px,#c7ba00 167.5px)"></i>
<i style="background:linear-gradient(90deg,#c7ba00 0.5px,#c5bb00 75.5px,#bcc100 77.5px,#b0c800 78.5px,#9dd300 79.5px,#65f500 81.5px,#3cfd24 82.5px,#24fb41 83.5px,#28fc3b 84.5px,#48fc18 85.5px,#6cf100 86.5px,#a1d100 88.5px,#b3c600 89.5px,#c3bc00 91.5px,#c7ba00 99.5px,#c7ba00 167.5px)"></i>
<i style="background:linear-gradient(90deg,#c7ba00 0.5px,#c5bb00 75.5px,#bbc100 77.5px,#aec900 78.5px,#7ce700 80.5px,#58f908 81.5px,#29fd39 82.5px,#0ff55c 83.5px,#15f655 84.5px,#35fe2b 85.5px,#63f600 86.5px,#9dd300 88.5px,#b1c700 89.5px,#c3bd00 91.5px,#c7ba00 99.5px,#c7ba00 167.5px)"></i>
<i style="background:linear-gradient(90deg,#c7ba00 0.5px,#c5bb00 75.5px,#bac200 77.5px,#abcb00 78.5px,#75ec00 80.5px,#4afb16 81.5px,#18f84f 82.5px,#00e77b 83.5px,#00ef71 84.5px,#25fc3e 85.5px,#57f909 86.5px,#7be800 87.5px,#99d600 88.5px,#afc900 89.5px,#bcc100 90.5px,#c6ba00 93.5px,#c7ba00 167.5px)"></i>
<i style="background:linear-gradient(90deg,#c7ba00 0.5px,#c5bb00 75.5px,#b8c300 77.5px,#a8cd00 78.5px,#6ef000 80.5px,#3cfd24 81.5px,#07f267 82.5px,#00cc9b 83.5px,#00d78f 84.5px,#17f752 85.5px,#4bfb15 86.5px,#75eb00 87.5px,#94d900 88.5px,#acca00 89.5px,#bbc200 90.5px,#c5bb00 92.5px,#c7ba00 167.5px)"></i>
<i style="background:linear-gradient(90deg,#c7ba00 0.5px,#c5bb00 75.5px,#b7c400 77.5px,#a6ce00 78.5px,#8adf00 79.5px,#67f400 80.5px,#2efe33 81.5px,#00e47e 82.5px,#00b6ae 83.5px,#00c0a6 84.5px,#08f365 85.5px,#3ffd21 86.5px,#6fef00 87.5px,#90db00 88.5px,#aacb00 89.5px,#bac200 90.5px,#c6ba00 93.5px,#c7ba00 167.5px)"></i>
<i style="background:linear-gradient(90deg,#c7ba00 0.5px,#c4bc00 75.5px,#b6c400 77.5px,#a3d000 78.5px,#85e200 79.5px,#60f800 80.5px,#25fb3f 81.5px,#00d195 82.5px,#00a3c0 83.5px,#00adb5 84.5px,#00ea78 85.5px,#33ff2d 86.5px,#69f200 87.5px,#8cde00 88.5px,#a8cd00 89.5px,#b9c300 90.5px,#c5bb00 92.5px,#c7ba00 167.5px)"></i>
<i style="background:linear-gradient(90deg,#c7ba00 0.5px,#c4bc00 75.5px,#b5c500 77.5px,#a1d100 78.5px,#82e400 79.5px,#59f907 80.5px,#1cf94b 81.5px,#00c2a4 82.5px,#0095d7 83.5px,#009fc8 84.5px,#00db89 85.5px,#2bfd37 86.5px,#64f600 87.5px,#a6ce00 89.5px,#b8c300 90.5px,#c5bb00 92.5px,#c7ba00 167.5px)"></i>
<i style="background:linear-gradient(90deg,#c7ba00 0.5px,#c4bc00 75.5px,#b4c600 77.5px,#9fd200 78.5px,#7fe600 79.5px,#52fa0e 80.5px,#14f655 81.5px,#00b7ad 82.5px,#0084ec 83.5px,#0094d9 84.5px,#00cf97 85.5px,#24fb40 86.5px,#5ff801 87.5px,#85e200 88.5px,#a4cf00 89.5px,#b7c400 90.5px,#c5bb00 92.5px,#c7ba00 167.5px)"></i>
<i style="background:linear-gradient(90deg,#c7ba00 0.5px,#c4bc00 75.5px,#bfbf00 76.5px,#b3c600 77.5px,#9dd300 78.5px,#7ce700 79.5px,#4dfb13 80.5px,#0ef45e 81.5px,#00aeb3 82.5px,#0074fb 83.5px,#0089e7 84.5px,#00c6a1 85.5px,#1efa47 86.5px,#5af906 87.5px,#83e300 88.5px,#a3d000 89.5px,#b6c400 90.5px,#c5bb00 92.5px,#c7ba00 167.5px)"></i>
<i style="background:linear-gradient(90deg,#c7ba00 0.5px,#c4bc00 75.5px,#b2c600 77.5px,#9cd400 78.5px,#79e900 79.5px,#48fb18 80.5px,#09f364 81.5px,#00a9b7 82.5px,#006bff 83.5px,#0080ef 84.5px,#00c1a5 85.5px,#1af84d 86.5px,#55fa0b 87.5px,#81e400 88.5px,#a1d100 89.5px,#b5c500 90.5px,#c0be00 91.5px,#c7ba00 95.5px,#c7ba00 167.5px)"></i>
<i style="background:linear-gradient(90deg,#c7ba00 0.5px,#c4bc00 75.5px,#b2c700 77.5px,#9bd500 78.5px,#78ea00 79.5px,#45fc1b 80.5px,#06f268 81.5px,#00a7b9 82.5px,#0069ff 83.5px,#007ef2 84.5px,#00bea7 85.5px,#17f751 86.5px,#52fa0e 87.5px,#7fe500 88.5px,#a0d100 89.5px,#b5c500 90.5px,#c0be00 91.5px,#c7ba00 95.5px,#c7ba00 167.5px)"></i>
<i style="background:linear-gradient(90deg,#c7ba00 0.5px,#c4bc00 75.5px,#b2c700 77.5px,#9ad500 78.5px,#76eb00 79.5px,#42fc1e 80.5px,#05f269 81.5px,#00a8b8 82.5px,#006dff 83.5px,#0081ef 84.5px,#00bea8 85.5px,#15f754 86.5px,#50fa10 87.5px,#7ee600 88.5px,#a0d200 89.5px,#b5c500 90.5px,#c0be00 91.5px,#c7ba00 95.5px,#c7ba00 167.5px)"></i>
<i style="background:linear-gradient(90deg,#c7ba00 0.5px,#c4bc00 75.5px,#bebf00 76.5px,#b1c700 77.5px,#9ad500 78.5px,#76eb00 79.5px,#42fc1e 80.5px,#05f269 81.5px,#00abb6 82.5px,#0076f9 83.5px,#0087e8 84.5px,#00bfa7 85.5px,#15f654 86.5px,#4ffa11 87.5px,#7ee600 88.5px,#9fd200 89.5px,#b5c500 90.5px,#c0be00 91.5px,#c7ba00 95.5px,#c7ba00 167.5px)"></i>
<i style="background:linear-gradient(90deg,#c7ba00 0.5px,#c4bc00 75.5px,#bebf00 76.5px,#b1c700 77.5px,#9ad500 78.5px,#76eb00 79.5px,#42fc1e 80.5px,#07f267 81.5px,#00afb2 82.5px,#0081ef 83.5px,#0090e0 84.5px,#00c2a5 85.5px,#15f754 86.5px,#4ffa11 87.5px,#7ee600 88.5px,#a0d200 89.5px,#b5c500 90.5px,#c5bb00 92.5px,#c7ba00 167.5px)"></i>
<i style="background:linear-gradient(90deg,#c7ba00 0.5px,#c4bc00 75.5px,#b2c700 77.5px,#9ad500 78.5px,#77ea00 79.5px,#44fc1c 80.5px,#0af363 81.5px,#00b4af 82.5px,#008be5 83.5px,#0094d9 84.5px,#00c4a3 85.5px,#17f752 86.5px,#51fa0f 87.5px,#7ee600 88.5px,#a0d200 89.5px,#b5c500 90.5px,#c5bb00 92.5px,#c7ba00 167.5px)"></i>
<i style="background:linear-gradient(90deg,#c7ba00 0.5px,#c4bc00 75.5px,#bfbf00 76.5px,#b2c600 77.5px,#9bd400 78.5px,#78e900 79.5px,#47fc19 80.5px,#0df45f 81.5px,#00b9ab 82.5px,#0091de 83.5px,#0097d5 84.5px,#00c7a1 85.5px,#19f84f 86.5px,#53fa0d 87.5px,#80e500 88.5px,#a1d100 89.5px,#b6c500 90.5px,#c5bb00 92.5px,#c7ba00 167.5px)"></i>
<i style="background:linear-gradient(90deg,#c7ba00 0.5px,#c5bc00 75.5px,#b3c600 77.5px,#9dd400 78.5px,#7ae800 79.5px,#4bfb15 80.5px,#11f55a 81.5px,#00bda8 82.5px,#0093da 83.5px,#0098d3 84.5px,#00c99f 85.5px,#1cf94b 86.5px,#56f90a 87.5px,#82e400 88.5px,#a2d000 89.5px,#b6c400 90.5px,#c1be00 91.5px,#c7ba00 95.5px,#c7ba00 167.5px)"></i>
<i style="background:linear-gradient(90deg,#c7ba00 0.5px,#c5bb00 75.5px,#c0be00 76.5px,#b4c500 77.5px,#9ed200 78.5px,#7de700 79.5px,#50fa10 80.5px,#15f753 81.5px,#00c0a6 82.5px,#0094d9 83.5px,#0098d3 84.5px,#00cb9d 85.5px,#1ffa46 86.5px,#5bf905 87.5px,#84e200 88.5px,#a4cf00 89.5px,#b7c400 90.5px,#c5bb00 92.5px,#c7ba00 167.5px)"></i>
<i style="background:linear-gradient(90deg,#c7ba00 0.5px,#c5bb00 75.5px,#b5c500 77.5px,#a1d100 78.5px,#80e500 79.5px,#55fa0b 80.5px,#1bf84d 81.5px,#00c4a3 82.5px,#0094d9 83.5px,#0097d4 84.5px,#00cd9a 85.5px,#23fb41 86.5px,#60f800 87.5px,#87e100 88.5px,#a6ce00 89.5px,#b8c300 90.5px,#c6bb00 92.5px,#c7ba00 167.5px)"></i>
<i style="background:linear-gradient(90deg,#c7ba00 0.5px,#c6bb00 75.5px,#b7c400 77.5px,#a3d000 78.5px,#84e200 79.5px,#5cf904 80.5px,#21fa44 81.5px,#00c99e 82.5px,#0096d6 83.5px,#0098d2 84.5px,#00d294 85.5px,#29fd3a 86.5px,#65f500 87.5px,#8bde00 88.5px,#a8cd00 89.5px,#bac200 90.5px,#c6ba00 92.5px,#c7ba00 167.5px)"></i>
<i style="background:linear-gradient(90deg,#c7ba00 0.5px,#c6ba00 75.5px,#b8c300 77.5px,#a6ce00 78.5px,#88e000 79.5px,#63f600 80.5px,#28fd3a 81.5px,#00d393 82.5px,#009bcd 83.5px,#009dca 84.5px,#00da8b 85.5px,#2fff31 86.5px,#6bf100 87.5px,#8fdc00 88.5px,#abcb00 89.5px,#bbc100 90.5px,#c7ba00 92.5px,#c7ba00 167.5px)"></i>
<i style="background:linear-gradient(90deg,#c7ba00 0.5px,#c7ba00 75.5px,#bac200 77.5px,#a9cc00 78.5px,#8ddd00 79.5px,#6af200 80.5px,#31ff2f 81.5px,#00e083 82.5px,#00a5be 83.5px,#00a6bb 84.5px,#00e67c 85.5px,#3afd26 86.5px,#72ed00 87.5px,#94d900 88.5px,#aec900 89.5px,#bdc000 90.5px,#c7ba00 92.5px,#c7ba00 167.5px)"></i>
<i style="background:linear-gradient(90deg,#c7ba00 0.5px,#c5bc00 76.5px,#adca00 78.5px,#93d900 79.5px,#72ed00 80.5px,#3ffd21 81.5px,#01f06f 82.5px,#00b6ae 83.5px,#00b8ac 84.5px,#06f268 85.5px,#48fc18 86.5px,#79e900 87.5px,#99d600 88.5px,#b1c700 89.5px,#bfbf00 90.5px,#c8b900 92.5px,#c7ba00 167.5px)"></i>
<i style="background:linear-gradient(90deg,#c7ba00 0.5px,#c6bb00 76.5px,#bfbf00 77.5px,#b1c800 78.5px,#99d600 79.5px,#7ae800 80.5px,#4ffb11 81.5px,#13f657 82.5px,#00ce99 83.5px,#00d096 84.5px,#17f751 85.5px,#56f90a 86.5px,#80e500 87.5px,#9fd200 88.5px,#b4c500 89.5px,#c1be00 90.5px,#c8b900 92.5px,#c7ba00 167.5px)"></i>
<i style="background:linear-gradient(90deg,#c7ba00 0.5px,#c7ba00 76.5px,#b5c500 78.5px,#a0d200 79.5px,#83e300 80.5px,#5ff801 81.5px,#27fc3c 82.5px,#00ee72 83.5px,#00f070 84.5px,#2afd37 85.5px,#65f500 86.5px,#a5cf00 88.5px,#b8c300 89.5px,#c8b900 91.5px,#c7ba00 167.5px)"></i>
<i style="background:linear-gradient(90deg,#c7ba00 0.5px,#c8b900 76.5px,#c4bc00 77.5px,#b9c300 78.5px,#a6ce00 79.5px,#6df000 81.5px,#3ffd21 82.5px,#1bf94b 83.5px,#1df94a 84.5px,#44fc1c 85.5px,#72ed00 86.5px,#92da00 87.5px,#abcb00 88.5px,#bcc100 89.5px,#c6bb00 90.5px,#c9b800 96.5px,#c7ba00 167.5px)"></i>
<i style="background:linear-gradient(90deg,#c7ba00 0.5px,#cab700 73.5px,#c7ba00 77.5px,#adc900 79.5px,#7be800 81.5px,#5af906 82.5px,#39fe27 83.5px,#3bfd25 84.5px,#5ef802 85.5px,#9bd400 87.5px,#b1c700 88.5px,#c0be00 89.5px,#cab700 91.5px,#c7ba00 167.5px)"></i>
<i style="background:linear-gradient(90deg,#c7ba00 0.5px,#cab700 71.5px,#c9b800 77.5px,#b5c500 79.5px,#70ef00 82.5px,#5bf905 83.5px,#5df803 84.5px,#a6ce00 87.5px,#c5bb00 89.5px,#ccb500 92.5px,#c7ba00 127.5px,#c7ba00 167.5px)"></i>
<i style="background:linear-gradient(90deg,#c7ba00 0.5px,#cab700 70.5px,#cbb600 77.5px,#c7ba00 78.5px,#acca00 80.5px,#83e300 82.5px,#75eb00 83.5px,#76eb00 84.5px,#9cd400 86.5px,#bfbf00 88.5px,#c9b900 89.5px,#ccb500 93.5px,#c7ba00 128.5px,#c7ba00 167.5px)"></i>
<i style="background:linear-gradient(90deg,#c7ba00 0.5px,#cab700 69.5px,#cdb400 77.5px,#c4bc00 79.5px,#8bde00 83.5px,#8cdd00 84.5px,#c7ba00 88.5px,#cfb300 91.5px,#c7ba00 115.5px,#c7ba00 167.5px)"></i>
<i style="background:linear-gradient(90deg,#c7ba00 0.5px,#cab700 68.5px,#ceb300 78.5px,#c3bc00 80.5px,#a2d000 83.5px,#a3d000 84.5px,#c6bb00 87.5px,#d0b100 90.5px,#c7ba00 113.5px,#c7ba00 167.5px)"></i>
<i style="background:linear-gradient(90deg,#c7ba00 0.5px,#cab700 67.5px,#d2af00 78.5px,#c6ba00 81.5px,#b8c300 83.5px,#c0be00 85.5px,#d1b000 88.5px,#cfb300 94.5px,#c7ba00 112.5px,#c7ba00 167.5px)"></i>
<i style="background:linear-gradient(90deg,#c7ba00 0.5px,#cab700 67.5px,#d6ab00 79.5px,#cbb600 84.5px,#d7aa00 89.5px,#c8b900 104.5px,#c7ba00 167.5px)"></i>
<i style="background:linear-gradient(90deg,#c7ba00 0.5px,#cab700 66.5px,#d7ab00 76.5px,#dca600 80.5px,#daa800 85.5px,#dca600 89.5px,#cbb600 99.5px,#c7ba00 139.5px,#c7ba00 167.5px)"></i>
<i style="background:linear-gradient(90deg,#c7ba00 0.5px,#cab700 66.5px,#d9a800 76.5px,#e59d00 81.5px,#e39f00 88.5px,#cfb200 96.5px,#c7ba00 114.5px,#c7ba00 167.5px)"></i>
<i style="background:linear-gradient(90deg,#c7ba00 0.5px,#cab700 65.5px,#d8a900 75.5px,#ef9300 81.5px,#f09200 86.5px,#d3ae00 94.5px,#c8b900 107.5px,#c7ba00 167.5px)"></i>
<i style="background:linear-gradient(90deg,#c7ba00 0.5px,#cab700 65.5px,#d7ab00 74.5px,#f38b00 80.5px,#f77f00 82.5px,#d8a900 83.5px,#d9a900 84.5px,#f77e00 85.5px,#f09200 88.5px,#d7aa00 93.5px,#cab700 102.5px,#c7ba00 167.5px)"></i>
<i style="background:linear-gradient(90deg,#c7ba00 0.5px,#cab700 64.5px,#d5ac00 73.5px,#ee9300 78.5px,#fa7200 81.5px,#fc6c00 82.5px,#ceb400 83.5px,#cab700 84.5px,#fc6c00 85.5px,#f77c00 87.5px,#e79a00 90.5px,#d3ae00 95.5px,#c8b900 107.5px,#c7ba00 167.5px)"></i>
<i style="background:linear-gradient(90deg,#c7ba00 0.5px,#cab700 64.5px,#d6ab00 73.5px,#eb9700 77.5px,#f77f00 79.5px,#fe6200 81.5px,#ff5900 82.5px,#dda500 83.5px,#d2af00 84.5px,#ff5a00 85.5px,#ff6100 86.5px,#f38e00 89.5px,#daa800 93.5px,#ccb600 101.5px,#c7ba00 125.5px,#c7ba00 167.5px)"></i>
<i style="background:linear-gradient(90deg,#c7ba00 0.5px,#cab700 64.5px,#d7aa00 73.5px,#ee9400 77.5px,#f97500 79.5px,#ff5300 81.5px,#ff4800 82.5px,#eb9600 83.5px,#d9a800 84.5px,#ff4a00 85.5px,#ff5300 86.5px,#f58700 89.5px,#e69c00 91.5px,#d5ad00 95.5px,#c8b900 107.5px,#c7ba00 167.5px)"></i>
<i style="background:linear-gradient(90deg,#c7ba00 0.5px,#cab700 64.5px,#d8a900 73.5px,#e89a00 76.5px,#f19100 77.5px,#ff5900 80.5px,#ff3a00 82.5px,#f58600 83.5px,#dfa300 84.5px,#ff3c00 85.5px,#ff4600 86.5px,#f68100 89.5px,#f19100 90.5px,#dca600 93.5px,#ccb500 101.5px,#c7ba00 126.5px,#c7ba00 167.5px)"></i>
<i style="background:linear-gradient(90deg,#c7ba00 0.5px,#cab700 64.5px,#d9a900 73.5px,#e99800 76.5px,#f28f00 77.5px,#ff5000 80.5px,#ff2e00 82.5px,#fa7300 83.5px,#e39f00 84.5px,#ff3000 85.5px,#ff3c00 86.5px,#f87c00 89.5px,#f28f00 90.5px,#dda500 93.5px,#ceb300 99.5px,#c7ba00 117.5px,#c7ba00 167.5px)"></i>
<i style="background:linear-gradient(90deg,#c7ba00 0.5px,#cab700 64.5px,#d9a800 73.5px,#ea9700 76.5px,#f38c00 77.5px,#ff6200 79.5px,#ff3500 81.5px,#ff2600 82.5px,#fe6400 83.5px,#e59d00 84.5px,#ff2900 85.5px,#ff3500 86.5px,#ff6100 88.5px,#f38c00 90.5px,#dda400 93.5px,#cfb300 99.5px,#c7ba00 115.5px,#c7ba00 167.5px)"></i>
<i style="background:linear-gradient(90deg,#c7ba00 0.5px,#cab700 64.5px,#d9a800 73.5px,#eb9700 76.5px,#f38b00 77.5px,#ff5f00 79.5px,#ff3100 81.5px,#ff2300 82.5px,#ff5a00 83.5px,#e59d00 84.5px,#ff2600 85.5px,#ff3000 86.5px,#ff5f00 88.5px,#f38b00 90.5px,#e39e00 92.5px,#d4ae00 96.5px,#c8b900 108.5px,#c7ba00 167.5px)"></i>
<i style="background:linear-gradient(90deg,#c7ba00 0.5px,#cab700 64.5px,#d9a800 73.5px,#eb9700 76.5px,#f38b00 77.5px,#ff5f00 79.5px,#ff3000 81.5px,#ff2200 82.5px,#ff5300 83.5px,#e29f00 84.5px,#ff2600 85.5px,#ff3000 86.5px,#ff5f00 88.5px,#f38b00 90.5px,#e39e00 92.5px,#d4ae00 96.5px,#c8b900 108.5px,#c7ba00 167.5px)"></i>
<i style="background:linear-gradient(90deg,#c7ba00 0.5px,#cab700 64.5px,#d9a800 73.5px,#ea9700 76.5px,#f38c00 77.5px,#ff6100 79.5px,#ff3200 81.5px,#ff2400 82.5px,#ff5100 83.5px,#dea400 84.5px,#ff2800 85.5px,#ff3200 86.5px,#ff6000 88.5px,#f38c00 90.5px,#dda400 93.5px,#cfb300 99.5px,#c7ba00 115.5px,#c7ba00 167.5px)"></i>
<i style="background:linear-gradient(90deg,#c7ba00 0.5px,#cab700 64.5px,#d9a900 73.5px,#e99800 76.5px,#f28e00 77.5px,#fe6400 79.5px,#ff3800 81.5px,#ff2800 82.5px,#ff5300 83.5px,#d7aa00 84.5px,#ff3000 85.5px,#ff3800 86.5px,#fe6400 88.5px,#f28e00 90.5px,#dda500 93.5px,#ceb300 99.5px,#c7ba00 117.5px,#c7ba00 167.5px)"></i>
<i style="background:linear-gradient(90deg,#c7ba00 0.5px,#cab700 64.5px,#d8a900 73.5px,#e89a00 76.5px,#f19100 77.5px,#ff5400 80.5px,#ff3100 82.5px,#ff5800 83.5px,#cfb200 84.5px,#ff3a00 85.5px,#ff4000 86.5px,#f77f00 89.5px,#f19100 90.5px,#dca600 93.5px,#ccb500 101.5px,#c7ba00 126.5px,#c7ba00 167.5px)"></i>
<i style="background:linear-gradient(90deg,#c7ba00 0.5px,#cab700 64.5px,#d7aa00 73.5px,#e69c00 76.5px,#f58500 78.5px,#ff5d00 80.5px,#ff3d00 82.5px,#ff6000 83.5px,#c4bc00 84.5px,#ff4700 85.5px,#ff4b00 86.5px,#fa7200 88.5px,#ee9300 90.5px,#dba700 93.5px,#cdb400 100.5px,#c7ba00 121.5px,#c7ba00 167.5px)"></i>
<i style="background:linear-gradient(90deg,#c7ba00 0.5px,#cab700 64.5px,#d6ab00 73.5px,#ec9600 77.5px,#f87a00 79.5px,#ff4a00 82.5px,#fc6b00 83.5px,#b3c600 84.5px,#ff5700 85.5px,#ff5700 86.5px,#f38b00 89.5px,#dea300 92.5px,#d0b100 97.5px,#c7ba00 112.5px,#c7ba00 167.5px)"></i>
<i style="background:linear-gradient(90deg,#c7ba00 0.5px,#cab700 64.5px,#d8a900 74.5px,#f19100 78.5px,#ff5900 82.5px,#f97600 83.5px,#a1d100 84.5px,#fd6700 85.5px,#fe6400 86.5px,#f19100 89.5px,#d8a900 93.5px,#cab700 103.5px,#c7ba00 167.5px)"></i>
<i style="background:linear-gradient(90deg,#c7ba00 0.5px,#cab700 65.5px,#d7aa00 74.5px,#ec9600 78.5px,#fd6800 82.5px,#f97700 83.5px,#cfb200 84.5px,#fa7100 85.5px,#fa7200 86.5px,#ec9600 89.5px,#d7aa00 93.5px,#cab700 102.5px,#c7ba00 167.5px)"></i>
<i style="background:linear-gradient(90deg,#c7ba00 0.5px,#cab700 65.5px,#d6ac00 74.5px,#ef9300 79.5px,#f87800 82.5px,#f97800 85.5px,#ef9300 88.5px,#d6ac00 93.5px,#cab800 103.5px,#c7ba00 167.5px)"></i>
<i style="background:linear-gradient(90deg,#c7ba00 0.5px,#cab700 65.5px,#d4ad00 74.5px,#ef9300 80.5px,#f28e00 81.5px,#ea9700 83.5px,#f38d00 85.5px,#ef9300 87.5px,#d4ad00 93.5px,#c8b900 106.5px,#c7ba00 167.5px)"></i>
<i style="background:linear-gradient(90deg,#c7ba00 0.5px,#cab700 66.5px,#d8a900 76.5px,#e99900 80.5px,#e69c00 81.5px,#ccb500 82.5px,#92da00 83.5px,#a6ce00 84.5px,#dba600 85.5px,#eb9700 86.5px,#d1b000 94.5px,#c7ba00 111.5px,#c7ba00 167.5px)"></i>
<i style="background:linear-gradient(90deg,#c7ba00 0.5px,#cab700 66.5px,#d6ab00 76.5px,#e39f00 80.5px,#d6ab00 81.5px,#77ea00 82.5px,#00ee72 83.5px,#20fa46 84.5px,#aec900 85.5px,#e0a100 86.5px,#e49e00 87.5px,#d0b100 94.5px,#c7ba00 112.5px,#c7ba00 167.5px)"></i>
<i style="background:linear-gradient(90deg,#c7ba00 0.5px,#cab700 67.5px,#d7ab00 77.5px,#dea400 80.5px,#ceb300 81.5px,#5bf905 82.5px,#00c2a4 83.5px,#00ee73 84.5px,#98d600 85.5px,#daa800 86.5px,#dfa300 87.5px,#cdb400 96.5px,#c7ba00 120.5px,#c7ba00 167.5px)"></i>
<i style="background:linear-gradient(90deg,#c7ba00 0.5px,#cab700 67.5px,#d4ad00 77.5px,#daa700 80.5px,#d2af00 81.5px,#82e400 82.5px,#0df45e 83.5px,#47fc19 84.5px,#b8c300 85.5px,#d9a900 86.5px,#d9a900 88.5px,#cab700 99.5px,#c7ba00 167.5px)"></i>
<i style="background:linear-gradient(90deg,#c7ba00 0.5px,#cab700 68.5px,#d6ab00 81.5px,#b6c400 82.5px,#69f200 83.5px,#a4cf00 84.5px,#d1b000 85.5px,#d8a900 86.5px,#c9b800 101.5px,#c7ba00 167.5px)"></i>
<i style="background:linear-gradient(90deg,#c7ba00 0.5px,#cab700 69.5px,#d6ab00 81.5px,#c7ba00 82.5px,#8ddd00 83.5px,#c6bb00 84.5px,#d6ab00 85.5px,#c8b900 104.5px,#c7ba00 167.5px)"></i>
<i style="background:linear-gradient(90deg,#c7ba00 0.5px,#cab700 69.5px,#d4ad00 81.5px,#c7ba00 82.5px,#90db00 83.5px,#c7ba00 84.5px,#d5ad00 85.5px,#c8b900 104.5px,#c7ba00 167.5px)"></i>
<i style="background:linear-gradient(90deg,#c7ba00 0.5px,#cab700 69.5px,#d2af00 81.5px,#c4bc00 82.5px,#8ddd00 83.5px,#c5bb00 84.5px,#d3ae00 85.5px,#c7ba00 109.5px,#c7ba00 167.5px)"></i>
<i style="background:linear-gradient(90deg,#c7ba00 0.5px,#cab700 70.5px,#d1b000 81.5px,#c2bd00 82.5px,#8bde00 83.5px,#c3bd00 84.5px,#d2b000 85.5px,#c7ba00 110.5px,#c7ba00 167.5px)"></i>
<i style="background:linear-gradient(90deg,#c7ba00 0.5px,#cab700 70.5px,#d1b000 81.5px,#c1bd00 82.5px,#8adf00 83.5px,#c2bd00 84.5px,#d1b000 85.5px,#c7ba00 112.5px,#c7ba00 167.5px)"></i>
<i style="background:linear-gradient(90deg,#c7ba00 0.5px,#cab700 70.5px,#d1b100 81.5px,#c1bd00 82.5px,#8adf00 83.5px,#c1bd00 84.5px,#d1b000 85.5px,#c7ba00 112.5px,#c7ba00 167.5px)"></i>
<i style="background:linear-gradient(90deg,#c7ba00 0.5px,#cab700 70.5px,#d1b000 81.5px,#c2bd00 82.5px,#8adf00 83.5px,#c2bd00 84.5px,#d1b000 85.5px,#c7ba00 112.5px,#c7ba00 167.5px)"></i>
<i style="background:linear-gradient(90deg,#c7ba00 0.5px,#cab700 69.5px,#d2af00 81.5px,#c4bc00 82.5px,#8cde00 83.5px,#c4bc00 84.5px,#d2af00 85.5px,#c7ba00 110.5px,#c7ba00 167.5px)"></i>
<i style="background:linear-gradient(90deg,#c7ba00 0.5px,#cab700 69.5px,#d3ae00 81.5px,#c6bb00 82.5px,#8edc00 83.5px,#c6bb00 84.5px,#d3ae00 85.5px,#c7ba00 109.5px,#c7ba00 167.5px)"></i>
<i style="background:linear-gradient(90deg,#c7ba00 0.5px,#cab700 68.5px,#d5ac00 81.5px,#c8b900 82.5px,#92da00 83.5px,#c8b900 84.5px,#d5ac00 85.5px,#c8b900 104.5px,#c7ba00 167.5px)"></i>
<i style="background:linear-gradient(90deg,#c7ba00 0.5px,#cab700 68.5px,#d8aa00 81.5px,#cbb600 82.5px,#96d700 83.5px,#cbb600 84.5px,#d8aa00 85.5px,#c9b800 101.5px,#c7ba00 167.5px)"></i>
<i style="background:linear-gradient(90deg,#c7ba00 0.5px,#cab700 67.5px,#d6ab00 78.5px,#dba700 81.5px,#ceb300 82.5px,#9cd400 83.5px,#ceb300 84.5px,#dba700 85.5px,#cab700 99.5px,#c7ba00 167.5px)"></i>
<i style="background:linear-gradient(90deg,#c7ba00 0.5px,#cab700 66.5px,#d6ab00 77.5px,#dfa300 81.5px,#d2af00 82.5px,#a2d000 83.5px,#d2af00 84.5px,#dfa300 85.5px,#ccb500 96.5px,#c7ba00 128.5px,#c7ba00 167.5px)"></i>
<i style="background:linear-gradient(90deg,#c7ba00 0.5px,#cab700 66.5px,#d8a900 77.5px,#e39f00 81.5px,#d7aa00 82.5px,#aacb00 83.5px,#d7aa00 84.5px,#e39f00 85.5px,#ceb300 95.5px,#c7ba00 118.5px,#c7ba00 167.5px)"></i>
<i style="background:linear-gradient(90deg,#c7ba00 0.5px,#cab700 65.5px,#d5ac00 75.5px,#e89a00 81.5px,#dca500 82.5px,#b4c600 83.5px,#dca500 84.5px,#e89a00 85.5px,#d0b100 94.5px,#c7ba00 112.5px,#c7ba00 167.5px)"></i>
<i style="background:linear-gradient(90deg,#c7ba00 0.5px,#cab700 65.5px,#d7aa00 75.5px,#ee9400 81.5px,#e39f00 82.5px,#bebf00 83.5px,#e39f00 84.5px,#ee9400 85.5px,#d2af00 93.5px,#c7ba00 110.5px,#c7ba00 167.5px)"></i>
<i style="background:linear-gradient(90deg,#c7ba00 0.5px,#cab700 64.5px,#d6ab00 74.5px,#f38c00 81.5px,#ed9500 82.5px,#d5ac00 83.5px,#ed9500 84.5px,#f38c00 85.5px,#d6ab00 92.5px,#c8b900 106.5px,#c7ba00 167.5px)"></i>
<i style="background:linear-gradient(90deg,#c7ba00 0.5px,#cab700 64.5px,#d8aa00 74.5px,#f19100 79.5px,#f87c00 82.5px,#f68000 85.5px,#eb9700 88.5px,#d5ac00 93.5px,#c9b800 104.5px,#c7ba00 167.5px)"></i>
<i style="background:linear-gradient(90deg,#c7ba00 0.5px,#cab700 64.5px,#d9a800 74.5px,#ef9200 78.5px,#fa7300 81.5px,#fc6a00 83.5px,#fa7300 85.5px,#e99900 89.5px,#d6ab00 93.5px,#c8b900 107.5px,#c7ba00 167.5px)"></i>
<i style="background:linear-gradient(90deg,#c7ba00 0.5px,#cab700 63.5px,#d7aa00 73.5px,#ec9500 77.5px,#fd6600 81.5px,#ff5f00 83.5px,#fd6600 85.5px,#ec9500 89.5px,#d7aa00 93.5px,#cab700 103.5px,#c7ba00 167.5px)"></i>
<i style="background:linear-gradient(90deg,#c7ba00 0.5px,#cab700 63.5px,#d9a900 73.5px,#f09200 77.5px,#fe6500 80.5px,#ff5c00 81.5px,#fd6900 83.5px,#ff5e00 85.5px,#fe6500 86.5px,#f09200 89.5px,#d9a900 93.5px,#cbb600 102.5px,#c7ba00 142.5px,#c7ba00 167.5px)"></i>
<i style="background:linear-gradient(90deg,#c7ba00 0.5px,#cab700 63.5px,#d7ab00 72.5px,#eb9600 76.5px,#f38c00 77.5px,#ff5a00 80.5px,#ff5d00 81.5px,#f38e00 82.5px,#d5ad00 83.5px,#ea9800 84.5px,#fe6500 85.5px,#ff5b00 86.5px,#f38c00 89.5px,#dea300 92.5px,#cfb200 98.5px,#c7ba00 116.5px,#c7ba00 167.5px)"></i>
<i style="background:linear-gradient(90deg,#c7ba00 0.5px,#cab700 62.5px,#d8aa00 72.5px,#ee9400 76.5px,#fa7300 78.5px,#ff5100 80.5px,#fd6700 81.5px,#bcc100 82.5px,#4bfb15 83.5px,#9ad500 84.5px,#f87a00 85.5px,#ff5400 86.5px,#ff6000 87.5px,#f58600 89.5px,#e69c00 91.5px,#d5ac00 95.5px,#c9b800 106.5px,#c7ba00 167.5px)"></i>
<i style="background:linear-gradient(90deg,#c7ba00 0.5px,#cab700 62.5px,#d8a900 72.5px,#e89a00 75.5px,#f19100 76.5px,#ff5600 79.5px,#ff4600 80.5px,#ff6100 81.5px,#afc900 82.5px,#2dfe34 83.5px,#88e000 84.5px,#f97600 85.5px,#ff4a00 86.5px,#ff5600 87.5px,#f19100 90.5px,#dca500 93.5px,#ccb500 101.5px,#c7ba00 128.5px,#c7ba00 167.5px)"></i>
<i style="background:linear-gradient(90deg,#c7ba00 0.5px,#cab700 62.5px,#d9a800 72.5px,#ea9800 75.5px,#f38e00 76.5px,#ff4e00 79.5px,#ff3a00 80.5px,#ff4100 81.5px,#f38e00 82.5px,#c3bc00 83.5px,#e69c00 84.5px,#ff4d00 85.5px,#ff3c00 86.5px,#fe6500 88.5px,#f38e00 90.5px,#dda400 93.5px,#cfb200 99.5px,#c7ba00 117.5px,#c7ba00 167.5px)"></i>
<i style="background:linear-gradient(90deg,#c7ba00 0.5px,#cab700 62.5px,#d6ab00 71.5px,#e49e00 74.5px,#f38b00 76.5px,#ff5f00 78.5px,#ff3000 80.5px,#ff2500 81.5px,#ff3000 82.5px,#ff4300 83.5px,#ff2700 85.5px,#ff3000 86.5px,#ff5f00 88.5px,#f38a00 90.5px,#e49e00 92.5px,#d4ad00 96.5px,#c8b900 109.5px,#c7ba00 167.5px)"></i>
<i style="background:linear-gradient(90deg,#c7ba00 0.5px,#cab700 62.5px,#d7ab00 71.5px,#ed9500 75.5px,#f48800 76.5px,#ff5b00 78.5px,#ff2800 80.5px,#ff1600 82.5px,#ff1600 84.5px,#ff1c00 85.5px,#ff2900 86.5px,#ff5b00 88.5px,#f48800 90.5px,#e59d00 92.5px,#d4ad00 96.5px,#c8b900 109.5px,#c7ba00 167.5px)"></i>
<i style="background:linear-gradient(90deg,#c7ba00 0.5px,#cab700 62.5px,#d7aa00 71.5px,#e59d00 74.5px,#ed9500 75.5px,#f58600 76.5px,#ff5700 78.5px,#ff2500 80.5px,#ff1000 82.5px,#ff1000 84.5px,#ff2500 86.5px,#fb7000 89.5px,#f58600 90.5px,#ed9500 91.5px,#daa700 94.5px,#cbb600 103.5px,#c7ba00 139.5px,#c7ba00 167.5px)"></i>
<i style="height:2px;background:linear-gradient(90deg,#c7ba00 0.5px,#cab700 62.5px,#d7aa00 71.5px,#e59c00 74.5px,#ee9400 75.5px,#f58500 76.5px,#ff5600 78.5px,#ff2400 80.5px,#ff0e00 82.5px,#ff0e00 84.5px,#ff2400 86.5px,#fb6f00 89.5px,#f58500 90.5px,#ee9400 91.5px,#dba700 94.5px,#ccb500 102.5px,#c7ba00 127.5px,#c7ba00 167.5px)"></i>
<i style="background:linear-gradient(90deg,#c7ba00 0.5px,#cab700 62.5px,#d7aa00 71.5px,#e59d00 74.5px,#ed9500 75.5px,#fb7100 77.5px,#ff2600 80.5px,#ff1000 82.5px,#ff1000 84.5px,#ff2600 86.5px,#fb7000 89.5px,#f58600 90.5px,#ed9500 91.5px,#daa700 94.5px,#cbb600 103.5px,#c7ba00 139.5px,#c7ba00 167.5px)"></i>
<i style="background:linear-gradient(90deg,#c7ba00 0.5px,#cab700 62.5px,#d7ab00 71.5px,#ed9500 75.5px,#f48800 76.5px,#ff5b00 78.5px,#ff2900 80.5px,#ff1400 82.5px,#ff1400 84.5px,#ff2900 86.5px,#ff5b00 88.5px,#f48800 90.5px,#e59d00 92.5px,#d4ad00 96.5px,#c8b900 109.5px,#c7ba00 167.5px)"></i>
<i style="background:linear-gradient(90deg,#c7ba00 0.5px,#cab700 62.5px,#d6ab00 71.5px,#eb9700 75.5px,#f38b00 76.5px,#ff6000 78.5px,#ff3100 80.5px,#ff2100 81.5px,#ff1600 83.5px,#ff2100 85.5px,#ff3000 86.5px,#ff6000 88.5px,#f38b00 90.5px,#dea400 93.5px,#d0b100 98.5px,#c7ba00 116.5px,#c7ba00 167.5px)"></i>
<i style="background:linear-gradient(90deg,#c7ba00 0.5px,#cab700 62.5px,#d9a800 72.5px,#ea9800 75.5px,#f28e00 76.5px,#ff4f00 79.5px,#ff2800 81.5px,#ff1e00 83.5px,#ff2800 85.5px,#ff4f00 87.5px,#f38e00 90.5px,#dda400 93.5px,#cfb200 99.5px,#c7ba00 117.5px,#c7ba00 167.5px)"></i>
<i style="background:linear-gradient(90deg,#c7ba00 0.5px,#cab700 62.5px,#d8a900 72.5px,#e89a00 75.5px,#f19100 76.5px,#ff5900 79.5px,#ff3500 81.5px,#ff2a00 82.5px,#ff2600 83.5px,#ff2900 84.5px,#ff4400 86.5px,#f68100 89.5px,#f19100 90.5px,#dca500 93.5px,#ccb500 101.5px,#c7ba00 128.5px,#c7ba00 167.5px)"></i>
<i style="background:linear-gradient(90deg,#c7ba00 0.5px,#cab700 62.5px,#d8aa00 72.5px,#ee9400 76.5px,#f97600 78.5px,#ff4300 81.5px,#ff3900 82.5px,#ff3900 84.5px,#ff5000 86.5px,#f58700 89.5px,#e69c00 91.5px,#d5ad00 95.5px,#c9b800 106.5px,#c7ba00 167.5px)"></i>
<i style="background:linear-gradient(90deg,#c7ba00 0.5px,#cab700 63.5px,#d7ab00 72.5px,#eb9700 76.5px,#f77f00 78.5px,#ff5300 81.5px,#ff4700 83.5px,#ff5100 85.5px,#f38d00 89.5px,#dea300 92.5px,#cfb200 98.5px,#c7ba00 116.5px,#c7ba00 167.5px)"></i>
<i style="background:linear-gradient(90deg,#c7ba00 0.5px,#cab700 63.5px,#d9a900 73.5px,#ef9300 77.5px,#fe6400 81.5px,#ff5a00 83.5px,#ff6200 85.5px,#ef9300 89.5px,#d6ac00 94.5px,#c8b900 107.5px,#c7ba00 167.5px)"></i>
<i style="background:linear-gradient(90deg,#c7ba00 0.5px,#cab700 63.5px,#d7aa00 73.5px,#f09200 78.5px,#f97600 81.5px,#fb6e00 83.5px,#fa7300 85.5px,#f29000 88.5px,#d7aa00 93.5px,#cab700 103.5px,#c7ba00 167.5px)"></i>
<i style="background:linear-gradient(90deg,#c7ba00 0.5px,#cab700 64.5px,#d9a900 74.5px,#f48900 81.5px,#f68300 84.5px,#ec9600 88.5px,#d4ae00 94.5px,#c8b900 107.5px,#c7ba00 167.5px)"></i>
<i style="background:linear-gradient(90deg,#c7ba00 0.5px,#cab700 64.5px,#d7aa00 74.5px,#ec9600 82.5px,#ec9600 86.5px,#d1b000 95.5px,#c7ba00 111.5px,#c7ba00 167.5px)"></i>
<i style="background:linear-gradient(90deg,#c7ba00 0.5px,#cab700 64.5px,#d5ac00 74.5px,#dea400 80.5px,#e29f00 87.5px,#ceb300 97.5px,#c7ba00 118.5px,#c7ba00 167.5px)"></i>
<i style="background:linear-gradient(90deg,#c7ba00 0.5px,#cab700 65.5px,#d7ab00 78.5px,#d1b000 83.5px,#dba600 88.5px,#cbb600 100.5px,#c7ba00 140.5px,#c7ba00 167.5px)"></i>
<i style="background:linear-gradient(90deg,#c7ba00 0.5px,#cab700 65.5px,#d2af00 77.5px,#bfbf00 82.5px,#cbb600 85.5px,#d6ac00 88.5px,#c8b900 106.5px,#c7ba00 167.5px)"></i>
<i style="background:linear-gradient(90deg,#c7ba00 0.5px,#cab700 66.5px,#d0b100 76.5px,#cab800 78.5px,#acca00 81.5px,#a8cd00 83.5px,#ccb500 87.5px,#d3af00 90.5px,#c8b900 107.5px,#c7ba00 167.5px)"></i>
<i style="background:linear-gradient(90deg,#c7ba00 0.5px,#cab700 67.5px,#cdb400 76.5px,#c0be00 78.5px,#96d800 81.5px,#8edc00 82.5px,#8fdc00 83.5px,#a6ce00 85.5px,#c4bc00 87.5px,#d0b100 90.5px,#c7ba00 114.5px,#c7ba00 167.5px)"></i>
<i style="background:linear-gradient(90deg,#c7ba00 0.5px,#cab700 68.5px,#cab700 76.5px,#c3bc00 77.5px,#80e500 81.5px,#78ea00 82.5px,#78ea00 83.5px,#81e400 84.5px,#b8c300 87.5px,#c6bb00 88.5px,#cfb300 91.5px,#c7ba00 115.5px,#c7ba00 167.5px)"></i>
<i style="background:linear-gradient(90deg,#c7ba00 0.5px,#cab700 68.5px,#cab700 75.5px,#c7ba00 76.5px,#abcb00 78.5px,#6cf100 81.5px,#62f700 82.5px,#62f700 83.5px,#6df000 84.5px,#97d700 86.5px,#bebf00 88.5px,#ccb500 90.5px,#c7ba00 135.5px,#c7ba00 167.5px)"></i>
<i style="background:linear-gradient(90deg,#c7ba00 0.5px,#cab700 69.5px,#c9b800 75.5px,#b5c500 77.5px,#6ef000 80.5px,#56f90a 81.5px,#47fc19 82.5px,#47fc19 83.5px,#57f909 84.5px,#6fef00 85.5px,#a2d000 87.5px,#c4bc00 89.5px,#ccb600 91.5px,#c7ba00 131.5px,#c7ba00 167.5px)"></i>
<i style="background:linear-gradient(90deg,#c7ba00 0.5px,#cab700 71.5px,#c7ba00 75.5px,#bec000 76.5px,#aec900 77.5px,#5df803 80.5px,#3efd22 81.5px,#2dfe34 82.5px,#2dfe34 83.5px,#3ffd21 84.5px,#5ef802 85.5px,#98d700 87.5px,#afc800 88.5px,#bfbf00 89.5px,#c8b900 90.5px,#c8b900 101.5px,#c7ba00 167.5px)"></i>
<i style="background:linear-gradient(90deg,#c7ba00 0.5px,#c9b800 74.5px,#bac200 76.5px,#a8cd00 77.5px,#6eef00 79.5px,#4afb16 80.5px,#2afd39 81.5px,#1af84e 82.5px,#1af84d 83.5px,#2afd38 84.5px,#4bfb15 85.5px,#6fef00 86.5px,#a9cc00 88.5px,#bbc100 89.5px,#c9b800 91.5px,#c7ba00 167.5px)"></i>
<i style="background:linear-gradient(90deg,#c7ba00 0.5px,#c8b900 74.5px,#b6c400 76.5px,#a2d000 77.5px,#64f600 79.5px,#39fe27 80.5px,#19f84e 81.5px,#06f267 82.5px,#07f267 83.5px,#1af84e 84.5px,#3afe26 85.5px,#65f500 86.5px,#a3d000 88.5px,#b7c400 89.5px,#c3bc00 90.5px,#cab700 93.5px,#c7ba00 167.5px)"></i>
<i style="background:linear-gradient(90deg,#c7ba00 0.5px,#c7ba00 74.5px,#b3c600 76.5px,#9dd300 77.5px,#5af906 79.5px,#2bfe36 80.5px,#0af362 81.5px,#00e280 82.5px,#00e280 83.5px,#0bf362 84.5px,#2cfe36 85.5px,#5af906 86.5px,#9ed300 88.5px,#b4c600 89.5px,#c1be00 90.5px,#c9b800 92.5px,#c7ba00 167.5px)"></i>
<i style="background:linear-gradient(90deg,#c7ba00 0.5px,#c6bb00 74.5px,#b0c800 76.5px,#99d600 77.5px,#79e900 78.5px,#50fa10 79.5px,#22fb42 80.5px,#00ed73 81.5px,#00d097 82.5px,#00d096 83.5px,#00ed73 84.5px,#22fb42 85.5px,#51fa0f 86.5px,#79e900 87.5px,#99d500 88.5px,#b1c700 89.5px,#bfbf00 90.5px,#c8b900 92.5px,#c7ba00 167.5px)"></i>
<i style="background:linear-gradient(90deg,#c7ba00 0.5px,#c5bb00 74.5px,#bdc000 75.5px,#aec900 76.5px,#96d800 77.5px,#75ec00 78.5px,#49fb17 79.5px,#1bf94c 80.5px,#00e281 81.5px,#00c3a4 82.5px,#00c3a4 83.5px,#00e280 84.5px,#1bf94b 85.5px,#4afb16 86.5px,#75eb00 87.5px,#96d800 88.5px,#afc900 89.5px,#c5bb00 91.5px,#c8b900 97.5px,#c7ba00 167.5px)"></i>
<i style="background:linear-gradient(90deg,#c7ba00 0.5px,#c7ba00 73.5px,#bcc100 75.5px,#adca00 76.5px,#93d900 77.5px,#72ed00 78.5px,#45fc1b 79.5px,#17f752 80.5px,#00dc88 81.5px,#00bda8 82.5px,#00bda8 83.5px,#00dc88 84.5px,#17f751 85.5px,#45fc1b 86.5px,#72ed00 87.5px,#94d900 88.5px,#adca00 89.5px,#bcc000 90.5px,#c7ba00 92.5px,#c7ba00 167.5px)"></i>
<i style="background:linear-gradient(90deg,#c7ba00 0.5px,#c7ba00 73.5px,#bbc100 75.5px,#acca00 76.5px,#92da00 77.5px,#71ee00 78.5px,#43fc1d 79.5px,#15f753 80.5px,#00da8a 81.5px,#00bca9 82.5px,#00bca9 83.5px,#00da8a 84.5px,#15f753 85.5px,#43fc1d 86.5px,#71ee00 87.5px,#93da00 88.5px,#acca00 89.5px,#bcc100 90.5px,#c7ba00 92.5px,#c7ba00 167.5px)"></i>
<i style="background:linear-gradient(90deg,#c7ba00 0.5px,#c7ba00 73.5px,#bbc100 75.5px,#acca00 76.5px,#92da00 77.5px,#71ee00 78.5px,#43fc1d 79.5px,#17f752 80.5px,#00de86 81.5px,#00c1a5 82.5px,#00c1a5 83.5px,#00de86 84.5px,#17f752 85.5px,#44fc1c 86.5px,#71ee00 87.5px,#93da00 88.5px,#acca00 89.5px,#bbc100 90.5px,#c7ba00 92.5px,#c7ba00 167.5px)"></i>
<i style="background:linear-gradient(90deg,#c7ba00 0.5px,#c6ba00 73.5px,#bbc100 75.5px,#acca00 76.5px,#93d900 77.5px,#73ed00 78.5px,#47fc19 79.5px,#1bf84c 80.5px,#00e57d 81.5px,#00ca9e 82.5px,#00ca9e 83.5px,#00e67d 84.5px,#1bf84c 85.5px,#47fc19 86.5px,#73ed00 87.5px,#94d900 88.5px,#adca00 89.5px,#c3bc00 91.5px,#c8b900 96.5px,#c7ba00 167.5px)"></i>
<i style="background:linear-gradient(90deg,#c7ba00 0.5px,#c7ba00 73.5px,#bcc100 75.5px,#adc900 76.5px,#96d800 77.5px,#76eb00 78.5px,#4dfb13 79.5px,#21fa44 80.5px,#00f070 81.5px,#00d88d 82.5px,#00d88d 83.5px,#00f070 84.5px,#21fa44 85.5px,#4dfb13 86.5px,#76eb00 87.5px,#96d800 88.5px,#aec900 89.5px,#bcc100 90.5px,#c8b900 93.5px,#c7ba00 167.5px)"></i>
<i style="background:linear-gradient(90deg,#c7ba00 0.5px,#c7ba00 73.5px,#bdc000 75.5px,#afc800 76.5px,#99d600 77.5px,#7ae800 78.5px,#55fa0b 79.5px,#29fd3a 80.5px,#0bf461 81.5px,#00e87a 82.5px,#00e87a 83.5px,#0bf461 84.5px,#29fd39 85.5px,#55fa0b 86.5px,#7ae800 87.5px,#99d600 88.5px,#afc800 89.5px,#bdc000 90.5px,#c7ba00 92.5px,#c7ba00 167.5px)"></i>
<i style="background:linear-gradient(90deg,#c7ba00 0.5px,#c7ba00 73.5px,#bebf00 75.5px,#b2c700 76.5px,#9dd300 77.5px,#5ff801 79.5px,#34fe2c 80.5px,#18f750 81.5px,#08f266 82.5px,#08f266 83.5px,#18f750 84.5px,#34fe2c 85.5px,#5ff801 86.5px,#9dd300 88.5px,#b2c700 89.5px,#c5bb00 91.5px,#c7ba00 167.5px)"></i>
<i style="background:linear-gradient(90deg,#c7ba00 0.5px,#c6bb00 74.5px,#b5c500 76.5px,#a2d000 77.5px,#68f300 79.5px,#43fc1d 80.5px,#26fc3e 81.5px,#18f750 82.5px,#18f750 83.5px,#26fc3d 84.5px,#44fc1c 85.5px,#69f300 86.5px,#a2d000 88.5px,#b5c500 89.5px,#c6bb00 91.5px,#c7ba00 167.5px)"></i>
<i style="background:linear-gradient(90deg,#c7ba00 0.5px,#c7ba00 74.5px,#b9c300 76.5px,#a8cd00 77.5px,#73ec00 79.5px,#55fa0b 80.5px,#37fe29 81.5px,#29fd3a 82.5px,#29fd3a 83.5px,#37fe29 84.5px,#55fa0b 85.5px,#74ec00 86.5px,#a9cc00 88.5px,#c3bc00 90.5px,#c9b800 94.5px,#c7ba00 167.5px)"></i>
<i style="background:linear-gradient(90deg,#c7ba00 0.5px,#c8b900 74.5px,#bdc000 76.5px,#afc900 77.5px,#67f400 80.5px,#4efb12 81.5px,#3ffd21 82.5px,#40fd20 83.5px,#4ffa11 84.5px,#68f300 85.5px,#b0c800 88.5px,#c6ba00 90.5px,#c9b800 96.5px,#c7ba00 167.5px)"></i>
<i style="background:linear-gradient(90deg,#c7ba00 0.5px,#c8b900 75.5px,#b7c400 77.5px,#67f400 81.5px,#5bf905 82.5px,#5cf904 83.5px,#67f400 84.5px,#a7cd00 87.5px,#c4bc00 89.5px,#cbb600 92.5px,#c7ba00 140.5px,#c7ba00 167.5px)"></i>
<i style="background:linear-gradient(90deg,#c7ba00 0.5px,#cab700 70.5px,#cbb600 75.5px,#c0be00 77.5px,#7ee600 81.5px,#76eb00 82.5px,#76eb00 83.5px,#7fe500 84.5px,#c3bd00 88.5px,#cdb400 91.5px,#c7ba00 118.5px,#c7ba00 167.5px)"></i>
<i style="background:linear-gradient(90deg,#c7ba00 0.5px,#cab700 68.5px,#ccb500 76.5px,#c1be00 78.5px,#9ad500 81.5px,#94d900 82.5px,#95d800 83.5px,#b9c200 86.5px,#c6bb00 87.5px,#d0b200 90.5px,#c7ba00 109.5px,#c7ba00 167.5px)"></i>
<i style="background:linear-gradient(90deg,#c7ba00 0.5px,#cab700 67.5px,#d0b200 77.5px,#b9c300 82.5px,#c0be00 84.5px,#d2b000 87.5px,#d1b000 92.5px,#c7ba00 107.5px,#c7ba00 167.5px)"></i>
<i style="background:linear-gradient(90deg,#c7ba00 0.5px,#cab700 67.5px,#d7ab00 79.5px,#daa800 84.5px,#dda500 88.5px,#cab700 99.5px,#c7ba00 167.5px)"></i>
<i style="background:linear-gradient(90deg,#c7ba00 0.5px,#cab700 66.5px,#d8a900 75.5px,#f19100 84.5px,#e69c00 88.5px,#d1b000 94.5px,#c7ba00 108.5px,#c7ba00 167.5px)"></i>
<i style="background:linear-gradient(90deg,#c7ba00 0.5px,#cab700 66.5px,#d8aa00 74.5px,#eb9700 78.5px,#f87a00 81.5px,#fc6d00 83.5px,#fa7300 85.5px,#ef9300 88.5px,#d8a900 92.5px,#cab700 100.5px,#c7ba00 167.5px)"></i>
<i style="background:linear-gradient(90deg,#c7ba00 0.5px,#cab700 65.5px,#d6ab00 73.5px,#ea9800 77.5px,#f28f00 78.5px,#ff5e00 81.5px,#ff4e00 83.5px,#ff5000 84.5px,#fd6700 86.5px,#f48a00 88.5px,#e49e00 90.5px,#d3ae00 94.5px,#c8b900 106.5px,#c7ba00 167.5px)"></i>
<i style="background:linear-gradient(90deg,#c7ba00 0.5px,#cab700 65.5px,#d7ab00 73.5px,#ed9500 77.5px,#fa7300 79.5px,#ff4d00 81.5px,#ff4000 82.5px,#ff3a00 83.5px,#ff3d00 84.5px,#ff5a00 86.5px,#ef9300 89.5px,#daa700 92.5px,#cbb600 100.5px,#c7ba00 132.5px,#c7ba00 167.5px)"></i>
<i style="background:linear-gradient(90deg,#c7ba00 0.5px,#cab700 65.5px,#d7ab00 73.5px,#e59c00 76.5px,#ee9400 77.5px,#fb7000 79.5px,#ff4700 81.5px,#ff3a00 82.5px,#ff3400 83.5px,#ff3800 84.5px,#ff4400 85.5px,#f68200 88.5px,#ef9300 89.5px,#daa700 92.5px,#cbb600 100.5px,#c7ba00 132.5px,#c7ba00 167.5px)"></i>
<i style="background:linear-gradient(90deg,#c7ba00 0.5px,#cab700 65.5px,#d6ab00 73.5px,#e49e00 76.5px,#f48800 78.5px,#ff6000 80.5px,#ff4000 82.5px,#ff3b00 83.5px,#ff3f00 84.5px,#ff5d00 86.5px,#f58600 88.5px,#ed9500 89.5px,#daa800 92.5px,#ccb500 99.5px,#c7ba00 119.5px,#c7ba00 167.5px)"></i>
<i style="background:linear-gradient(90deg,#c7ba00 0.5px,#cab700 66.5px,#d8a900 74.5px,#e99900 77.5px,#f29000 78.5px,#ff5d00 81.5px,#ff5100 82.5px,#ff4d00 83.5px,#ff5b00 85.5px,#f28f00 88.5px,#dca500 91.5px,#ceb400 97.5px,#c7ba00 113.5px,#c7ba00 167.5px)"></i>
<i style="background:linear-gradient(90deg,#c7ba00 0.5px,#cab700 66.5px,#d6ab00 74.5px,#eb9700 78.5px,#fa7200 81.5px,#fd6800 83.5px,#fa7200 85.5px,#ec9600 88.5px,#d6ab00 92.5px,#c9b800 101.5px,#c7ba00 167.5px)"></i>
<i style="background:linear-gradient(90deg,#c7ba00 0.5px,#cab700 67.5px,#d6ab00 75.5px,#f19100 80.5px,#f48a00 81.5px,#f38c00 82.5px,#ed9500 83.5px,#eb9600 84.5px,#f19100 85.5px,#eb9700 87.5px,#d7ab00 91.5px,#cab700 99.5px,#c7ba00 167.5px)"></i>
<i style="background:linear-gradient(90deg,#c7ba00 0.5px,#cab700 67.5px,#d6ab00 76.5px,#e69c00 80.5px,#e59d00 81.5px,#d0b100 82.5px,#92da00 83.5px,#91db00 84.5px,#cdb400 85.5px,#e2a000 86.5px,#cdb400 95.5px,#c7ba00 116.5px,#c7ba00 167.5px)"></i>
<i style="background:linear-gradient(90deg,#c7ba00 0.5px,#cab700 69.5px,#d7aa00 78.5px,#dca500 80.5px,#d4ad00 81.5px,#85e200 82.5px,#02f06e 83.5px,#01f06f 84.5px,#83e300 85.5px,#d2af00 86.5px,#daa800 87.5px,#cab700 97.5px,#c7ba00 167.5px)"></i>
<i style="background:linear-gradient(90deg,#c7ba00 0.5px,#cab700 70.5px,#d5ac00 80.5px,#cbb600 81.5px,#6af200 82.5px,#00c4a3 83.5px,#00c6a2 84.5px,#6af200 85.5px,#c9b800 86.5px,#d4ae00 87.5px,#c8b900 101.5px,#c7ba00 167.5px)"></i>
<i style="background:linear-gradient(90deg,#c7ba00 0.5px,#cab700 72.5px,#d1b100 80.5px,#cab700 81.5px,#82e400 82.5px,#07f267 83.5px,#24fb40 84.5px,#90db00 85.5px,#cab700 86.5px,#d0b200 87.5px,#c7ba00 107.5px,#c7ba00 167.5px)"></i>
<i style="background:linear-gradient(90deg,#c7ba00 0.5px,#cab700 74.5px,#ccb600 81.5px,#a7cd00 82.5px,#59f907 83.5px,#89df00 84.5px,#bdc000 85.5px,#cbb600 86.5px,#c7ba00 150.5px,#c7ba00 167.5px)"></i>
<i style="background:linear-gradient(90deg,#c7ba00 0.5px,#cab700 77.5px,#cbb600 81.5px,#b4c500 82.5px,#7be800 83.5px,#b0c800 84.5px,#c9b800 85.5px,#c7ba00 167.5px)"></i>
<i style="background:linear-gradient(90deg,#c7ba00 0.5px,#c9b800 81.5px,#b4c500 82.5px,#7ee600 83.5px,#b4c600 84.5px,#c9b800 85.5px,#c7ba00 167.5px)"></i>
<i style="background:linear-gradient(90deg,#c7ba00 0.5px,#c8b900 81.5px,#b2c600 82.5px,#7de700 83.5px,#b2c700 84.5px,#c8b900 85.5px,#c7ba00 167.5px)"></i>
<i style="background:linear-gradient(90deg,#c7ba00 0.5px,#c7ba00 81.5px,#b1c700 82.5px,#7be800 83.5px,#b1c700 84.5px,#c7ba00 85.5px,#c7ba00 167.5px)"></i>
<i style="background:linear-gradient(90deg,#c7ba00 0.5px,#c7ba00 81.5px,#b0c800 82.5px,#7ae800 83.5px,#b0c800 84.5px,#c6bb00 85.5px,#c7ba00 167.5px)"></i>
<i style="background:linear-gradient(90deg,#c7ba00 0.5px,#c6bb00 81.5px,#afc800 82.5px,#7ae900 83.5px,#afc900 84.5px,#c5bb00 85.5px,#c7ba00 167.5px)"></i>
<i style="background:linear-gradient(90deg,#c7ba00 0.5px,#c5bb00 81.5px,#aec900 82.5px,#79e900 83.5px,#aec900 84.5px,#c4bc00 85.5px,#c7ba00 167.5px)"></i>
<i style="background:linear-gradient(90deg,#c7ba00 0.5px,#c5bb00 81.5px,#aec900 82.5px,#78ea00 83.5px,#adca00 84.5px,#c3bc00 85.5px,#c7ba00 105.5px,#c7ba00 167.5px)"></i>
<i style="background:linear-gradient(90deg,#c7ba00 0.5px,#c4bc00 81.5px,#adca00 82.5px,#77ea00 83.5px,#accb00 84.5px,#c2bd00 85.5px,#c7ba00 97.5px,#c7ba00 167.5px)"></i>
<i style="background:linear-gradient(90deg,#c7ba00 0.5px,#c5bb00 80.5px,#c3bc00 81.5px,#accb00 82.5px,#76eb00 83.5px,#aacb00 84.5px,#c1be00 85.5px,#c7ba00 97.5px,#c7ba00 167.5px)"></i>
<i style="background:linear-gradient(90deg,#c7ba00 0.5px,#c4bc00 80.5px,#c2bd00 81.5px,#aacb00 82.5px,#75ec00 83.5px,#a9cc00 84.5px,#bfbf00 85.5px,#c7ba00 94.5px,#c7ba00 167.5px)"></i>
<i style="background:linear-gradient(90deg,#c7ba00 0.5px,#c4bc00 80.5px,#c1be00 81.5px,#a9cc00 82.5px,#73ed00 83.5px,#a7ce00 84.5px,#bec000 85.5px,#c7ba00 94.5px,#c7ba00 167.5px)"></i>
<i style="background:linear-gradient(90deg,#c7ba00 0.5px,#c5bb00 79.5px,#c0be00 81.5px,#a7cd00 82.5px,#71ee00 83.5px,#a4cf00 84.5px,#bbc100 85.5px,#c6ba00 91.5px,#c7ba00 167.5px)"></i>
<i style="background:linear-gradient(90deg,#c7ba00 0.5px,#c4bc00 79.5px,#bebf00 81.5px,#a5cf00 82.5px,#6fef00 83.5px,#a1d100 84.5px,#b9c300 85.5px,#c7ba00 92.5px,#c7ba00 167.5px)"></i>
<i style="background:linear-gradient(90deg,#c7ba00 0.5px,#c5bb00 78.5px,#bcc100 81.5px,#a2d000 82.5px,#6cf100 83.5px,#9ed300 84.5px,#b5c500 85.5px,#c6bb00 91.5px,#c7ba00 167.5px)"></i>
<i style="background:linear-gradient(90deg,#c7ba00 0.5px,#c5bb00 78.5px,#bac200 81.5px,#9fd200 82.5px,#69f300 83.5px,#9ad500 84.5px,#b1c700 85.5px,#c5bb00 90.5px,#c7ba00 167.5px)"></i>
<i style="background:linear-gradient(90deg,#c7ba00 0.5px,#c4bc00 78.5px,#b7c400 81.5px,#9bd500 82.5px,#65f500 83.5px,#95d800 84.5px,#adca00 85.5px,#c4bc00 90.5px,#c7ba00 167.5px)"></i>
<i style="background:linear-gradient(90deg,#c7ba00 0.5px,#c4bc00 78.5px,#b4c600 81.5px,#97d700 82.5px,#60f800 83.5px,#8fdc00 84.5px,#a8cd00 85.5px,#c4bc00 90.5px,#c7ba00 167.5px)"></i>
<i style="background:linear-gradient(90deg,#c7ba00 0.5px,#c5bb00 77.5px,#b9c300 80.5px,#b0c800 81.5px,#91da00 82.5px,#5af906 83.5px,#89e000 84.5px,#a1d100 85.5px,#bfbf00 89.5px,#c7ba00 94.5px,#c7ba00 167.5px)"></i>
<i style="background:linear-gradient(90deg,#c7ba00 0.5px,#c5bb00 77.5px,#b6c400 80.5px,#acca00 81.5px,#8cde00 82.5px,#53fa0d 83.5px,#82e400 84.5px,#9ad500 85.5px,#bdc000 89.5px,#c7ba00 93.5px,#c7ba00 167.5px)"></i>
<i style="background:linear-gradient(90deg,#c7ba00 0.5px,#c4bc00 77.5px,#b3c600 80.5px,#a7cd00 81.5px,#85e200 82.5px,#4bfb15 83.5px,#7ae800 84.5px,#92da00 85.5px,#bbc100 89.5px,#c7ba00 93.5px,#c7ba00 167.5px)"></i>
<i style="background:linear-gradient(90deg,#c7ba00 0.5px,#c4bc00 77.5px,#bac200 79.5px,#a2d000 81.5px,#7fe500 82.5px,#41fd1f 83.5px,#72ed00 84.5px,#89e000 85.5px,#bac200 89.5px,#c6bb00 92.5px,#c7ba00 167.5px)"></i>
<i style="background:linear-gradient(90deg,#c7ba00 0.5px,#c4bc00 77.5px,#accb00 80.5px,#9cd400 81.5px,#78ea00 82.5px,#36fe2a 83.5px,#68f300 84.5px,#80e500 85.5px,#b7c300 89.5px,#c6bb00 92.5px,#c7ba00 167.5px)"></i>
<i style="background:linear-gradient(90deg,#c7ba00 0.5px,#c5bb00 76.5px,#bebf00 78.5px,#a7cd00 80.5px,#95d800 81.5px,#70ef00 82.5px,#2bfd37 83.5px,#5bf905 84.5px,#75eb00 85.5px,#b5c500 89.5px,#c3bc00 91.5px,#c7ba00 103.5px,#c7ba00 167.5px)"></i>
<i style="background:linear-gradient(90deg,#c7ba00 0.5px,#c5bb00 76.5px,#bdc000 78.5px,#a3d000 80.5px,#8edc00 81.5px,#6cf100 82.5px,#2fff31 83.5px,#51fa0f 84.5px,#6af200 85.5px,#b2c600 89.5px,#c2bd00 91.5px,#c7ba00 98.5px,#c7ba00 167.5px)"></i>
<i style="background:linear-gradient(90deg,#c7ba00 0.5px,#c5bb00 76.5px,#bbc100 78.5px,#b0c800 79.5px,#87e100 81.5px,#6eef00 82.5px,#54fa0c 83.5px,#4dfb13 84.5px,#5cf904 85.5px,#b0c800 89.5px,#c2bd00 91.5px,#c7ba00 98.5px,#c7ba00 167.5px)"></i>
<i style="background:linear-gradient(90deg,#c7ba00 0.5px,#c5bb00 76.5px,#bac200 78.5px,#adca00 79.5px,#80e500 81.5px,#64f500 82.5px,#45fc1b 83.5px,#38fe28 84.5px,#4afb16 85.5px,#67f400 86.5px,#99d600 88.5px,#adca00 89.5px,#c1be00 91.5px,#c7ba00 97.5px,#c7ba00 167.5px)"></i>
<i style="background:linear-gradient(90deg,#c7ba00 0.5px,#c4bc00 76.5px,#b8c300 78.5px,#aacc00 79.5px,#78e900 81.5px,#56f90a 82.5px,#2fff32 83.5px,#24fb40 84.5px,#35fe2b 85.5px,#5bf905 86.5px,#94d900 88.5px,#aacc00 89.5px,#c0be00 91.5px,#c7ba00 95.5px,#c7ba00 167.5px)"></i>
<i style="background:linear-gradient(90deg,#c7ba00 0.5px,#c4bc00 76.5px,#b7c400 78.5px,#a7cd00 79.5px,#70ee00 81.5px,#46fc1a 82.5px,#1df94a 83.5px,#10f55b 84.5px,#24fb41 85.5px,#4dfb13 86.5px,#72ed00 87.5px,#a7cd00 89.5px,#b7c400 90.5px,#c4bc00 92.5px,#c7ba00 167.5px)"></i>
<i style="background:linear-gradient(90deg,#c7ba00 0.5px,#c4bc00 76.5px,#b5c500 78.5px,#a4cf00 79.5px,#68f300 81.5px,#34fe2c 82.5px,#09f364 83.5px,#00e879 84.5px,#12f657 85.5px,#3efd22 86.5px,#6af200 87.5px,#a4cf00 89.5px,#b5c500 90.5px,#c4bc00 92.5px,#c7ba00 167.5px)"></i>
<i style="background:linear-gradient(90deg,#c7ba00 0.5px,#c4bc00 76.5px,#b4c600 78.5px,#a0d100 79.5px,#60f800 81.5px,#26fc3d 82.5px,#00e37f 83.5px,#00ce99 84.5px,#00f070 85.5px,#2fff32 86.5px,#62f700 87.5px,#a0d100 89.5px,#b4c600 90.5px,#c4bc00 92.5px,#c7ba00 167.5px)"></i>
<i style="background:linear-gradient(90deg,#c7ba00 0.5px,#c6bb00 75.5px,#bec000 77.5px,#b2c700 78.5px,#9dd300 79.5px,#7fe600 80.5px,#56fa0a 81.5px,#1af84e 82.5px,#00cc9b 83.5px,#00b7ac 84.5px,#00dc88 85.5px,#24fb40 86.5px,#5af906 87.5px,#7fe500 88.5px,#9dd300 89.5px,#b2c700 90.5px,#bec000 91.5px,#c7ba00 94.5px,#c7ba00 167.5px)"></i>
<i style="background:linear-gradient(90deg,#c7ba00 0.5px,#c6bb00 75.5px,#bdc000 77.5px,#b0c800 78.5px,#9ad500 79.5px,#7ae800 80.5px,#4cfb14 81.5px,#0df45e 82.5px,#00b9ab 83.5px,#00a4be 84.5px,#00c8a0 85.5px,#19f84e 86.5px,#51fa0f 87.5px,#7be800 88.5px,#9ad500 89.5px,#b0c800 90.5px,#bdc000 91.5px,#c7ba00 94.5px,#c7ba00 167.5px)"></i>
<i style="background:linear-gradient(90deg,#c7ba00 0.5px,#c6bb00 75.5px,#bcc000 77.5px,#afc800 78.5px,#97d700 79.5px,#76eb00 80.5px,#43fc1d 81.5px,#02f16d 82.5px,#00a9b7 83.5px,#0096d6 84.5px,#00baab 85.5px,#0ff55b 86.5px,#48fb18 87.5px,#76eb00 88.5px,#97d700 89.5px,#afc800 90.5px,#c3bd00 92.5px,#c7ba00 100.5px,#c7ba00 167.5px)"></i>
<i style="background:linear-gradient(90deg,#c7ba00 0.5px,#c5bb00 75.5px,#bcc100 77.5px,#aec900 78.5px,#95d800 79.5px,#72ed00 80.5px,#3bfd25 81.5px,#00e77b 82.5px,#009fc8 83.5px,#0085ea 84.5px,#00adb4 85.5px,#07f267 86.5px,#40fd20 87.5px,#72ed00 88.5px,#95d800 89.5px,#aec900 90.5px,#bcc100 91.5px,#c5bb00 93.5px,#c7ba00 167.5px)"></i>
<i style="background:linear-gradient(90deg,#c7ba00 0.5px,#c5bb00 75.5px,#bbc100 77.5px,#acca00 78.5px,#92da00 79.5px,#6ef000 80.5px,#34fe2c 81.5px,#00de85 82.5px,#0097d5 83.5px,#0074fb 84.5px,#00a5bd 85.5px,#00ef71 86.5px,#39fe27 87.5px,#6fef00 88.5px,#92da00 89.5px,#acca00 90.5px,#bbc100 91.5px,#c7ba00 94.5px,#c7ba00 167.5px)"></i>
<i style="background:linear-gradient(90deg,#c7ba00 0.5px,#c5bb00 75.5px,#bbc100 77.5px,#abcb00 78.5px,#90db00 79.5px,#6bf100 80.5px,#2eff32 81.5px,#00d88d 82.5px,#0092dd 83.5px,#0069ff 84.5px,#00a0c6 85.5px,#00e879 86.5px,#33fe2d 87.5px,#6bf100 88.5px,#90db00 89.5px,#abcb00 90.5px,#bbc100 91.5px,#c5bb00 93.5px,#c7ba00 167.5px)"></i>
<i style="background:linear-gradient(90deg,#c7ba00 0.5px,#c5bb00 75.5px,#bac200 77.5px,#abcb00 78.5px,#8edc00 79.5px,#68f300 80.5px,#2bfe36 81.5px,#00d492 82.5px,#0090e0 83.5px,#0064ff 84.5px,#009ccb 85.5px,#00e37f 86.5px,#2fff31 87.5px,#69f300 88.5px,#8edc00 89.5px,#abcb00 90.5px,#bac200 91.5px,#c5bb00 93.5px,#c7ba00 167.5px)"></i>
<i style="background:linear-gradient(90deg,#c7ba00 0.5px,#c5bb00 75.5px,#bac200 77.5px,#aacc00 78.5px,#8ddd00 79.5px,#66f400 80.5px,#29fd39 81.5px,#00d294 82.5px,#0090e0 83.5px,#0064ff 84.5px,#009bce 85.5px,#00df84 86.5px,#2cfe35 87.5px,#67f400 88.5px,#8ddd00 89.5px,#aacc00 90.5px,#bac200 91.5px,#c5bb00 93.5px,#c7ba00 167.5px)"></i>
<i style="background:linear-gradient(90deg,#c7ba00 0.5px,#c5bb00 75.5px,#bac200 77.5px,#a9cc00 78.5px,#8cde00 79.5px,#65f500 80.5px,#28fd3b 81.5px,#00d393 82.5px,#0092dd 83.5px,#0067ff 84.5px,#009acf 85.5px,#00dd87 86.5px,#2afd37 87.5px,#65f500 88.5px,#8cde00 89.5px,#a9cc00 90.5px,#bac200 91.5px,#c5bb00 93.5px,#c7ba00 167.5px)"></i>
<i style="background:linear-gradient(90deg,#c7ba00 0.5px,#c5bb00 75.5px,#bac200 77.5px,#a9cc00 78.5px,#8cde00 79.5px,#64f500 80.5px,#28fc3b 81.5px,#00d591 82.5px,#0095d8 83.5px,#006bff 84.5px,#009ad0 85.5px,#00db8a 86.5px,#29fd39 87.5px,#65f500 88.5px,#8cde00 89.5px,#a9cc00 90.5px,#bac200 91.5px,#c5bb00 93.5px,#c7ba00 167.5px)"></i>
<i style="background:linear-gradient(90deg,#c7ba00 0.5px,#c5bb00 75.5px,#bac200 77.5px,#a9cc00 78.5px,#8cde00 79.5px,#65f500 80.5px,#28fd3a 81.5px,#00d88d 82.5px,#0098d3 83.5px,#006fff 84.5px,#0099d1 85.5px,#00d98c 86.5px,#29fd3a 87.5px,#65f500 88.5px,#8cde00 89.5px,#a9cc00 90.5px,#bac200 91.5px,#c5bb00 93.5px,#c7ba00 167.5px)"></i>
<i style="background:linear-gradient(90deg,#c7ba00 0.5px,#c5bb00 75.5px,#bac200 77.5px,#a9cc00 78.5px,#8cde00 79.5px,#65f500 80.5px,#2afd38 81.5px,#00db89 82.5px,#009bce 83.5px,#0070ff 84.5px,#0098d3 85.5px,#00d78e 86.5px,#29fd39 87.5px,#65f500 88.5px,#8cde00 89.5px,#a9cc00 90.5px,#bac200 91.5px,#c5bb00 93.5px,#c7ba00 167.5px)"></i>
<i style="background:linear-gradient(90deg,#c7ba00 0.5px,#c5bb00 75.5px,#bac200 77.5px,#aacc00 78.5px,#8ddd00 79.5px,#67f400 80.5px,#2cfe35 81.5px,#00df84 82.5px,#009dca 83.5px,#0070ff 84.5px,#0096d7 85.5px,#00d68f 86.5px,#2afd38 87.5px,#66f400 88.5px,#8ddd00 89.5px,#aacc00 90.5px,#bac200 91.5px,#c5bb00 93.5px,#c7ba00 167.5px)"></i>
<i style="background:linear-gradient(90deg,#c7ba00 0.5px,#c5bb00 75.5px,#bac200 77.5px,#abcb00 78.5px,#8edc00 79.5px,#69f300 80.5px,#2fff31 81.5px,#00e47e 82.5px,#009fc6 83.5px,#006eff 84.5px,#0094da 85.5px,#00d690 86.5px,#2bfe36 87.5px,#68f300 88.5px,#8edc00 89.5px,#abcb00 90.5px,#bac200 91.5px,#c5bb00 93.5px,#c7ba00 167.5px)"></i>
<i style="background:linear-gradient(90deg,#c7ba00 0.5px,#c5bb00 75.5px,#bbc100 77.5px,#abcb00 78.5px,#90db00 79.5px,#6bf100 80.5px,#34fe2c 81.5px,#00ea78 82.5px,#00a2c2 83.5px,#006eff 84.5px,#0092dc 85.5px,#00d68f 86.5px,#2efe33 87.5px,#6bf200 88.5px,#90db00 89.5px,#abcb00 90.5px,#bbc100 91.5px,#c5bb00 93.5px,#c7ba00 167.5px)"></i>
<i style="background:linear-gradient(90deg,#c7ba00 0.5px,#c5bb00 75.5px,#bbc100 77.5px,#acca00 78.5px,#92da00 79.5px,#6fef00 80.5px,#3afe26 81.5px,#00f070 82.5px,#00a5bc 83.5px,#0071fe 84.5px,#0093db 85.5px,#00d98b 86.5px,#32ff2e 87.5px,#6ef000 88.5px,#92da00 89.5px,#acca00 90.5px,#bbc100 91.5px,#c7ba00 94.5px,#c7ba00 167.5px)"></i>
<i style="background:linear-gradient(90deg,#c7ba00 0.5px,#c5bb00 75.5px,#bcc100 77.5px,#aec900 78.5px,#95d800 79.5px,#72ed00 80.5px,#40fd20 81.5px,#07f267 82.5px,#00abb6 83.5px,#0079f6 84.5px,#0096d5 85.5px,#00df84 86.5px,#38fe28 87.5px,#71ee00 88.5px,#95d800 89.5px,#aec900 90.5px,#bcc100 91.5px,#c5bb00 93.5px,#c7ba00 167.5px)"></i>
<i style="background:linear-gradient(90deg,#c7ba00 0.5px,#c6bb00 75.5px,#bcc000 77.5px,#afc800 78.5px,#97d700 79.5px,#76eb00 80.5px,#48fb18 81.5px,#0ff55c 82.5px,#00b5ae 83.5px,#0089e7 84.5px,#009dca 85.5px,#00e77a 86.5px,#3ffd21 87.5px,#75eb00 88.5px,#97d700 89.5px,#afc800 90.5px,#c3bd00 92.5px,#c7ba00 100.5px,#c7ba00 167.5px)"></i>
<i style="background:linear-gradient(90deg,#c7ba00 0.5px,#c6bb00 75.5px,#bdc000 77.5px,#b0c800 78.5px,#9ad500 79.5px,#7be800 80.5px,#51fa0f 81.5px,#18f750 82.5px,#00c1a5 83.5px,#0098d3 84.5px,#00a7b9 85.5px,#02f16d 86.5px,#48fb18 87.5px,#7ae900 88.5px,#9ad500 89.5px,#b0c800 90.5px,#bdc000 91.5px,#c7ba00 94.5px,#c7ba00 167.5px)"></i>
<i style="background:linear-gradient(90deg,#c7ba00 0.5px,#c6bb00 75.5px,#bec000 77.5px,#b2c700 78.5px,#9dd300 79.5px,#7fe500 80.5px,#59f907 81.5px,#22fb43 82.5px,#00d294 83.5px,#00a6bb 84.5px,#00b8ac 85.5px,#0ff55c 86.5px,#52fa0e 87.5px,#7ee600 88.5px,#9dd300 89.5px,#b2c700 90.5px,#bec000 91.5px,#c7ba00 94.5px,#c7ba00 167.5px)"></i>
<i style="background:linear-gradient(90deg,#c7ba00 0.5px,#c4bc00 76.5px,#b4c600 78.5px,#a0d100 79.5px,#62f700 81.5px,#2dfe34 82.5px,#00e77b 83.5px,#00bca9 84.5px,#00cd9a 85.5px,#1cf94a 86.5px,#5cf904 87.5px,#83e300 88.5px,#a0d100 89.5px,#b4c600 90.5px,#c4bc00 92.5px,#c7ba00 167.5px)"></i>
<i style="background:linear-gradient(90deg,#c7ba00 0.5px,#c4bc00 76.5px,#b5c500 78.5px,#a4cf00 79.5px,#6af200 81.5px,#3bfd25 82.5px,#0af362 83.5px,#00d690 84.5px,#00e77b 85.5px,#2afd37 86.5px,#66f500 87.5px,#a4cf00 89.5px,#b5c500 90.5px,#c4bc00 92.5px,#c7ba00 167.5px)"></i>
<i style="background:linear-gradient(90deg,#c7ba00 0.5px,#c4bc00 76.5px,#b7c400 78.5px,#a7cd00 79.5px,#72ed00 81.5px,#4afb16 82.5px,#1df94a 83.5px,#02f16e 84.5px,#0ff55c 85.5px,#3cfd24 86.5px,#6eef00 87.5px,#8edd00 88.5px,#a7cd00 89.5px,#b7c400 90.5px,#c4bc00 92.5px,#c7ba00 167.5px)"></i>
<i style="background:linear-gradient(90deg,#c7ba00 0.5px,#c4bc00 76.5px,#b8c300 78.5px,#aacc00 79.5px,#79e900 81.5px,#59f907 82.5px,#2dfe33 83.5px,#18f850 84.5px,#23fb41 85.5px,#4efb12 86.5px,#77ea00 87.5px,#aacc00 89.5px,#c0be00 91.5px,#c7ba00 95.5px,#c7ba00 167.5px)"></i>
<i style="background:linear-gradient(90deg,#c7ba00 0.5px,#c5bb00 76.5px,#bac200 78.5px,#adca00 79.5px,#80e500 81.5px,#65f500 82.5px,#41fd1f 83.5px,#2bfe36 84.5px,#37fe29 85.5px,#5ff801 86.5px,#99d600 88.5px,#adca00 89.5px,#c1be00 91.5px,#c7ba00 97.5px,#c7ba00 167.5px)"></i>
<i style="background:linear-gradient(90deg,#c7ba00 0.5px,#c5bb00 76.5px,#bbc100 78.5px,#b0c800 79.5px,#87e100 81.5px,#6fef00 82.5px,#52fa0e 83.5px,#3ffd21 84.5px,#4bfb15 85.5px,#6af200 86.5px,#9ed300 88.5px,#b0c800 89.5px,#c2bd00 91.5px,#c7ba00 98.5px,#c7ba00 167.5px)"></i>
<i style="background:linear-gradient(90deg,#c7ba00 0.5px,#c5bb00 76.5px,#bdc000 78.5px,#a3d000 80.5px,#5ff801 83.5px,#4ffb11 84.5px,#5af906 85.5px,#8ddd00 87.5px,#a3d000 88.5px,#bdc000 90.5px,#c7ba00 94.5px,#c7ba00 167.5px)"></i>
<i style="background:linear-gradient(90deg,#c7ba00 0.5px,#c5bb00 76.5px,#bebf00 78.5px,#a7cd00 80.5px,#7ee600 82.5px,#67f400 83.5px,#58f908 84.5px,#63f600 85.5px,#94d900 87.5px,#b5c500 89.5px,#c3bc00 91.5px,#c7ba00 103.5px,#c7ba00 167.5px)"></i>
<i style="background:linear-gradient(90deg,#c7ba00 0.5px,#c4bc00 77.5px,#b7c300 79.5px,#9bd500 81.5px,#6cf100 83.5px,#5df803 84.5px,#68f300 85.5px,#9ad500 87.5px,#b7c300 89.5px,#c6bb00 92.5px,#c7ba00 167.5px)"></i>
<i style="background:linear-gradient(90deg,#c7ba00 0.5px,#c4bc00 77.5px,#bac200 79.5px,#a0d200 81.5px,#6df000 83.5px,#5cf904 84.5px,#69f300 85.5px,#9fd200 87.5px,#bac200 89.5px,#c6bb00 92.5px,#c7ba00 167.5px)"></i>
<i style="background:linear-gradient(90deg,#c7ba00 0.5px,#c4bc00 77.5px,#b2c600 80.5px,#a4cf00 81.5px,#8cde00 82.5px,#6cf100 83.5px,#57f909 84.5px,#67f400 85.5px,#a3d000 87.5px,#bbc100 89.5px,#c7ba00 93.5px,#c7ba00 167.5px)"></i>
<i style="background:linear-gradient(90deg,#c7ba00 0.5px,#c5bb00 77.5px,#b5c500 80.5px,#a8cd00 81.5px,#8edd00 82.5px,#68f300 83.5px,#4dfb13 84.5px,#62f700 85.5px,#88e000 86.5px,#a6ce00 87.5px,#b5c500 88.5px,#c5bb00 91.5px,#c7ba00 167.5px)"></i>
<i style="background:linear-gradient(90deg,#c7ba00 0.5px,#c5bb00 77.5px,#b8c300 80.5px,#abcb00 81.5px,#8edc00 82.5px,#63f600 83.5px,#41fd1f 84.5px,#5af906 85.5px,#87e100 86.5px,#a9cc00 87.5px,#b8c300 88.5px,#c5bb00 91.5px,#c7ba00 167.5px)"></i>
<i style="background:linear-gradient(90deg,#c7ba00 0.5px,#c4bc00 78.5px,#bac200 80.5px,#aec900 81.5px,#8edc00 82.5px,#5bf905 83.5px,#32ff2e 84.5px,#50fa10 85.5px,#86e100 86.5px,#abcb00 87.5px,#bac200 88.5px,#c5bb00 91.5px,#c7ba00 167.5px)"></i>
<i style="background:linear-gradient(90deg,#c7ba00 0.5px,#c4bc00 78.5px,#bcc100 80.5px,#b0c800 81.5px,#8ddd00 82.5px,#52fa0e 83.5px,#27fc3c 84.5px,#45fc1b 85.5px,#84e300 86.5px,#adca00 87.5px,#bcc100 88.5px,#c7ba00 92.5px,#c7ba00 167.5px)"></i>
<i style="background:linear-gradient(90deg,#c7ba00 0.5px,#c5bb00 78.5px,#bec000 80.5px,#b2c700 81.5px,#8cde00 82.5px,#49fb17 83.5px,#1df94a 84.5px,#3afe26 85.5px,#81e400 86.5px,#aec900 87.5px,#bdc000 88.5px,#c7ba00 92.5px,#c7ba00 167.5px)"></i>
<i style="background:linear-gradient(90deg,#c7ba00 0.5px,#c5bb00 78.5px,#bfbf00 80.5px,#b3c600 81.5px,#8bde00 82.5px,#42fc1e 83.5px,#14f655 84.5px,#31ff2f 85.5px,#80e500 86.5px,#afc800 87.5px,#bfbf00 88.5px,#c7ba00 93.5px,#c7ba00 167.5px)"></i>
<i style="background:linear-gradient(90deg,#c7ba00 0.5px,#c4bc00 79.5px,#c1be00 80.5px,#b5c500 81.5px,#8bde00 82.5px,#3bfd25 83.5px,#0cf460 84.5px,#2bfe36 85.5px,#7fe600 86.5px,#b0c800 87.5px,#c0be00 88.5px,#c7ba00 95.5px,#c7ba00 167.5px)"></i>
<i style="background:linear-gradient(90deg,#c7ba00 0.5px,#c4bc00 79.5px,#c2bd00 80.5px,#b6c400 81.5px,#8bde00 82.5px,#34fe2c 83.5px,#01f06f 84.5px,#25fc3f 85.5px,#7ee600 86.5px,#b2c700 87.5px,#c1be00 88.5px,#c7ba00 94.5px,#c7ba00 167.5px)"></i>
<i style="background:linear-gradient(90deg,#c7ba00 0.5px,#c5bb00 79.5px,#c2bd00 80.5px,#b7c300 81.5px,#8bde00 82.5px,#2cfe35 83.5px,#00dd87 84.5px,#1bf84c 85.5px,#7ee600 86.5px,#b3c600 87.5px,#c2bd00 88.5px,#c7ba00 95.5px,#c7ba00 167.5px)"></i>
<i style="background:linear-gradient(90deg,#c7ba00 0.5px,#c5bb00 79.5px,#c3bc00 80.5px,#b9c300 81.5px,#8ddd00 82.5px,#27fc3c 83.5px,#00cc9b 84.5px,#14f656 85.5px,#7ee600 86.5px,#b4c500 87.5px,#c3bd00 88.5px,#c7ba00 100.5px,#c7ba00 167.5px)"></i>
<i style="background:linear-gradient(90deg,#c7ba00 0.5px,#c4bc00 80.5px,#bac200 81.5px,#91da00 82.5px,#2efe33 83.5px,#00d78f 84.5px,#1bf94c 85.5px,#83e300 86.5px,#b6c400 87.5px,#c3bc00 88.5px,#c7ba00 100.5px,#c7ba00 167.5px)"></i>
<i style="background:linear-gradient(90deg,#c7ba00 0.5px,#c4bc00 80.5px,#bcc100 81.5px,#98d700 82.5px,#46fc1a 83.5px,#0af363 84.5px,#31ff2f 85.5px,#8adf00 86.5px,#b8c300 87.5px,#c4bc00 88.5px,#c7ba00 167.5px)"></i>
<i style="background:linear-gradient(90deg,#c7ba00 0.5px,#c5bb00 80.5px,#bec000 81.5px,#9fd200 82.5px,#61f700 83.5px,#2cfe35 84.5px,#52fa0e 85.5px,#94d900 86.5px,#bac200 87.5px,#c4bc00 88.5px,#c7ba00 167.5px)"></i>
<i style="background:linear-gradient(90deg,#c7ba00 0.5px,#c5bb00 80.5px,#bfbf00 81.5px,#a5ce00 82.5px,#72ed00 83.5px,#4dfb13 84.5px,#68f300 85.5px,#9cd400 86.5px,#bcc000 87.5px,#c5bb00 88.5px,#c7ba00 167.5px)"></i>
<i style="background:linear-gradient(90deg,#c7ba00 0.5px,#c6bb00 80.5px,#c1be00 81.5px,#abcb00 82.5px,#80e500 83.5px,#65f500 84.5px,#78e900 85.5px,#a4cf00 86.5px,#bebf00 87.5px,#c7ba00 89.5px,#c7ba00 167.5px)"></i>
<i style="background:linear-gradient(90deg,#c7ba00 0.5px,#c6bb00 80.5px,#c2bd00 81.5px,#b1c700 82.5px,#8cdd00 83.5px,#75eb00 84.5px,#85e200 85.5px,#abcb00 86.5px,#c0be00 87.5px,#c7ba00 89.5px,#c7ba00 167.5px)"></i>
<i style="background:linear-gradient(90deg,#c7ba00 0.5px,#c6ba00 80.5px,#c3bc00 81.5px,#b4c500 82.5px,#90db00 83.5px,#75eb00 84.5px,#88e000 85.5px,#afc900 86.5px,#c1bd00 87.5px,#c7ba00 90.5px,#c7ba00 167.5px)"></i>
<i style="background:linear-gradient(90deg,#c7ba00 0.5px,#c4bc00 81.5px,#b3c600 82.5px,#78ea00 83.5px,#3bfd25 84.5px,#6af200 85.5px,#abcb00 86.5px,#c2bd00 87.5px,#c7ba00 92.5px,#c7ba00 167.5px)"></i>
<i style="background:linear-gradient(90deg,#c7ba00 0.5px,#c4bc00 81.5px,#acca00 82.5px,#47fc19 83.5px,#00dc88 84.5px,#2efe33 85.5px,#a2d100 86.5px,#c3bd00 87.5px,#c7ba00 95.5px,#c7ba00 167.5px)"></i>
<i style="background:linear-gradient(90deg,#c7ba00 0.5px,#c4bc00 81.5px,#a0d200 82.5px,#20fa45 83.5px,#00d88d 84.5px,#35fe2b 85.5px,#a5ce00 86.5px,#c3bc00 87.5px,#c7ba00 91.5px,#c7ba00 167.5px)"></i>
<i style="background:linear-gradient(90deg,#c7ba00 0.5px,#c5bb00 81.5px,#a4cf00 82.5px,#43fc1d 83.5px,#44fc1c 84.5px,#7ee600 85.5px,#b6c500 86.5px,#c5bb00 87.5px,#c7ba00 167.5px)"></i>
<i style="background:linear-gradient(90deg,#c7ba00 0.5px,#c6bb00 81.5px,#abcb00 82.5px,#6bf100 83.5px,#b1c800 85.5px,#c1be00 86.5px,#c7ba00 89.5px,#c7ba00 167.5px)"></i>
<i style="background:linear-gradient(90deg,#c7ba00 0.5px,#c6bb00 81.5px,#aec900 82.5px,#75eb00 83.5px,#a7ce00 84.5px,#bfbf00 85.5px,#c7ba00 89.5px,#c7ba00 167.5px)"></i>
<i style="background:linear-gradient(90deg,#c7ba00 0.5px,#c6bb00 81.5px,#afc900 82.5px,#78ea00 83.5px,#abcb00 84.5px,#c3bd00 85.5px,#c7ba00 93.5px,#c7ba00 167.5px)"></i>
<i style="background:linear-gradient(90deg,#c7ba00 0.5px,#c6ba00 81.5px,#afc800 82.5px,#79e900 83.5px,#adca00 84.5px,#c4bc00 85.5px,#c7ba00 167.5px)"></i>
<i style="background:linear-gradient(90deg,#c7ba00 0.5px,#c6ba00 81.5px,#b0c800 82.5px,#7ae900 83.5px,#aec900 84.5px,#c5bb00 85.5px,#c7ba00 167.5px)"></i>
<i style="background:linear-gradient(90deg,#c7ba00 0.5px,#c6ba00 81.5px,#b0c800 82.5px,#7ae800 83.5px,#afc800 84.5px,#c6bb00 85.5px,#c7ba00 167.5px)"></i>
<i style="background:linear-gradient(90deg,#c7ba00 0.5px,#c6ba00 81.5px,#b0c800 82.5px,#7ae800 83.5px,#b0c800 84.5px,#c6bb00 85.5px,#c7ba00 167.5px)"></i>
<i style="background:linear-gradient(90deg,#c7ba00 0.5px,#c6ba00 81.5px,#b0c800 82.5px,#7ae800 83.5px,#b0c800 84.5px,#c6ba00 85.5px,#c7ba00 167.5px)"></i>
<i style="height:4px;background:linear-gradient(90deg,#c7ba00 0.5px,#c6ba00 81.5px,#b0c800 82.5px,#7be800 83.5px,#b0c800 84.5px,#c6ba00 85.5px,#c7ba00 167.5px)"></i>
</div>
<div class="im" style="left:221px;top:23px;width:84px;height:336px">
<i style="background:repeating-linear-gradient(90deg,#46fc1a 0,#63f600,#8ddd00,#e59d00,#ff4f00,#ff3000,#ff2600,#ff2400,#ff2400,#ff2600,#ff2c00,#ff4400,#f58700,#a2d000,#6bf100,#4efb12,#36fe2a,#24fb40,#1ffa46,#2fff31,#46fc1a 21.25px)"></i>
<i style="background:repeating-linear-gradient(90deg,#48fb18 0,#66f500,#94d900,#eb9700,#ff4b00,#ff2f00,#ff2600,#ff2400,#ff2400,#ff2600,#ff2d00,#ff4700,#f29000,#9bd400,#69f300,#4bfb15,#34fe2c,#23fb42,#21fa44,#31ff2f,#48fb18 21.25px)"></i>
<i style="background:repeating-linear-gradient(90deg,#4afb16 0,#68f300,#9ad500,#f19100,#ff4800,#ff2e00,#ff2600,#ff2400,#ff2400,#ff2600,#ff2e00,#ff4b00,#ec9600,#95d800,#66f400,#49fb17,#31ff2f,#21fa44,#22fb43,#33ff2d,#4afb16 21.25px)"></i>
<i style="background:repeating-linear-gradient(90deg,#4dfb13 0,#6af200,#a0d100,#f48800,#ff4400,#ff2c00,#ff2600,#ff2400,#ff2400,#ff2600,#ff3000,#ff4f00,#e69c00,#8edd00,#63f600,#46fc1a,#2fff31,#1ffa47,#23fb41,#35fe2b,#4dfb13 21.25px)"></i>
<i style="background:repeating-linear-gradient(90deg,#4ffa11 0,#6df000,#a9cc00,#f77e00,#ff4100,#ff2b00,#ff2500,#ff2400,#ff2400,#ff2600,#ff3100,#ff5200,#dea300,#87e100,#60f800,#43fc1d,#2dfe34,#1df949,#25fb3f,#37fe29,#4ffa11 21.25px)"></i>
<i style="background:repeating-linear-gradient(90deg,#52fa0e 0,#6fef00,#b5c500,#f97500,#ff3d00,#ff2a00,#ff2500,#ff2300,#ff2500,#ff2700,#ff3200,#ff5600,#d6ab00,#81e400,#5df803,#40fd20,#2bfe36,#1bf84c,#26fc3e,#38fe28,#52fa0e 21.25px)"></i>
<i style="background:repeating-linear-gradient(90deg,#54fa0c 0,#72ed00,#c1be00,#fc6b00,#ff3a00,#ff2900,#ff2500,#ff2300,#ff2500,#ff2800,#ff3400,#ff5c00,#cfb300,#7ae800,#59f907,#3dfd23,#29fd39,#19f84f,#27fc3c,#3afe26,#54fa0c 21.25px)"></i>
<i style="background:repeating-linear-gradient(90deg,#57f909 0,#77ea00,#cbb700,#ff6100,#ff3600,#ff2800,#ff2500,#ff2300,#ff2500,#ff2800,#ff3800,#fd6600,#c7ba00,#74ec00,#55fa0b,#3afd26,#27fc3c,#17f751,#28fc3b,#3bfd25,#57f909 21.25px)"></i>
<i style="background:repeating-linear-gradient(90deg,#59f907 0,#7ce700,#d2af00,#ff5800,#ff3300,#ff2700,#ff2500,#ff2300,#ff2500,#ff2a00,#ff3c00,#fb7000,#b9c200,#6eef00,#51fa0f,#37fe29,#25fb3f,#18f850,#29fd3a,#3dfd23,#59f907 21.25px)"></i>
<i style="background:repeating-linear-gradient(90deg,#5bf905 0,#81e400,#d9a800,#ff5500,#ff3200,#ff2700,#ff2500,#ff2300,#ff2500,#ff2b00,#ff3f00,#f87b00,#acca00,#6bf100,#4dfb13,#34fe2c,#22fb43,#19f84f,#29fd39,#3efd22,#5bf905 21.25px)"></i>
<i style="background:repeating-linear-gradient(90deg,#5df803 0,#87e100,#e1a100,#ff5100,#ff3000,#ff2600,#ff2400,#ff2400,#ff2600,#ff2c00,#ff4300,#f58500,#a0d200,#67f400,#48fb18,#30ff30,#1ffa46,#1af84e,#2afd38,#3ffd21,#5df803 21.25px)"></i>
<i style="background:repeating-linear-gradient(90deg,#5ff801 0,#8cdd00,#e89a00,#ff4d00,#ff2f00,#ff2600,#ff2400,#ff2400,#ff2600,#ff2d00,#ff4700,#f29000,#98d700,#64f600,#44fc1c,#2dfe34,#1df94a,#1af84d,#2bfd37,#40fd20,#5ff801 21.25px)"></i>
<i style="background:repeating-linear-gradient(90deg,#61f700 0,#92da00,#ee9400,#ff4a00,#ff2e00,#ff2600,#ff2400,#ff2400,#ff2600,#ff2f00,#ff4b00,#eb9700,#8fdc00,#60f800,#40fd20,#2bfd37,#1af84d,#1bf84c,#2bfe36,#41fd1f,#61f700 21.25px)"></i>
<i style="background:repeating-linear-gradient(90deg,#62f700 0,#99d600,#f38d00,#ff4600,#ff2d00,#ff2600,#ff2400,#ff2400,#ff2600,#ff3000,#ff5000,#e49e00,#87e100,#5bf905,#3cfd24,#28fc3b,#17f751,#1bf84c,#2cfe36,#42fc1e,#62f700 21.25px)"></i>
<i style="background:repeating-linear-gradient(90deg,#64f600 0,#a0d200,#f68300,#ff4200,#ff2c00,#ff2600,#ff2400,#ff2400,#ff2700,#ff3100,#ff5400,#dca600,#80e500,#56f90a,#38fe28,#25fb3f,#14f655,#1bf94b,#2cfe35,#44fc1c,#64f600 21.25px)"></i>
<i style="background:repeating-linear-gradient(90deg,#64f500 0,#abcb00,#f87900,#ff3f00,#ff2b00,#ff2500,#ff2300,#ff2500,#ff2700,#ff3300,#ff5800,#d3af00,#77ea00,#50fa10,#32ff2e,#20fa45,#0ff55b,#1bf84d,#2bfe36,#44fc1c,#64f500 21.25px)"></i>
<i style="background:repeating-linear-gradient(90deg,#5ff801 0,#b2c700,#fa7100,#ff3c00,#ff2a00,#ff2500,#ff2300,#ff2500,#ff2800,#ff3600,#ff6100,#c6bb00,#68f300,#40fd20,#27fc3d,#15f754,#03f16b,#12f657,#24fb40,#3bfd25,#5ff801 21.25px)"></i>
<i style="background:repeating-linear-gradient(90deg,#56fa0a 0,#b5c500,#fc6900,#ff3900,#ff2900,#ff2500,#ff2300,#ff2500,#ff2a00,#ff3b00,#fb7000,#acca00,#51fa0f,#2bfd37,#16f753,#03f16c,#00e083,#04f16a,#17f751,#2dfe35,#56fa0a 21.25px)"></i>
<i style="background:repeating-linear-gradient(90deg,#49fb17 0,#b7c400,#fe6400,#ff3700,#ff2800,#ff2500,#ff2300,#ff2600,#ff2c00,#ff4200,#f58300,#8ddd00,#33ff2d,#17f751,#01f06f,#00db8a,#00ca9d,#00e182,#06f268,#1ef948,#49fb17 21.25px)"></i>
<i style="background:repeating-linear-gradient(90deg,#3cfd24 0,#bac200,#fe6400,#ff3700,#ff2800,#ff2500,#ff2400,#ff2600,#ff2e00,#ff4a00,#ed9500,#6fef00,#1ef948,#01f06f,#00d78e,#00c1a5,#00b7ad,#00cb9d,#00e380,#0ff55d,#3cfd24 21.25px)"></i>
<i style="background:repeating-linear-gradient(90deg,#30ff30 0,#c0be00,#fe6300,#ff3700,#ff2800,#ff2500,#ff2400,#ff2700,#ff3100,#ff5200,#dfa200,#4ffa11,#09f363,#00d78d,#00c0a6,#00abb5,#00a6bc,#00b9ab,#00cf98,#00f071,#30ff30 21.25px)"></i>
<i style="background:repeating-linear-gradient(90deg,#2afd38 0,#c7ba00,#ff6100,#ff3600,#ff2800,#ff2500,#ff2400,#ff2700,#ff3400,#ff5b00,#d1b000,#33ff2d,#00e57d,#00c2a4,#00adb4,#009ccd,#009acf,#00abb6,#00c0a6,#00e182,#2afd38 21.25px)"></i>
<i style="background:repeating-linear-gradient(90deg,#28fc3b 0,#cdb500,#ff5d00,#ff3500,#ff2700,#ff2400,#ff2500,#ff2800,#ff3700,#fe6300,#c0be00,#20fa45,#00d392,#00b4af,#00a0c5,#008fe1,#0091de,#00a2c2,#00b6ad,#00d78e,#28fc3b 21.25px)"></i>
<i style="background:repeating-linear-gradient(90deg,#2bfd37 0,#d4ad00,#ff5800,#ff3300,#ff2700,#ff2400,#ff2500,#ff2800,#ff3900,#fc6b00,#a8cd00,#12f658,#00c7a0,#00aab6,#0099d1,#0080f0,#008be5,#009ec8,#00b2b0,#00d492,#2bfd37 21.25px)"></i>
<i style="background:repeating-linear-gradient(90deg,#3afe26 0,#dfa300,#ff5200,#ff3100,#ff2700,#ff2400,#ff2500,#ff2900,#ff3b00,#fa7200,#92da00,#09f363,#00c4a3,#00a8b8,#0097d4,#007cf3,#008ee2,#00a0c5,#00b5ae,#00d88d,#3afe26 21.25px)"></i>
<i style="background:repeating-linear-gradient(90deg,#56f90a 0,#eb9700,#ff4b00,#ff2f00,#ff2600,#ff2300,#ff2600,#ff2a00,#ff3d00,#f97600,#83e300,#06f267,#00c6a1,#00acb5,#009acf,#0083ed,#0096d6,#00a6bb,#00bea7,#00e380,#56f90a 21.25px)"></i>
<i style="background:repeating-linear-gradient(90deg,#73ed00 0,#f48700,#ff4300,#ff2c00,#ff2600,#ff2300,#ff2600,#ff2c00,#ff4100,#f68100,#79e900,#09f364,#00cf98,#00b5ae,#00a1c3,#0091de,#00a1c4,#00b4af,#00ce99,#06f268,#73ed00 21.25px)"></i>
<i style="background:repeating-linear-gradient(90deg,#91db00 0,#fa7200,#ff3b00,#ff2a00,#ff2600,#ff2300,#ff2600,#ff2d00,#ff4500,#f38c00,#74ec00,#10f55b,#00de86,#00c3a4,#00aeb3,#00a0c5,#00b2b0,#00c6a1,#00e47e,#1df94a,#91db00 21.25px)"></i>
<i style="background:repeating-linear-gradient(90deg,#b4c500 0,#fd6600,#ff3700,#ff2800,#ff2500,#ff2400,#ff2600,#ff2e00,#ff4800,#f09200,#73ec00,#1ffa47,#02f06e,#00d88d,#00c2a5,#00b7ad,#00ca9e,#00e281,#0ef45e,#38fe28,#b4c500 21.25px)"></i>
<i style="background:repeating-linear-gradient(90deg,#25fc3f 0,#37fe29,#50fa10,#6df000,#a6ce00,#f68100,#ff4200,#ff2c00,#ff2600,#ff2400,#ff2400,#ff2600,#ff3000,#ff5100,#e0a100,#89df00,#62f700,#45fc1b,#2fff32,#1efa47,#25fc3f 21.25px)"></i>
<i style="background:repeating-linear-gradient(90deg,#22fb42 0,#34fe2c,#4bfb15,#68f300,#9ad500,#f19100,#ff4800,#ff2e00,#ff2600,#ff2400,#ff2400,#ff2600,#ff2e00,#ff4b00,#ec9600,#95d800,#66f400,#49fb17,#32ff2e,#21fa44,#22fb42 21.25px)"></i>
<i style="background:repeating-linear-gradient(90deg,#20fa45 0,#30ff30,#47fc19,#64f500,#90db00,#e79a00,#ff4e00,#ff2f00,#ff2600,#ff2400,#ff2400,#ff2600,#ff2d00,#ff4500,#f48a00,#a0d200,#6af200,#4dfb13,#35fe2b,#24fb41,#20fa45 21.25px)"></i>
<i style="background:repeating-linear-gradient(90deg,#1ef948 0,#2eff32,#45fc1b,#62f700,#89e000,#e0a200,#ff5100,#ff3100,#ff2600,#ff2400,#ff2400,#ff2600,#ff2b00,#ff4100,#f68000,#a7cd00,#6df000,#50fa10,#38fe28,#25fc3e,#1ef948 21.25px)"></i>
<i style="background:repeating-linear-gradient(90deg,#1df949 0,#2dfe34,#43fc1d,#5ff801,#83e300,#d9a800,#ff5500,#ff3200,#ff2700,#ff2500,#ff2300,#ff2500,#ff2a00,#ff3e00,#f97700,#b2c600,#6fef00,#53fa0d,#3afe26,#27fc3d,#1df949 21.25px)"></i>
<i style="background:repeating-linear-gradient(90deg,#1cf94b 0,#2cfe36,#41fd1f,#5df803,#7fe500,#d3ae00,#ff5800,#ff3300,#ff2700,#ff2500,#ff2300,#ff2500,#ff2900,#ff3b00,#fb6f00,#bcc100,#71ee00,#55fa0b,#3bfd25,#28fc3b,#1cf94b 21.25px)"></i>
<i style="background:repeating-linear-gradient(90deg,#1af84d 0,#2bfd37,#3ffd21,#5af906,#7be800,#ceb400,#ff5e00,#ff3500,#ff2800,#ff2500,#ff2300,#ff2500,#ff2900,#ff3800,#fd6800,#c5bb00,#75eb00,#57f909,#3dfd23,#29fd39,#1af84d 21.25px)"></i>
<i style="background:repeating-linear-gradient(90deg,#1af84d 0,#2afd39,#3efd22,#58f908,#77ea00,#c8b900,#fe6400,#ff3700,#ff2800,#ff2500,#ff2300,#ff2500,#ff2800,#ff3600,#ff6100,#cbb600,#79e900,#59f907,#3ffd21,#2afd38,#1af84d 21.25px)"></i>
<i style="background:repeating-linear-gradient(90deg,#1bf84c 0,#29fd3a,#3cfd24,#56f90a,#73ec00,#c2bd00,#fc6a00,#ff3900,#ff2900,#ff2500,#ff2300,#ff2500,#ff2700,#ff3400,#ff5b00,#d0b200,#7ce700,#5bf905,#40fd20,#2bfd37,#1bf84c 21.25px)"></i>
<i style="background:repeating-linear-gradient(90deg,#1cf94b 0,#28fc3b,#3bfd25,#55fa0b,#71ee00,#bbc100,#fb7000,#ff3c00,#ff2a00,#ff2500,#ff2300,#ff2500,#ff2700,#ff3200,#ff5700,#d4ad00,#80e500,#5df803,#41fc1f,#2cfe35,#1cf94b 21.25px)"></i>
<i style="background:repeating-linear-gradient(90deg,#1df94a 0,#27fc3c,#3afe26,#53fa0d,#70ef00,#b4c500,#f97600,#ff3e00,#ff2a00,#ff2500,#ff2300,#ff2500,#ff2700,#ff3200,#ff5500,#d8a900,#83e300,#5ff801,#43fc1d,#2dfe34,#1df94a 21.25px)"></i>
<i style="background:repeating-linear-gradient(90deg,#1df949 0,#26fc3d,#39fe27,#51fa0f,#6eef00,#aec900,#f87b00,#ff3f00,#ff2b00,#ff2500,#ff2300,#ff2400,#ff2600,#ff3100,#ff5300,#dca600,#86e100,#60f800,#44fc1c,#2efe33,#1df949 21.25px)"></i>
<i style="background:repeating-linear-gradient(90deg,#1ef948 0,#25fc3e,#38fe28,#50fa10,#6df000,#a8cd00,#f77f00,#ff4100,#ff2b00,#ff2600,#ff2400,#ff2400,#ff2600,#ff3100,#ff5200,#dfa200,#88e000,#62f700,#45fc1b,#2efe32,#1ef948 21.25px)"></i>
<i style="background:repeating-linear-gradient(90deg,#1ffa47 0,#25fb3f,#37fe29,#4efb12,#6cf100,#a4cf00,#f58400,#ff4300,#ff2c00,#ff2600,#ff2400,#ff2400,#ff2600,#ff3000,#ff5000,#e39f00,#8cde00,#63f600,#46fc1a,#2fff31,#1ffa47 21.25px)"></i>
<i style="background:repeating-linear-gradient(90deg,#20fa46 0,#24fb40,#36fe2a,#4dfb13,#6bf200,#a1d100,#f48800,#ff4400,#ff2c00,#ff2600,#ff2400,#ff2400,#ff2600,#ff3000,#ff4e00,#e69b00,#8fdc00,#64f600,#47fc19,#30ff30,#20fa46 21.25px)"></i>
<i style="background:repeating-linear-gradient(90deg,#20fa45 0,#23fb41,#35fe2b,#4cfb14,#6af200,#9ed300,#f38d00,#ff4600,#ff2d00,#ff2600,#ff2400,#ff2400,#ff2600,#ff2f00,#ff4d00,#e99800,#92da00,#65f500,#48fc18,#31ff2f,#20fa45 21.25px)"></i>
<i style="background:repeating-linear-gradient(90deg,#21fa44 0,#22fb43,#33ff2d,#4afb16,#68f300,#9ad500,#f19100,#ff4800,#ff2e00,#ff2600,#ff2400,#ff2400,#ff2600,#ff2f00,#ff4b00,#ec9600,#94d900,#66f400,#48fb18,#31ff2f,#21fa44 21.25px)"></i>
<i style="background:repeating-linear-gradient(90deg,#1ffa47 0,#1ffa47,#2fff31,#46fc1a,#65f500,#95d800,#ee9400,#ff4a00,#ff2e00,#ff2600,#ff2400,#ff2400,#ff2600,#ff2e00,#ff4a00,#ee9400,#95d800,#65f500,#46fc1a,#2fff31,#1ffa47 21.25px)"></i>
<i style="background:repeating-linear-gradient(90deg,#1bf94c 0,#1af84e,#2afd38,#40fd20,#5ff801,#8ddd00,#e99800,#ff4c00,#ff2f00,#ff2600,#ff2400,#ff2400,#ff2600,#ff2e00,#ff4900,#f09200,#95d800,#62f700,#42fc1e,#2cfe35,#1bf94c 21.25px)"></i>
<i style="background:repeating-linear-gradient(90deg,#16f753 0,#13f657,#24fb41,#37fe29,#56f90a,#85e200,#e59d00,#ff4f00,#ff3000,#ff2600,#ff2400,#ff2400,#ff2600,#ff2e00,#ff4800,#f19100,#93da00,#5df803,#3bfd25,#27fc3c,#16f753 21.25px)"></i>
<i style="background:repeating-linear-gradient(90deg,#0ff55c 0,#0af363,#1cf94b,#2dfe34,#4cfb14,#7ce700,#dea400,#ff5300,#ff3100,#ff2700,#ff2400,#ff2400,#ff2600,#ff2d00,#ff4700,#f28f00,#90db00,#56f90a,#34fe2c,#21fa44,#0ff55c 21.25px)"></i>
<i style="background:repeating-linear-gradient(90deg,#08f265 0,#00f06f,#12f657,#24fb3f,#40fd20,#71ee00,#d6ab00,#ff5700,#ff3200,#ff2700,#ff2500,#ff2400,#ff2600,#ff2d00,#ff4500,#f38c00,#8edd00,#4ffb11,#2dfe34,#1af84d,#08f265 21.25px)"></i>
<i style="background:repeating-linear-gradient(90deg,#00f070 0,#00e57d,#09f364,#1bf94c,#33ff2d,#66f500,#ceb300,#ff5b00,#ff3400,#ff2700,#ff2500,#ff2400,#ff2600,#ff2c00,#ff4400,#f48800,#8fdc00,#47fc19,#26fc3d,#13f657,#00f070 21.25px)"></i>
<i style="background:repeating-linear-gradient(90deg,#00e77a 0,#00d98c,#00ee72,#12f658,#29fd39,#58f908,#c4bc00,#ff6000,#ff3500,#ff2700,#ff2500,#ff2300,#ff2600,#ff2c00,#ff4200,#f58400,#91db00,#3ffd21,#20fa45,#0bf461,#00e77a 21.25px)"></i>
<i style="background:repeating-linear-gradient(90deg,#00df85 0,#00cd9a,#00e37f,#09f365,#20fa45,#4afb16,#b5c500,#fe6500,#ff3700,#ff2800,#ff2500,#ff2300,#ff2600,#ff2b00,#ff4100,#f77f00,#93d900,#38fe28,#1af84d,#04f16a,#00df85 21.25px)"></i>
<i style="background:repeating-linear-gradient(90deg,#00d78e 0,#00c3a3,#00d98c,#00f070,#17f751,#3cfd24,#a6ce00,#fb6e00,#ff3a00,#ff2900,#ff2500,#ff2300,#ff2600,#ff2b00,#ff3f00,#f87a00,#96d700,#33fe2d,#15f654,#00ed73,#00d78e 21.25px)"></i>
<i style="background:repeating-linear-gradient(90deg,#00d097 0,#00bca9,#00cf97,#00e77b,#0ff55b,#2fff31,#97d700,#f97700,#ff3e00,#ff2b00,#ff2600,#ff2300,#ff2500,#ff2a00,#ff3c00,#fa7400,#9bd500,#31ff2f,#10f55b,#00e77b,#00d097 21.25px)"></i>
<i style="background:repeating-linear-gradient(90deg,#00cb9d 0,#00b7ac,#00c7a0,#00df85,#08f365,#27fc3d,#88e000,#f68100,#ff4100,#ff2c00,#ff2600,#ff2300,#ff2500,#ff2900,#ff3a00,#fb6e00,#a1d100,#30ff30,#0df45f,#00e280,#00cb9d 21.25px)"></i>
<i style="background:repeating-linear-gradient(90deg,#00c7a0 0,#00b5af,#00c2a4,#00d98c,#03f16c,#20fa45,#7ce700,#f38b00,#ff4500,#ff2d00,#ff2600,#ff2300,#ff2500,#ff2800,#ff3800,#fd6900,#a9cc00,#31ff2f,#0bf361,#00df84,#00c7a0 21.25px)"></i>
<i style="background:repeating-linear-gradient(90deg,#00c7a1 0,#00b4af,#00bfa7,#00d491,#00ee72,#1cf94a,#70ee00,#ee9400,#ff4900,#ff2e00,#ff2600,#ff2400,#ff2500,#ff2800,#ff3700,#fd6600,#b4c600,#36fe2a,#0bf361,#00df85,#00c7a1 21.25px)"></i>
<i style="background:repeating-linear-gradient(90deg,#00c8a0 0,#00b5ae,#00bda8,#00d294,#00eb76,#1af84e,#64f600,#e89a00,#ff4d00,#ff2f00,#ff2600,#ff2400,#ff2500,#ff2700,#ff3600,#fe6200,#c1bd00,#3dfd23,#0df45e,#00e083,#00c8a0 21.25px)"></i>
<i style="background:repeating-linear-gradient(90deg,#00cb9d 0,#00b7ad,#00bba9,#00d096,#00e879,#17f751,#5cf904,#e0a200,#ff5200,#ff3100,#ff2700,#ff2400,#ff2500,#ff2700,#ff3500,#ff5d00,#cdb400,#46fc1a,#10f55a,#00e380,#00cb9d 21.25px)"></i>
<i style="background:repeating-linear-gradient(90deg,#00ce99 0,#00baab,#00baab,#00ce99,#00e67c,#14f655,#52fa0e,#d7aa00,#ff5700,#ff3300,#ff2700,#ff2400,#ff2400,#ff2700,#ff3300,#ff5800,#d6ab00,#51fa0f,#14f656,#00e67c,#00ce99 21.25px)"></i>
<i style="background:repeating-linear-gradient(90deg,#00d294 0,#00bda9,#00b8ac,#00cc9c,#00e47f,#11f559,#46fc1a,#ccb500,#ff5d00,#ff3500,#ff2700,#ff2500,#ff2400,#ff2700,#ff3100,#ff5100,#e1a000,#5ef802,#18f850,#00ea77,#00d294 21.25px)"></i>
<i style="background:repeating-linear-gradient(90deg,#00d88d 0,#00c1a5,#00b5ae,#00c8a0,#00e083,#0cf460,#35fe2b,#afc900,#fd6700,#ff3800,#ff2800,#ff2500,#ff2300,#ff2600,#ff2d00,#ff4700,#f29000,#77ea00,#1ffa47,#01f06e,#00d88d 21.25px)"></i>
<i style="background:repeating-linear-gradient(90deg,#00df84 0,#00c7a1,#00b4af,#00c4a3,#00db89,#05f269,#23fb41,#84e200,#f58400,#ff4200,#ff2c00,#ff2600,#ff2300,#ff2500,#ff2900,#ff3a00,#fc6d00,#a1d100,#2efe32,#0af363,#00df84 21.25px)"></i>
<i style="background:repeating-linear-gradient(90deg,#00e87a 0,#00d097,#00bba9,#00bfa7,#00d591,#00ed74,#1af84d,#5ff801,#e0a100,#ff5200,#ff3100,#ff2700,#ff2400,#ff2500,#ff2700,#ff3400,#ff5c00,#d0b100,#4cfb14,#14f655,#00e87a 21.25px)"></i>
<i style="background:repeating-linear-gradient(90deg,#03f16d 0,#00da8b,#00c3a4,#00baaa,#00ce99,#00e67c,#11f559,#40fd20,#bebf00,#fe6300,#ff3600,#ff2700,#ff2500,#ff2400,#ff2600,#ff2f00,#ff4a00,#ec9600,#6eef00,#20fa46,#03f16d 21.25px)"></i>
<i style="background:repeating-linear-gradient(90deg,#0ff55c 0,#00e47e,#00cd9b,#00b9ab,#00c7a1,#00df85,#08f265,#25fc3f,#83e300,#f58700,#ff4300,#ff2c00,#ff2600,#ff2300,#ff2500,#ff2900,#ff3800,#fd6900,#a8cd00,#35fe2b,#0ff55c 21.25px)"></i>
<i style="background:repeating-linear-gradient(90deg,#1bf84c 0,#00ef71,#00d78e,#00c2a5,#00c2a5,#00d88d,#00ef71,#1bf94b,#5bf905,#daa700,#ff5500,#ff3200,#ff2700,#ff2400,#ff2400,#ff2700,#ff3200,#ff5600,#d9a900,#59f907,#1bf84c 21.25px)"></i>
<i style="background:repeating-linear-gradient(90deg,#27fc3b 0,#0bf362,#00e280,#00cb9c,#00bda8,#00d195,#00e979,#13f657,#3bfd25,#aec900,#fd6700,#ff3800,#ff2800,#ff2500,#ff2300,#ff2600,#ff2d00,#ff4400,#f48800,#82e300,#27fc3b 21.25px)"></i>
<i style="background:repeating-linear-gradient(90deg,#47fc19 0,#19f84f,#00f070,#00d98c,#00c3a4,#00cf98,#00e67c,#0df45f,#29fd39,#7be800,#f29000,#ff4700,#ff2d00,#ff2600,#ff2400,#ff2500,#ff2700,#ff3600,#fe6200,#bebf00,#47fc19 21.25px)"></i>
<i style="background:repeating-linear-gradient(90deg,#69f300 0,#28fd3a,#0df45e,#00e879,#00d294,#00d096,#00e77b,#0cf460,#26fc3d,#64f600,#dba600,#ff5500,#ff3200,#ff2700,#ff2400,#ff2400,#ff2700,#ff3100,#ff5200,#e0a100,#69f300 21.25px)"></i>
<i style="background:repeating-linear-gradient(90deg,#90db00 0,#3cfd24,#1df949,#08f365,#00e37f,#00d591,#00ea77,#0ef45d,#26fc3e,#54fa0c,#c0be00,#ff6100,#ff3600,#ff2800,#ff2500,#ff2300,#ff2600,#ff2c00,#ff4200,#f58300,#90db00 21.25px)"></i>
<i style="background:repeating-linear-gradient(90deg,#c5bb00 0,#5ef802,#2efe32,#18f750,#05f269,#00e183,#00ef71,#12f658,#27fc3c,#48fc18,#99d600,#f77f00,#ff4100,#ff2b00,#ff2600,#ff2300,#ff2500,#ff2800,#ff3500,#ff5f00,#c5bb00 21.25px)"></i>
<i style="background:repeating-linear-gradient(90deg,#e39f00 0,#7be800,#45fc1b,#27fc3c,#15f754,#03f16c,#05f16a,#17f752,#29fd3a,#49fb17,#81e400,#ea9800,#ff4c00,#ff2f00,#ff2600,#ff2400,#ff2400,#ff2600,#ff3000,#ff5000,#e39f00 21.25px)"></i>
<i style="background:repeating-linear-gradient(90deg,#f68300 0,#9cd400,#5bf905,#39fe27,#24fb40,#12f658,#09f363,#1bf84c,#2cfe35,#4afb16,#76eb00,#d6ac00,#ff5700,#ff3200,#ff2700,#ff2500,#ff2400,#ff2600,#ff2c00,#ff4200,#f68300 21.25px)"></i>
<i style="background:repeating-linear-gradient(90deg,#ff5f00 0,#cab700,#72ed00,#4efb12,#32ff2e,#20fa45,#0ff55b,#1ef948,#2fff31,#4afb16,#6af200,#bcc100,#fc6c00,#ff3a00,#ff2900,#ff2500,#ff2300,#ff2500,#ff2800,#ff3500,#ff5f00 21.25px)"></i>
<i style="background:repeating-linear-gradient(90deg,#ff4f00 0,#e69c00,#8bde00,#60f800,#42fc1e,#2cfe35,#1cf94b,#20fa46,#30ff30,#48fc18,#67f400,#9cd400,#f38b00,#ff4500,#ff2d00,#ff2600,#ff2400,#ff2400,#ff2600,#ff3000,#ff4f00 21.25px)"></i>
<i style="background:repeating-linear-gradient(90deg,#ff4200 0,#f68100,#a5ce00,#6cf100,#4ffb11,#37fe29,#25fb3f,#1ef948,#2efe32,#45fc1b,#61f700,#89df00,#e0a100,#ff5100,#ff3000,#ff2600,#ff2400,#ff2400,#ff2600,#ff2c00,#ff4200 21.25px)"></i>
<i style="background:repeating-linear-gradient(90deg,#ff3500 0,#ff5f00,#cdb400,#7ae800,#5af906,#3ffd21,#2afd38,#1af84d,#29fd3a,#3dfd23,#57f909,#75eb00,#c6bb00,#fd6700,#ff3800,#ff2900,#ff2500,#ff2300,#ff2500,#ff2800,#ff3500 21.25px)"></i>
<i style="background:repeating-linear-gradient(90deg,#ff2f00 0,#ff4e00,#e79b00,#8edd00,#62f700,#44fc1c,#2efe33,#1df949,#21fa44,#31ff2f,#49fb17,#68f300,#9dd400,#f38c00,#ff4600,#ff2d00,#ff2600,#ff2400,#ff2400,#ff2600,#ff2f00 21.25px)"></i>
<i style="background:repeating-linear-gradient(90deg,#ff2b00 0,#ff4000,#f77c00,#a9cc00,#68f300,#49fb17,#30ff31,#1ffa47,#16f753,#26fc3d,#3afe26,#57f909,#7fe500,#d8a900,#ff5500,#ff3200,#ff2700,#ff2500,#ff2300,#ff2500,#ff2b00 21.25px)"></i>
<i style="background:repeating-linear-gradient(90deg,#ff2700 0,#ff3200,#ff5600,#d8a900,#7be800,#51fa0f,#33ff2d,#21fa44,#10f55b,#19f84f,#2afd39,#40fd20,#62f700,#a1d100,#f68100,#ff4200,#ff2c00,#ff2600,#ff2400,#ff2500,#ff2700 21.25px)"></i>
<i style="background:repeating-linear-gradient(90deg,#ff2600 0,#ff2b00,#ff4100,#f68000,#9fd200,#5bf905,#38fe28,#23fb41,#12f658,#08f266,#19f84e,#2bfd37,#47fc19,#73ec00,#d3ae00,#ff5800,#ff3300,#ff2700,#ff2500,#ff2300,#ff2600 21.25px)"></i>
<i style="background:repeating-linear-gradient(90deg,#ff2400 0,#ff2700,#ff3200,#ff5500,#dba700,#75ec00,#42fc1e,#26fc3e,#14f656,#02f16e,#07f266,#19f84e,#2cfe36,#4dfb13,#8adf00,#f19100,#ff4700,#ff2e00,#ff2600,#ff2400,#ff2400 21.25px)"></i>
<i style="background:repeating-linear-gradient(90deg,#ff2300 0,#ff2600,#ff2b00,#ff3f00,#f87a00,#a0d100,#4cfb14,#2afd38,#16f753,#03f16c,#00e37f,#07f266,#1af84d,#30ff30,#5ef802,#c2bd00,#ff6000,#ff3500,#ff2800,#ff2500,#ff2300 21.25px)"></i>
<i style="background:repeating-linear-gradient(90deg,#ff2400 0,#ff2400,#ff2700,#ff3200,#ff5700,#d7aa00,#68f300,#2fff31,#17f752,#04f16b,#00df85,#00e57e,#09f364,#1cf94a,#39fe27,#7be800,#eb9600,#ff4b00,#ff2f00,#ff2600,#ff2400 21.25px)"></i>
<i style="background:repeating-linear-gradient(90deg,#ff2500 0,#ff2400,#ff2600,#ff2d00,#ff4700,#f29000,#80e500,#35fe2b,#18f850,#04f16b,#00de86,#00d393,#00e979,#0df45e,#26fc3e,#58f908,#cab700,#ff5e00,#ff3500,#ff2700,#ff2500 21.25px)"></i>
<i style="background:repeating-linear-gradient(90deg,#ff2500 0,#ff2300,#ff2500,#ff2a00,#ff3c00,#fa7300,#a0d100,#3bfd25,#19f84f,#02f16e,#00db89,#00c6a2,#00db89,#02f16e,#19f84f,#3bfd25,#a0d100,#fa7300,#ff3c00,#ff2a00,#ff2500 21.25px)"></i>
<i style="background:repeating-linear-gradient(90deg,#ff2600 0,#ff2300,#ff2500,#ff2900,#ff3800,#fd6800,#abcb00,#3dfd23,#16f752,#00ee73,#00d78e,#00c2a5,#00d393,#00e978,#11f559,#2dfe33,#8ddd00,#f68100,#ff4100,#ff2c00,#ff2600 21.25px)"></i>
<i style="background:repeating-linear-gradient(90deg,#ff2600 0,#ff2300,#ff2500,#ff2800,#ff3700,#fd6600,#b2c700,#3efd22,#14f655,#00eb76,#00d392,#00bfa7,#00cc9b,#00e37f,#0bf461,#28fd3b,#81e400,#f48a00,#ff4400,#ff2d00,#ff2600 21.25px)"></i>
<i style="background:repeating-linear-gradient(90deg,#ff2600 0,#ff2400,#ff2500,#ff2800,#ff3700,#fe6400,#b9c200,#40fd20,#14f656,#00e978,#00d294,#00bda8,#00c8a0,#00e084,#08f265,#25fb3f,#78e900,#f19100,#ff4700,#ff2e00,#ff2600 21.25px)"></i>
<i style="background:repeating-linear-gradient(90deg,#ff2600 0,#ff2400,#ff2500,#ff2700,#ff3600,#fe6200,#c0be00,#44fc1c,#15f654,#00ea77,#00d393,#00bea8,#00c7a1,#00de85,#06f267,#23fb41,#72ed00,#ee9400,#ff4900,#ff2e00,#ff2600 21.25px)"></i>
<i style="background:repeating-linear-gradient(90deg,#ff2600 0,#ff2400,#ff2500,#ff2700,#ff3600,#ff6000,#c6bb00,#47fc19,#16f753,#00eb76,#00d492,#00bfa7,#00c7a1,#00de86,#06f269,#22fb42,#6df000,#eb9700,#ff4b00,#ff2f00,#ff2600 21.25px)"></i>
<i style="background:repeating-linear-gradient(90deg,#ff2600 0,#ff2400,#ff2500,#ff2700,#ff3500,#ff5e00,#cab700,#4bfb15,#17f751,#00ec74,#00d590,#00c0a6,#00c7a1,#00de86,#05f269,#22fb43,#6af200,#e89900,#ff4d00,#ff2f00,#ff2600 21.25px)"></i>
<i style="background:repeating-linear-gradient(90deg,#ff2600 0,#ff2400,#ff2500,#ff2700,#ff3500,#ff5d00,#cdb400,#4efb12,#19f84f,#00ee72,#00d78e,#00c1a5,#00c7a1,#00de86,#05f269,#22fb43,#69f300,#e69b00,#ff4e00,#ff3000,#ff2600 21.25px)"></i>
<i style="background:repeating-linear-gradient(90deg,#ff2600 0,#ff2400,#ff2500,#ff2700,#ff3400,#ff5c00,#d0b200,#51fa0f,#1af84d,#00f071,#00d88c,#00c2a4,#00c7a1,#00de85,#05f269,#22fb43,#68f300,#e59d00,#ff4f00,#ff3000,#ff2600 21.25px)"></i>
<i style="background:repeating-linear-gradient(90deg,#ff2600 0,#ff2400,#ff2500,#ff2700,#ff3400,#ff5a00,#d2af00,#55fa0b,#1cf94b,#01f06e,#00da8a,#00c4a3,#00c8a0,#00df84,#06f268,#22fb43,#67f400,#e39e00,#ff5000,#ff3000,#ff2600 21.25px)"></i>
<i style="background:repeating-linear-gradient(90deg,#ff2700 0,#ff2400,#ff2400,#ff2700,#ff3300,#ff5900,#d5ad00,#58f908,#1ef948,#03f16c,#00dc88,#00c6a2,#00c99f,#00e083,#06f268,#22fb42,#66f500,#e2a000,#ff5100,#ff3100,#ff2700 21.25px)"></i>
<i style="background:repeating-linear-gradient(90deg,#ff2700 0,#ff2400,#ff2400,#ff2700,#ff3300,#ff5700,#d7aa00,#5cf904,#20fa46,#05f16a,#00de85,#00c7a0,#00ca9e,#00e182,#07f267,#23fb42,#65f500,#e0a200,#ff5200,#ff3100,#ff2700 21.25px)"></i>
<i style="background:repeating-linear-gradient(90deg,#ff2700 0,#ff2400,#ff2400,#ff2700,#ff3200,#ff5600,#daa700,#60f800,#22fb43,#07f267,#00e182,#00ca9e,#00cb9c,#00e281,#08f266,#23fb41,#64f600,#dea400,#ff5300,#ff3100,#ff2700 21.25px)"></i>
<i style="background:repeating-linear-gradient(90deg,#ff2700 0,#ff2400,#ff2400,#ff2700,#ff3100,#ff5400,#dda400,#64f600,#24fb40,#09f364,#00e37f,#00cc9b,#00cc9b,#00e380,#08f365,#24fb41,#62f700,#dca600,#ff5500,#ff3200,#ff2700 21.25px)"></i>
<i style="background:repeating-linear-gradient(90deg,#ff2700 0,#ff2400,#ff2400,#ff2700,#ff3100,#ff5100,#e1a100,#68f300,#27fc3d,#0bf361,#00e67c,#00cf97,#00cd9a,#00e47f,#09f364,#24fb40,#61f800,#d9a800,#ff5600,#ff3200,#ff2700 21.25px)"></i>
<i style="background:repeating-linear-gradient(90deg,#ff2700 0,#ff2400,#ff2400,#ff2600,#ff3000,#ff4f00,#e59c00,#6ef000,#2afd38,#0ef45d,#00e978,#00d393,#00ce99,#00e57e,#0af363,#24fb40,#5ef802,#d6ac00,#ff5800,#ff3300,#ff2700 21.25px)"></i>
<i style="background:repeating-linear-gradient(90deg,#ff2700 0,#ff2500,#ff2400,#ff2600,#ff2f00,#ff4c00,#ea9800,#74ec00,#2dfe34,#12f658,#00ed73,#00d78e,#00d097,#00e67c,#0bf361,#24fb3f,#5cf904,#d1b000,#ff5a00,#ff3400,#ff2700 21.25px)"></i>
<i style="background:repeating-linear-gradient(90deg,#ff2700 0,#ff2500,#ff2400,#ff2600,#ff2e00,#ff4800,#f09200,#7ce700,#32ff2e,#16f753,#01f06e,#00db89,#00d294,#00e87a,#0cf460,#25fc3f,#59f907,#ccb500,#ff5d00,#ff3400,#ff2700 21.25px)"></i>
<i style="background:repeating-linear-gradient(90deg,#ff2700 0,#ff2500,#ff2400,#ff2600,#ff2d00,#ff4500,#f38b00,#86e100,#38fe28,#1bf84d,#06f268,#00e183,#00d492,#00ea77,#0ef45d,#26fc3d,#57f909,#c7ba00,#ff5f00,#ff3500,#ff2700 21.25px)"></i>
<i style="background:repeating-linear-gradient(90deg,#ff2800 0,#ff2500,#ff2300,#ff2600,#ff2c00,#ff4200,#f68200,#92da00,#3efd22,#1ffa46,#0af362,#00e67c,#00d78e,#00ed74,#10f55a,#27fc3b,#56fa0a,#c1be00,#ff6100,#ff3600,#ff2800 21.25px)"></i>
<i style="background:repeating-linear-gradient(90deg,#ff2800 0,#ff2500,#ff2300,#ff2600,#ff2b00,#ff3f00,#f87b00,#9dd300,#44fc1c,#24fb40,#0ff55c,#00eb75,#00da8a,#00f070,#13f657,#29fd39,#55fa0b,#bbc100,#fe6300,#ff3600,#ff2800 21.25px)"></i>
<i style="background:repeating-linear-gradient(90deg,#ff2900 0,#ff2500,#ff2300,#ff2500,#ff2a00,#ff3d00,#fa7400,#a7cd00,#4dfb13,#29fd39,#14f656,#01f06f,#00de85,#03f16c,#16f753,#2cfe36,#56f90a,#b7c400,#fd6700,#ff3800,#ff2900 21.25px)"></i>
<i style="background:repeating-linear-gradient(90deg,#ff2900 0,#ff2500,#ff2300,#ff2500,#ff2900,#ff3b00,#fb6f00,#afc800,#55fa0b,#2efe33,#19f84f,#06f268,#00e380,#07f267,#19f84e,#2fff32,#58f908,#b5c500,#fc6a00,#ff3900,#ff2900 21.25px)"></i>
<i style="background:repeating-linear-gradient(90deg,#ff2900 0,#ff2500,#ff2300,#ff2500,#ff2900,#ff3900,#fc6b00,#b5c500,#5bf905,#33ff2d,#1df949,#0bf461,#00e879,#0bf461,#1ef949,#33ff2d,#5cf904,#b6c400,#fc6b00,#ff3900,#ff2900 21.25px)"></i>
<i style="background:repeating-linear-gradient(90deg,#ff2900 0,#ff2500,#ff2300,#ff2500,#ff2900,#ff3900,#fc6a00,#b9c300,#60f800,#39fe27,#22fb43,#10f55a,#00ee72,#10f55a,#22fb42,#3afe26,#61f700,#bac200,#fd6900,#ff3900,#ff2900 21.25px)"></i>
<i style="background:repeating-linear-gradient(90deg,#ff2800 0,#ff2500,#ff2300,#ff2500,#ff2900,#ff3a00,#fb6d00,#b7c400,#63f600,#3ffd21,#26fc3d,#15f754,#05f269,#16f752,#28fc3b,#42fc1e,#68f300,#c3bc00,#fe6300,#ff3700,#ff2800 21.25px)"></i>
<i style="background:repeating-linear-gradient(90deg,#ff2700 0,#ff2500,#ff2300,#ff2500,#ff2a00,#ff3d00,#fa7300,#b1c700,#64f600,#43fc1d,#2afd38,#19f84e,#0cf460,#1df949,#2efe32,#4bfb15,#72ed00,#cdb400,#ff5b00,#ff3400,#ff2700 21.25px)"></i>
<i style="background:repeating-linear-gradient(90deg,#ff2700 0,#ff2500,#ff2300,#ff2500,#ff2b00,#ff4000,#f87b00,#aacc00,#67f400,#47fc19,#2efe33,#1df949,#14f656,#24fb3f,#37fe29,#55fa0b,#7de700,#d7ab00,#ff5600,#ff3200,#ff2700 21.25px)"></i>
<i style="background:repeating-linear-gradient(90deg,#ff2600 0,#ff2400,#ff2400,#ff2600,#ff2c00,#ff4300,#f58400,#a1d100,#69f200,#4bfb15,#33ff2d,#22fa43,#1cf94b,#2cfe35,#42fc1e,#5ff801,#88e000,#e1a000,#ff5100,#ff3000,#ff2600 21.25px)"></i>
<i style="background:repeating-linear-gradient(90deg,#7be800 0,#5bf905,#3ffd21,#2bfd37,#1bf84d,#29fd39,#3dfd23,#57f909,#75ec00,#c5bb00,#fd6800,#ff3900,#ff2900,#ff2500,#ff2300,#ff2500,#ff2800,#ff3500,#ff5d00,#ceb300,#7be800 21.25px)"></i>
<i style="background:repeating-linear-gradient(90deg,#99d600 0,#68f300,#4afb16,#33ff2d,#22fb43,#21fa44,#32ff2e,#49fb17,#67f400,#96d700,#ed9500,#ff4a00,#ff2e00,#ff2600,#ff2400,#ff2400,#ff2600,#ff2e00,#ff4900,#f09200,#99d600 21.25px)"></i>
<i style="background:repeating-linear-gradient(90deg,#c7ba00 0,#76eb00,#58f908,#3dfd23,#29fd39,#1af84d,#2afd38,#3ffd21,#5af906,#7ae900,#ccb500,#ff5f00,#ff3500,#ff2800,#ff2500,#ff2300,#ff2500,#ff2800,#ff3800,#fd6600,#c7ba00 21.25px)"></i>
<i style="background:repeating-linear-gradient(90deg,#e89a00 0,#8fdb00,#64f600,#47fc19,#30ff30,#20fa46,#23fb41,#35fe2b,#4cfb14,#6af200,#9fd200,#f48a00,#ff4500,#ff2d00,#ff2600,#ff2400,#ff2400,#ff2600,#ff2f00,#ff4e00,#e89a00 21.25px)"></i>
<i style="background:repeating-linear-gradient(90deg,#f87800 0,#b0c800,#6eef00,#51fa0f,#39fe27,#26fc3e,#1df94a,#2dfe34,#42fc1e,#5ff801,#84e300,#daa800,#ff5400,#ff3100,#ff2700,#ff2500,#ff2300,#ff2500,#ff2b00,#ff3f00,#f87800 21.25px)"></i>
<i style="background:repeating-linear-gradient(90deg,#ff5600 0,#d6ab00,#81e400,#5df803,#41fd1f,#2cfe36,#1cf94b,#26fc3d,#39fe27,#52fa0e,#6fef00,#b5c500,#fa7400,#ff3d00,#ff2a00,#ff2500,#ff2300,#ff2500,#ff2700,#ff3200,#ff5600 21.25px)"></i>
<i style="background:repeating-linear-gradient(90deg,#ff4800 0,#f09200,#99d600,#67f400,#49fb17,#32ff2e,#21fa44,#20fa45,#30ff30,#48fc18,#65f500,#94d900,#ec9600,#ff4b00,#ff2e00,#ff2600,#ff2400,#ff2400,#ff2600,#ff2e00,#ff4800 21.25px)"></i>
<i style="background:repeating-linear-gradient(90deg,#ff3c00 0,#fb7000,#bac200,#70ef00,#53fa0d,#39fe27,#26fc3d,#1af84d,#2afd38,#3ffd21,#5bf905,#7ee600,#d3ae00,#ff5800,#ff3300,#ff2700,#ff2500,#ff2300,#ff2500,#ff2a00,#ff3c00 21.25px)"></i>
<i style="background:repeating-linear-gradient(90deg,#ff3200 0,#ff5600,#d7aa00,#81e400,#5cf904,#40fd20,#2bfd37,#1bf84d,#25fc3f,#37fe29,#50fa10,#6ef000,#b2c600,#f97600,#ff3e00,#ff2a00,#ff2500,#ff2300,#ff2500,#ff2700,#ff3200 21.25px)"></i>
<i style="background:repeating-linear-gradient(90deg,#ff2e00 0,#ff4a00,#ed9500,#94d900,#64f500,#46fc1a,#2fff31,#1ffa47,#1ffa46,#30ff30,#47fc19,#65f500,#96d700,#ef9300,#ff4900,#ff2e00,#ff2600,#ff2400,#ff2400,#ff2600,#ff2e00 21.25px)"></i>
<i style="background:repeating-linear-gradient(90deg,#ff2b00 0,#ff4000,#f77c00,#abcb00,#6bf100,#4dfb13,#35fe2b,#23fb41,#1af84d,#2bfd37,#40fd20,#5df803,#83e300,#dba600,#ff5400,#ff3100,#ff2600,#ff2500,#ff2300,#ff2500,#ff2b00 21.25px)"></i>
<i style="background:repeating-linear-gradient(90deg,#ff2800 0,#ff3600,#fe6200,#c9b800,#75eb00,#55fa0b,#3afe26,#26fc3d,#16f753,#26fc3d,#39fe27,#54fa0c,#74ec00,#c7ba00,#fe6500,#ff3700,#ff2800,#ff2500,#ff2300,#ff2500,#ff2800 21.25px)"></i>
<i style="background:repeating-linear-gradient(90deg,#ff2600 0,#ff3100,#ff5400,#dba700,#83e300,#5cf904,#3efd22,#2afd39,#19f84e,#22fa43,#33ff2d,#4cfb14,#6af200,#a9cc00,#f77d00,#ff4000,#ff2b00,#ff2500,#ff2300,#ff2500,#ff2600 21.25px)"></i>
<i style="background:repeating-linear-gradient(90deg,#ff2600 0,#ff2f00,#ff4c00,#eb9700,#90db00,#61f700,#42fc1e,#2cfe35,#1cf94b,#1df949,#2efe33,#44fc1c,#64f600,#96d800,#f09200,#ff4900,#ff2e00,#ff2600,#ff2400,#ff2400,#ff2600 21.25px)"></i>
<i style="background:repeating-linear-gradient(90deg,#ff2600 0,#ff2c00,#ff4400,#f48800,#9dd300,#66f400,#47fc19,#2fff31,#1efa47,#19f84e,#2afd38,#3ffd21,#5df803,#88e000,#e39f00,#ff5000,#ff3000,#ff2600,#ff2400,#ff2400,#ff2600 21.25px)"></i>
<i style="background:repeating-linear-gradient(90deg,#ff2500 0,#ff2a00,#ff3e00,#f97700,#b0c800,#6af200,#4bfb15,#31ff2f,#20fa45,#16f753,#26fc3d,#3afe26,#57f909,#7de700,#d5ac00,#ff5700,#ff3200,#ff2700,#ff2500,#ff2300,#ff2500 21.25px)"></i>
<i style="background:repeating-linear-gradient(90deg,#ff2500 0,#ff2900,#ff3900,#fd6900,#c1bd00,#6fef00,#4ffb11,#34fe2c,#22fb43,#13f657,#23fb41,#35fe2b,#51fa0f,#74ec00,#cab800,#ff6100,#ff3600,#ff2800,#ff2500,#ff2300,#ff2500 21.25px)"></i>
<i style="background:repeating-linear-gradient(90deg,#ff2500 0,#ff2700,#ff3400,#ff5b00,#ceb300,#76eb00,#52fa0e,#36fe2a,#23fb41,#13f657,#20fa45,#31ff2f,#4cfb14,#6bf200,#b9c200,#fb6f00,#ff3b00,#ff2900,#ff2500,#ff2300,#ff2500 21.25px)"></i>
<i style="background:repeating-linear-gradient(90deg,#ff2500 0,#ff2700,#ff3200,#ff5600,#d7ab00,#7ce700,#55fa0b,#37fe29,#24fb40,#14f656,#1df949,#2efe33,#47fc19,#66f400,#a9cc00,#f87b00,#ff4000,#ff2b00,#ff2500,#ff2300,#ff2500 21.25px)"></i>
<i style="background:repeating-linear-gradient(90deg,#ff2400 0,#ff2600,#ff3100,#ff5300,#dda500,#81e400,#56f90a,#38fe28,#25fb3f,#14f655,#1bf84c,#2cfe36,#43fc1d,#63f600,#9ed300,#f58400,#ff4300,#ff2c00,#ff2600,#ff2400,#ff2400 21.25px)"></i>
<i style="background:repeating-linear-gradient(90deg,#ff2400 0,#ff2600,#ff3100,#ff5200,#e0a200,#82e300,#56f90a,#37fe29,#24fb40,#13f656,#19f84f,#2afd38,#40fd20,#61f700,#99d600,#f48900,#ff4500,#ff2d00,#ff2600,#ff2400,#ff2400 21.25px)"></i>
<i style="background:repeating-linear-gradient(90deg,#ff2400 0,#ff2600,#ff3100,#ff5100,#e1a000,#81e400,#53fa0d,#34fe2c,#22fb43,#11f55a,#15f754,#26fc3d,#3bfd25,#5df903,#94d900,#f38e00,#ff4600,#ff2d00,#ff2600,#ff2400,#ff2400 21.25px)"></i>
<i style="background:repeating-linear-gradient(90deg,#ff2400 0,#ff2600,#ff3100,#ff5100,#e2a000,#7fe600,#4efb12,#2fff32,#1df949,#0cf460,#10f55b,#21fa44,#34fe2c,#56f90a,#8edc00,#f09200,#ff4800,#ff2e00,#ff2600,#ff2400,#ff2400 21.25px)"></i>
<i style="background:repeating-linear-gradient(90deg,#ff2400 0,#ff2600,#ff3100,#ff5200,#e0a100,#7ae800,#47fc19,#29fd3a,#17f752,#05f269,#08f365,#1af84d,#2cfe35,#4efb12,#87e100,#ee9400,#ff4a00,#ff2e00,#ff2600,#ff2400,#ff2400 21.25px)"></i>
<i style="background:repeating-linear-gradient(90deg,#ff2400 0,#ff2700,#ff3100,#ff5400,#dea400,#73ec00,#3dfd23,#21fa44,#0ff55c,#00ec75,#00f070,#13f657,#25fc3f,#45fc1b,#81e400,#ec9600,#ff4b00,#ff2f00,#ff2600,#ff2400,#ff2400 21.25px)"></i>
<i style="background:repeating-linear-gradient(90deg,#ff2400 0,#ff2700,#ff3300,#ff5700,#d7ab00,#69f300,#31ff2f,#18f850,#05f269,#00e083,#00e77b,#0bf362,#1ef948,#3cfd24,#7de700,#ed9500,#ff4a00,#ff2e00,#ff2600,#ff2400,#ff2400 21.25px)"></i>
<i style="background:repeating-linear-gradient(90deg,#ff2500 0,#ff2700,#ff3400,#ff5c00,#cdb400,#5af906,#26fc3d,#0df45e,#00e978,#00d393,#00dd87,#02f16d,#17f751,#33ff2d,#7ce700,#f09200,#ff4800,#ff2e00,#ff2600,#ff2400,#ff2500 21.25px)"></i>
<i style="background:repeating-linear-gradient(90deg,#ff2500 0,#ff2800,#ff3600,#fe6300,#bcc000,#48fc18,#1bf84c,#02f16e,#00db89,#00c5a2,#00d293,#00e978,#10f55b,#2cfe35,#80e500,#f38d00,#ff4600,#ff2d00,#ff2600,#ff2300,#ff2500 21.25px)"></i>
<i style="background:repeating-linear-gradient(90deg,#ff2500 0,#ff2900,#ff3900,#fc6a00,#a6ce00,#34fe2c,#0ff55c,#00e47e,#00cd9a,#00b9ab,#00c8a0,#00e083,#09f364,#26fc3d,#86e100,#f58400,#ff4200,#ff2c00,#ff2600,#ff2300,#ff2500 21.25px)"></i>
<i style="background:repeating-linear-gradient(90deg,#ff2600 0,#ff2b00,#ff4000,#f77e00,#89e000,#22fb42,#02f06e,#00d68f,#00c0a6,#00aeb4,#00c1a5,#00d78e,#03f16c,#26fc3e,#92da00,#f97600,#ff3d00,#ff2a00,#ff2600,#ff2300,#ff2600 21.25px)"></i>
<i style="background:repeating-linear-gradient(90deg,#ff2600 0,#ff2e00,#ff4900,#ee9400,#6bf200,#12f658,#00e281,#00c7a1,#00b3b0,#00a7ba,#00baaa,#00d097,#00ee72,#28fd3a,#a6ce00,#fc6a00,#ff3900,#ff2800,#ff2500,#ff2300,#ff2600 21.25px)"></i>
<i style="background:repeating-linear-gradient(90deg,#ff2700 0,#ff3200,#ff5400,#dda500,#49fb17,#05f16a,#00d195,#00bbaa,#00a7ba,#00a2c2,#00b5af,#00c99e,#00eb76,#2dfe34,#bfbf00,#fe6300,#ff3700,#ff2800,#ff2500,#ff2400,#ff2700 21.25px)"></i>
<i style="background:repeating-linear-gradient(90deg,#ff2700 0,#ff3500,#ff5f00,#cab700,#2efe33,#00e67c,#00c4a3,#00aeb3,#009dca,#009ec8,#00b0b2,#00c5a2,#00e979,#35fe2b,#d1b100,#ff5b00,#ff3400,#ff2700,#ff2400,#ff2500,#ff2700 21.25px)"></i>
<i style="background:repeating-linear-gradient(90deg,#ff2800 0,#ff3a00,#fc6d00,#a1d100,#18f850,#00d690,#00b8ac,#00a4bf,#0094da,#009ccc,#00adb4,#00c4a3,#00e979,#48fb18,#e2a000,#ff5000,#ff3100,#ff2700,#ff2400,#ff2500,#ff2800 21.25px)"></i>
<i style="background:repeating-linear-gradient(90deg,#ff2c00 0,#ff4200,#f58500,#72ed00,#01f06f,#00c6a1,#00adb5,#009bce,#0085ea,#009bce,#00acb5,#00c5a2,#00ef71,#6ef000,#f48900,#ff4400,#ff2d00,#ff2600,#ff2300,#ff2600,#ff2c00 21.25px)"></i>
<i style="background:repeating-linear-gradient(90deg,#ff3100 0,#ff5200,#dfa200,#3efd22,#00dd87,#00baab,#00a3c0,#0093db,#0084eb,#009bce,#00adb4,#00c99f,#0ef45d,#98d700,#fb7000,#ff3b00,#ff2900,#ff2500,#ff2400,#ff2700,#ff3100 21.25px)"></i>
<i style="background:repeating-linear-gradient(90deg,#ff3600 0,#fe6200,#c2bd00,#1ef948,#00ce99,#00afb3,#009ccc,#0087e9,#0088e8,#009dcb,#00afb2,#00cf97,#20fa45,#c7ba00,#ff6100,#ff3600,#ff2800,#ff2500,#ff2500,#ff2800,#ff3600 21.25px)"></i>
<i style="background:repeating-linear-gradient(90deg,#ff3c00 0,#f97500,#89e000,#05f269,#00c2a4,#00a7ba,#0096d7,#007af6,#008fe1,#00a0c5,#00b6ad,#00d98c,#43fc1d,#e39f00,#ff4f00,#ff3000,#ff2700,#ff2400,#ff2600,#ff2900,#ff3c00 21.25px)"></i>
<i style="background:repeating-linear-gradient(90deg,#ff4c00 0,#e99900,#4ffa11,#00db89,#00b8ac,#00a1c3,#0090e0,#0078f8,#0095d8,#00a6bc,#00c0a6,#01f06f,#7fe600,#f87800,#ff3d00,#ff2a00,#ff2600,#ff2300,#ff2700,#ff2f00,#ff4c00 21.25px)"></i>
<i style="background:repeating-linear-gradient(90deg,#ff6000 0,#c8b900,#21fa44,#00d097,#00b0b2,#009dcb,#0088e8,#0086ea,#009ccc,#00aeb3,#00cd9a,#1df94a,#c0be00,#fe6300,#ff3700,#ff2800,#ff2500,#ff2400,#ff2800,#ff3600,#ff6000 21.25px)"></i>
<i style="background:repeating-linear-gradient(90deg,#f97400 0,#89df00,#08f365,#00c6a2,#00abb6,#0099d1,#0081ef,#0093da,#00a4be,#00bbaa,#00df85,#4bfb15,#e69c00,#ff4e00,#ff3000,#ff2700,#ff2400,#ff2600,#ff2900,#ff3c00,#f97400 21.25px)"></i>
<i style="background:repeating-linear-gradient(90deg,#e39e00 0,#48fb18,#00e281,#00bea7,#00a7ba,#0096d5,#008ae6,#009dca,#00b0b2,#00cc9c,#0ff55c,#94d900,#fa7100,#ff3b00,#ff2900,#ff2500,#ff2400,#ff2700,#ff3000,#ff4f00,#e39e00 21.25px)"></i>
<i style="background:repeating-linear-gradient(90deg,#bac200 0,#21fa44,#00d98c,#00b9ab,#00a5bd,#0095d8,#0098d2,#00a9b8,#00bea7,#00e281,#33ff2d,#d5ad00,#ff5800,#ff3300,#ff2700,#ff2400,#ff2500,#ff2800,#ff3700,#fe6500,#bac200 21.25px)"></i>
<i style="background:repeating-linear-gradient(90deg,#72ed00 0,#08f265,#00d195,#00b7ad,#00a3c0,#0095d8,#00a5be,#00b9ab,#00d492,#0df45e,#7fe600,#f77d00,#ff3f00,#ff2b00,#ff2600,#ff2300,#ff2600,#ff2d00,#ff4400,#f48900,#72ed00 21.25px)"></i>
<i style="background:repeating-linear-gradient(90deg,#3afe26 0,#00ef72,#00cc9c,#00b6ad,#00a3c0,#00a3c1,#00b5ae,#00ca9d,#00ed73,#36fe2a,#ceb400,#ff5d00,#ff3500,#ff2700,#ff2400,#ff2400,#ff2700,#ff3400,#ff5b00,#d1b000,#3afe26 21.25px)"></i>
<i style="background:repeating-linear-gradient(90deg,#1ef948 0,#00e979,#00cb9d,#00b6ad,#00a4bf,#00b4af,#00c8a0,#00e57e,#17f752,#7de700,#f58500,#ff4300,#ff2c00,#ff2600,#ff2300,#ff2600,#ff2a00,#ff3d00,#f97500,#8edc00,#1ef948 21.25px)"></i>
<i style="background:repeating-linear-gradient(90deg,#13f657 0,#00e47e,#00cc9c,#00b8ac,#00b5ae,#00c8a0,#00e182,#0ff55c,#48fc18,#d0b100,#ff5b00,#ff3400,#ff2700,#ff2500,#ff2400,#ff2700,#ff3200,#ff5500,#dba600,#54fa0c,#13f657 21.25px)"></i>
<i style="background:repeating-linear-gradient(90deg,#0ff55c 0,#00e57d,#00ce99,#00baaa,#00cb9c,#00e380,#0cf460,#2afd38,#8ddd00,#f77e00,#ff4000,#ff2b00,#ff2600,#ff2300,#ff2500,#ff2a00,#ff3a00,#fb6f00,#a0d100,#32ff2e,#0ff55c 21.25px)"></i>
<i style="background:repeating-linear-gradient(90deg,#14f656 0,#00ee73,#00d78d,#00ca9d,#00e182,#06f268,#1ffa47,#4efb12,#c1be00,#ff6100,#ff3600,#ff2700,#ff2500,#ff2300,#ff2600,#ff2d00,#ff4600,#f38d00,#82e400,#2fff31,#14f656 21.25px)"></i>
<i style="background:repeating-linear-gradient(90deg,#52fa0e 0,#afc900,#fb6e00,#ff3a00,#ff2900,#ff2500,#ff2300,#ff2500,#ff2900,#ff3a00,#fc6c00,#b2c700,#54fa0c,#2cfe35,#17f752,#04f16b,#00e084,#04f16b,#16f752,#2cfe36,#52fa0e 21.25px)"></i>
<i style="background:repeating-linear-gradient(90deg,#30ff30 0,#95d800,#f87900,#ff3e00,#ff2b00,#ff2600,#ff2300,#ff2500,#ff2a00,#ff3b00,#fa7100,#a0d200,#35fe2b,#13f657,#00ea77,#00d393,#00bea7,#00d295,#00e979,#11f559,#30ff30 21.25px)"></i>
<i style="background:repeating-linear-gradient(90deg,#1bf84c 0,#80e500,#f58300,#ff4200,#ff2c00,#ff2600,#ff2300,#ff2600,#ff2a00,#ff3c00,#f97500,#91da00,#22fb43,#00ed73,#00d096,#00bbaa,#00a7b9,#00b9ac,#00cd9a,#00ea78,#1bf84c 21.25px)"></i>
<i style="background:repeating-linear-gradient(90deg,#09f364 0,#70ee00,#f38d00,#ff4500,#ff2d00,#ff2600,#ff2300,#ff2600,#ff2a00,#ff3d00,#f97700,#87e100,#14f656,#00da8a,#00bea8,#00a9b7,#0099d1,#00a6bb,#00bbaa,#00d591,#09f364 21.25px)"></i>
<i style="background:repeating-linear-gradient(90deg,#00eb76 0,#63f600,#ef9300,#ff4800,#ff2e00,#ff2600,#ff2300,#ff2600,#ff2b00,#ff3d00,#f97700,#82e400,#0af363,#00cc9b,#00b1b1,#009fc7,#008de3,#009ccd,#00adb4,#00c6a2,#00eb76 21.25px)"></i>
<i style="background:repeating-linear-gradient(90deg,#00e182 0,#57f909,#eb9600,#ff4a00,#ff2f00,#ff2600,#ff2300,#ff2600,#ff2a00,#ff3d00,#f97800,#7fe500,#04f16b,#00c4a3,#00a9b7,#0098d2,#007ff1,#0094d9,#00a5bd,#00bda8,#00e182 21.25px)"></i>
<i style="background:repeating-linear-gradient(90deg,#00dc88 0,#4ffa11,#e99900,#ff4c00,#ff2f00,#ff2700,#ff2300,#ff2600,#ff2a00,#ff3d00,#f97800,#7fe500,#01f06f,#00c0a6,#00a6bb,#0095d8,#0078f7,#0090df,#00a1c3,#00b8ac,#00dc88 21.25px)"></i>
<i style="background:repeating-linear-gradient(90deg,#00dc88 0,#4dfb13,#e79a00,#ff4d00,#ff3000,#ff2700,#ff2300,#ff2600,#ff2a00,#ff3d00,#f97700,#82e300,#03f16c,#00c2a5,#00a7ba,#0096d6,#007af5,#0091df,#00a2c2,#00b9ac,#00dc88 21.25px)"></i>
<i style="background:repeating-linear-gradient(90deg,#00e67c 0,#53fa0d,#e89a00,#ff4c00,#ff2f00,#ff2700,#ff2300,#ff2600,#ff2900,#ff3c00,#fa7300,#8cdd00,#0df45f,#00cc9b,#00b1b2,#009ec9,#008be5,#0099d2,#00a9b7,#00c1a5,#00e67c 21.25px)"></i>
<i style="background:repeating-linear-gradient(90deg,#06f268 0,#60f800,#eb9700,#ff4b00,#ff2f00,#ff2600,#ff2400,#ff2500,#ff2900,#ff3a00,#fb6e00,#9cd400,#1df94a,#00df84,#00c1a5,#00acb5,#009ccc,#00a6bc,#00baab,#00d294,#06f268 21.25px)"></i>
<i style="background:repeating-linear-gradient(90deg,#18f850 0,#6ef000,#ee9400,#ff4900,#ff2e00,#ff2600,#ff2400,#ff2500,#ff2800,#ff3800,#fd6800,#aec900,#2fff31,#06f268,#00d98c,#00c2a5,#00aeb3,#00baaa,#00cf98,#00e978,#18f850 21.25px)"></i>
<i style="background:repeating-linear-gradient(90deg,#2bfd37 0,#7ce700,#f29000,#ff4700,#ff2d00,#ff2600,#ff2400,#ff2500,#ff2700,#ff3600,#ff6200,#c0be00,#49fb17,#1bf84c,#02f16e,#00db89,#00c5a2,#00d195,#00e87a,#0ff55d,#2bfd37 21.25px)"></i>
<i style="background:repeating-linear-gradient(90deg,#3efd22 0,#88e000,#f38b00,#ff4500,#ff2d00,#ff2600,#ff2400,#ff2500,#ff2700,#ff3400,#ff5d00,#ccb500,#5ff801,#2cfe35,#14f655,#01f06e,#00dc88,#00e77a,#0bf461,#20fa46,#3efd22 21.25px)"></i>
<i style="background:repeating-linear-gradient(90deg,#4bfb15 0,#8edc00,#f48a00,#ff4500,#ff2d00,#ff2600,#ff2400,#ff2500,#ff2700,#ff3300,#ff5900,#d2af00,#6bf100,#3afe26,#20fa46,#0df45e,#00eb76,#04f16b,#16f752,#2afd39,#4bfb15 21.25px)"></i>
<i style="background:repeating-linear-gradient(90deg,#4bfb15 0,#8bde00,#f38d00,#ff4600,#ff2d00,#ff2600,#ff2400,#ff2500,#ff2700,#ff3300,#ff5800,#d5ac00,#6ef000,#3cfd24,#21fa43,#0ff55c,#00ed74,#05f16a,#17f752,#2afd38,#4bfb15 21.25px)"></i>
<i style="background:repeating-linear-gradient(90deg,#46fc1a 0,#85e200,#f19100,#ff4800,#ff2e00,#ff2600,#ff2400,#ff2500,#ff2700,#ff3200,#ff5700,#d7ab00,#6df000,#39fe27,#1ffa47,#0cf460,#00e978,#00f070,#13f657,#26fc3e,#46fc1a 21.25px)"></i>
<i style="background:repeating-linear-gradient(90deg,#3dfd23 0,#7ee600,#ec9500,#ff4a00,#ff2e00,#ff2600,#ff2400,#ff2400,#ff2700,#ff3200,#ff5600,#d8a900,#6bf200,#33ff2d,#1af84e,#07f267,#00e280,#00e879,#0cf460,#1ffa47,#3dfd23 21.25px)"></i>
<i style="background:repeating-linear-gradient(90deg,#31ff2f 0,#73ed00,#e69c00,#ff4f00,#ff3000,#ff2600,#ff2400,#ff2400,#ff2700,#ff3200,#ff5500,#dba700,#68f300,#2dfe35,#13f657,#00f070,#00da8b,#00dd87,#02f16d,#16f753,#31ff2f 21.25px)"></i>
<i style="background:repeating-linear-gradient(90deg,#26fc3d 0,#65f500,#dca500,#ff5400,#ff3200,#ff2700,#ff2400,#ff2400,#ff2700,#ff3100,#ff5300,#dfa300,#67f400,#27fc3c,#0cf460,#00e77b,#00d196,#00d096,#00e67b,#0cf461,#26fc3d 21.25px)"></i>
<i style="background:repeating-linear-gradient(90deg,#1bf94c 0,#53fa0d,#d1b000,#ff5b00,#ff3400,#ff2700,#ff2500,#ff2400,#ff2600,#ff3000,#ff4f00,#e49e00,#67f400,#22fb43,#05f269,#00df85,#00c8a0,#00c3a4,#00d98b,#00f06f,#1bf94c 21.25px)"></i>
<i style="background:repeating-linear-gradient(90deg,#10f55b 0,#3ffd21,#bfbf00,#fe6300,#ff3600,#ff2800,#ff2500,#ff2400,#ff2600,#ff2f00,#ff4b00,#eb9700,#6cf100,#1ef948,#01f06f,#00d78e,#00c1a5,#00b8ac,#00cc9b,#00e47e,#10f55b 21.25px)"></i>
<i style="background:repeating-linear-gradient(90deg,#05f16a 0,#2bfd36,#a3d000,#fc6b00,#ff3900,#ff2900,#ff2500,#ff2300,#ff2600,#ff2d00,#ff4500,#f38c00,#79e900,#1bf84c,#00ec74,#00d195,#00bca9,#00aeb4,#00c1a5,#00d88d,#05f16a 21.25px)"></i>
<i style="background:repeating-linear-gradient(90deg,#00e67c 0,#1af84e,#83e300,#f77f00,#ff4000,#ff2b00,#ff2600,#ff2300,#ff2600,#ff2b00,#ff3f00,#f87b00,#87e000,#1cf94b,#00e77b,#00ca9e,#00b6ae,#00a3c0,#00b5ae,#00c99f,#00e67c 21.25px)"></i>
<i style="background:repeating-linear-gradient(90deg,#00d590 0,#08f365,#64f500,#ed9500,#ff4a00,#ff2f00,#ff2600,#ff2300,#ff2500,#ff2900,#ff3a00,#fb6e00,#9bd500,#1df949,#00e182,#00c3a4,#00aeb3,#009dca,#00a8b9,#00bca9,#00d590 21.25px)"></i>
<i style="background:repeating-linear-gradient(90deg,#00c5a2 0,#00e978,#3ffd21,#dca600,#ff5400,#ff3200,#ff2700,#ff2400,#ff2500,#ff2800,#ff3800,#fd6800,#b1c700,#20fa45,#00dc88,#00bda9,#00a8b9,#0098d3,#009dca,#00afb3,#00c5a2 21.25px)"></i>
<i style="background:repeating-linear-gradient(90deg,#00b8ac 0,#00d98b,#28fc3b,#cab700,#ff5f00,#ff3500,#ff2700,#ff2400,#ff2500,#ff2800,#ff3600,#ff6100,#c7ba00,#25fc3e,#00d88c,#00b8ac,#00a3c0,#0093db,#0093da,#00a4bf,#00b8ac 21.25px)"></i>
<i style="background:repeating-linear-gradient(90deg,#00aeb3 0,#00cc9c,#16f753,#adca00,#fc6a00,#ff3900,#ff2800,#ff2500,#ff2400,#ff2700,#ff3300,#ff5900,#d4ad00,#2cfe35,#00d78e,#00b5ae,#00a1c4,#0090e0,#0086ea,#009ccc,#00aeb3 21.25px)"></i>
<i style="background:repeating-linear-gradient(90deg,#00a7ba 0,#00c2a4,#06f268,#8adf00,#fa7400,#ff3c00,#ff2900,#ff2600,#ff2400,#ff2700,#ff3100,#ff5000,#e39f00,#42fc1e,#00d98b,#00b6ad,#00a0c5,#008fe1,#007af5,#0096d6,#00a7ba 21.25px)"></i>
<i style="background:repeating-linear-gradient(90deg,#00a5be 0,#00bea8,#00e978,#6fef00,#f58400,#ff4200,#ff2c00,#ff2600,#ff2300,#ff2600,#ff2d00,#ff4600,#f29000,#63f600,#00e380,#00bca9,#00a3c0,#0092dc,#0076fa,#0094da,#00a5be 21.25px)"></i>
<i style="background:repeating-linear-gradient(90deg,#00a6bb 0,#00bea7,#00e281,#52fa0e,#e89900,#ff4c00,#ff2f00,#ff2700,#ff2300,#ff2600,#ff2a00,#ff3c00,#f97500,#87e000,#09f364,#00c7a0,#00adb5,#009bce,#0084eb,#0096d7,#00a6bb 21.25px)"></i>
<i style="background:repeating-linear-gradient(90deg,#00adb4 0,#00c3a4,#00e67c,#39fe27,#d8aa00,#ff5700,#ff3300,#ff2700,#ff2400,#ff2500,#ff2800,#ff3700,#fd6600,#b8c300,#23fb42,#00dc88,#00bca9,#00a7b9,#0097d4,#009ccd,#00adb4 21.25px)"></i>
<i style="background:repeating-linear-gradient(90deg,#00b7ac 0,#00cd9a,#00ef72,#33ff2d,#c8b900,#ff6000,#ff3600,#ff2700,#ff2500,#ff2400,#ff2700,#ff3200,#ff5600,#d8a900,#45fc1b,#05f16a,#00d294,#00bbaa,#00a7b9,#00a4be,#00b7ac 21.25px)"></i>
<i style="background:repeating-linear-gradient(90deg,#00c4a3 0,#00dc88,#08f365,#31ff2f,#adca00,#fd6800,#ff3800,#ff2800,#ff2500,#ff2300,#ff2600,#ff2e00,#ff4700,#f19100,#73ec00,#1cf94b,#00ed73,#00d393,#00bea8,#00b1b1,#00c4a3 21.25px)"></i>
<i style="background:repeating-linear-gradient(90deg,#00d591 0,#00ec75,#13f656,#32ff2e,#96d800,#f87a00,#ff3f00,#ff2b00,#ff2600,#ff2300,#ff2500,#ff2900,#ff3a00,#fb6e00,#a4cf00,#3afe26,#16f753,#00ee73,#00d78e,#00c2a5,#00d591 21.25px)"></i>
<i style="background:repeating-linear-gradient(90deg,#00e57d 0,#0af363,#1ef948,#3cfd24,#85e200,#f38e00,#ff4600,#ff2d00,#ff2600,#ff2400,#ff2500,#ff2700,#ff3400,#ff5c00,#ccb500,#5ff801,#2bfd37,#13f656,#00f070,#00da8a,#00e57d 21.25px)"></i>
<i style="background:repeating-linear-gradient(90deg,#02f16d 0,#14f655,#27fc3d,#46fc1a,#81e400,#ea9700,#ff4c00,#ff2f00,#ff2600,#ff2400,#ff2400,#ff2600,#ff3100,#ff5200,#e1a100,#77ea00,#41fd1f,#24fb40,#12f658,#00f071,#02f16d 21.25px)"></i>
<i style="background:repeating-linear-gradient(90deg,#09f364 0,#1bf84c,#2cfe35,#4cfb14,#7fe600,#e39e00,#ff5000,#ff3000,#ff2600,#ff2400,#ff2400,#ff2600,#ff2e00,#ff4a00,#ed9500,#88e000,#51fa0f,#2fff32,#1df949,#0bf461,#09f364 21.25px)"></i>
<i style="background:repeating-linear-gradient(90deg,#0af363 0,#1bf94c,#2dfe34,#4bfb15,#7ae800,#dca500,#ff5400,#ff3100,#ff2700,#ff2400,#ff2400,#ff2600,#ff2d00,#ff4600,#f38c00,#92da00,#57f909,#35fe2b,#21fa44,#10f55b,#0af363 21.25px)"></i>
<i style="background:repeating-linear-gradient(90deg,#0af363 0,#1bf84c,#2dfe35,#4afb16,#76eb00,#d5ac00,#ff5700,#ff3200,#ff2700,#ff2500,#ff2400,#ff2600,#ff2c00,#ff4200,#f68200,#9ed300,#5cf904,#3afe26,#24fb40,#13f657,#0af363 21.25px)"></i>
<i style="background:repeating-linear-gradient(90deg,#0af363 0,#1bf84c,#2cfe35,#48fb18,#71ee00,#ceb300,#ff5a00,#ff3400,#ff2700,#ff2500,#ff2300,#ff2500,#ff2b00,#ff3e00,#f97800,#abcb00,#60f800,#3efd22,#27fc3c,#16f753,#0af363 21.25px)"></i>
<i style="background:repeating-linear-gradient(90deg,#09f363 0,#1bf84d,#2cfe36,#47fc19,#6df000,#c8b900,#ff6000,#ff3500,#ff2800,#ff2500,#ff2300,#ff2500,#ff2900,#ff3b00,#fb6e00,#b7c400,#65f500,#43fc1d,#2afd39,#18f850,#09f363 21.25px)"></i>
<i style="background:repeating-linear-gradient(90deg,#0af363 0,#1af84d,#2cfe36,#46fc1a,#69f200,#bfbf00,#fd6800,#ff3800,#ff2900,#ff2500,#ff2300,#ff2500,#ff2800,#ff3800,#fe6500,#c2bd00,#6bf200,#46fc1a,#2cfe35,#1bf84c,#0af363 21.25px)"></i>
<i style="background:repeating-linear-gradient(90deg,#0cf460 0,#1af84d,#2bfe36,#45fc1b,#66f400,#b7c400,#fb6f00,#ff3b00,#ff2a00,#ff2500,#ff2300,#ff2500,#ff2800,#ff3500,#ff5e00,#cab700,#70ef00,#4afb16,#2efe33,#1df949,#0cf460 21.25px)"></i>
<i style="background:repeating-linear-gradient(90deg,#0ef45e 0,#1af84d,#2bfd37,#44fc1c,#64f500,#afc800,#f97500,#ff3d00,#ff2a00,#ff2500,#ff2300,#ff2500,#ff2700,#ff3300,#ff5a00,#cfb200,#74ec00,#4dfb13,#30ff30,#1ffa47,#0ef45e 21.25px)"></i>
<i style="background:repeating-linear-gradient(90deg,#0ff55c 0,#1af84d,#2bfd37,#43fc1d,#64f600,#aacc00,#f87a00,#ff3f00,#ff2b00,#ff2500,#ff2300,#ff2500,#ff2700,#ff3300,#ff5800,#d3ae00,#78ea00,#4ffa11,#32ff2e,#20fa45,#0ff55c 21.25px)"></i>
<i style="background:repeating-linear-gradient(90deg,#10f55a 0,#1af84d,#2bfd37,#43fc1d,#63f600,#a6ce00,#f77d00,#ff4000,#ff2b00,#ff2500,#ff2300,#ff2500,#ff2700,#ff3200,#ff5700,#d6ab00,#7ae800,#51fa0f,#33ff2d,#21fa43,#10f55a 21.25px)"></i>
<i style="background:repeating-linear-gradient(90deg,#11f559 0,#1af84d,#2bfe36,#43fc1d,#64f600,#a4cf00,#f77f00,#ff4100,#ff2b00,#ff2600,#ff2300,#ff2500,#ff2700,#ff3200,#ff5600,#d8aa00,#7ce700,#52fa0e,#34fe2c,#22fb42,#11f559 21.25px)"></i>
<i style="background:repeating-linear-gradient(90deg,#12f658 0,#1bf84c,#2cfe36,#43fc1d,#64f600,#a5cf00,#f77f00,#ff4100,#ff2b00,#ff2600,#ff2300,#ff2500,#ff2700,#ff3200,#ff5600,#d8aa00,#7ce700,#53fa0d,#35fe2b,#23fb42,#12f658 21.25px)"></i>
<i style="background:repeating-linear-gradient(90deg,#12f658 0,#1bf94c,#2cfe35,#44fc1c,#65f500,#a7ce00,#f77d00,#ff4000,#ff2b00,#ff2500,#ff2300,#ff2500,#ff2700,#ff3200,#ff5600,#d7ab00,#7ce700,#53fa0d,#35fe2b,#23fb42,#12f658 21.25px)"></i>
<i style="background:repeating-linear-gradient(90deg,#12f658 0,#1cf94b,#2dfe34,#45fc1b,#65f500,#aacc00,#f87a00,#ff3f00,#ff2b00,#ff2500,#ff2300,#ff2500,#ff2700,#ff3200,#ff5700,#d5ac00,#7ae800,#52fa0e,#35fe2b,#23fb42,#12f658 21.25px)"></i>
<i style="background:repeating-linear-gradient(90deg,#11f559 0,#1df94a,#2dfe33,#47fc19,#66f400,#aec900,#f97700,#ff3e00,#ff2a00,#ff2500,#ff2300,#ff2500,#ff2700,#ff3300,#ff5800,#d2af00,#78e900,#51fa0f,#34fe2c,#22fb43,#11f559 21.25px)"></i>
<i style="background:repeating-linear-gradient(90deg,#10f55b 0,#1df94a,#2dfe33,#47fc19,#67f400,#b3c600,#fa7300,#ff3c00,#ff2a00,#ff2500,#ff2300,#ff2500,#ff2700,#ff3300,#ff5a00,#cfb200,#75eb00,#4ffa11,#32ff2e,#21fa44,#10f55b 21.25px)"></i>
<i style="background:repeating-linear-gradient(90deg,#0af363 0,#18f850,#29fd39,#42fc1e,#64f600,#b5c500,#fb7000,#ff3b00,#ff2a00,#ff2500,#ff2300,#ff2500,#ff2800,#ff3500,#ff5e00,#c9b800,#6ef000,#48fc18,#2cfe35,#1bf84c,#0af363 21.25px)"></i>
<i style="background:repeating-linear-gradient(90deg,#00ef72 0,#0ff55b,#21fa44,#38fe28,#5ef802,#b4c500,#fb6e00,#ff3a00,#ff2900,#ff2500,#ff2300,#ff2500,#ff2800,#ff3700,#fd6600,#bebf00,#63f600,#3afd26,#23fb42,#11f55a,#00ef72 21.25px)"></i>
<i style="background:repeating-linear-gradient(90deg,#00df84 0,#04f16b,#16f752,#2cfe36,#53fa0d,#b1c700,#fc6c00,#ff3a00,#ff2900,#ff2500,#ff2300,#ff2500,#ff2900,#ff3a00,#fb6e00,#afc900,#52fa0e,#2bfe36,#16f753,#03f16c,#00df84 21.25px)"></i>
<i style="background:repeating-linear-gradient(90deg,#00ce99 0,#00e47e,#09f364,#20fa46,#47fc19,#adca00,#fc6b00,#ff3900,#ff2900,#ff2500,#ff2300,#ff2600,#ff2b00,#ff3e00,#f97700,#9dd300,#3efd22,#1df949,#07f267,#00e281,#00ce99 21.25px)"></i>
<i style="background:repeating-linear-gradient(90deg,#00bea8 0,#00d294,#00ea78,#13f657,#38fe28,#a7cd00,#fc6a00,#ff3900,#ff2900,#ff2500,#ff2300,#ff2600,#ff2c00,#ff4100,#f68100,#8bde00,#2bfd37,#0ef45e,#00e67d,#00ce98,#00bea8 21.25px)"></i>
<i style="background:repeating-linear-gradient(90deg,#00afb3 0,#00c2a5,#00d98c,#05f269,#2bfd37,#a1d100,#fc6c00,#ff3900,#ff2900,#ff2500,#ff2300,#ff2600,#ff2d00,#ff4400,#f48a00,#7ce700,#1cf94a,#00ee72,#00d393,#00bda8,#00afb3 21.25px)"></i>
<i style="background:repeating-linear-gradient(90deg,#00a2c3 0,#00b4af,#00c8a0,#00e77b,#20fa45,#99d500,#fb6e00,#ff3a00,#ff2900,#ff2500,#ff2300,#ff2600,#ff2e00,#ff4700,#f19100,#6ef000,#0ff55c,#00dd86,#00c3a4,#00aeb3,#00a2c3 21.25px)"></i>
<i style="background:repeating-linear-gradient(90deg,#0097d4 0,#00a7ba,#00bca9,#00d98c,#16f753,#91db00,#fa7100,#ff3b00,#ff2900,#ff2500,#ff2300,#ff2600,#ff2e00,#ff4900,#ed9500,#63f600,#03f16c,#00ce98,#00b6ae,#00a3c1,#0097d4 21.25px)"></i>
<i style="background:repeating-linear-gradient(90deg,#008ce4 0,#009ec8,#00b1b1,#00cc9b,#0bf361,#86e100,#f97500,#ff3c00,#ff2a00,#ff2600,#ff2300,#ff2600,#ff2f00,#ff4a00,#ec9500,#5df803,#00e979,#00c4a3,#00acb5,#009acf,#008ce4 21.25px)"></i>
<i style="background:repeating-linear-gradient(90deg,#007df2 0,#0097d4,#00a8b8,#00c2a4,#00f070,#78ea00,#f77d00,#ff3f00,#ff2b00,#ff2600,#ff2300,#ff2600,#ff2e00,#ff4800,#f09200,#60f800,#00e47e,#00bea7,#00a6bc,#0095d8,#007df2 21.25px)"></i>
<i style="background:repeating-linear-gradient(90deg,#0074fb 0,#0093dc,#00a4bf,#00bca9,#00e57e,#67f400,#f38c00,#ff4500,#ff2d00,#ff2600,#ff2300,#ff2600,#ff2d00,#ff4300,#f48800,#6af200,#00e77b,#00bda8,#00a4bf,#0093db,#0074fb 21.25px)"></i>
<i style="background:repeating-linear-gradient(90deg,#0078f7 0,#0091df,#00a2c2,#00b9ab,#00dc88,#52fa0e,#ea9800,#ff4b00,#ff2f00,#ff2600,#ff2300,#ff2600,#ff2b00,#ff3e00,#f87900,#7de700,#00f070,#00c0a6,#00a6bc,#0095d8,#0078f7 21.25px)"></i>
<i style="background:repeating-linear-gradient(90deg,#0084eb 0,#0093dc,#00a3c0,#00baab,#00dd87,#3dfd23,#dfa200,#ff5200,#ff3100,#ff2700,#ff2400,#ff2500,#ff2900,#ff3b00,#fb7000,#98d700,#0ef45d,#00c99f,#00adb4,#009bce,#0084eb 21.25px)"></i>
<i style="background:repeating-linear-gradient(90deg,#0094da 0,#0097d4,#00a8b9,#00bda8,#00e083,#32ff2e,#d4ad00,#ff5900,#ff3300,#ff2700,#ff2400,#ff2500,#ff2800,#ff3700,#fd6600,#b9c200,#20fa45,#00d88d,#00b8ac,#00a4bf,#0094da 21.25px)"></i>
<i style="background:repeating-linear-gradient(90deg,#009fc7 0,#009ec9,#00b0b2,#00c5a2,#00e77b,#2fff31,#cab700,#ff5f00,#ff3500,#ff2700,#ff2500,#ff2400,#ff2700,#ff3400,#ff5b00,#d1b000,#36fe2a,#00ea78,#00c6a1,#00b1b1,#009fc7 21.25px)"></i>
<i style="background:repeating-linear-gradient(90deg,#00adb4 0,#00a6bb,#00b9ab,#00cf98,#00ef71,#2efe33,#b9c200,#fe6500,#ff3700,#ff2800,#ff2500,#ff2400,#ff2700,#ff3000,#ff5000,#e39f00,#54fa0c,#0cf461,#00da8b,#00c1a5,#00adb4 21.25px)"></i>
<i style="background:repeating-linear-gradient(90deg,#00bea8 0,#00b0b2,#00c3a3,#00da8a,#07f267,#2efe33,#a6ce00,#fc6a00,#ff3900,#ff2900,#ff2500,#ff2300,#ff2600,#ff2d00,#ff4600,#f38e00,#78ea00,#1cf94a,#00ee72,#00d392,#00bea8 21.25px)"></i>
<i style="background:repeating-linear-gradient(90deg,#00ce99 0,#00baaa,#00ce99,#00e57d,#0ef45d,#2efe33,#95d800,#f97800,#ff3e00,#ff2b00,#ff2600,#ff2300,#ff2500,#ff2a00,#ff3d00,#f97400,#9ad500,#30ff31,#0ff55c,#00e67c,#00ce99 21.25px)"></i>
<i style="background:repeating-linear-gradient(90deg,#00de86 0,#00c7a1,#00d68f,#00ed74,#13f656,#2fff31,#86e100,#f48800,#ff4400,#ff2c00,#ff2600,#ff2300,#ff2500,#ff2800,#ff3700,#fe6300,#b9c200,#48fb18,#1cf94a,#04f16b,#00de86 21.25px)"></i>
<i style="background:repeating-linear-gradient(90deg,#00e979 0,#00d293,#00db89,#01f06e,#16f753,#31ff2f,#79e900,#ee9400,#ff4900,#ff2e00,#ff2600,#ff2400,#ff2500,#ff2700,#ff3400,#ff5c00,#ceb300,#5bf905,#26fc3d,#0df45f,#00e979 21.25px)"></i>
<i style="background:repeating-linear-gradient(90deg,#01f06e 0,#00dc88,#00df84,#04f16a,#18f750,#33ff2d,#74ec00,#e69c00,#ff4e00,#ff3000,#ff2600,#ff2400,#ff2400,#ff2700,#ff3200,#ff5500,#dba600,#6af200,#2efe33,#15f754,#01f06e 21.25px)"></i>
<i style="background:repeating-linear-gradient(90deg,#09f364 0,#00e57d,#00e380,#07f267,#1af84d,#34fe2c,#70ef00,#dfa300,#ff5300,#ff3100,#ff2700,#ff2400,#ff2400,#ff2600,#ff3000,#ff4e00,#e69c00,#77ea00,#38fe28,#1cf94b,#09f364 21.25px)"></i>
<i style="background:repeating-linear-gradient(90deg,#10f55b 0,#00ed73,#00e67c,#09f363,#1cf94b,#35fe2b,#6bf100,#d6ac00,#ff5800,#ff3300,#ff2700,#ff2500,#ff2400,#ff2600,#ff2e00,#ff4800,#f09200,#83e300,#43fc1d,#23fb41,#10f55b 21.25px)"></i>
<i style="background:repeating-linear-gradient(90deg,#17f752 0,#04f16a,#00e879,#0bf461,#1ef948,#36fe2a,#66f400,#ccb500,#ff5c00,#ff3400,#ff2700,#ff2500,#ff2300,#ff2600,#ff2c00,#ff4200,#f68200,#97d700,#4cfb14,#2afd37,#17f752 21.25px)"></i>
<i style="background:repeating-linear-gradient(90deg,#1df94a 0,#0bf362,#00ea77,#0df45f,#1ffa46,#36fe2a,#61f700,#c0bf00,#fe6300,#ff3600,#ff2800,#ff2500,#ff2300,#ff2500,#ff2a00,#ff3c00,#fa7200,#adca00,#57f909,#32ff2e,#1df94a 21.25px)"></i>
<i style="background:repeating-linear-gradient(90deg,#23fb42 0,#11f55a,#00ef71,#0ff55d,#20fa45,#37fe29,#5bf905,#b0c800,#fb7100,#ff3b00,#ff2a00,#ff2500,#ff2300,#ff2500,#ff2800,#ff3600,#fe6300,#c1bd00,#64f600,#3bfd25,#23fb42 21.25px)"></i>
<i style="background:repeating-linear-gradient(90deg,#28fd3b 0,#16f752,#05f26a,#10f55b,#22fa43,#37fe29,#59f907,#a2d100,#f77d00,#ff4000,#ff2b00,#ff2600,#ff2300,#ff2500,#ff2700,#ff3300,#ff5a00,#cfb200,#6fef00,#43fc1d,#28fd3b 21.25px)"></i>
<i style="background:repeating-linear-gradient(90deg,#2dfe34 0,#1cf94b,#0af362,#11f559,#23fb42,#37fe29,#59f907,#94d900,#f48a00,#ff4500,#ff2d00,#ff2600,#ff2400,#ff2400,#ff2700,#ff3200,#ff5400,#dba700,#7ae900,#4cfb14,#2dfe34 21.25px)"></i>
<i style="background:repeating-linear-gradient(90deg,#33ff2d 0,#21fa44,#10f55b,#12f657,#24fb40,#37fe29,#59f907,#8edc00,#ef9300,#ff4900,#ff2e00,#ff2600,#ff2400,#ff2400,#ff2600,#ff3000,#ff4f00,#e59d00,#84e300,#53fa0d,#33ff2d 21.25px)"></i>
<i style="background:repeating-linear-gradient(90deg,#3afe26 0,#26fc3d,#15f754,#14f656,#25fb3f,#38fe28,#58f908,#89df00,#e99900,#ff4d00,#ff2f00,#ff2600,#ff2400,#ff2400,#ff2600,#ff2e00,#ff4a00,#ed9500,#8edc00,#5bf905,#3afe26 21.25px)"></i>
<i style="background:repeating-linear-gradient(90deg,#40fd20 0,#2afd37,#1af84e,#15f754,#26fc3e,#39fe27,#58f908,#85e200,#e29f00,#ff5100,#ff3000,#ff2600,#ff2400,#ff2400,#ff2600,#ff2d00,#ff4600,#f38c00,#98d600,#61f700,#40fd20 21.25px)"></i>
<i style="background:repeating-linear-gradient(90deg,#47fc19 0,#2fff32,#1ef948,#16f753,#27fc3c,#3afd26,#58f908,#81e400,#dba600,#ff5400,#ff3100,#ff2700,#ff2400,#ff2400,#ff2600,#ff2b00,#ff4100,#f68000,#a4cf00,#67f400,#47fc19 21.25px)"></i>
<i style="background:repeating-linear-gradient(90deg,#4dfb13 0,#34fe2c,#22fb43,#17f751,#28fc3b,#3bfd25,#58f908,#7de700,#d4ad00,#ff5700,#ff3200,#ff2700,#ff2500,#ff2300,#ff2500,#ff2a00,#ff3d00,#f97500,#b3c600,#6cf100,#4dfb13 21.25px)"></i>
<i style="background:repeating-linear-gradient(90deg,#ff2300 0,#ff2500,#ff2700,#ff3400,#ff5b00,#cfb200,#7ce700,#5bf905,#40fd20,#2bfd37,#1bf84c,#29fd3a,#3dfd23,#57f909,#74ec00,#c3bd00,#fc6a00,#ff3900,#ff2900,#ff2500,#ff2300 21.25px)"></i>
<i style="background:repeating-linear-gradient(90deg,#ff2400 0,#ff2400,#ff2600,#ff3000,#ff4f00,#e69c00,#8edc00,#64f600,#47fc19,#30ff30,#1ffa46,#24fb40,#36fe2a,#4dfb13,#6bf100,#a1d100,#f48700,#ff4400,#ff2c00,#ff2600,#ff2400 21.25px)"></i>
<i style="background:repeating-linear-gradient(90deg,#ff2400 0,#ff2400,#ff2600,#ff2c00,#ff4400,#f48800,#9fd200,#68f300,#4afb16,#32ff2e,#21fa44,#1cf94b,#2cfe35,#42fc1e,#60f800,#8adf00,#e49e00,#ff5000,#ff3000,#ff2600,#ff2400 21.25px)"></i>
<i style="background:repeating-linear-gradient(90deg,#ff2500 0,#ff2300,#ff2500,#ff2900,#ff3a00,#fc6c00,#bcc100,#6bf100,#4bfb15,#30ff30,#20fa46,#11f559,#22fb43,#34fe2c,#50fa10,#74ec00,#cbb600,#ff5e00,#ff3500,#ff2800,#ff2500 21.25px)"></i>
<i style="background:repeating-linear-gradient(90deg,#ff2500 0,#ff2300,#ff2500,#ff2700,#ff3300,#ff5800,#d4ad00,#77ea00,#4efb12,#30ff30,#1ffa47,#0df45e,#18f751,#29fd3a,#40fd20,#61f700,#a6ce00,#f77d00,#ff4000,#ff2b00,#ff2500 21.25px)"></i>
<i style="background:repeating-linear-gradient(90deg,#ff2600 0,#ff2400,#ff2400,#ff2600,#ff3000,#ff4e00,#e69c00,#83e300,#50fa10,#2fff31,#1ef948,#0cf460,#0ef45e,#1ffa46,#31ff2f,#53fa0d,#88e000,#ec9600,#ff4b00,#ff2f00,#ff2600 21.25px)"></i>
<i style="background:repeating-linear-gradient(90deg,#ff2700 0,#ff2400,#ff2400,#ff2600,#ff2d00,#ff4600,#f38c00,#8fdc00,#53fa0d,#30ff30,#1df949,#0bf461,#05f16a,#16f752,#28fd3a,#45fc1b,#75eb00,#d9a800,#ff5500,#ff3200,#ff2700 21.25px)"></i>
<i style="background:repeating-linear-gradient(90deg,#ff2800 0,#ff2500,#ff2300,#ff2500,#ff2a00,#ff3d00,#fa7400,#abcb00,#56f90a,#32ff2e,#1df949,#0bf361,#00eb76,#0ef45d,#20fa45,#38fe28,#63f600,#c2bd00,#ff6100,#ff3600,#ff2800 21.25px)"></i>
<i style="background:repeating-linear-gradient(90deg,#ff2b00 0,#ff2600,#ff2300,#ff2500,#ff2700,#ff3500,#ff5e00,#c8b900,#63f600,#35fe2b,#1df949,#0bf361,#00e87a,#06f268,#18f850,#2cfe35,#4ffb11,#9fd200,#f77c00,#ff4000,#ff2b00 21.25px)"></i>
<i style="background:repeating-linear-gradient(90deg,#ff2e00 0,#ff2600,#ff2400,#ff2400,#ff2700,#ff3200,#ff5600,#d9a800,#6eef00,#38fe28,#1ef948,#0bf461,#00e87a,#00ee73,#11f55a,#23fb41,#43fc1d,#81e400,#ee9400,#ff4a00,#ff2e00 21.25px)"></i>
<i style="background:repeating-linear-gradient(90deg,#ff3100 0,#ff2700,#ff2400,#ff2400,#ff2600,#ff2f00,#ff4d00,#e89a00,#7ae800,#3cfd24,#1ffa47,#0cf460,#00e879,#00e57d,#09f364,#1cf94a,#37fe29,#70ee00,#dea400,#ff5300,#ff3100 21.25px)"></i>
<i style="background:repeating-linear-gradient(90deg,#ff3400 0,#ff2700,#ff2500,#ff2400,#ff2600,#ff2d00,#ff4400,#f48800,#8cde00,#41fd1f,#22fa43,#0df45e,#00ea78,#00de86,#03f16d,#16f753,#2dfe34,#5ff801,#cbb700,#ff5d00,#ff3400 21.25px)"></i>
<i style="background:repeating-linear-gradient(90deg,#ff3a00 0,#ff2900,#ff2500,#ff2300,#ff2500,#ff2a00,#ff3b00,#fb7100,#a9cc00,#4afb16,#25fb3f,#0ff55c,#00eb76,#00d68f,#00ec75,#0ff55c,#25fc3e,#4cfb14,#acca00,#fb6e00,#ff3a00 21.25px)"></i>
<i style="background:repeating-linear-gradient(90deg,#ff4300 0,#ff2c00,#ff2600,#ff2300,#ff2500,#ff2700,#ff3500,#ff5f00,#c6bb00,#58f908,#28fd3a,#11f55a,#00ed74,#00d78d,#00e57d,#09f363,#1ef948,#3dfd23,#8cdd00,#f58700,#ff4300 21.25px)"></i>
<i style="background:repeating-linear-gradient(90deg,#ff4d00 0,#ff2f00,#ff2600,#ff2400,#ff2400,#ff2700,#ff3200,#ff5700,#d8aa00,#66f400,#2cfe35,#13f657,#00f071,#00da8b,#00df85,#04f16b,#17f751,#33ff2d,#76eb00,#e99900,#ff4d00 21.25px)"></i>
<i style="background:repeating-linear-gradient(90deg,#ff5600 0,#ff3200,#ff2700,#ff2400,#ff2400,#ff2600,#ff3000,#ff4e00,#e69c00,#73ed00,#30ff30,#16f753,#02f16d,#00dd87,#00d98c,#00ef71,#12f657,#2cfe35,#67f400,#daa700,#ff5600 21.25px)"></i>
<i style="background:repeating-linear-gradient(90deg,#ff5e00 0,#ff3500,#ff2700,#ff2500,#ff2400,#ff2600,#ff2d00,#ff4600,#f38d00,#84e200,#37fe29,#1af84e,#05f269,#00e084,#00d492,#00ea78,#0ef45d,#26fc3d,#58f908,#c8b900,#ff5e00 21.25px)"></i>
<i style="background:repeating-linear-gradient(90deg,#fc6c00 0,#ff3900,#ff2900,#ff2500,#ff2300,#ff2500,#ff2a00,#ff3d00,#f97600,#a0d200,#40fd20,#1efa47,#08f365,#00e37f,#00cf97,#00e57d,#0af363,#21fa44,#47fc19,#acca00,#fc6c00 21.25px)"></i>
<i style="background:repeating-linear-gradient(90deg,#f68300 0,#ff4200,#ff2c00,#ff2600,#ff2300,#ff2500,#ff2800,#ff3600,#fe6200,#bcc100,#50fa10,#23fb41,#0cf460,#00e77a,#00d195,#00e182,#06f268,#1cf94b,#39fe27,#90db00,#f68300 21.25px)"></i>
<i style="background:repeating-linear-gradient(90deg,#ed9500 0,#ff4a00,#ff2e00,#ff2600,#ff2400,#ff2500,#ff2700,#ff3300,#ff5a00,#d2b000,#60f800,#29fd3a,#10f55b,#00ec75,#00d68f,#00dd86,#03f16c,#17f751,#33ff2d,#79e900,#ed9500 21.25px)"></i>
<i style="background:repeating-linear-gradient(90deg,#dfa200 0,#ff5200,#ff3100,#ff2700,#ff2400,#ff2400,#ff2700,#ff3100,#ff5200,#e0a100,#6df000,#2efe33,#14f655,#00f06f,#00db8a,#00da8a,#00f070,#14f656,#2efe33,#6cf100,#dfa200 21.25px)"></i>
<i style="background:repeating-linear-gradient(90deg,#d1b000 0,#ff5a00,#ff3400,#ff2700,#ff2500,#ff2400,#ff2600,#ff2e00,#ff4900,#ee9400,#7be800,#35fe2b,#19f84f,#05f26a,#00e084,#00d88d,#00ed73,#11f559,#2afd38,#61f800,#d1b000 21.25px)"></i>
<i style="background:repeating-linear-gradient(90deg,#bec000 0,#ff6200,#ff3600,#ff2800,#ff2500,#ff2300,#ff2600,#ff2c00,#ff4100,#f68100,#93d900,#3efd22,#1ffa47,#0af363,#00e57d,#00d590,#00eb76,#0ff55c,#26fc3d,#53fa0d,#bec000 21.25px)"></i>
<i style="background:repeating-linear-gradient(90deg,#a4cf00 0,#fa7400,#ff3c00,#ff2a00,#ff2500,#ff2300,#ff2500,#ff2900,#ff3900,#fc6b00,#afc900,#4cfb14,#25fc3f,#0ff55d,#00eb76,#00d590,#00e978,#0df45e,#23fb41,#46fc1a,#a4cf00 21.25px)"></i>
<i style="background:repeating-linear-gradient(90deg,#8cde00 0,#f48800,#ff4400,#ff2c00,#ff2600,#ff2300,#ff2500,#ff2700,#ff3500,#ff5e00,#c9b800,#5df803,#2bfe36,#14f656,#01f06f,#00db89,#00e87a,#0cf460,#20fa45,#3ffd21,#8cde00 21.25px)"></i>
<i style="background:repeating-linear-gradient(90deg,#7ce700 0,#eb9700,#ff4b00,#ff2f00,#ff2600,#ff2400,#ff2400,#ff2700,#ff3200,#ff5600,#d9a800,#6bf100,#33ff2d,#19f84e,#06f267,#00e281,#00e77b,#0bf361,#1ef948,#3cfd24,#7ce700 21.25px)"></i>
<i style="background:repeating-linear-gradient(90deg,#73ed00 0,#e0a200,#ff5200,#ff3100,#ff2700,#ff2400,#ff2400,#ff2600,#ff3000,#ff4e00,#e79b00,#79e900,#3cfd24,#1ffa46,#0cf45f,#00e979,#00e77b,#0bf362,#1df949,#39fe27,#73ed00 21.25px)"></i>
<i style="background:repeating-linear-gradient(90deg,#6af200 0,#d3ae00,#ff5900,#ff3300,#ff2700,#ff2500,#ff2400,#ff2600,#ff2d00,#ff4600,#f38e00,#88e000,#46fc1a,#26fc3d,#13f657,#00f070,#00e77b,#0bf362,#1df949,#36fe2a,#6af200 21.25px)"></i>
<i style="background:repeating-linear-gradient(90deg,#62f700 0,#c4bc00,#ff5f00,#ff3500,#ff2800,#ff2500,#ff2300,#ff2500,#ff2b00,#ff3e00,#f87900,#a3cf00,#50fa10,#2dfe33,#19f84e,#07f267,#00e87a,#0bf361,#1df949,#35fe2b,#62f700 21.25px)"></i>
<i style="background:repeating-linear-gradient(90deg,#59f907 0,#afc800,#fb7000,#ff3b00,#ff2a00,#ff2500,#ff2300,#ff2500,#ff2800,#ff3700,#fe6400,#bebf00,#61f700,#37fe29,#20fa45,#0ef45e,#00eb76,#0cf460,#1ef948,#33fe2d,#59f907 21.25px)"></i>
<i style="background:repeating-linear-gradient(90deg,#56f90a 0,#9bd400,#f68200,#ff4200,#ff2c00,#ff2600,#ff2300,#ff2500,#ff2700,#ff3300,#ff5900,#d2b000,#70ef00,#42fc1e,#27fc3c,#15f754,#03f16b,#0df45e,#1ffa46,#33ff2d,#56f90a 21.25px)"></i>
<i style="background:repeating-linear-gradient(90deg,#56fa0a 0,#8edd00,#f09200,#ff4800,#ff2e00,#ff2600,#ff2400,#ff2400,#ff2600,#ff3100,#ff5100,#e1a000,#7ee600,#4efb12,#2efe32,#1df94a,#0bf461,#0ff55c,#21fa44,#33ff2d,#56fa0a 21.25px)"></i>
<i style="background:repeating-linear-gradient(90deg,#56f90a 0,#86e100,#e79b00,#ff4e00,#ff3000,#ff2600,#ff2400,#ff2400,#ff2600,#ff2e00,#ff4a00,#ee9400,#8edc00,#5af906,#38fe28,#25fb3f,#14f656,#12f658,#23fb42,#36fe2a,#56f90a 21.25px)"></i>
<i style="background:repeating-linear-gradient(90deg,#57f909 0,#81e400,#dda500,#ff5300,#ff3100,#ff2600,#ff2400,#ff2400,#ff2600,#ff2c00,#ff4300,#f58400,#9fd200,#64f500,#44fc1c,#2dfe34,#1cf94b,#15f754,#26fc3e,#39fe27,#57f909 21.25px)"></i>
<i style="background:repeating-linear-gradient(90deg,#59f907 0,#7de700,#d3ae00,#ff5800,#ff3300,#ff2700,#ff2500,#ff2300,#ff2500,#ff2a00,#ff3c00,#fa7100,#b8c300,#6ef000,#51fa0f,#37fe29,#24fb3f,#19f84f,#29fd39,#3dfd23,#59f907 21.25px)"></i>
<i style="background:repeating-linear-gradient(90deg,#66f400 0,#48fb18,#31ff2f,#20fa45,#20fa46,#30ff30,#47fc19,#65f500,#95d800,#ed9500,#ff4a00,#ff2e00,#ff2600,#ff2400,#ff2400,#ff2600,#ff2e00,#ff4900,#ef9300,#97d700,#66f400 21.25px)"></i>
<i style="background:repeating-linear-gradient(90deg,#6fef00 0,#50fa10,#36fe2a,#24fb40,#15f754,#26fc3e,#39fe27,#55fa0b,#77ea00,#cdb400,#ff5d00,#ff3400,#ff2800,#ff2500,#ff2300,#ff2500,#ff2900,#ff3a00,#fc6b00,#bfbf00,#6fef00 21.25px)"></i>
<i style="background:repeating-linear-gradient(90deg,#84e200 0,#59f907,#3bfd25,#27fc3c,#16f753,#1cf94b,#2cfe35,#43fc1d,#64f600,#9cd400,#f48800,#ff4400,#ff2c00,#ff2600,#ff2400,#ff2400,#ff2600,#ff3100,#ff5100,#e0a100,#84e200 21.25px)"></i>
<i style="background:repeating-linear-gradient(90deg,#9bd400 0,#61f700,#40fd20,#29fd39,#18f84f,#12f559,#22fb42,#35fe2b,#54fa0c,#7fe500,#dca500,#ff5400,#ff3100,#ff2700,#ff2400,#ff2400,#ff2600,#ff2c00,#ff4300,#f58600,#9bd400 21.25px)"></i>
<i style="background:repeating-linear-gradient(90deg,#c8b900 0,#6df000,#47fc19,#2cfe35,#1bf84c,#09f363,#19f84f,#2afd38,#43fc1d,#65f500,#b8c300,#fb6d00,#ff3a00,#ff2900,#ff2500,#ff2300,#ff2500,#ff2800,#ff3600,#ff6000,#c8b900 21.25px)"></i>
<i style="background:repeating-linear-gradient(90deg,#e29f00 0,#7fe500,#4efb12,#2efe32,#1df94a,#0bf461,#0ff55c,#20fa45,#32ff2e,#55fa0b,#8cdd00,#f09200,#ff4900,#ff2e00,#ff2600,#ff2400,#ff2400,#ff2600,#ff3000,#ff5100,#e29f00 21.25px)"></i>
<i style="background:repeating-linear-gradient(90deg,#f48800 0,#93d900,#54fa0c,#31ff2f,#1efa47,#0df45f,#05f26a,#17f752,#28fd3a,#45fc1b,#74ec00,#d7ab00,#ff5700,#ff3200,#ff2700,#ff2500,#ff2400,#ff2600,#ff2c00,#ff4400,#f48800 21.25px)"></i>
<i style="background:repeating-linear-gradient(90deg,#fd6800 0,#bac200,#60f800,#37fe29,#20fa46,#0ef45e,#00eb76,#0df45f,#1ffa47,#35fe2b,#5cf904,#b4c600,#fc6d00,#ff3a00,#ff2900,#ff2500,#ff2300,#ff2500,#ff2900,#ff3800,#fd6800 21.25px)"></i>
<i style="background:repeating-linear-gradient(90deg,#ff5700 0,#d6ab00,#6eef00,#3cfd24,#21fa44,#0ff55c,#00ec75,#04f16b,#16f753,#29fd3a,#4afb16,#89e000,#f28e00,#ff4600,#ff2d00,#ff2600,#ff2400,#ff2500,#ff2700,#ff3300,#ff5700 21.25px)"></i>
<i style="background:repeating-linear-gradient(90deg,#ff4d00 0,#e99900,#7de700,#40fd20,#22fb43,#0ff55c,#00ec75,#00e978,#0df45f,#1ffa46,#3bfd25,#74ec00,#dfa200,#ff5200,#ff3100,#ff2700,#ff2400,#ff2400,#ff2600,#ff2f00,#ff4d00 21.25px)"></i>
<i style="background:repeating-linear-gradient(90deg,#ff4300 0,#f58400,#92da00,#44fc1c,#24fb40,#10f55b,#00ec74,#00df84,#04f16b,#17f752,#2efe33,#5ff801,#c8b900,#ff5e00,#ff3500,#ff2700,#ff2500,#ff2300,#ff2600,#ff2c00,#ff4300 21.25px)"></i>
<i style="background:repeating-linear-gradient(90deg,#ff3900 0,#fc6a00,#b0c800,#4efb12,#26fc3e,#10f55b,#00ec75,#00d68f,#00ea77,#0ef45d,#24fb40,#47fc19,#a4cf00,#fa7400,#ff3d00,#ff2a00,#ff2500,#ff2300,#ff2500,#ff2900,#ff3900 21.25px)"></i>
<i style="background:repeating-linear-gradient(90deg,#ff3500 0,#ff5e00,#cab700,#5af906,#27fc3c,#0ff55c,#00eb76,#00d590,#00e083,#06f269,#1af84d,#37fe29,#83e300,#f28e00,#ff4600,#ff2d00,#ff2600,#ff2400,#ff2500,#ff2700,#ff3500 21.25px)"></i>
<i style="background:repeating-linear-gradient(90deg,#ff3200 0,#ff5600,#daa800,#65f500,#28fd3a,#0ef55d,#00ea77,#00d492,#00d78e,#00ed74,#11f559,#2cfe35,#6eef00,#e49e00,#ff5000,#ff3000,#ff2600,#ff2400,#ff2400,#ff2700,#ff3200 21.25px)"></i>
<i style="background:repeating-linear-gradient(90deg,#ff3000 0,#ff4f00,#e59c00,#6df000,#29fd39,#0ef45e,#00e979,#00d294,#00cd9a,#00e47f,#09f364,#23fb41,#5df803,#d5ac00,#ff5900,#ff3300,#ff2700,#ff2400,#ff2400,#ff2600,#ff3000 21.25px)"></i>
<i style="background:repeating-linear-gradient(90deg,#ff2e00 0,#ff4800,#f09200,#78e900,#29fd39,#0df45e,#00e77b,#00d097,#00c5a2,#00db89,#02f16e,#1bf84c,#4bfb15,#c4bc00,#ff6100,#ff3600,#ff2700,#ff2500,#ff2400,#ff2600,#ff2e00 21.25px)"></i>
<i style="background:repeating-linear-gradient(90deg,#ff2c00 0,#ff4300,#f58500,#86e100,#29fd39,#0cf460,#00e47e,#00cd9a,#00bea8,#00d294,#00ea78,#13f657,#3afd26,#acca00,#fd6800,#ff3800,#ff2900,#ff2500,#ff2300,#ff2600,#ff2c00 21.25px)"></i>
<i style="background:repeating-linear-gradient(90deg,#ff2b00 0,#ff3e00,#f97700,#94d900,#2bfd36,#0af362,#00e083,#00c99f,#00b6ae,#00c99f,#00e083,#0af362,#2bfd36,#94d900,#f97700,#ff3e00,#ff2b00,#ff2600,#ff2300,#ff2600,#ff2b00 21.25px)"></i>
<i style="background:repeating-linear-gradient(90deg,#ff2900 0,#ff3900,#fc6b00,#a1d100,#2dfe35,#08f266,#00dc88,#00c4a3,#00b1b1,#00c0a6,#00d78e,#01f06e,#1ffa46,#7fe500,#f48700,#ff4300,#ff2c00,#ff2600,#ff2300,#ff2500,#ff2900 21.25px)"></i>
<i style="background:repeating-linear-gradient(90deg,#ff2800 0,#ff3900,#fc6900,#a9cc00,#2cfe35,#03f16c,#00d690,#00bfa7,#00acb5,#00b8ac,#00cd9a,#00e87a,#17f751,#70ef00,#f09200,#ff4800,#ff2e00,#ff2600,#ff2300,#ff2500,#ff2800 21.25px)"></i>
<i style="background:repeating-linear-gradient(90deg,#ff2800 0,#ff3900,#fc6900,#aacb00,#29fd3a,#00ed73,#00ce99,#00b9ab,#00a6bc,#00b0b2,#00c4a3,#00df85,#10f55b,#65f500,#eb9700,#ff4b00,#ff2f00,#ff2600,#ff2400,#ff2500,#ff2800 21.25px)"></i>
<i style="background:repeating-linear-gradient(90deg,#ff2800 0,#ff3900,#fc6900,#aacb00,#25fc3f,#00e77b,#00c7a1,#00b2b0,#00a0c5,#00a9b8,#00bda8,#00d690,#08f365,#5af906,#e79b00,#ff4d00,#ff3000,#ff2600,#ff2400,#ff2500,#ff2800 21.25px)"></i>
<i style="background:repeating-linear-gradient(90deg,#ff2800 0,#ff3900,#fc6a00,#a9cc00,#21fa44,#00e083,#00c1a5,#00acb5,#009bcd,#00a3c1,#00b6ae,#00cd9a,#01f06e,#4ffa11,#e39f00,#ff5000,#ff3000,#ff2700,#ff2400,#ff2500,#ff2800 21.25px)"></i>
<i style="background:repeating-linear-gradient(90deg,#ff2800 0,#ff3900,#fc6b00,#a7cd00,#1cf94a,#00d98b,#00bbaa,#00a6bb,#0096d6,#009dca,#00afb2,#00c6a2,#00ea77,#46fc1a,#e0a100,#ff5100,#ff3100,#ff2700,#ff2400,#ff2500,#ff2800 21.25px)"></i>
<i style="background:repeating-linear-gradient(90deg,#ff2800 0,#ff3a00,#fc6d00,#a2d000,#17f751,#00d393,#00b5ae,#00a2c3,#0091de,#0099d1,#00aab7,#00c0a6,#00e47e,#41fd1f,#dfa200,#ff5200,#ff3100,#ff2700,#ff2400,#ff2500,#ff2800 21.25px)"></i>
<i style="background:repeating-linear-gradient(90deg,#ff2900 0,#ff3b00,#fb7000,#97d700,#10f55b,#00cc9c,#00b0b2,#009dca,#0089e7,#0095d7,#00a6bb,#00bda8,#00e183,#44fc1c,#e1a000,#ff5000,#ff3100,#ff2700,#ff2400,#ff2500,#ff2900 21.25px)"></i>
<i style="background:repeating-linear-gradient(90deg,#ff2a00 0,#ff3c00,#f97500,#87e000,#07f266,#00c5a2,#00aab6,#0099d1,#0080ef,#0093db,#00a4bf,#00bbaa,#00df85,#4cfb14,#e79b00,#ff4d00,#ff3000,#ff2700,#ff2400,#ff2600,#ff2a00 21.25px)"></i>
<i style="background:repeating-linear-gradient(90deg,#ff2b00 0,#ff3f00,#f87c00,#78e900,#00ef72,#00c0a6,#00a6bb,#0095d7,#0079f7,#0092dc,#00a3c0,#00bbaa,#00df84,#59f907,#ed9500,#ff4900,#ff2e00,#ff2600,#ff2300,#ff2600,#ff2b00 21.25px)"></i>
<i style="background:repeating-linear-gradient(90deg,#ff2d00 0,#ff4400,#f48a00,#69f300,#00e67d,#00bca9,#00a4bf,#0092dc,#0073fc,#0092dc,#00a3c0,#00bca9,#00e57d,#68f300,#f38b00,#ff4400,#ff2d00,#ff2600,#ff2300,#ff2600,#ff2d00 21.25px)"></i>
<i style="background:repeating-linear-gradient(90deg,#ff2f00 0,#ff4b00,#eb9700,#53fa0d,#00dc88,#00b9ac,#00a2c3,#0091df,#0077f8,#0094d9,#00a5bd,#00bfa6,#00ef71,#7be800,#f87900,#ff3e00,#ff2b00,#ff2600,#ff2300,#ff2600,#ff2f00 21.25px)"></i>
<i style="background:repeating-linear-gradient(90deg,#ff3100 0,#ff5300,#dea400,#38fe28,#00d88d,#00b5ae,#00a0c5,#008ee2,#007df2,#0097d4,#00a9b8,#00c5a2,#0bf362,#95d800,#fa7100,#ff3b00,#ff2900,#ff2500,#ff2400,#ff2700,#ff3100 21.25px)"></i>
<i style="background:repeating-linear-gradient(90deg,#ff3400 0,#ff5b00,#d0b200,#28fc3b,#00d491,#00b3b0,#009fc7,#008de3,#0086ea,#009ccc,#00aeb3,#00cc9b,#18f84f,#b5c500,#fd6700,#ff3800,#ff2800,#ff2500,#ff2400,#ff2700,#ff3400 21.25px)"></i>
<i style="background:repeating-linear-gradient(90deg,#ff3700 0,#fe6400,#bdc000,#1ef948,#00d195,#00b2b1,#009fc8,#008ce4,#0090e0,#00a1c4,#00b5ae,#00d68f,#28fc3b,#cdb400,#ff5d00,#ff3500,#ff2700,#ff2400,#ff2500,#ff2800,#ff3700 21.25px)"></i>
<i style="background:repeating-linear-gradient(90deg,#ff3a00 0,#fb6f00,#9cd400,#12f657,#00ce99,#00b1b1,#009fc8,#008ce4,#0096d5,#00a7ba,#00bea8,#00e181,#41fc1f,#e0a100,#ff5100,#ff3100,#ff2700,#ff2400,#ff2500,#ff2800,#ff3a00 21.25px)"></i>
<i style="background:repeating-linear-gradient(90deg,#ff4000 0,#f68000,#79e900,#07f267,#00cb9c,#00b1b1,#009fc8,#008de3,#009dca,#00b0b2,#00c8a0,#01f06f,#6df000,#f38b00,#ff4400,#ff2d00,#ff2600,#ff2300,#ff2600,#ff2c00,#ff4000 21.25px)"></i>
<i style="background:repeating-linear-gradient(90deg,#ff4d00 0,#e89a00,#56f90a,#00ee73,#00c99f,#00b1b1,#009fc7,#0095d7,#00a5bd,#00baab,#00d78e,#16f752,#98d700,#fb6f00,#ff3b00,#ff2900,#ff2500,#ff2400,#ff2600,#ff2f00,#ff4d00 21.25px)"></i>
<i style="background:repeating-linear-gradient(90deg,#ff5900 0,#d4ae00,#3afe26,#00eb76,#00c7a1,#00b2b1,#00a0c6,#009ec9,#00afb3,#00c4a3,#00e67c,#2dfe34,#c7ba00,#ff6100,#ff3600,#ff2800,#ff2500,#ff2400,#ff2700,#ff3300,#ff5900 21.25px)"></i>
<i style="background:repeating-linear-gradient(90deg,#fd6600 0,#b5c500,#29fd3a,#00e87a,#00c7a1,#00b3b0,#00a1c4,#00a7ba,#00bbaa,#00d294,#05f269,#4dfb13,#e1a100,#ff5100,#ff3100,#ff2700,#ff2400,#ff2500,#ff2800,#ff3800,#fd6600 21.25px)"></i>
<i style="background:repeating-linear-gradient(90deg,#f87b00 0,#87e100,#1af84d,#00e57d,#00c7a0,#00b3b0,#00a1c3,#00b2b0,#00c7a1,#00e37f,#17f751,#80e500,#f68100,#ff4100,#ff2c00,#ff2600,#ff2300,#ff2600,#ff2b00,#ff3f00,#f87b00 21.25px)"></i>
<i style="background:repeating-linear-gradient(90deg,#e69b00 0,#5ef802,#12f658,#00e281,#00c8a0,#00b4af,#00abb5,#00bfa7,#00d690,#04f16a,#32ff2e,#b9c200,#fe6400,#ff3700,#ff2800,#ff2500,#ff2400,#ff2600,#ff3000,#ff4e00,#e69b00 21.25px)"></i>
<i style="background:repeating-linear-gradient(90deg,#ceb300 0,#45fc1b,#0ef45d,#00e083,#00c8a0,#00b5ae,#00b9ac,#00cd9a,#00e57d,#14f655,#58f908,#dea300,#ff5300,#ff3100,#ff2700,#ff2400,#ff2500,#ff2700,#ff3500,#ff5d00,#ceb300 21.25px)"></i>
<i style="background:repeating-linear-gradient(90deg,#9dd300 0,#2efe33,#0bf362,#00e083,#00c8a0,#00b5ae,#00c6a2,#00dd87,#07f267,#26fc3e,#88e000,#f68000,#ff4100,#ff2c00,#ff2600,#ff2300,#ff2500,#ff2a00,#ff3b00,#fb7000,#9dd300 21.25px)"></i>
<i style="background:repeating-linear-gradient(90deg,#6cf100 0,#23fb41,#07f267,#00df84,#00c8a0,#00c0a6,#00d690,#00ed74,#18f751,#4afb16,#c8b900,#ff5f00,#ff3500,#ff2700,#ff2500,#ff2400,#ff2600,#ff2f00,#ff4c00,#ea9800,#6cf100 21.25px)"></i>
<i style="background:repeating-linear-gradient(90deg,#53fa0d 0,#1ef948,#04f16a,#00de86,#00c7a1,#00cf98,#00e67c,#0cf460,#28fc3b,#6fef00,#ea9800,#ff4c00,#ff2f00,#ff2600,#ff2400,#ff2500,#ff2700,#ff3400,#ff5c00,#cdb400,#53fa0d 21.25px)"></i>
<i style="background:repeating-linear-gradient(90deg,#39fe27 0,#1af84e,#03f16c,#00dd86,#00ca9e,#00e083,#06f268,#1df949,#44fc1c,#adca00,#fc6a00,#ff3900,#ff2900,#ff2500,#ff2300,#ff2600,#ff2b00,#ff3f00,#f87b00,#98d600,#39fe27 21.25px)"></i>
<i style="background:repeating-linear-gradient(90deg,#30ff30 0,#16f753,#03f16d,#00dd87,#00dc88,#02f16e,#15f754,#2fff31,#6df000,#dfa200,#ff5200,#ff3100,#ff2700,#ff2400,#ff2400,#ff2600,#ff3100,#ff5100,#e2a000,#70ef00,#30ff30 21.25px)"></i>
<i style="background:repeating-linear-gradient(90deg,#2bfe36 0,#15f754,#02f16d,#00de86,#00ef71,#12f658,#27fc3c,#49fb17,#a2d100,#f97800,#ff3e00,#ff2b00,#ff2500,#ff2300,#ff2500,#ff2800,#ff3700,#fe6400,#bbc100,#57f909,#2bfe36 21.25px)"></i>
<i style="background:repeating-linear-gradient(90deg,#27fc3b 0,#15f754,#03f16c,#00ee73,#10f55a,#22fb42,#3efd22,#73ed00,#dca600,#ff5400,#ff3200,#ff2700,#ff2400,#ff2400,#ff2600,#ff2e00,#ff4900,#ef9300,#85e200,#48fc18,#27fc3b 21.25px)"></i>
<i style="background:repeating-linear-gradient(90deg,#27fc3c 0,#15f754,#04f16b,#10f55b,#21fa44,#36fe2a,#59f907,#a4cf00,#f87b00,#ff3f00,#ff2b00,#ff2500,#ff2300,#ff2500,#ff2700,#ff3400,#ff5b00,#cdb400,#6df000,#42fc1e,#27fc3c 21.25px)"></i>
<i style="background:repeating-linear-gradient(90deg,#27fc3c 0,#16f753,#10f55b,#21fa44,#33ff2d,#52fa0e,#7fe500,#dea300,#ff5300,#ff3100,#ff2600,#ff2400,#ff2400,#ff2600,#ff2d00,#ff4500,#f48a00,#97d700,#5ef802,#3cfd24,#27fc3c 21.25px)"></i>
</div>
<div class="im" style="left:221px;top:430px;width:84px;height:337px">
<i style="background:repeating-linear-gradient(90deg,#dba700 0,#dba700,#dba700,#daa700,#d9a800,#d7aa00,#d3ae00,#cfb300,#cbb600,#c9b800,#cbb600,#cfb200,#d4ae00,#d7aa00,#d9a800,#daa700,#dba700,#dba700,#dba700,#dba700,#dba700 21.25px)"></i>
<i style="background:repeating-linear-gradient(90deg,#e2a000 0,#e2a000,#e2a000,#e1a100,#dfa200,#dca600,#d6ac00,#ceb300,#c8b900,#c4bc00,#c8b900,#cfb200,#d6ab00,#dca500,#e0a200,#e1a000,#e2a000,#e2a000,#e2a000,#e2a000,#e2a000 21.25px)"></i>
<i style="background:repeating-linear-gradient(90deg,#dea300 0,#dea400,#dda400,#dca500,#d9a800,#d4ad00,#cbb600,#bbc100,#abcb00,#a5ce00,#adca00,#bdc000,#ccb500,#d5ad00,#daa800,#dca500,#dda400,#dea400,#dea300,#dea300,#dea300 21.25px)"></i>
<i style="background:repeating-linear-gradient(90deg,#d2af00 0,#d2b000,#d1b100,#ceb300,#cab700,#c0be00,#accb00,#92da00,#7de600,#76eb00,#7fe500,#95d800,#aec900,#c2bd00,#cbb600,#ceb300,#d0b100,#d1b000,#d2af00,#d2af00,#d2af00 21.25px)"></i>
<i style="background:repeating-linear-gradient(90deg,#cab700 0,#c9b800,#c6bb00,#c0be00,#b7c400,#a6ce00,#8bde00,#6ef000,#50fa10,#42fc1e,#53fa0d,#72ed00,#8fdc00,#a8cd00,#b7c400,#bfbf00,#c4bc00,#c8b900,#cab700,#cbb600,#cab700 21.25px)"></i>
<i style="background:repeating-linear-gradient(90deg,#ceb400 0,#cab700,#c3bc00,#b9c200,#acca00,#97d700,#79e900,#52fa0e,#25fb3f,#14f655,#28fd3a,#58f908,#7de700,#99d600,#abcb00,#b7c400,#bfbf00,#c7ba00,#ccb500,#ceb300,#ceb400 21.25px)"></i>
<i style="background:repeating-linear-gradient(90deg,#dba600 0,#d4ad00,#cbb600,#bcc000,#aacb00,#92da00,#71ee00,#3efd22,#07f266,#00db89,#0df45e,#45fc1b,#75eb00,#93d900,#a9cc00,#b7c400,#c5bb00,#cfb200,#d8aa00,#dca500,#dba600 21.25px)"></i>
<i style="background:repeating-linear-gradient(90deg,#f09200 0,#e59d00,#d5ac00,#c5bb00,#aec900,#92da00,#70ee00,#39fe27,#00ec75,#00ca9e,#03f16c,#41fd1f,#74ec00,#93d900,#aacb00,#bdc000,#cdb400,#dca500,#ea9800,#f29000,#f09200 21.25px)"></i>
<i style="background:repeating-linear-gradient(90deg,#fa7100 0,#f48a00,#e0a100,#ccb500,#b3c600,#96d700,#75eb00,#45fc1b,#0ef45d,#00e37f,#14f656,#4cfb14,#78e900,#96d800,#adc900,#c3bc00,#d5ac00,#ea9800,#f77e00,#fc6c00,#fa7100 21.25px)"></i>
<i style="background:repeating-linear-gradient(90deg,#ff5a00 0,#f87800,#e89a00,#d1b000,#b8c300,#9cd400,#7ee600,#5bf905,#2efe32,#1ffa47,#32ff2e,#60f800,#80e500,#9ad500,#b1c700,#c8b900,#dba700,#f29000,#fc6a00,#ff5400,#ff5a00 21.25px)"></i>
<i style="background:repeating-linear-gradient(90deg,#ff5a00 0,#f97800,#e89a00,#d2b000,#bbc100,#a1d100,#87e000,#6eef00,#55fa0b,#4afb16,#58f908,#70ee00,#87e000,#9ed300,#b1c700,#c7ba00,#daa700,#f28f00,#fd6900,#ff5400,#ff5a00 21.25px)"></i>
<i style="background:repeating-linear-gradient(90deg,#fa7300 0,#f38b00,#e2a000,#cfb200,#bac200,#a3d000,#8ddd00,#78ea00,#67f400,#5ef802,#63f600,#71ee00,#80e500,#8fdc00,#9fd200,#b5c500,#cfb200,#e59d00,#f58400,#fb7000,#fa7300 21.25px)"></i>
<i style="background:repeating-linear-gradient(90deg,#d9a800 0,#d9a900,#d3ae00,#c9b800,#b5c500,#98d600,#7de700,#60f800,#3ffd21,#29fd3a,#20fa45,#1ef948,#21fa44,#26fc3d,#32ff2e,#4ffa11,#77ea00,#9cd400,#bdc000,#d1b000,#d9a800 21.25px)"></i>
<i style="background:repeating-linear-gradient(90deg,#95d800 0,#b5c500,#cab700,#c9b800,#aec900,#7be800,#47fc19,#11f559,#00d393,#00afb3,#009dcb,#0090df,#0086ea,#0084eb,#0093db,#00aab6,#00e380,#21fa44,#43fc1d,#6eef00,#95d800 21.25px)"></i>
<i style="background:repeating-linear-gradient(90deg,#ceb300 0,#dda500,#e89a00,#dca500,#afc800,#63f600,#20fa45,#00d392,#00acb5,#0096d7,#0085eb,#0077f9,#0070ff,#0070ff,#008ae6,#00b8ac,#29fd3a,#6fef00,#89df00,#b0c800,#ceb300 21.25px)"></i>
<i style="background:repeating-linear-gradient(90deg,#ff6100 0,#fe6300,#fd6800,#ed9500,#b1c700,#5cf904,#19f84f,#00cd9a,#00aeb4,#009dca,#0097d4,#0092dc,#0096d6,#009ad0,#00bca9,#2fff32,#d2af00,#f38b00,#f87a00,#fd6800,#ff6100 21.25px)"></i>
<i style="background:repeating-linear-gradient(90deg,#ff3d00 0,#ff4700,#ff5100,#f19100,#aacb00,#56fa0a,#14f656,#00ca9e,#00acb5,#009ec9,#0098d3,#0093da,#0099d1,#00a2c1,#00d491,#6fef00,#f68100,#ff5000,#ff4500,#ff3900,#ff3d00 21.25px)"></i>
<i style="background:repeating-linear-gradient(90deg,#ff3100 0,#ff3c00,#ff4c00,#f19100,#a0d200,#4efb12,#0cf45f,#00c5a2,#00a8b9,#009ccc,#0096d6,#0093db,#0098d2,#00a8b9,#00e77b,#91db00,#fd6800,#ff4000,#ff3500,#ff2a00,#ff3100 21.25px)"></i>
<i style="background:repeating-linear-gradient(90deg,#ff2700 0,#ff3100,#ff4b00,#ef9300,#93d900,#45fc1b,#04f16a,#00c1a6,#00a3c0,#009acf,#0094d9,#0093db,#0098d2,#00afb3,#0ff55d,#bac200,#ff5100,#ff3100,#ff2700,#ff2100,#ff2700 21.25px)"></i>
<i style="background:repeating-linear-gradient(90deg,#ff2000 0,#ff2700,#ff4c00,#e89a00,#87e100,#3bfd25,#00ea77,#00bbaa,#009fc7,#0098d2,#0092dd,#0093dc,#0098d2,#00b8ac,#27fc3c,#daa700,#ff3800,#ff2500,#ff1e00,#ff1a00,#ff2000 21.25px)"></i>
<i style="background:repeating-linear-gradient(90deg,#ff1d00 0,#ff2400,#ff5300,#dea400,#7ce700,#2efe32,#00de86,#00b5ae,#009dca,#0096d6,#008fe1,#0092dc,#0098d3,#00c0a6,#47fc19,#f38c00,#ff2600,#ff1f00,#ff1800,#ff1700,#ff1d00 21.25px)"></i>
<i style="background:repeating-linear-gradient(90deg,#ff1e00 0,#ff2500,#ff6100,#d0b100,#6fef00,#22fb43,#00d097,#00adb4,#009bce,#0094da,#008ae6,#0092dc,#0098d3,#00c99f,#67f400,#fe6400,#ff2500,#ff1e00,#ff1700,#ff1800,#ff1e00 21.25px)"></i>
<i style="background:repeating-linear-gradient(90deg,#ff1f00 0,#ff2600,#fb6e00,#bfbf00,#61f800,#15f754,#00c6a1,#00a6bb,#0098d3,#0091de,#0089e7,#0092dd,#009ec9,#00d491,#84e200,#ff5500,#ff2400,#ff1c00,#ff1500,#ff1900,#ff1f00 21.25px)"></i>
<i style="background:repeating-linear-gradient(90deg,#ff2100 0,#ff3100,#f77d00,#a7cd00,#4ffa11,#08f365,#00bfa7,#00a1c4,#0095d7,#008de3,#0088e8,#0092dd,#00a4bf,#00ed74,#abcb00,#ff4700,#ff2200,#ff1b00,#ff1400,#ff1a00,#ff2100 21.25px)"></i>
<i style="background:repeating-linear-gradient(90deg,#ff2200 0,#ff3f00,#f19100,#8fdc00,#3efd22,#00ea77,#00b7ac,#009bce,#0093db,#0088e8,#0087e8,#0091de,#00acb5,#16f753,#cfb200,#ff3900,#ff2100,#ff1900,#ff1400,#ff1b00,#ff2200 21.25px)"></i>
<i style="background:repeating-linear-gradient(90deg,#ff2300 0,#ff4d00,#e29f00,#7de600,#2dfe33,#00db89,#00b0b2,#0097d4,#0090e0,#0083ed,#0087e9,#0091de,#00b4af,#2fff32,#e89a00,#ff2b00,#ff1f00,#ff1800,#ff1500,#ff1c00,#ff2300 21.25px)"></i>
<i style="background:repeating-linear-gradient(90deg,#ff2400 0,#ff5b00,#d4ad00,#6fef00,#21fa44,#00cc9b,#00a8b8,#0095d8,#008be4,#007df2,#0086e9,#0091df,#00bda8,#52fa0e,#f97700,#ff2500,#ff1e00,#ff1600,#ff1600,#ff1d00,#ff2400 21.25px)"></i>
<i style="background:repeating-linear-gradient(90deg,#ff2500 0,#fc6a00,#c4bc00,#61f800,#14f656,#00c2a5,#00a2c1,#0092dc,#0086e9,#007bf5,#0086ea,#0094d9,#00c6a1,#72ed00,#ff5b00,#ff2400,#ff1c00,#ff1500,#ff1700,#ff1e00,#ff2500 21.25px)"></i>
<i style="background:repeating-linear-gradient(90deg,#ff2a00 0,#f97800,#adca00,#50fa10,#07f267,#00bbaa,#009dcb,#008fe1,#0081ee,#007af5,#0085ea,#009acf,#00d78e,#93d900,#ff4e00,#ff2200,#ff1b00,#ff1300,#ff1800,#ff1f00,#ff2a00 21.25px)"></i>
<i style="background:repeating-linear-gradient(90deg,#ff3700 0,#f48800,#96d800,#3ffd21,#00e978,#00b3b0,#0097d4,#008ae5,#007cf3,#0079f6,#0085eb,#00a1c4,#02f16e,#bac200,#ff4000,#ff2100,#ff1900,#ff1200,#ff1900,#ff2000,#ff3700 21.25px)"></i>
<i style="background:repeating-linear-gradient(90deg,#ff4500 0,#e99900,#7fe600,#2dfe34,#00d98c,#00aab7,#0090e0,#0081ee,#0073fc,#0075fb,#0080ef,#00a5bd,#17f751,#d6ab00,#ff3300,#ff1f00,#ff1800,#ff1300,#ff1a00,#ff2200,#ff4500 21.25px)"></i>
<i style="background:repeating-linear-gradient(90deg,#ff5500 0,#d8a900,#6cf100,#1cf94b,#00c5a3,#00a0c6,#0083ed,#0074fb,#0065ff,#006cff,#0078f8,#00a9b7,#2dfe34,#ef9300,#ff2600,#ff1e00,#ff1600,#ff1500,#ff1c00,#ff2300,#ff5500 21.25px)"></i>
<i style="background:repeating-linear-gradient(90deg,#fd6600 0,#c6bb00,#57f909,#09f363,#00b3b0,#0096d7,#0076fa,#0066ff,#0057ff,#0063ff,#0070ff,#00afb3,#50fa10,#fd6800,#ff2500,#ff1d00,#ff1500,#ff1600,#ff1d00,#ff2500,#fd6600 21.25px)"></i>
<i style="background:repeating-linear-gradient(90deg,#f87900 0,#a6ce00,#3efd22,#00e47e,#00a6bb,#0087e9,#0068ff,#0058ff,#004eff,#005bff,#0078f8,#00b5ae,#73ec00,#ff5700,#ff2300,#ff1b00,#ff1300,#ff1700,#ff1f00,#ff2600,#f87900 21.25px)"></i>
<i style="background:repeating-linear-gradient(90deg,#f38e00 0,#85e200,#27fc3c,#00cd9a,#009ccc,#0071fe,#005aff,#004aff,#0046ff,#0053ff,#0081ee,#00ce98,#a0d200,#ff4700,#ff2100,#ff1900,#ff1100,#ff1900,#ff2000,#ff3800,#f38e00 21.25px)"></i>
<i style="background:repeating-linear-gradient(90deg,#e0a200 0,#68f300,#13f656,#00b9ab,#0091de,#005cff,#004cff,#003cff,#003eff,#004bff,#008ce4,#00ee72,#ceb300,#ff3500,#ff2000,#ff1700,#ff1300,#ff1a00,#ff2200,#ff4b00,#e0a200 21.25px)"></i>
<i style="background:repeating-linear-gradient(90deg,#cbb600 0,#4ffa11,#00ef71,#00a6bb,#007df2,#004eff,#003dff,#002eff,#0035ff,#0043ff,#0093da,#1cf94b,#ee9400,#ff2600,#ff1e00,#ff1500,#ff1400,#ff1c00,#ff2400,#ff5f00,#cbb600 21.25px)"></i>
<i style="background:repeating-linear-gradient(90deg,#accb00 0,#34fe2c,#00d88d,#0099d2,#0068ff,#0040ff,#002fff,#0024ff,#002eff,#003fff,#0099d1,#3efd22,#fc6a00,#ff2500,#ff1c00,#ff1400,#ff1600,#ff1e00,#ff2600,#fa7300,#accb00 21.25px)"></i>
<i style="background:repeating-linear-gradient(90deg,#8bde00 0,#22fa43,#00c4a3,#0090e0,#0056ff,#0036ff,#0028ff,#0022ff,#002bff,#004dff,#00a4bf,#6bf100,#ff5800,#ff2300,#ff1a00,#ff1200,#ff1700,#ff1f00,#ff2b00,#f58600,#8bde00 21.25px)"></i>
<i style="background:repeating-linear-gradient(90deg,#72ed00 0,#13f657,#00b6ae,#0083ed,#0048ff,#0030ff,#0024ff,#0022ff,#002bff,#005fff,#00bea7,#99d600,#ff4700,#ff2100,#ff1800,#ff1000,#ff1900,#ff2100,#ff3d00,#ec9600,#72ed00 21.25px)"></i>
<i style="background:repeating-linear-gradient(90deg,#5af906 0,#05f16a,#00a9b8,#0076f9,#003cff,#002cff,#0020ff,#0022ff,#002bff,#006fff,#00dc88,#c8b900,#ff3600,#ff2000,#ff1700,#ff1200,#ff1a00,#ff2200,#ff4d00,#dba700,#5af906 21.25px)"></i>
<i style="background:repeating-linear-gradient(90deg,#48fc18 0,#00e77b,#009fc7,#006bff,#0037ff,#0029ff,#001cff,#0022ff,#002bff,#007df2,#09f364,#e39f00,#ff2700,#ff1e00,#ff1500,#ff1300,#ff1b00,#ff2300,#ff5c00,#ccb500,#48fc18 21.25px)"></i>
<i style="background:repeating-linear-gradient(90deg,#38fe28 0,#00d98b,#0097d4,#0060ff,#0032ff,#0025ff,#0019ff,#0021ff,#002bff,#008ae6,#20fa45,#f68200,#ff2500,#ff1d00,#ff1400,#ff1400,#ff1c00,#ff2400,#fc6a00,#b8c300,#38fe28 21.25px)"></i>
<i style="background:repeating-linear-gradient(90deg,#2cfe36 0,#00cd9a,#0091de,#0056ff,#002eff,#0022ff,#0017ff,#0021ff,#002eff,#0092dc,#36fe2a,#fc6b00,#ff2400,#ff1b00,#ff1200,#ff1500,#ff1d00,#ff2500,#f97500,#a5ce00,#2cfe36 21.25px)"></i>
<i style="background:repeating-linear-gradient(90deg,#24fb41 0,#00c5a3,#008ae5,#004eff,#002bff,#001fff,#0016ff,#0020ff,#0035ff,#0096d6,#4dfb13,#ff6200,#ff2300,#ff1a00,#ff1100,#ff1500,#ff1e00,#ff2600,#f77e00,#96d800,#24fb41 21.25px)"></i>
<i style="background:repeating-linear-gradient(90deg,#1df949 0,#00bfa7,#0084eb,#0048ff,#0029ff,#001cff,#0015ff,#001fff,#003aff,#009ad0,#5cf904,#ff5d00,#ff2300,#ff1a00,#ff1100,#ff1700,#ff1f00,#ff2800,#f58600,#8adf00,#1df949 21.25px)"></i>
<i style="background:repeating-linear-gradient(90deg,#19f84f 0,#00bbaa,#0080f0,#0043ff,#0027ff,#001aff,#0013ff,#001dff,#003bff,#009ccb,#63f600,#ff5c00,#ff2500,#ff1c00,#ff1300,#ff1800,#ff2100,#ff2e00,#f38b00,#83e300,#19f84f 21.25px)"></i>
<i style="background:repeating-linear-gradient(90deg,#17f751 0,#00b9ab,#007df2,#0041ff,#0025ff,#0018ff,#0012ff,#001cff,#0038ff,#009bcd,#61f800,#ff5f00,#ff2600,#ff1d00,#ff1400,#ff1a00,#ff2200,#ff3100,#f38e00,#81e400,#17f751 21.25px)"></i>
<i style="background:repeating-linear-gradient(90deg,#18f850 0,#00baaa,#007df2,#0041ff,#0024ff,#0017ff,#000fff,#0019ff,#0032ff,#0096d7,#53fa0d,#fe6500,#ff2800,#ff1f00,#ff1600,#ff1b00,#ff2400,#ff2f00,#f38d00,#84e200,#18f850 21.25px)"></i>
<i style="background:repeating-linear-gradient(90deg,#1cf94b 0,#00bea8,#007ff0,#0043ff,#0023ff,#0016ff,#000dff,#0017ff,#002aff,#008fe1,#3dfd23,#fb6e00,#ff2c00,#ff2100,#ff1800,#ff1c00,#ff2400,#ff3000,#f48800,#8cdd00,#1cf94b 21.25px)"></i>
<i style="background:repeating-linear-gradient(90deg,#23fb41 0,#00c5a2,#0086ea,#004aff,#0024ff,#0018ff,#000cff,#0016ff,#0022ff,#0084eb,#26fc3d,#f87a00,#ff2f00,#ff2400,#ff1b00,#ff1d00,#ff2500,#ff3100,#f68000,#9bd400,#23fb41 21.25px)"></i>
<i style="background:repeating-linear-gradient(90deg,#2efe33 0,#00d195,#0092dc,#0055ff,#0029ff,#001cff,#0010ff,#0017ff,#0021ff,#0079f6,#10f55b,#eb9700,#ff3400,#ff2600,#ff1d00,#ff1d00,#ff2500,#ff3100,#f97500,#b0c800,#2efe33 21.25px)"></i>
<i style="background:repeating-linear-gradient(90deg,#3efd22 0,#00e083,#009ccc,#0062ff,#002dff,#0021ff,#0015ff,#0018ff,#0022ff,#006bff,#00e47e,#d0b100,#ff3d00,#ff2a00,#ff2000,#ff1d00,#ff2500,#ff3100,#fd6800,#c7ba00,#3efd22 21.25px)"></i>
<i style="background:repeating-linear-gradient(90deg,#54fa0c 0,#00f070,#00a6bb,#006fff,#0034ff,#0026ff,#0019ff,#0019ff,#0023ff,#005cff,#00c4a3,#a4cf00,#ff5000,#ff2f00,#ff2300,#ff1d00,#ff2500,#ff3100,#ff5900,#d7aa00,#54fa0c 21.25px)"></i>
<i style="background:repeating-linear-gradient(90deg,#6fef00 0,#0ff55c,#00b4af,#007ef2,#0043ff,#002aff,#001eff,#001aff,#0024ff,#004bff,#00a8b8,#72ed00,#fe6400,#ff3400,#ff2700,#ff1e00,#ff2500,#ff3000,#ff4900,#e79b00,#6fef00 21.25px)"></i>
<i style="background:repeating-linear-gradient(90deg,#8adf00 0,#1ffa47,#00c4a3,#008ce4,#0053ff,#002fff,#0024ff,#001bff,#0024ff,#0038ff,#0095d7,#3ffd21,#f87900,#ff3900,#ff2b00,#ff2100,#ff2500,#ff3000,#ff3d00,#f29000,#8adf00 21.25px)"></i>
<i style="background:repeating-linear-gradient(90deg,#abcb00 0,#2fff31,#00d68f,#0098d3,#0063ff,#0036ff,#0029ff,#001dff,#0025ff,#002eff,#0088e8,#16f753,#ea9800,#ff3e00,#ff3100,#ff2500,#ff2500,#ff2f00,#ff3c00,#f77e00,#abcb00 21.25px)"></i>
<i style="background:repeating-linear-gradient(90deg,#cab700 0,#47fc19,#00ea77,#00a4bf,#0073fc,#003eff,#002eff,#0022ff,#0025ff,#002eff,#0074fb,#00e083,#c3bc00,#ff4c00,#ff3600,#ff2800,#ff2400,#ff2f00,#ff3b00,#fc6c00,#cab700 21.25px)"></i>
<i style="background:repeating-linear-gradient(90deg,#dca500 0,#65f500,#0ef45e,#00b6ad,#0089e7,#0052ff,#003cff,#002eff,#002bff,#0036ff,#0067ff,#00bda8,#87e100,#fd6700,#ff4000,#ff3300,#ff2700,#ff3300,#ff3f00,#ff5d00,#dca500 21.25px)"></i>
<i style="background:repeating-linear-gradient(90deg,#e59c00 0,#81e400,#21fa43,#00cd9b,#009acf,#0071fe,#0053ff,#0044ff,#003bff,#0046ff,#0063ff,#00a6bb,#55fa0b,#f58300,#ff4f00,#ff4200,#ff3600,#ff3d00,#ff4800,#ff5400,#e59c00 21.25px)"></i>
<i style="background:repeating-linear-gradient(90deg,#ec9500 0,#9dd300,#36fe2a,#00e77b,#00a8b8,#008ee2,#006aff,#005bff,#004dff,#0057ff,#0062ff,#00a2c2,#2afd39,#e79b00,#ff5d00,#ff5100,#ff4600,#ff4700,#ff5200,#ff5c00,#ec9500 21.25px)"></i>
<i style="background:repeating-linear-gradient(90deg,#f38b00 0,#c1be00,#55fa0b,#12f658,#00c3a4,#009fc6,#0082ee,#0074fb,#0066ff,#0068ff,#0072fd,#009dca,#05f16a,#b3c600,#fa7400,#ff6100,#ff5600,#ff5000,#ff5a00,#fe6500,#f38b00 21.25px)"></i>
<i style="background:repeating-linear-gradient(90deg,#f87b00 0,#d7aa00,#7de700,#2fff31,#00e978,#00b6ad,#009bcd,#008ee2,#007ff1,#0078f7,#0081ee,#0097d4,#00ca9d,#6df000,#ee9400,#fb7000,#fd6600,#ff5b00,#fe6300,#fc6c00,#f87b00 21.25px)"></i>
<i style="background:repeating-linear-gradient(90deg,#f87b00 0,#e59d00,#adca00,#60f800,#23fb42,#00da8a,#00b5ae,#009ec9,#0095d8,#008be5,#0091df,#0095d8,#00baaa,#2fff31,#d4ad00,#f68000,#f97600,#fc6c00,#fc6c00,#fa7400,#f87b00 21.25px)"></i>
<i style="background:repeating-linear-gradient(90deg,#f68000 0,#f29000,#d5ac00,#90db00,#5df803,#1cf94a,#00d98c,#00b1b1,#00a3c1,#009acf,#0099d1,#009dcb,#00b3b0,#09f363,#93d900,#eb9700,#f58500,#f77c00,#f97500,#f77c00,#f68000 21.25px)"></i>
<i style="background:repeating-linear-gradient(90deg,#f58500 0,#f77e00,#ec9600,#cbb600,#94d900,#58f908,#11f559,#00d096,#00b4af,#00a7b9,#00a2c2,#00a6bc,#00b0b2,#00dc88,#60f800,#d9a800,#f09200,#f38c00,#f68300,#f58500,#f58500 21.25px)"></i>
<i style="background:repeating-linear-gradient(90deg,#f28e00 0,#f68200,#f58700,#e59c00,#c2bd00,#84e200,#33ff2d,#00ef71,#00c6a1,#00b8ac,#00afb3,#00b1b1,#00b6ae,#00d98b,#39fe27,#bebf00,#e69c00,#eb9700,#f09200,#f29000,#f28e00 21.25px)"></i>
<i style="background:repeating-linear-gradient(90deg,#ea9800 0,#f29000,#f48700,#ed9400,#ceb300,#9ad500,#51fa0f,#14f656,#00da8a,#00c8a0,#00bea8,#00bbaa,#00bca9,#00d195,#1cf94b,#88e000,#d2b000,#dca500,#e39f00,#e89a00,#ea9800 21.25px)"></i>
<i style="background:repeating-linear-gradient(90deg,#dea400 0,#e49d00,#ec9600,#e69c00,#cbb600,#9cd400,#61f700,#26fc3e,#04f16b,#00df84,#00cd9a,#00bfa7,#00b6ad,#00bbaa,#00e281,#47fc19,#a0d100,#c4bc00,#d1b000,#daa700,#dea400 21.25px)"></i>
<i style="background:repeating-linear-gradient(90deg,#c9b800 0,#ceb300,#d5ac00,#d1b000,#bcc100,#99d600,#72ed00,#49fb17,#29fd39,#18f751,#05f269,#00de86,#00c99f,#00c1a5,#00d591,#20fa45,#70ee00,#97d700,#b1c700,#c2bd00,#c9b800 21.25px)"></i>
<i style="background:repeating-linear-gradient(90deg,#70ee00 0,#74ec00,#79e900,#77ea00,#6ef000,#61f800,#4dfb13,#38fe28,#2afd37,#21fa44,#16f752,#09f365,#00ec75,#00e37f,#00eb76,#15f654,#36fe2a,#50fa10,#61f700,#6bf100,#70ee00 21.25px)"></i>
<i style="background:repeating-linear-gradient(90deg,#54fa0c 0,#55fa0b,#53fa0d,#4efb12,#47fc19,#40fd20,#39fe27,#31ff2f,#2dfe34,#2afd37,#28fc3b,#24fb40,#21fa44,#1ffa46,#21fa44,#28fd3a,#32ff2e,#3dfd23,#46fc1a,#4ffa11,#54fa0c 21.25px)"></i>
<i style="background:repeating-linear-gradient(90deg,#a8cd00 0,#a6ce00,#9cd400,#8edc00,#83e300,#7de700,#78e900,#75eb00,#74ec00,#74ec00,#74ec00,#74ec00,#75ec00,#75eb00,#76eb00,#79e900,#7ee600,#86e100,#93d900,#a1d100,#a8cd00 21.25px)"></i>
<i style="background:repeating-linear-gradient(90deg,#c9b800 0,#c5bb00,#b2c700,#9ad500,#86e100,#7be800,#75eb00,#72ed00,#71ee00,#72ed00,#74ec00,#76eb00,#77ea00,#79e900,#7ae800,#7de700,#84e300,#92da00,#a7cd00,#bdc000,#c9b800 21.25px)"></i>
<i style="background:repeating-linear-gradient(90deg,#cfb200 0,#cbb600,#b4c500,#94d900,#7be800,#6cf100,#63f600,#5ff801,#5ef802,#61f800,#64f600,#68f300,#6bf100,#6df000,#6fef00,#73ed00,#7be800,#8cde00,#a8cd00,#c5bb00,#cfb200 21.25px)"></i>
<i style="background:repeating-linear-gradient(90deg,#cfb200 0,#cbb600,#b3c600,#91da00,#77ea00,#66f400,#5af906,#54fa0c,#53fa0d,#57f909,#5ef802,#64f600,#69f300,#6cf100,#6fef00,#73ed00,#7be800,#8cde00,#a8cd00,#c5bb00,#cfb200 21.25px)"></i>
<i style="background:repeating-linear-gradient(90deg,#c9b800 0,#c4bc00,#aec900,#93d900,#7ce700,#6cf100,#61f700,#5af906,#5af906,#5ff801,#66f500,#6df000,#73ed00,#77ea00,#7ae800,#7de600,#84e200,#92da00,#a8cd00,#bebf00,#c9b800 21.25px)"></i>
<i style="background:repeating-linear-gradient(90deg,#bdc000 0,#b9c300,#abcb00,#98d600,#87e100,#7ae800,#71ee00,#6cf100,#6cf100,#70ef00,#76eb00,#7ee600,#83e300,#88e000,#8bde00,#8edd00,#93da00,#9cd400,#a9cc00,#b6c400,#bdc000 21.25px)"></i>
<i style="background:repeating-linear-gradient(90deg,#b4c600 0,#b1c700,#aacb00,#a0d200,#95d800,#8cde00,#84e200,#81e400,#80e500,#84e300,#89df00,#90db00,#96d800,#9ad500,#9cd400,#9ed300,#a0d100,#a4cf00,#aacb00,#b1c800,#b4c600 21.25px)"></i>
<i style="background:repeating-linear-gradient(90deg,#b0c800 0,#afc900,#accb00,#a7cd00,#a1d100,#9cd400,#97d700,#95d800,#95d800,#97d700,#9bd400,#a0d200,#a3d000,#a6ce00,#a7cd00,#a8cd00,#a9cc00,#aacb00,#adca00,#afc900,#b0c800 21.25px)"></i>
<i style="background:repeating-linear-gradient(90deg,#afc800 0,#afc900,#adc900,#accb00,#a9cc00,#a7cd00,#a4cf00,#a3d000,#a3d000,#a4cf00,#a6ce00,#a9cc00,#aacb00,#acca00,#acca00,#adca00,#adca00,#aec900,#aec900,#afc900,#afc800 21.25px)"></i>
<i style="background:repeating-linear-gradient(90deg,#afc800 0,#afc800,#afc900,#aec900,#adca00,#acca00,#abcb00,#abcb00,#abcb00,#abcb00,#acca00,#adca00,#aec900,#aec900,#afc900,#afc900,#afc900,#afc900,#afc800,#afc800,#afc800 21.25px)"></i>
<i style="background:repeating-linear-gradient(90deg,#afc800 0,#afc800,#afc800,#afc900,#afc900,#aec900,#aec900,#aec900,#aec900,#aec900,#aec900,#afc900,#afc900,#afc800,#afc800,#afc800,#afc800,#afc800,#afc800,#afc800,#afc800 21.25px)"></i>
<i style="height:3px;background:repeating-linear-gradient(90deg,#afc800 0,#afc800,#afc800,#afc800,#afc800,#afc800,#afc800,#afc800,#afc800,#afc800,#afc800,#afc800,#afc800,#afc800,#afc800,#afc800,#afc800,#afc800,#afc800,#afc800,#afc800 21.25px)"></i>
<i style="background:repeating-linear-gradient(90deg,#afc900 0,#afc900,#afc900,#afc900,#afc900,#afc900,#afc900,#afc900,#afc900,#afc900,#afc900,#afc900,#afc900,#afc900,#afc900,#afc900,#afc900,#afc900,#afc900,#afc900,#afc900 21.25px)"></i>
<i style="background:repeating-linear-gradient(90deg,#acca00 0,#acca00,#acca00,#acca00,#acca00,#acca00,#acca00,#acca00,#acca00,#acca00,#acca00,#acca00,#acca00,#acca00,#acca00,#acca00,#acca00,#acca00,#acca00,#acca00,#acca00 21.25px)"></i>
<i style="background:repeating-linear-gradient(90deg,#a5ce00 0,#a5ce00,#a5ce00,#a5ce00,#a5ce00,#a5ce00,#a5ce00,#a5ce00,#a5ce00,#a5ce00,#a5ce00,#a5ce00,#a5ce00,#a5ce00,#a5ce00,#a5ce00,#a5ce00,#a5ce00,#a5ce00,#a5ce00,#a5ce00 21.25px)"></i>
<i style="background:repeating-linear-gradient(90deg,#96d700 0,#96d700,#96d700,#96d700,#96d700,#96d700,#96d700,#96d700,#97d700,#97d700,#97d700,#98d600,#99d600,#9ad500,#9ad500,#9ad500,#99d600,#98d700,#97d700,#97d700,#96d700 21.25px)"></i>
<i style="background:repeating-linear-gradient(90deg,#82e400 0,#81e400,#81e400,#81e400,#81e400,#81e400,#81e400,#82e400,#82e300,#84e200,#88e000,#8edc00,#95d800,#9ad500,#9ad500,#96d700,#90db00,#89df00,#85e200,#83e300,#82e400 21.25px)"></i>
<i style="background:repeating-linear-gradient(90deg,#70ee00 0,#6fef00,#6fef00,#6fef00,#6fef00,#6fef00,#6fef00,#70ee00,#72ed00,#79e900,#84e300,#97d700,#acca00,#bcc100,#bebf00,#b2c700,#9dd300,#88e000,#7be800,#74ec00,#70ee00 21.25px)"></i>
<i style="background:repeating-linear-gradient(90deg,#69f300 0,#67f400,#67f400,#67f400,#67f400,#67f400,#67f400,#68f300,#6cf100,#75eb00,#86e100,#a3d000,#c3bd00,#d2af00,#d4ad00,#c9b800,#acca00,#8ddd00,#79e900,#6eef00,#69f300 21.25px)"></i>
<i style="background:repeating-linear-gradient(90deg,#6fef00 0,#6df000,#6df000,#6df000,#6df000,#6df000,#6df000,#6eef00,#71ee00,#77ea00,#82e300,#95d800,#aacb00,#bac200,#bcc000,#b0c800,#9bd400,#87e100,#7ae900,#72ed00,#6fef00 21.25px)"></i>
<i style="background:repeating-linear-gradient(90deg,#72ed00 0,#72ed00,#72ed00,#72ed00,#72ed00,#72ed00,#72ed00,#72ed00,#73ed00,#75eb00,#78e900,#7ee600,#83e300,#87e000,#88e000,#85e200,#7fe500,#7ae900,#76eb00,#73ec00,#72ed00 21.25px)"></i>
<i style="background:repeating-linear-gradient(90deg,#41fc1f 0,#41fd1f,#41fd1f,#41fd1f,#42fc1e,#42fc1e,#43fc1d,#43fc1d,#43fc1d,#43fc1d,#44fc1c,#45fc1b,#46fc1a,#47fc19,#47fc19,#46fc1a,#45fc1b,#44fc1c,#43fc1d,#42fc1e,#41fc1f 21.25px)"></i>
<i style="background:repeating-linear-gradient(90deg,#00c6a2 0,#00c4a3,#00c4a3,#00c5a2,#00c7a1,#00c99f,#00cb9d,#00cc9b,#00cc9b,#00cd9a,#00cd9a,#00cd9a,#00cd9a,#00cd9a,#00cd9a,#00cd9a,#00cc9b,#00cb9c,#00ca9e,#00c8a0,#00c6a2 21.25px)"></i>
<i style="background:repeating-linear-gradient(90deg,#0094da 0,#008de3,#008be5,#0091de,#0098d3,#009ec8,#00a3c0,#00a6bc,#00a7b9,#00a8b8,#00a9b7,#00a9b7,#00a9b7,#00a9b7,#00a9b8,#00a8b8,#00a7ba,#00a4be,#00a0c5,#009bce,#0094da 21.25px)"></i>
<i style="background:repeating-linear-gradient(90deg,#00b4af 0,#00a0c5,#009dca,#00aab7,#00c5a2,#00e77b,#0ef45e,#1bf84c,#23fb42,#28fc3b,#2bfd37,#2cfe35,#2cfe35,#2bfd36,#29fd3a,#25fb3f,#1efa47,#14f656,#01f06e,#00d393,#00b4af 21.25px)"></i>
<i style="background:repeating-linear-gradient(90deg,#00c7a1 0,#00a1c3,#0099d1,#00abb6,#00dc88,#23fb42,#55fa0b,#74ec00,#87e100,#98d600,#a5ce00,#abcb00,#adca00,#a9cc00,#9fd200,#90db00,#80e500,#6bf100,#44fc1c,#11f559,#00c7a1 21.25px)"></i>
<i style="background:repeating-linear-gradient(90deg,#00c2a4 0,#0098d3,#0085ea,#009bcd,#00c99f,#1bf84c,#56fa0a,#7ce700,#98d600,#bac200,#d2b000,#dba600,#dda500,#d9a800,#ccb500,#aec900,#91db00,#77ea00,#4efb12,#14f656,#00c2a4 21.25px)"></i>
<i style="background:repeating-linear-gradient(90deg,#00c4a3 0,#0097d5,#007df3,#0094d9,#00c0a6,#13f657,#4ffa11,#7ae800,#9fd200,#ceb300,#f09200,#f97500,#fb7000,#f87800,#eb9700,#c8b900,#99d600,#79e900,#52fa0e,#17f752,#00c4a3 21.25px)"></i>
<i style="background:repeating-linear-gradient(90deg,#00c6a1 0,#0098d3,#007bf4,#0092dd,#00bca9,#0ff55b,#4dfb13,#7be800,#a6ce00,#dda500,#fe6300,#ff3600,#ff2e00,#ff3800,#fd6900,#d8a900,#a1d100,#7be800,#54fa0c,#19f84e,#00c6a1 21.25px)"></i>
<i style="background:repeating-linear-gradient(90deg,#00c89f 0,#0099d1,#007bf4,#0091df,#00baab,#0ef45e,#4efb12,#7ee600,#adca00,#e79b00,#ff4400,#ff1700,#ff1100,#ff1800,#ff4700,#e49e00,#a7cd00,#7de700,#56f90a,#1bf94b,#00c89f 21.25px)"></i>
<i style="background:repeating-linear-gradient(90deg,#00cb9d 0,#009ad0,#007bf4,#0090e0,#00b8ac,#0df45e,#50fa10,#83e300,#b5c500,#ec9600,#ff3700,#ff0d00,#ff0600,#ff0e00,#ff3900,#e99900,#abcb00,#7fe600,#58f908,#1df949,#00cb9d 21.25px)"></i>
<i style="background:repeating-linear-gradient(90deg,#00cd9a 0,#009bce,#007bf4,#008fe1,#00b7ad,#0ef45d,#55fa0b,#8bde00,#bfbf00,#f19100,#ff3300,#ff0b00,#ff0500,#ff0d00,#ff3800,#ea9700,#adca00,#80e500,#5af906,#1ffa47,#00cd9a 21.25px)"></i>
<i style="background:repeating-linear-gradient(90deg,#00ce98 0,#009bcd,#007cf4,#008ee2,#00b7ad,#0ff55c,#5cf904,#97d700,#cab800,#f28f00,#ff4100,#ff1900,#ff1400,#ff1e00,#ff4d00,#e59d00,#acca00,#80e500,#5bf905,#20fa46,#00ce98 21.25px)"></i>
<i style="background:repeating-linear-gradient(90deg,#00d097 0,#009ccc,#007cf3,#008ee2,#00b7ad,#12f659,#64f500,#a5ce00,#d3af00,#f28f00,#ff5800,#ff3600,#ff3300,#ff4300,#fb7100,#daa700,#a9cc00,#81e400,#5cf904,#21fa44,#00d097 21.25px)"></i>
<i style="background:repeating-linear-gradient(90deg,#00d195 0,#009dcb,#007cf3,#008de3,#00b7ad,#14f655,#6df000,#b7c400,#dea400,#f48900,#fd6700,#ff5500,#ff5500,#fd6700,#f29000,#d1b000,#a6ce00,#82e400,#5df803,#22fb43,#00d195 21.25px)"></i>
<i style="background:repeating-linear-gradient(90deg,#00d294 0,#009dca,#007df3,#008de3,#00b7ac,#17f751,#76eb00,#c8b900,#eb9700,#f87900,#fe6500,#ff5c00,#ff5f00,#f97500,#eb9700,#cdb400,#a5ce00,#82e300,#5ef802,#23fb42,#00d294 21.25px)"></i>
<i style="background:repeating-linear-gradient(90deg,#00d393 0,#009dca,#007cf3,#008be4,#00b7ad,#19f84e,#7ee600,#d3ae00,#f58400,#fe6200,#ff5400,#ff4e00,#ff5400,#fb6d00,#ed9500,#cfb200,#a8cd00,#84e300,#5ff801,#24fb41,#00d393 21.25px)"></i>
<i style="background:repeating-linear-gradient(90deg,#00d492 0,#009dca,#007af5,#0089e7,#00b5ae,#1af84d,#85e200,#dca500,#fb6f00,#ff4a00,#ff3d00,#ff3900,#ff4000,#ff5b00,#f38b00,#d4ae00,#acca00,#85e200,#60f800,#24fb40,#00d492 21.25px)"></i>
<i style="background:repeating-linear-gradient(90deg,#00d591 0,#009dca,#0079f6,#0086ea,#00b3b0,#1af84d,#8adf00,#e39e00,#ff5d00,#ff3600,#ff2800,#ff2500,#ff2b00,#ff4900,#f77e00,#d9a900,#b0c800,#87e100,#61f700,#25fc3e,#00d591 21.25px)"></i>
<i style="background:repeating-linear-gradient(90deg,#00d78e 0,#009ec9,#0078f8,#0082ee,#00b0b2,#18f850,#8bde00,#e89a00,#ff5200,#ff2800,#ff1e00,#ff1b00,#ff2000,#ff3b00,#fa7200,#dda400,#b4c600,#89e000,#63f600,#27fc3c,#00d78e 21.25px)"></i>
<i style="background:repeating-linear-gradient(90deg,#00d98c 0,#009fc7,#0077f9,#007ef1,#00adb5,#14f655,#89e000,#e99900,#ff4c00,#ff2200,#ff1800,#ff1500,#ff1a00,#ff3000,#fd6900,#e1a100,#b7c300,#8bde00,#65f500,#29fd39,#00d98c 21.25px)"></i>
<i style="background:repeating-linear-gradient(90deg,#00dd87 0,#00a1c4,#0076f9,#0079f6,#00a7b9,#0ef45e,#82e400,#e69c00,#ff4c00,#ff2100,#ff1500,#ff1200,#ff1600,#ff2900,#ff6200,#e59d00,#bcc100,#8edd00,#67f400,#2cfe35,#00dd87 21.25px)"></i>
<i style="background:repeating-linear-gradient(90deg,#00e77b 0,#00a6bc,#0079f6,#0072fd,#00a0c6,#00ef71,#72ed00,#dda500,#ff5600,#ff2300,#ff1600,#ff1200,#ff1400,#ff2400,#ff5800,#eb9700,#c4bc00,#94d900,#6df000,#35fe2b,#00e77b 21.25px)"></i>
<i style="background:repeating-linear-gradient(90deg,#05f269 0,#00b0b2,#0081ee,#006cff,#0096d6,#00d88d,#57f909,#cdb400,#fd6700,#ff2900,#ff1800,#ff1300,#ff1300,#ff2000,#ff4b00,#f38d00,#ccb500,#9dd300,#75eb00,#43fc1d,#05f269 21.25px)"></i>
<i style="background:repeating-linear-gradient(90deg,#15f655 0,#00bfa7,#008ee1,#0068ff,#0087e9,#00c0a6,#31ff2f,#b0c800,#f68100,#ff3a00,#ff1d00,#ff1600,#ff1500,#ff1d00,#ff3f00,#f77e00,#d5ac00,#a8cc00,#7fe600,#52fa0e,#15f655 21.25px)"></i>
<i style="background:repeating-linear-gradient(90deg,#24fb40 0,#00d096,#0098d2,#006aff,#0076f9,#00aab6,#14f656,#88e000,#e79b00,#ff5100,#ff2700,#ff1d00,#ff1a00,#ff1f00,#ff3900,#fb7000,#dea300,#b5c500,#89e000,#62f700,#24fb40 21.25px)"></i>
<i style="background:repeating-linear-gradient(90deg,#33ff2d 0,#00e47e,#00a3c1,#0071fe,#0069ff,#009bcd,#00e77b,#65f500,#d0b100,#fb6f00,#ff3c00,#ff2700,#ff2300,#ff2400,#ff3800,#fd6700,#e69b00,#c2bd00,#94d900,#6df000,#33ff2d 21.25px)"></i>
<i style="background:repeating-linear-gradient(90deg,#44fc1c 0,#06f268,#00afb3,#007cf4,#0062ff,#008fe1,#00ca9d,#3efd22,#b1c700,#f29000,#ff5500,#ff3900,#ff2f00,#ff2f00,#ff3d00,#fe6200,#ed9500,#cbb600,#9ed300,#77ea00,#44fc1c 21.25px)"></i>
<i style="background:repeating-linear-gradient(90deg,#55fa0b 0,#16f753,#00bea7,#008ae5,#0060ff,#007bf5,#00b4af,#1ef948,#8adf00,#dda400,#fb7000,#ff4e00,#ff4000,#ff3d00,#ff4500,#ff6100,#f28f00,#d2af00,#aacc00,#81e400,#55fa0b 21.25px)"></i>
<i style="background:repeating-linear-gradient(90deg,#64f600 0,#25fc3f,#00d096,#0097d5,#0063ff,#006aff,#00a2c3,#02f16e,#68f300,#c8b900,#f38d00,#fe6200,#ff5000,#ff4a00,#ff4c00,#ff5f00,#f58600,#dba700,#b7c400,#8cde00,#64f600 21.25px)"></i>
<i style="background:repeating-linear-gradient(90deg,#70ee00 0,#36fe2a,#00e57d,#00a2c2,#006bff,#005eff,#0093da,#00d392,#41fd1f,#a5cf00,#e39f00,#f97500,#ff5c00,#ff5200,#ff5100,#ff5d00,#f87b00,#e49e00,#c6ba00,#99d500,#70ee00 21.25px)"></i>
<i style="background:repeating-linear-gradient(90deg,#7de600 0,#4afb16,#09f364,#00b1b1,#0079f6,#0058ff,#007ef1,#00baab,#20fa45,#83e300,#d3ae00,#f58600,#fe6400,#ff5500,#ff5200,#ff5700,#fb6d00,#ef9200,#d2af00,#a9cc00,#7de600 21.25px)"></i>
<i style="background:repeating-linear-gradient(90deg,#8bde00 0,#5df803,#1bf94c,#00c3a4,#008ce4,#0058ff,#006aff,#00a5bd,#05f269,#66f400,#c1be00,#ef9300,#fd6800,#ff5300,#ff4d00,#ff4e00,#ff5d00,#f77e00,#e0a200,#bcc000,#8bde00 21.25px)"></i>
<i style="background:repeating-linear-gradient(90deg,#9dd300 0,#6df000,#2cfe35,#00d98c,#009ad0,#005fff,#005bff,#0096d7,#00d88c,#44fc1c,#a6ce00,#e69c00,#fc6b00,#ff4d00,#ff4200,#ff4100,#ff4a00,#fe6500,#f09200,#ceb300,#9dd300 21.25px)"></i>
<i style="background:repeating-linear-gradient(90deg,#b1c700 0,#7ce700,#42fc1e,#00ef71,#00a7ba,#006cff,#0052ff,#0080ef,#00bea8,#25fc3e,#8ade00,#dba600,#fb6f00,#ff4600,#ff3500,#ff3100,#ff3500,#ff4b00,#f97700,#dea400,#b1c700 21.25px)"></i>
<i style="background:repeating-linear-gradient(90deg,#c8b900 0,#8ddd00,#57f909,#13f657,#00b9ac,#007ef2,#0050ff,#006aff,#00a8b8,#0cf460,#71ee00,#cfb200,#f97700,#ff4100,#ff2900,#ff2400,#ff2400,#ff3200,#ff5a00,#ef9300,#c8b900 21.25px)"></i>
<i style="background:repeating-linear-gradient(90deg,#d7ab00 0,#a0d100,#69f300,#25fc3f,#00cd9a,#0092dc,#0056ff,#005aff,#0099d1,#00e182,#54fa0c,#bdc000,#f58400,#ff4100,#ff2200,#ff1b00,#ff1a00,#ff2100,#ff3e00,#f87800,#d7ab00 21.25px)"></i>
<i style="background:repeating-linear-gradient(90deg,#e69c00 0,#b5c500,#79e900,#39fe27,#00e57d,#00a0c5,#0063ff,#0052ff,#0089e7,#00c7a1,#32ff2e,#a1d100,#ee9400,#ff4800,#ff2000,#ff1500,#ff1300,#ff1600,#ff2700,#ff5d00,#e69c00 21.25px)"></i>
<i style="background:repeating-linear-gradient(90deg,#f48a00 0,#c9b800,#89df00,#4ffa11,#0bf361,#00b1b1,#0076f9,#0050ff,#0073fc,#00b1b1,#18f84f,#82e300,#dfa200,#ff5600,#ff2200,#ff1200,#ff0e00,#ff0f00,#ff1c00,#ff4400,#f48a00 21.25px)"></i>
<i style="background:repeating-linear-gradient(90deg,#fa7200 0,#d7ab00,#9dd400,#64f600,#1ffa47,#00c5a2,#008de3,#0055ff,#0063ff,#00a0c6,#00ef72,#65f500,#cdb400,#fc6b00,#ff2800,#ff1300,#ff0d00,#ff0c00,#ff1400,#ff3000,#fa7200 21.25px)"></i>
<i style="background:repeating-linear-gradient(90deg,#ff5c00 0,#e49d00,#b0c800,#74ec00,#31ff2f,#00dd86,#009ccc,#0061ff,#0058ff,#0092dd,#00d294,#41fc1f,#b0c800,#f58600,#ff3800,#ff1700,#ff0d00,#ff0b00,#ff1000,#ff2400,#ff5c00 21.25px)"></i>
<i style="background:repeating-linear-gradient(90deg,#ff4900 0,#f29000,#c4bc00,#84e200,#48fb18,#05f269,#00acb5,#0072fd,#0054ff,#007df3,#00baab,#22fb43,#8edd00,#e69c00,#ff4d00,#ff1e00,#ff1000,#ff0d00,#ff0e00,#ff1d00,#ff4900 21.25px)"></i>
<i style="background:repeating-linear-gradient(90deg,#ff3b00 0,#f77d00,#d1b000,#96d800,#5ef802,#19f84f,#00bfa6,#0088e8,#0056ff,#006bff,#00a6bc,#08f265,#6eef00,#d2af00,#fd6800,#ff2900,#ff1600,#ff1000,#ff1000,#ff1a00,#ff3b00 21.25px)"></i>
<i style="background:repeating-linear-gradient(90deg,#ff3500 0,#fb6e00,#dca600,#a7cd00,#6ef000,#2bfd37,#00d68f,#0098d2,#005fff,#005eff,#0098d3,#00dc87,#4cfb14,#b6c400,#f48700,#ff4100,#ff2000,#ff1800,#ff1600,#ff1c00,#ff3500 21.25px)"></i>
<i style="background:repeating-linear-gradient(90deg,#ff3700 0,#fd6700,#e49e00,#b6c400,#7ce700,#40fd20,#00ed73,#00a6bb,#006eff,#0058ff,#0088e8,#00c3a4,#2afd38,#92da00,#e29f00,#ff5f00,#ff3200,#ff2300,#ff2100,#ff2300,#ff3700 21.25px)"></i>
<i style="background:repeating-linear-gradient(90deg,#ff4200 0,#fd6700,#e99900,#c2bd00,#89e000,#53fa0d,#11f55a,#00b8ac,#0080ef,#0058ff,#0075fa,#00afb3,#12f559,#72ed00,#cdb500,#f68100,#ff4f00,#ff3900,#ff3200,#ff3200,#ff4200 21.25px)"></i>
<i style="background:repeating-linear-gradient(90deg,#ff5400 0,#fb6f00,#ea9800,#c9b800,#95d800,#64f600,#22fb43,#00ca9e,#0093db,#005dff,#0067ff,#00a0c5,#00e978,#53fa0d,#adca00,#e69c00,#fb7000,#ff5600,#ff4d00,#ff4b00,#ff5400 21.25px)"></i>
<i style="background:repeating-linear-gradient(90deg,#fc6a00 0,#f77d00,#e89a00,#ccb500,#9fd200,#71ee00,#33ff2d,#00e182,#009fc6,#0068ff,#005eff,#0094da,#00cf97,#31ff2f,#8adf00,#d0b100,#f09200,#f97500,#fc6a00,#fd6600,#fc6a00 21.25px)"></i>
<i style="background:repeating-linear-gradient(90deg,#f68100 0,#f38d00,#e49e00,#cdb400,#a7ce00,#7ce700,#47fc19,#07f267,#00afb3,#0078f7,#005aff,#0082ed,#00baaa,#19f84e,#6ef000,#b4c500,#dca500,#f09200,#f58500,#f68100,#f68100 21.25px)"></i>
<i style="background:repeating-linear-gradient(90deg,#f09200 0,#ec9600,#e1a100,#ceb300,#adc900,#85e200,#58f908,#18f850,#00c0a6,#008be5,#005dff,#0072fd,#00a8b8,#04f16b,#53fa0d,#98d600,#ccb500,#e1a100,#eb9600,#ef9300,#f09200 21.25px)"></i>
<i style="background:repeating-linear-gradient(90deg,#ed9500 0,#eb9700,#e29f00,#d2af00,#b6c400,#8fdc00,#66f500,#27fc3c,#00d294,#0098d3,#0063ff,#0067ff,#009dca,#00df84,#3afe26,#83e300,#bdc000,#d9a800,#e69c00,#eb9600,#ed9500 21.25px)"></i>
<i style="background:repeating-linear-gradient(90deg,#f38c00 0,#f38e00,#ec9600,#dca500,#c5bb00,#9bd400,#70ee00,#34fe2c,#00e57e,#00a3c1,#0070ff,#0066ff,#0097d5,#00d096,#2afd38,#77ea00,#b5c500,#d9a900,#ea9800,#f29000,#f38c00 21.25px)"></i>
<i style="background:repeating-linear-gradient(90deg,#f97500 0,#f97500,#f68000,#eb9700,#d2af00,#a9cc00,#7ae800,#43fc1d,#04f16b,#00afb3,#0081ee,#006dff,#0095d8,#00c8a0,#22fb43,#70ee00,#b3c600,#dda500,#f38d00,#f87b00,#f97500 21.25px)"></i>
<i style="background:repeating-linear-gradient(90deg,#ff5e00 0,#ff5d00,#fd6800,#f58300,#dea300,#b8c300,#83e300,#4ffa11,#10f55b,#00bca9,#0091de,#0076f9,#0094d9,#00c3a4,#1bf84c,#69f300,#b0c800,#e0a100,#f77f00,#fd6600,#ff5e00 21.25px)"></i>
<i style="background:repeating-linear-gradient(90deg,#ff5400 0,#ff5200,#ff5a00,#f97500,#e79b00,#c3bc00,#8cde00,#5af906,#1bf84c,#00c8a0,#009ad0,#0081ef,#0095d8,#00bfa7,#14f655,#61f700,#a9cc00,#dfa300,#f87b00,#ff5e00,#ff5400 21.25px)"></i>
<i style="background:repeating-linear-gradient(90deg,#ff5600 0,#ff5400,#ff5a00,#fa7100,#ea9800,#c9b800,#93d900,#63f600,#24fb3f,#00d68f,#00a2c1,#008ce3,#0097d5,#00bda8,#0ff55b,#59f907,#9fd200,#d9a800,#f68200,#fe6200,#ff5600 21.25px)"></i>
<i style="background:repeating-linear-gradient(90deg,#ff6200 0,#ff5f00,#fe6300,#f97700,#e99800,#cab700,#98d600,#6af200,#2dfe34,#00e47e,#00adb4,#0096d6,#009bcd,#00bea7,#0df45e,#52fa0e,#95d800,#d2b000,#f29000,#fb6f00,#ff6200 21.25px)"></i>
<i style="background:repeating-linear-gradient(90deg,#f68200 0,#f77f00,#f68200,#f29000,#dfa200,#c6bb00,#9ad500,#71ee00,#3cfd24,#07f267,#00c1a6,#00a5bd,#00a8b9,#00c99f,#13f657,#52fa0e,#8cde00,#c5bb00,#e2a000,#f28e00,#f68200 21.25px)"></i>
<i style="background:repeating-linear-gradient(90deg,#cdb400 0,#cfb200,#ceb300,#c9b800,#bac200,#a2d100,#87e100,#6df000,#49fb17,#1ef948,#00e87a,#00cc9b,#00cd9a,#00eb76,#22fa43,#51fa0f,#79e900,#9bd400,#b8c300,#c8b900,#cdb400 21.25px)"></i>
<i style="background:repeating-linear-gradient(90deg,#2afd38 0,#2bfd37,#2bfd37,#29fd39,#26fc3e,#20fa45,#1af84d,#12f658,#07f267,#00e77b,#00d590,#00c99f,#00c99e,#00d690,#00e87a,#08f365,#14f655,#1ef948,#24fb40,#28fd3a,#2afd38 21.25px)"></i>
<i style="background:repeating-linear-gradient(90deg,#22fb43 0,#22fb43,#22fb43,#22fb43,#21fa44,#20fa45,#1ffa47,#1df949,#1af84d,#16f752,#12f657,#10f55b,#10f55b,#13f657,#17f752,#1af84d,#1df949,#1ffa46,#21fa44,#21fa43,#22fb43 21.25px)"></i>
<i style="background:repeating-linear-gradient(90deg,#96d800 0,#96d800,#96d800,#95d800,#94d900,#93da00,#91da00,#90db00,#8fdc00,#8ddd00,#8cde00,#8bde00,#8bde00,#8cdd00,#8edc00,#8fdc00,#91db00,#92da00,#94d900,#95d800,#96d800 21.25px)"></i>
<i style="background:repeating-linear-gradient(90deg,#c8b900 0,#c8b900,#c8b900,#c4bc00,#c0be00,#bbc100,#b6c400,#b3c600,#b0c800,#aec900,#adca00,#adca00,#adca00,#aec900,#b0c800,#b3c600,#b7c400,#bbc100,#c0be00,#c5bb00,#c8b900 21.25px)"></i>
<i style="background:repeating-linear-gradient(90deg,#e1a100 0,#e39f00,#e1a100,#dba600,#d4ad00,#cdb400,#c5bb00,#bcc000,#b6c400,#b1c700,#aec900,#adca00,#aec900,#b1c700,#b6c400,#bdc000,#c6bb00,#cdb400,#d5ac00,#dca500,#e1a100 21.25px)"></i>
<i style="background:repeating-linear-gradient(90deg,#f09200 0,#f29000,#ef9300,#e89a00,#dea300,#d4ad00,#cbb700,#c0be00,#b7c400,#afc900,#a9cc00,#a5ce00,#a8cd00,#adca00,#b6c400,#c1be00,#cbb600,#d5ac00,#dfa200,#e99900,#f09200 21.25px)"></i>
<i style="background:repeating-linear-gradient(90deg,#e1a000 0,#e39f00,#e1a100,#dca600,#d4ad00,#cdb400,#c5bc00,#bac200,#afc800,#a4cf00,#9ad500,#94d900,#96d700,#9fd200,#acca00,#b8c300,#c5bb00,#cdb400,#d5ac00,#dca500,#e1a000 21.25px)"></i>
<i style="background:repeating-linear-gradient(90deg,#c9b800 0,#cab700,#c9b800,#c7ba00,#c2bd00,#bdc000,#b7c400,#b0c800,#a5cf00,#95d800,#85e200,#7ce700,#7fe600,#8bde00,#9dd300,#acca00,#b6c400,#bdc000,#c2bd00,#c7ba00,#c9b800 21.25px)"></i>
<i style="background:repeating-linear-gradient(90deg,#b7c400 0,#b7c400,#b7c400,#b6c400,#b5c500,#b3c600,#b1c800,#abcb00,#9ed300,#8adf00,#77ea00,#6bf100,#6fef00,#7fe600,#93d900,#a5cf00,#aec900,#b3c600,#b5c500,#b6c400,#b7c400 21.25px)"></i>
<i style="background:repeating-linear-gradient(90deg,#b4c500 0,#b4c500,#b4c500,#b4c500,#b4c600,#b3c600,#b1c700,#acca00,#a0d200,#8cde00,#79e900,#6df000,#70ee00,#80e500,#95d800,#a6ce00,#afc900,#b2c600,#b4c600,#b4c500,#b4c500 21.25px)"></i>
<i style="background:repeating-linear-gradient(90deg,#b7c300 0,#b7c300,#b7c300,#b7c400,#b7c400,#b7c400,#b5c500,#b1c700,#a8cc00,#9ad500,#8adf00,#82e400,#84e200,#91db00,#a1d100,#adc900,#b4c600,#b6c400,#b7c400,#b7c400,#b7c300 21.25px)"></i>
<i style="background:repeating-linear-gradient(90deg,#bcc100 0,#bcc100,#bcc100,#bcc100,#bbc100,#bbc100,#bac200,#b7c300,#b2c600,#abcb00,#a2d000,#9ed300,#a0d200,#a7cd00,#b0c800,#b6c400,#bac200,#bbc100,#bcc100,#bcc100,#bcc100 21.25px)"></i>
<i style="background:repeating-linear-gradient(90deg,#bfbf00 0,#bfbf00,#bfbf00,#bfbf00,#bebf00,#bec000,#bdc000,#bbc100,#b8c300,#b5c500,#b2c700,#b1c700,#b3c600,#b6c400,#bac200,#bdc000,#bebf00,#bebf00,#bfbf00,#bfbf00,#bfbf00 21.25px)"></i>
<i style="background:repeating-linear-gradient(90deg,#bfbf00 0,#bfbf00,#bfbf00,#bebf00,#bebf00,#bdc000,#bbc100,#b8c300,#b6c400,#b4c500,#b4c500,#b6c400,#b8c300,#bbc100,#bdc000,#bebf00,#bebf00,#bfbf00,#bfbf00,#bfbf00,#bfbf00 21.25px)"></i>
<i style="background:repeating-linear-gradient(90deg,#bcc100 0,#bcc100,#bcc100,#bbc100,#bac200,#b8c300,#b4c500,#b0c800,#acca00,#abcb00,#acca00,#b0c800,#b4c500,#b8c300,#bac200,#bbc100,#bbc100,#bcc100,#bcc100,#bcc100,#bcc100 21.25px)"></i>
<i style="background:repeating-linear-gradient(90deg,#b7c300 0,#b7c300,#b7c400,#b6c400,#b5c500,#b1c700,#abcb00,#a3d000,#9dd400,#9ad500,#9dd300,#a4cf00,#accb00,#b1c700,#b5c500,#b6c400,#b7c400,#b7c400,#b7c300,#b7c300,#b7c300 21.25px)"></i>
<i style="background:repeating-linear-gradient(90deg,#b4c600 0,#b4c600,#b3c600,#b2c700,#afc800,#a9cc00,#9fd200,#93d900,#88e000,#85e200,#89df00,#94d900,#a1d100,#aacb00,#b0c800,#b2c700,#b3c600,#b4c600,#b4c600,#b4c600,#b4c600 21.25px)"></i>
<i style="background:repeating-linear-gradient(90deg,#b3c600 0,#b2c700,#b1c700,#afc800,#abcb00,#a2d000,#93d900,#82e400,#74ec00,#6fef00,#75eb00,#84e300,#95d800,#a3d000,#abcb00,#afc800,#b1c700,#b2c700,#b2c600,#b3c600,#b3c600 21.25px)"></i>
<i style="background:repeating-linear-gradient(90deg,#b5c500 0,#b4c600,#b2c700,#aec900,#a8cd00,#9bd500,#87e100,#71ee00,#5df803,#55fa0b,#60f800,#74ec00,#89df00,#9dd300,#a8cc00,#aec900,#b1c700,#b3c600,#b4c500,#b5c500,#b5c500 21.25px)"></i>
<i style="background:repeating-linear-gradient(90deg,#bcc100 0,#b9c200,#b5c500,#afc800,#a6ce00,#95d800,#7de700,#60f800,#3ffd21,#31ff2f,#42fc1e,#64f600,#80e500,#97d700,#a6ce00,#afc900,#b3c600,#b8c300,#bbc100,#bdc000,#bcc100 21.25px)"></i>
<i style="background:repeating-linear-gradient(90deg,#cab700 0,#c6bb00,#bdc000,#b3c600,#a6ce00,#91da00,#75ec00,#4cfb14,#21fa44,#10f55a,#24fb3f,#52fa0e,#78e900,#93d900,#a6ce00,#b1c700,#b9c200,#c2bd00,#c8b900,#cbb600,#cab700 21.25px)"></i>
<i style="background:repeating-linear-gradient(90deg,#daa700 0,#d3ae00,#cab700,#bbc100,#a9cc00,#90db00,#70ee00,#3cfd24,#06f268,#00da8a,#0cf460,#44fc1c,#74ec00,#92da00,#a7cd00,#b6c400,#c3bc00,#ceb300,#d7ab00,#dca600,#daa700 21.25px)"></i>
<i style="background:repeating-linear-gradient(90deg,#ef9300 0,#e49d00,#d5ac00,#c5bb00,#adca00,#92da00,#70ee00,#39fe27,#00ec75,#00c99e,#03f16c,#41fd1f,#74ec00,#93da00,#aacc00,#bcc000,#cdb400,#dca600,#ea9800,#f29000,#ef9300 21.25px)"></i>
<i style="background:repeating-linear-gradient(90deg,#fa7100 0,#f48a00,#e0a100,#ccb500,#b3c600,#96d700,#75eb00,#45fc1b,#0ef45d,#00e37f,#14f656,#4cfb14,#78e900,#96d800,#adc900,#c3bc00,#d5ac00,#e99800,#f77e00,#fc6c00,#fa7100 21.25px)"></i>
<i style="background:repeating-linear-gradient(90deg,#ff5a00 0,#f87800,#e89a00,#d1b000,#b8c300,#9cd400,#7ee600,#5bf905,#2efe32,#1ffa47,#32ff2e,#60f800,#80e500,#9ad500,#b1c800,#c8b900,#dba700,#f29000,#fc6a00,#ff5400,#ff5a00 21.25px)"></i>
<i style="background:repeating-linear-gradient(90deg,#ff5a00 0,#f97800,#e89a00,#d2b000,#bbc100,#a1d100,#87e000,#6eef00,#55fa0b,#4afb16,#58f908,#70ee00,#87e000,#9ed300,#b1c700,#c7ba00,#daa700,#f28f00,#fd6900,#ff5400,#ff5a00 21.25px)"></i>
<i style="background:repeating-linear-gradient(90deg,#fa7300 0,#f38b00,#e2a000,#cfb200,#bac200,#a3d000,#8ddd00,#78ea00,#67f400,#5ef802,#63f600,#71ee00,#80e500,#8fdc00,#9fd200,#b5c500,#cfb200,#e59d00,#f58400,#fb7000,#fa7300 21.25px)"></i>
<i style="background:repeating-linear-gradient(90deg,#d9a800 0,#d9a900,#d3ae00,#c9b800,#b5c500,#98d600,#7de700,#60f800,#3ffd21,#29fd3a,#20fa45,#1ef948,#21fa44,#26fc3d,#32ff2e,#4ffa11,#77ea00,#9cd400,#bdc000,#d1b000,#d9a800 21.25px)"></i>
<i style="background:repeating-linear-gradient(90deg,#95d800 0,#b5c500,#cab700,#c9b800,#aec900,#7be800,#47fc19,#11f559,#00d393,#00afb3,#009dcb,#0090df,#0086ea,#0084eb,#0093db,#00aab6,#00e380,#21fa44,#43fc1d,#6eef00,#95d800 21.25px)"></i>
<i style="background:repeating-linear-gradient(90deg,#ceb300 0,#dda500,#e89a00,#dca500,#afc800,#63f600,#20fa45,#00d392,#00acb5,#0096d7,#0085eb,#0077f9,#0070ff,#0070ff,#008ae6,#00b8ac,#29fd3a,#6fef00,#89df00,#b0c800,#ceb300 21.25px)"></i>
<i style="background:repeating-linear-gradient(90deg,#ff6100 0,#fe6300,#fd6800,#ed9500,#b1c700,#5cf904,#19f84f,#00cd9a,#00aeb4,#009dca,#0097d4,#0092dc,#0096d6,#009ad0,#00bca9,#2fff32,#d2af00,#f38b00,#f87a00,#fd6800,#ff6100 21.25px)"></i>
<i style="background:repeating-linear-gradient(90deg,#ff3d00 0,#ff4700,#ff5100,#f19100,#aacb00,#56fa0a,#14f656,#00ca9e,#00acb5,#009ec9,#0098d3,#0093da,#0099d1,#00a2c1,#00d491,#6fef00,#f68100,#ff5000,#ff4500,#ff3900,#ff3d00 21.25px)"></i>
<i style="background:repeating-linear-gradient(90deg,#ff3100 0,#ff3c00,#ff4c00,#f19100,#a0d200,#4efb12,#0cf45f,#00c5a2,#00a8b9,#009ccc,#0096d6,#0093db,#0098d2,#00a8b9,#00e77b,#91db00,#fd6800,#ff4000,#ff3500,#ff2a00,#ff3100 21.25px)"></i>
<i style="background:repeating-linear-gradient(90deg,#ff2700 0,#ff3100,#ff4b00,#ef9300,#93d900,#45fc1b,#04f16a,#00c1a6,#00a3c0,#009acf,#0094d9,#0093db,#0098d2,#00afb3,#0ff55d,#bac200,#ff5100,#ff3100,#ff2700,#ff2100,#ff2700 21.25px)"></i>
<i style="background:repeating-linear-gradient(90deg,#ff2000 0,#ff2700,#ff4c00,#e89a00,#87e100,#3bfd25,#00ea77,#00bbaa,#009fc7,#0098d2,#0092dd,#0093dc,#0098d2,#00b8ac,#27fc3c,#daa700,#ff3800,#ff2500,#ff1e00,#ff1a00,#ff2000 21.25px)"></i>
<i style="background:repeating-linear-gradient(90deg,#ff1d00 0,#ff2400,#ff5300,#dea400,#7ce700,#2efe32,#00de86,#00b5ae,#009dca,#0096d6,#008fe1,#0092dc,#0098d3,#00c0a6,#47fc19,#f38c00,#ff2600,#ff1f00,#ff1800,#ff1700,#ff1d00 21.25px)"></i>
<i style="background:repeating-linear-gradient(90deg,#ff1e00 0,#ff2500,#ff6100,#d0b100,#6fef00,#22fb43,#00d097,#00adb4,#009bce,#0094da,#008ae6,#0092dc,#0098d3,#00c99f,#67f400,#fe6400,#ff2500,#ff1e00,#ff1700,#ff1800,#ff1e00 21.25px)"></i>
<i style="background:repeating-linear-gradient(90deg,#ff1f00 0,#ff2600,#fb6e00,#bfbf00,#61f800,#15f754,#00c6a1,#00a6bb,#0098d3,#0091de,#0089e7,#0092dd,#009ec9,#00d491,#84e200,#ff5500,#ff2400,#ff1c00,#ff1500,#ff1900,#ff1f00 21.25px)"></i>
<i style="background:repeating-linear-gradient(90deg,#ff2100 0,#ff3100,#f77d00,#a7cd00,#4ffa11,#08f365,#00bfa7,#00a1c4,#0095d7,#008de3,#0088e8,#0092dd,#00a4bf,#00ed74,#abcb00,#ff4700,#ff2200,#ff1b00,#ff1400,#ff1a00,#ff2100 21.25px)"></i>
<i style="background:repeating-linear-gradient(90deg,#ff2200 0,#ff3f00,#f19100,#8fdc00,#3efd22,#00ea77,#00b7ac,#009bce,#0093db,#0088e8,#0087e8,#0091de,#00acb5,#16f753,#cfb200,#ff3900,#ff2100,#ff1900,#ff1400,#ff1b00,#ff2200 21.25px)"></i>
<i style="background:repeating-linear-gradient(90deg,#ff2300 0,#ff4d00,#e29f00,#7de600,#2dfe33,#00db89,#00b0b2,#0097d4,#0090e0,#0083ed,#0087e9,#0091de,#00b4af,#2fff32,#e89a00,#ff2b00,#ff1f00,#ff1800,#ff1500,#ff1c00,#ff2300 21.25px)"></i>
<i style="background:repeating-linear-gradient(90deg,#ff2400 0,#ff5b00,#d4ad00,#6fef00,#21fa44,#00cc9b,#00a8b8,#0095d8,#008be4,#007df2,#0086e9,#0091df,#00bda8,#52fa0e,#f97700,#ff2500,#ff1e00,#ff1600,#ff1600,#ff1d00,#ff2400 21.25px)"></i>
<i style="background:repeating-linear-gradient(90deg,#ff2500 0,#fc6a00,#c4bc00,#61f800,#14f656,#00c2a5,#00a2c1,#0092dc,#0086e9,#007bf5,#0086ea,#0094d9,#00c6a1,#72ed00,#ff5b00,#ff2400,#ff1c00,#ff1500,#ff1700,#ff1e00,#ff2500 21.25px)"></i>
<i style="background:repeating-linear-gradient(90deg,#ff2a00 0,#f97800,#adca00,#50fa10,#07f267,#00bbaa,#009dcb,#008fe1,#0081ee,#007af5,#0085ea,#009acf,#00d78e,#93d900,#ff4e00,#ff2200,#ff1b00,#ff1300,#ff1800,#ff1f00,#ff2a00 21.25px)"></i>
<i style="background:repeating-linear-gradient(90deg,#ff3700 0,#f48800,#96d800,#3ffd21,#00e978,#00b3b0,#0097d4,#008ae5,#007cf3,#0079f6,#0085eb,#00a1c4,#02f16e,#bac200,#ff4000,#ff2100,#ff1900,#ff1200,#ff1900,#ff2000,#ff3700 21.25px)"></i>
<i style="background:repeating-linear-gradient(90deg,#ff4500 0,#e99900,#7fe600,#2dfe34,#00d98c,#00aab7,#0090e0,#0081ee,#0073fc,#0075fb,#0080ef,#00a5bd,#17f751,#d6ab00,#ff3300,#ff1f00,#ff1800,#ff1300,#ff1a00,#ff2200,#ff4500 21.25px)"></i>
<i style="background:repeating-linear-gradient(90deg,#ff5500 0,#d8a900,#6cf100,#1cf94b,#00c5a3,#00a0c6,#0083ed,#0074fb,#0065ff,#006cff,#0078f8,#00a9b7,#2dfe34,#ef9300,#ff2600,#ff1e00,#ff1600,#ff1500,#ff1c00,#ff2300,#ff5500 21.25px)"></i>
<i style="background:repeating-linear-gradient(90deg,#fd6600 0,#c6bb00,#57f909,#09f363,#00b3b0,#0096d7,#0076fa,#0066ff,#0057ff,#0063ff,#0070ff,#00afb3,#50fa10,#fd6800,#ff2500,#ff1d00,#ff1500,#ff1600,#ff1d00,#ff2500,#fd6600 21.25px)"></i>
<i style="background:repeating-linear-gradient(90deg,#f87900 0,#a6ce00,#3efd22,#00e47e,#00a6bb,#0087e9,#0068ff,#0058ff,#004eff,#005bff,#0078f8,#00b5ae,#73ec00,#ff5700,#ff2300,#ff1b00,#ff1300,#ff1700,#ff1f00,#ff2600,#f87900 21.25px)"></i>
<i style="background:repeating-linear-gradient(90deg,#f38e00 0,#85e200,#27fc3c,#00cd9a,#009ccc,#0071fe,#005aff,#004aff,#0046ff,#0053ff,#0081ee,#00ce98,#a0d200,#ff4700,#ff2100,#ff1900,#ff1100,#ff1900,#ff2000,#ff3800,#f38e00 21.25px)"></i>
<i style="background:repeating-linear-gradient(90deg,#e0a200 0,#68f300,#13f656,#00b9ab,#0091de,#005cff,#004cff,#003cff,#003eff,#004bff,#008ce4,#00ee72,#ceb300,#ff3500,#ff2000,#ff1700,#ff1300,#ff1a00,#ff2200,#ff4b00,#e0a200 21.25px)"></i>
<i style="background:repeating-linear-gradient(90deg,#cbb600 0,#4ffa11,#00ef71,#00a6bb,#007df2,#004eff,#003dff,#002eff,#0035ff,#0043ff,#0093da,#1cf94b,#ee9400,#ff2600,#ff1e00,#ff1500,#ff1400,#ff1c00,#ff2400,#ff5f00,#cbb600 21.25px)"></i>
<i style="background:repeating-linear-gradient(90deg,#accb00 0,#34fe2c,#00d88d,#0099d2,#0068ff,#0040ff,#002fff,#0024ff,#002eff,#003fff,#0099d1,#3efd22,#fc6a00,#ff2500,#ff1c00,#ff1400,#ff1600,#ff1e00,#ff2600,#fa7300,#accb00 21.25px)"></i>
<i style="background:repeating-linear-gradient(90deg,#8bde00 0,#22fa43,#00c4a3,#0090e0,#0056ff,#0036ff,#0028ff,#0022ff,#002bff,#004dff,#00a4bf,#6bf100,#ff5800,#ff2300,#ff1a00,#ff1200,#ff1700,#ff1f00,#ff2b00,#f58600,#8bde00 21.25px)"></i>
<i style="background:repeating-linear-gradient(90deg,#72ed00 0,#13f657,#00b6ae,#0083ed,#0048ff,#0030ff,#0024ff,#0022ff,#002bff,#005fff,#00bea7,#99d600,#ff4700,#ff2100,#ff1800,#ff1000,#ff1900,#ff2100,#ff3d00,#ec9600,#72ed00 21.25px)"></i>
<i style="background:repeating-linear-gradient(90deg,#5af906 0,#05f16a,#00a9b8,#0076f9,#003cff,#002cff,#0020ff,#0022ff,#002bff,#006fff,#00dc88,#c8b900,#ff3600,#ff2000,#ff1700,#ff1200,#ff1a00,#ff2200,#ff4d00,#dba700,#5af906 21.25px)"></i>
<i style="background:repeating-linear-gradient(90deg,#48fc18 0,#00e77b,#009fc7,#006bff,#0037ff,#0029ff,#001cff,#0022ff,#002bff,#007df2,#09f364,#e39f00,#ff2700,#ff1e00,#ff1500,#ff1300,#ff1b00,#ff2300,#ff5c00,#ccb500,#48fc18 21.25px)"></i>
<i style="background:repeating-linear-gradient(90deg,#38fe28 0,#00d98b,#0097d4,#0060ff,#0032ff,#0025ff,#0019ff,#0021ff,#002bff,#008ae6,#20fa45,#f68200,#ff2500,#ff1d00,#ff1400,#ff1400,#ff1c00,#ff2400,#fc6a00,#b8c300,#38fe28 21.25px)"></i>
<i style="background:repeating-linear-gradient(90deg,#2cfe36 0,#00cd9a,#0091de,#0056ff,#002eff,#0022ff,#0017ff,#0021ff,#002eff,#0092dc,#36fe2a,#fc6b00,#ff2400,#ff1b00,#ff1200,#ff1500,#ff1d00,#ff2500,#f97500,#a5ce00,#2cfe36 21.25px)"></i>
<i style="background:repeating-linear-gradient(90deg,#24fb41 0,#00c5a3,#008ae5,#004eff,#002bff,#001fff,#0016ff,#0020ff,#0035ff,#0096d6,#4dfb13,#ff6200,#ff2300,#ff1a00,#ff1100,#ff1500,#ff1e00,#ff2600,#f77e00,#96d800,#24fb41 21.25px)"></i>
<i style="background:repeating-linear-gradient(90deg,#1df949 0,#00bfa7,#0084eb,#0048ff,#0029ff,#001cff,#0015ff,#001fff,#003aff,#009ad0,#5cf904,#ff5d00,#ff2300,#ff1a00,#ff1100,#ff1700,#ff1f00,#ff2800,#f58600,#8adf00,#1df949 21.25px)"></i>
<i style="background:repeating-linear-gradient(90deg,#19f84f 0,#00bbaa,#0080f0,#0043ff,#0027ff,#001aff,#0013ff,#001dff,#003bff,#009ccb,#63f600,#ff5c00,#ff2500,#ff1c00,#ff1300,#ff1800,#ff2100,#ff2e00,#f38b00,#83e300,#19f84f 21.25px)"></i>
<i style="background:repeating-linear-gradient(90deg,#17f751 0,#00b9ab,#007df2,#0041ff,#0025ff,#0018ff,#0012ff,#001cff,#0038ff,#009bcd,#61f800,#ff5f00,#ff2600,#ff1d00,#ff1400,#ff1a00,#ff2200,#ff3100,#f38e00,#81e400,#17f751 21.25px)"></i>
<i style="background:repeating-linear-gradient(90deg,#18f850 0,#00baaa,#007df2,#0041ff,#0024ff,#0017ff,#000fff,#0019ff,#0032ff,#0096d7,#53fa0d,#fe6500,#ff2800,#ff1f00,#ff1600,#ff1b00,#ff2400,#ff2f00,#f38d00,#84e200,#18f850 21.25px)"></i>
<i style="background:repeating-linear-gradient(90deg,#1cf94b 0,#00bea8,#007ff0,#0043ff,#0023ff,#0016ff,#000dff,#0017ff,#002aff,#008fe1,#3dfd23,#fb6e00,#ff2c00,#ff2100,#ff1800,#ff1c00,#ff2400,#ff3000,#f48800,#8cdd00,#1cf94b 21.25px)"></i>
<i style="background:repeating-linear-gradient(90deg,#23fb41 0,#00c5a2,#0086ea,#004aff,#0024ff,#0018ff,#000cff,#0016ff,#0022ff,#0084eb,#26fc3d,#f87a00,#ff2f00,#ff2400,#ff1b00,#ff1d00,#ff2500,#ff3100,#f68000,#9bd400,#23fb41 21.25px)"></i>
<i style="background:repeating-linear-gradient(90deg,#2efe33 0,#00d195,#0092dc,#0055ff,#0029ff,#001cff,#0010ff,#0017ff,#0021ff,#0079f6,#10f55b,#eb9700,#ff3400,#ff2600,#ff1d00,#ff1d00,#ff2500,#ff3100,#f97500,#b0c800,#2efe33 21.25px)"></i>
<i style="background:repeating-linear-gradient(90deg,#3efd22 0,#00e083,#009ccc,#0062ff,#002dff,#0021ff,#0015ff,#0018ff,#0022ff,#006bff,#00e47e,#d0b100,#ff3d00,#ff2a00,#ff2000,#ff1d00,#ff2500,#ff3100,#fd6800,#c7ba00,#3efd22 21.25px)"></i>
<i style="background:repeating-linear-gradient(90deg,#54fa0c 0,#00f070,#00a6bb,#006fff,#0034ff,#0026ff,#0019ff,#0019ff,#0023ff,#005cff,#00c4a3,#a4cf00,#ff5000,#ff2f00,#ff2300,#ff1d00,#ff2500,#ff3100,#ff5900,#d7aa00,#54fa0c 21.25px)"></i>
<i style="background:repeating-linear-gradient(90deg,#6fef00 0,#0ff55c,#00b4af,#007ef2,#0043ff,#002aff,#001eff,#001aff,#0024ff,#004bff,#00a8b8,#72ed00,#fe6400,#ff3400,#ff2700,#ff1e00,#ff2500,#ff3000,#ff4900,#e79b00,#6fef00 21.25px)"></i>
<i style="background:repeating-linear-gradient(90deg,#8adf00 0,#1ffa47,#00c4a3,#008ce4,#0053ff,#002fff,#0024ff,#001bff,#0024ff,#0038ff,#0095d7,#3ffd21,#f87900,#ff3900,#ff2b00,#ff2100,#ff2500,#ff3000,#ff3d00,#f29000,#8adf00 21.25px)"></i>
<i style="background:repeating-linear-gradient(90deg,#abcb00 0,#2fff31,#00d68f,#0098d3,#0063ff,#0036ff,#0029ff,#001dff,#0025ff,#002eff,#0088e8,#16f753,#ea9800,#ff3e00,#ff3100,#ff2500,#ff2500,#ff2f00,#ff3c00,#f77e00,#abcb00 21.25px)"></i>
<i style="background:repeating-linear-gradient(90deg,#cab700 0,#47fc19,#00ea77,#00a4bf,#0073fc,#003eff,#002eff,#0022ff,#0025ff,#002eff,#0074fb,#00e083,#c3bc00,#ff4c00,#ff3600,#ff2800,#ff2400,#ff2f00,#ff3b00,#fc6c00,#cab700 21.25px)"></i>
<i style="background:repeating-linear-gradient(90deg,#dca500 0,#65f500,#0ef45e,#00b6ad,#0089e7,#0052ff,#003cff,#002eff,#002bff,#0036ff,#0067ff,#00bda8,#87e100,#fd6700,#ff4000,#ff3300,#ff2700,#ff3300,#ff3f00,#ff5d00,#dca500 21.25px)"></i>
<i style="background:repeating-linear-gradient(90deg,#e59c00 0,#81e400,#21fa43,#00cd9b,#009acf,#0071fe,#0053ff,#0044ff,#003bff,#0046ff,#0063ff,#00a6bb,#55fa0b,#f58300,#ff4f00,#ff4200,#ff3600,#ff3d00,#ff4800,#ff5400,#e59c00 21.25px)"></i>
<i style="background:repeating-linear-gradient(90deg,#ec9500 0,#9dd300,#36fe2a,#00e77b,#00a8b8,#008ee2,#006aff,#005bff,#004dff,#0057ff,#0062ff,#00a2c2,#2afd39,#e79b00,#ff5d00,#ff5100,#ff4600,#ff4700,#ff5200,#ff5c00,#ec9500 21.25px)"></i>
<i style="background:repeating-linear-gradient(90deg,#f38b00 0,#c1be00,#55fa0b,#12f658,#00c3a4,#009fc6,#0082ee,#0074fb,#0066ff,#0068ff,#0072fd,#009dca,#05f16a,#b3c600,#fa7400,#ff6100,#ff5600,#ff5000,#ff5a00,#fe6500,#f38b00 21.25px)"></i>
<i style="background:repeating-linear-gradient(90deg,#f87b00 0,#d7aa00,#7de700,#2fff31,#00e978,#00b6ad,#009bcd,#008ee2,#007ff1,#0078f7,#0081ee,#0097d4,#00ca9d,#6df000,#ee9400,#fb7000,#fd6600,#ff5b00,#fe6300,#fc6c00,#f87b00 21.25px)"></i>
<i style="background:repeating-linear-gradient(90deg,#f87b00 0,#e59d00,#adca00,#60f800,#23fb42,#00da8a,#00b5ae,#009ec9,#0095d8,#008be5,#0091df,#0095d8,#00baaa,#2fff31,#d4ad00,#f68000,#f97600,#fc6c00,#fc6c00,#fa7400,#f87b00 21.25px)"></i>
<i style="background:repeating-linear-gradient(90deg,#f68000 0,#f29000,#d5ac00,#90db00,#5df803,#1cf94a,#00d98c,#00b1b1,#00a3c1,#009acf,#0099d1,#009dcb,#00b3b0,#09f363,#93d900,#eb9700,#f58500,#f77c00,#f97500,#f77c00,#f68000 21.25px)"></i>
<i style="background:repeating-linear-gradient(90deg,#f58500 0,#f77e00,#ec9600,#cbb600,#94d900,#58f908,#11f559,#00d096,#00b4af,#00a7b9,#00a2c2,#00a6bc,#00b0b2,#00dc88,#60f800,#d9a800,#f09200,#f38c00,#f68300,#f58500,#f58500 21.25px)"></i>
<i style="background:repeating-linear-gradient(90deg,#f28e00 0,#f68200,#f58700,#e59c00,#c2bd00,#84e200,#33ff2d,#00ef71,#00c6a1,#00b8ac,#00afb3,#00b1b1,#00b6ae,#00d98b,#39fe27,#bebf00,#e69c00,#eb9700,#f09200,#f29000,#f28e00 21.25px)"></i>
<i style="background:repeating-linear-gradient(90deg,#ea9700 0,#f28f00,#f58700,#ee9400,#ceb300,#9ad500,#51fa0f,#14f656,#00da8a,#00c8a0,#00bea8,#00bbaa,#00bca9,#00d195,#1cf94b,#88e000,#d2b000,#dca500,#e39e00,#e89900,#ea9700 21.25px)"></i>
<i style="background:repeating-linear-gradient(90deg,#e0a100 0,#e79b00,#ef9300,#e89a00,#ccb500,#9dd300,#61f700,#26fc3e,#04f16b,#00df85,#00cd9b,#00bfa7,#00b6ad,#00bbaa,#00e281,#47fc19,#a1d100,#c5bb00,#d2af00,#dca500,#e0a100 21.25px)"></i>
<i style="background:repeating-linear-gradient(90deg,#daa800 0,#e0a200,#e69c00,#dea400,#c9b800,#a2d000,#77ea00,#4dfb13,#2cfe35,#1af84e,#07f266,#00e083,#00cb9c,#00c3a4,#00d88d,#23fb41,#75eb00,#a1d100,#c0be00,#d2b000,#daa800 21.25px)"></i>
<i style="background:repeating-linear-gradient(90deg,#d4ae00 0,#daa800,#daa700,#d1b000,#bebf00,#a2d000,#88e000,#73ed00,#64f500,#57f909,#47fc19,#34fe2c,#26fc3d,#1ffa47,#26fc3e,#47fc19,#74ec00,#92da00,#afc900,#c8b900,#d4ae00 21.25px)"></i>
<i style="background:repeating-linear-gradient(90deg,#a9cc00 0,#b0c800,#adca00,#a1d100,#90db00,#80e500,#75eb00,#6cf100,#67f400,#63f600,#5ff801,#5af906,#55fa0b,#52fa0e,#55fa0b,#60f800,#6df000,#7ae900,#88e000,#9ad500,#a9cc00 21.25px)"></i>
<i style="background:repeating-linear-gradient(90deg,#73ed00 0,#76eb00,#74ec00,#6ef000,#66f400,#60f800,#5af906,#56fa0a,#53fa0d,#52fa0e,#51fa0f,#51fa0f,#50fa10,#50fa10,#51fa0f,#54fa0c,#58f908,#5ef802,#65f500,#6cf100,#73ed00 21.25px)"></i>
<i style="background:repeating-linear-gradient(90deg,#61f700 0,#62f700,#61f700,#5ef802,#5bf905,#58f908,#56f90a,#54fa0c,#53fa0d,#52fa0e,#52fa0e,#52fa0e,#52fa0e,#53fa0d,#54fa0c,#54fa0c,#56fa0a,#58f908,#5bf905,#5ef802,#61f700 21.25px)"></i>
<i style="background:repeating-linear-gradient(90deg,#70ef00 0,#70ee00,#70ee00,#6fef00,#6eef00,#6ef000,#6df000,#6cf100,#6af200,#68f300,#67f400,#67f400,#69f300,#6af200,#6cf100,#6df000,#6df000,#6ef000,#6eef00,#6fef00,#70ef00 21.25px)"></i>
<i style="background:repeating-linear-gradient(90deg,#8adf00 0,#8adf00,#8adf00,#8adf00,#8adf00,#89df00,#88e000,#86e100,#83e300,#7fe600,#7ce700,#7ce700,#80e500,#84e300,#87e100,#89e000,#8adf00,#8adf00,#8adf00,#8adf00,#8adf00 21.25px)"></i>
<i style="background:repeating-linear-gradient(90deg,#a1d100 0,#a1d100,#a1d100,#a1d100,#a1d100,#a0d100,#9ed300,#99d600,#91da00,#88e000,#83e300,#84e200,#8bde00,#94d900,#9bd500,#9fd200,#a0d100,#a1d100,#a1d100,#a1d100,#a1d100 21.25px)"></i>
<i style="background:repeating-linear-gradient(90deg,#abcb00 0,#abcb00,#abcb00,#abcb00,#abcb00,#aacb00,#a7cd00,#9fd200,#93d900,#85e200,#7de700,#7fe600,#88e000,#97d700,#a2d000,#a8cd00,#aacb00,#abcb00,#abcb00,#abcb00,#abcb00 21.25px)"></i>
<i style="background:repeating-linear-gradient(90deg,#afc900 0,#afc900,#afc900,#aec900,#aec900,#adca00,#a9cc00,#a0d200,#90db00,#7fe500,#76eb00,#77ea00,#84e300,#95d800,#a3d000,#aacb00,#adc900,#aec900,#afc900,#afc900,#afc900 21.25px)"></i>
<i style="background:repeating-linear-gradient(90deg,#afc800 0,#afc800,#afc800,#afc800,#afc900,#aec900,#aacc00,#a0d100,#91db00,#80e500,#76eb00,#78ea00,#84e200,#96d800,#a4cf00,#abcb00,#aec900,#afc800,#afc800,#afc800,#afc800 21.25px)"></i>
<i style="background:repeating-linear-gradient(90deg,#afc800 0,#afc800,#afc800,#afc800,#afc800,#aec900,#abcb00,#a3cf00,#97d700,#88e000,#80e500,#82e400,#8cdd00,#9bd500,#a6ce00,#acca00,#aec900,#afc800,#afc800,#afc800,#afc800 21.25px)"></i>
<i style="background:repeating-linear-gradient(90deg,#afc800 0,#afc800,#afc800,#afc800,#afc800,#afc900,#acca00,#a8cd00,#a0d200,#96d700,#90db00,#92da00,#99d600,#a2d000,#a9cc00,#adca00,#afc900,#afc800,#afc800,#afc800,#afc800 21.25px)"></i>
<i style="background:repeating-linear-gradient(90deg,#afc800 0,#afc800,#afc800,#afc800,#afc800,#afc900,#aec900,#abcb00,#a7cd00,#a3d000,#9fd200,#a0d100,#a4cf00,#a9cc00,#acca00,#aec900,#afc800,#afc800,#afc800,#afc800,#afc800 21.25px)"></i>
<i style="background:repeating-linear-gradient(90deg,#afc800 0,#afc800,#afc800,#afc800,#afc800,#afc800,#afc900,#aec900,#acca00,#aacb00,#a9cc00,#a9cc00,#abcb00,#adca00,#aec900,#afc900,#afc800,#afc800,#afc800,#afc800,#afc800 21.25px)"></i>
<i style="background:repeating-linear-gradient(90deg,#afc800 0,#afc800,#afc800,#afc800,#afc800,#afc800,#afc800,#afc900,#aec900,#adc900,#adca00,#adca00,#aec900,#aec900,#afc900,#afc800,#afc800,#afc800,#afc800,#afc800,#afc800 21.25px)"></i>
<i style="background:repeating-linear-gradient(90deg,#afc900 0,#afc900,#afc900,#afc900,#afc900,#afc900,#afc900,#afc900,#aec900,#aec900,#aec900,#aec900,#aec900,#aec900,#afc900,#afc900,#afc900,#afc900,#afc900,#afc900,#afc900 21.25px)"></i>
<i style="background:repeating-linear-gradient(90deg,#adca00 0,#adca00,#adca00,#adca00,#adca00,#adca00,#adca00,#adca00,#adca00,#adca00,#adca00,#adca00,#adca00,#adca00,#adca00,#adca00,#adca00,#adca00,#adca00,#adca00,#adca00 21.25px)"></i>
<i style="background:repeating-linear-gradient(90deg,#a7cd00 0,#a7cd00,#a7cd00,#a7cd00,#a7cd00,#a7cd00,#a7cd00,#a7cd00,#a7cd00,#a7cd00,#a7cd00,#a7cd00,#a7cd00,#a7cd00,#a7cd00,#a7cd00,#a7cd00,#a7cd00,#a7cd00,#a7cd00,#a7cd00 21.25px)"></i>
<i style="background:repeating-linear-gradient(90deg,#9bd400 0,#9bd400,#9bd400,#9bd400,#9bd400,#9bd400,#9bd400,#9bd400,#9bd400,#9bd400,#9bd400,#9bd400,#9bd400,#9bd400,#9bd400,#9bd400,#9bd400,#9bd400,#9bd400,#9bd400,#9bd400 21.25px)"></i>
<i style="background:repeating-linear-gradient(90deg,#88e000 0,#88e000,#88e000,#88e000,#88e000,#88e000,#88e000,#88e000,#88e000,#88e000,#89df00,#8adf00,#8bde00,#8bde00,#8cde00,#8cde00,#8bde00,#8adf00,#89df00,#88e000,#88e000 21.25px)"></i>
<i style="background:repeating-linear-gradient(90deg,#76eb00 0,#76eb00,#75eb00,#75eb00,#75eb00,#75eb00,#75eb00,#76eb00,#76eb00,#77ea00,#7ae800,#7fe600,#84e200,#8adf00,#8cdd00,#8bde00,#86e100,#80e500,#7be800,#78ea00,#76eb00 21.25px)"></i>
<i style="background:repeating-linear-gradient(90deg,#6bf100 0,#69f200,#69f300,#69f300,#69f300,#69f300,#69f300,#69f200,#6bf200,#6fef00,#78ea00,#86e100,#9bd400,#afc900,#b8c300,#b2c700,#a0d100,#8adf00,#7ae800,#71ee00,#6bf100 21.25px)"></i>
<i style="background:repeating-linear-gradient(90deg,#6df000 0,#6af200,#69f300,#69f300,#68f300,#69f300,#69f300,#69f200,#6cf100,#72ed00,#7fe500,#96d700,#b6c400,#ceb300,#d7ab00,#d1b000,#bec000,#9dd300,#83e300,#74ec00,#6df000 21.25px)"></i>
<i style="background:repeating-linear-gradient(90deg,#78ea00 0,#76eb00,#75eb00,#75eb00,#75eb00,#75eb00,#75eb00,#76eb00,#77ea00,#7ce700,#84e200,#94d800,#aacb00,#bec000,#c7ba00,#c1be00,#afc800,#99d600,#87e100,#7de700,#78ea00 21.25px)"></i>
<i style="background:repeating-linear-gradient(90deg,#85e200 0,#84e200,#84e300,#84e300,#84e300,#84e300,#84e300,#84e200,#84e200,#86e100,#88e000,#8edd00,#94d900,#9ad500,#9dd300,#9bd400,#96d800,#8fdc00,#89df00,#86e100,#85e200 21.25px)"></i>
<i style="background:repeating-linear-gradient(90deg,#78e900 0,#78e900,#78e900,#78e900,#79e900,#79e900,#79e900,#79e900,#79e900,#79e900,#79e900,#7ae800,#7be800,#7be800,#7ce700,#7ce700,#7be800,#7ae800,#79e900,#79e900,#78e900 21.25px)"></i>
<i style="background:repeating-linear-gradient(90deg,#21fa44 0,#21fa44,#21fa44,#22fb43,#22fb43,#22fb42,#23fb42,#23fb42,#23fb42,#23fb42,#23fb42,#23fb42,#23fb42,#23fb42,#23fb42,#23fb42,#23fb42,#22fb42,#22fb43,#21fa43,#21fa44 21.25px)"></i>
<i style="background:repeating-linear-gradient(90deg,#00a5bd 0,#00a5bd,#00a6bc,#00a7b9,#00a9b7,#00aab6,#00abb6,#00abb5,#00acb5,#00acb5,#00acb5,#00acb5,#00acb5,#00acb5,#00abb5,#00abb6,#00abb6,#00a9b7,#00a8b8,#00a6bb,#00a5bd 21.25px)"></i>
<i style="background:repeating-linear-gradient(90deg,#0093db 0,#0092dd,#0096d7,#009ccc,#00a2c1,#00a7b9,#00abb6,#00adb4,#00aeb3,#00afb3,#00afb3,#00afb3,#00afb3,#00aeb3,#00aeb4,#00acb5,#00a9b7,#00a5bd,#009fc6,#0099d2,#0093db 21.25px)"></i>
<i style="background:repeating-linear-gradient(90deg,#00b4af 0,#00aeb3,#00bda8,#00dd87,#0ef45e,#24fb40,#33ff2d,#3efd22,#45fc1b,#49fb17,#4cfb14,#4cfb14,#4bfb15,#48fb18,#42fc1e,#39fe27,#2cfe35,#1af84d,#00ef71,#00cb9d,#00b4af 21.25px)"></i>
<i style="background:repeating-linear-gradient(90deg,#00a3c0 0,#009ccb,#00b2b1,#00e67d,#2bfd37,#5ff801,#7be800,#8ddd00,#9cd400,#aacc00,#b2c700,#b4c600,#b1c700,#a9cc00,#9ad500,#86e100,#70ee00,#48fc18,#13f657,#00c8a0,#00a3c0 21.25px)"></i>
<i style="background:repeating-linear-gradient(90deg,#0093da 0,#0086e9,#00a0c5,#00d590,#24fb40,#5ff801,#7fe500,#97d700,#b3c600,#ceb300,#daa800,#dca500,#daa800,#cfb200,#b4c500,#91da00,#73ed00,#44fc1c,#0af363,#00b9ab,#0093da 21.25px)"></i>
<i style="background:repeating-linear-gradient(90deg,#008ee2 0,#007cf3,#009ccc,#00cf97,#21fa44,#5df803,#80e500,#9dd300,#c8b900,#ea9800,#f87900,#fa7200,#f97800,#ee9300,#ccb500,#99d600,#72ed00,#42fc1e,#07f267,#00b4af,#008ee2 21.25px)"></i>
<i style="background:repeating-linear-gradient(90deg,#008ce4 0,#007af6,#009bce,#00ce99,#21fa44,#5ef802,#82e400,#a4cf00,#d6ab00,#fb6f00,#ff3b00,#ff3100,#ff3900,#fe6300,#dda500,#a0d100,#73ec00,#42fc1e,#06f268,#00b4af,#008ce4 21.25px)"></i>
<i style="background:repeating-linear-gradient(90deg,#008ce4 0,#0079f6,#009acf,#00ce99,#22fb43,#61f700,#86e100,#acca00,#e0a200,#ff5100,#ff1b00,#ff1400,#ff1a00,#ff4300,#e79b00,#a6ce00,#74ec00,#42fc1e,#07f267,#00b4af,#008ce4 21.25px)"></i>
<i style="background:repeating-linear-gradient(90deg,#008be4 0,#0078f7,#009ad0,#00ce99,#24fb41,#65f500,#8ddd00,#b5c500,#e69c00,#ff4300,#ff1200,#ff0a00,#ff1200,#ff3a00,#ea9800,#a8cd00,#75ec00,#43fc1d,#07f267,#00b4af,#008be4 21.25px)"></i>
<i style="background:repeating-linear-gradient(90deg,#008be4 0,#0078f8,#0099d0,#00cf98,#27fc3c,#6cf100,#98d600,#c0be00,#eb9600,#ff3f00,#ff1100,#ff0b00,#ff1400,#ff3e00,#e99900,#a7cd00,#75ec00,#43fc1d,#07f266,#00b4af,#008be4 21.25px)"></i>
<i style="background:repeating-linear-gradient(90deg,#008be4 0,#0077f8,#0099d1,#00d096,#2bfe36,#76eb00,#a8cd00,#ccb500,#ee9400,#ff4a00,#ff1f00,#ff1c00,#ff2700,#ff5900,#e0a200,#a3d000,#75ec00,#44fc1c,#08f265,#00b5ae,#008be4 21.25px)"></i>
<i style="background:repeating-linear-gradient(90deg,#008ce4 0,#0077f9,#0099d0,#00d393,#32ff2e,#83e300,#bbc100,#d7aa00,#f09100,#ff5f00,#ff4000,#ff4100,#ff5700,#f58400,#d1b000,#9dd400,#74ec00,#44fc1c,#08f365,#00b5ae,#008ce4 21.25px)"></i>
<i style="background:repeating-linear-gradient(90deg,#008ce4 0,#0076f9,#0099d0,#00d690,#3cfd24,#93d900,#ceb300,#e59d00,#f48900,#fc6c00,#ff5d00,#fd6600,#f68100,#e29f00,#c2bd00,#96d700,#74ec00,#45fc1b,#09f364,#00b5ae,#008ce4 21.25px)"></i>
<i style="background:repeating-linear-gradient(90deg,#008ce4 0,#0076f9,#009ad0,#00d98c,#47fc19,#a7ce00,#dea400,#f38b00,#f97500,#fd6700,#fe6300,#fa7300,#f09200,#d6ab00,#b6c400,#93da00,#74ec00,#45fc1b,#09f364,#00b6ae,#008ce4 21.25px)"></i>
<i style="background:repeating-linear-gradient(90deg,#008ce4 0,#0076fa,#009acf,#00dc88,#52fa0e,#bac200,#ed9500,#fb6e00,#ff5c00,#ff5300,#ff5500,#fc6900,#f29000,#d5ac00,#b4c600,#92da00,#74ec00,#46fc1a,#0af363,#00b6ae,#008ce4 21.25px)"></i>
<i style="background:repeating-linear-gradient(90deg,#008be5 0,#0074fb,#009ad0,#00de85,#5bf905,#c9b800,#f68100,#ff5400,#ff4100,#ff3a00,#ff3f00,#ff5600,#f58400,#d9a900,#b6c400,#93d900,#74ec00,#46fc1a,#0af363,#00b6ae,#008be5 21.25px)"></i>
<i style="background:repeating-linear-gradient(90deg,#0089e7 0,#0072fd,#0099d1,#00df84,#62f700,#d1b000,#fb6e00,#ff3e00,#ff2b00,#ff2600,#ff2900,#ff4400,#f97600,#dea400,#b9c200,#94d900,#75ec00,#46fc1a,#0af363,#00b5ae,#0089e7 21.25px)"></i>
<i style="background:repeating-linear-gradient(90deg,#0087e8 0,#0070ff,#0098d3,#00df84,#65f500,#d6ab00,#ff6100,#ff2e00,#ff1f00,#ff1b00,#ff1f00,#ff3600,#fc6c00,#e1a000,#bcc000,#95d800,#75eb00,#47fc19,#0af363,#00b5ae,#0087e8 21.25px)"></i>
<i style="background:repeating-linear-gradient(90deg,#0086ea 0,#006dff,#0096d5,#00de86,#66f500,#d9a900,#ff5a00,#ff2600,#ff1a00,#ff1500,#ff1900,#ff2d00,#fe6500,#e49e00,#bebf00,#96d700,#76eb00,#47fc19,#0af363,#00b5ae,#0086ea 21.25px)"></i>
<i style="background:repeating-linear-gradient(90deg,#0085eb 0,#006bff,#0095d8,#00db89,#64f600,#d9a900,#ff5800,#ff2400,#ff1700,#ff1300,#ff1700,#ff2900,#ff6100,#e69c00,#c0be00,#97d700,#76eb00,#48fc18,#0af362,#00b5af,#0085eb 21.25px)"></i>
<i style="background:repeating-linear-gradient(90deg,#0084eb 0,#0068ff,#0092dc,#00d78e,#60f800,#d7ab00,#ff5a00,#ff2500,#ff1700,#ff1300,#ff1600,#ff2800,#ff5f00,#e79b00,#c2bd00,#98d600,#77ea00,#49fb17,#0bf461,#00b5ae,#0084eb 21.25px)"></i>
<i style="background:repeating-linear-gradient(90deg,#0087e8 0,#0065ff,#008ce4,#00cc9b,#51fa0f,#cfb200,#fe6300,#ff2800,#ff1900,#ff1400,#ff1600,#ff2600,#ff5a00,#ea9800,#c6ba00,#9bd400,#7ae900,#4efb12,#10f55b,#00b9ab,#0087e8 21.25px)"></i>
<i style="background:repeating-linear-gradient(90deg,#008ee2 0,#0063ff,#0080f0,#00bea7,#39fe27,#bebf00,#f97500,#ff3500,#ff1f00,#ff1900,#ff1a00,#ff2700,#ff5600,#ee9300,#cbb700,#a1d100,#7ee600,#56fa0a,#18f750,#00c1a5,#008ee2 21.25px)"></i>
<i style="background:repeating-linear-gradient(90deg,#0095d8 0,#0063ff,#0072fd,#00aeb4,#20fa46,#9fd200,#f29000,#ff4a00,#ff2900,#ff2100,#ff2000,#ff2b00,#ff5400,#f28e00,#d0b200,#a8cd00,#84e200,#5ff801,#22fb43,#00cc9b,#0095d8 21.25px)"></i>
<i style="background:repeating-linear-gradient(90deg,#009dcb 0,#0068ff,#0066ff,#009fc7,#05f269,#7be800,#dda500,#fd6700,#ff3f00,#ff3000,#ff2b00,#ff3500,#ff5400,#f48800,#d5ac00,#b0c800,#8cde00,#69f300,#2dfe34,#00dc88,#009dcb 21.25px)"></i>
<i style="background:repeating-linear-gradient(90deg,#00a7ba 0,#0070ff,#005dff,#0092dd,#00d78e,#55fa0b,#c3bd00,#f48900,#ff5a00,#ff4600,#ff3e00,#ff4200,#ff5800,#f68200,#dca600,#bbc100,#95d800,#72ed00,#3dfd23,#00ed73,#00a7ba 21.25px)"></i>
<i style="background:repeating-linear-gradient(90deg,#00b5ae 0,#007df3,#0058ff,#007cf3,#00bca9,#2bfd37,#99d600,#e0a200,#f97800,#ff5d00,#ff5100,#ff5100,#ff5e00,#f77f00,#e2a000,#c7ba00,#a0d100,#7ce700,#4dfb13,#0df45e,#00b5ae 21.25px)"></i>
<i style="background:repeating-linear-gradient(90deg,#00c4a3 0,#008de3,#0058ff,#0069ff,#00a6bb,#0df45f,#73ed00,#cab700,#ef9300,#fa7200,#fe6200,#ff5d00,#fe6400,#f87b00,#e99900,#d0b100,#adc900,#87e100,#5df803,#1df94a,#00c4a3 21.25px)"></i>
<i style="background:repeating-linear-gradient(90deg,#00d68f 0,#0098d3,#005dff,#005bff,#0098d3,#00e083,#4ffa11,#a9cc00,#dfa300,#f58400,#fb6e00,#fe6500,#fd6700,#f97500,#f19100,#daa800,#bdc000,#94d900,#6af200,#2bfd37,#00d68f 21.25px)"></i>
<i style="background:repeating-linear-gradient(90deg,#00e87a 0,#00a2c3,#0065ff,#0052ff,#0087e8,#00c6a2,#2efe33,#8bde00,#d1b000,#f19100,#fa7400,#fd6600,#fe6500,#fc6c00,#f68200,#e59c00,#ccb500,#a2d000,#76eb00,#3afe26,#00e87a 21.25px)"></i>
<i style="background:repeating-linear-gradient(90deg,#06f267 0,#00acb5,#0071fe,#004fff,#0077f9,#00b5ae,#1af84e,#76eb00,#c7ba00,#ec9600,#fa7300,#ff6100,#ff5c00,#ff6000,#fb7000,#f29000,#d8aa00,#b2c700,#81e400,#4afb16,#06f267 21.25px)"></i>
<i style="background:repeating-linear-gradient(90deg,#12f658 0,#00b8ac,#007df2,#0051ff,#006cff,#00a9b7,#0bf362,#66f400,#bac200,#ea9800,#fb6e00,#ff5600,#ff4f00,#ff4f00,#ff5b00,#f87900,#e59d00,#c2bd00,#8cde00,#56f90a,#12f658 21.25px)"></i>
<i style="background:repeating-linear-gradient(90deg,#1bf84d 0,#00c1a5,#0088e8,#0054ff,#0066ff,#00a3c1,#00f070,#5bf905,#b3c600,#ea9800,#fd6600,#ff4800,#ff3e00,#ff3d00,#ff4600,#fe6200,#f19100,#ceb300,#97d700,#60f800,#1bf84d 21.25px)"></i>
<i style="background:repeating-linear-gradient(90deg,#22fb42 0,#00c99f,#0091de,#0058ff,#0062ff,#009ec9,#00e67c,#50fa10,#adca00,#eb9700,#ff5c00,#ff3900,#ff2c00,#ff2a00,#ff3100,#ff4c00,#f77d00,#d7aa00,#a2d000,#68f300,#22fb42 21.25px)"></i>
<i style="background:repeating-linear-gradient(90deg,#29fd39 0,#00d393,#0096d5,#005dff,#005fff,#0099d1,#00dd87,#45fc1b,#a7cd00,#eb9700,#ff5500,#ff2b00,#ff2000,#ff1e00,#ff2200,#ff3800,#fc6a00,#e0a100,#acca00,#6fef00,#29fd39 21.25px)"></i>
<i style="background:repeating-linear-gradient(90deg,#30ff30 0,#00dc88,#009ccd,#0062ff,#005dff,#0095d8,#00d492,#3bfd25,#a0d100,#ea9800,#ff5000,#ff2400,#ff1800,#ff1600,#ff1800,#ff2700,#ff5900,#e99900,#b7c400,#76eb00,#30ff30 21.25px)"></i>
<i style="background:repeating-linear-gradient(90deg,#38fe28 0,#00e47e,#00a1c4,#0068ff,#005bff,#0091de,#00cc9b,#31ff2f,#99d600,#e89a00,#ff4f00,#ff2000,#ff1300,#ff1000,#ff1200,#ff2000,#ff4c00,#f09200,#c0be00,#7de700,#38fe28 21.25px)"></i>
<i style="background:repeating-linear-gradient(90deg,#40fd20 0,#00ec75,#00a5bc,#006eff,#005bff,#008ce3,#00c5a2,#2afd38,#90db00,#e49e00,#ff5200,#ff2000,#ff1000,#ff0d00,#ff0e00,#ff1b00,#ff4200,#f48a00,#c8b900,#83e300,#40fd20 21.25px)"></i>
<i style="background:repeating-linear-gradient(90deg,#48fc18 0,#03f16c,#00abb6,#0075fb,#005bff,#0087e9,#00bfa6,#23fb41,#87e000,#dfa200,#ff5700,#ff2100,#ff1000,#ff0c00,#ff0c00,#ff1800,#ff3c00,#f68200,#ccb500,#88e000,#48fc18 21.25px)"></i>
<i style="background:repeating-linear-gradient(90deg,#4efb12 0,#09f364,#00b1b2,#007bf4,#005cff,#0083ed,#00baaa,#1df949,#80e500,#daa700,#ff5e00,#ff2300,#ff1100,#ff0c00,#ff0c00,#ff1700,#ff3700,#f87c00,#d0b200,#8edd00,#4efb12 21.25px)"></i>
<i style="background:repeating-linear-gradient(90deg,#54fa0c 0,#0ff55d,#00b6ad,#0081ee,#005dff,#007ff1,#00b5ae,#17f751,#78e900,#d5ad00,#fd6600,#ff2700,#ff1400,#ff0e00,#ff0e00,#ff1700,#ff3500,#f97700,#d3af00,#93da00,#54fa0c 21.25px)"></i>
<i style="background:repeating-linear-gradient(90deg,#5af906 0,#14f656,#00bba9,#0087e8,#005fff,#007bf4,#00b1b1,#11f559,#70ee00,#cfb300,#fa7100,#ff3100,#ff1900,#ff1300,#ff1200,#ff1a00,#ff3700,#f97600,#d5ad00,#97d700,#5af906 21.25px)"></i>
<i style="background:repeating-linear-gradient(90deg,#5ff801 0,#19f84f,#00c0a6,#008ee2,#0061ff,#0079f7,#00adb4,#0bf461,#68f300,#c7ba00,#f77f00,#ff3f00,#ff2100,#ff1b00,#ff1a00,#ff2100,#ff3e00,#f87800,#d5ac00,#9ad500,#5ff801 21.25px)"></i>
<i style="background:repeating-linear-gradient(90deg,#62f700 0,#1df949,#00c5a2,#0092dd,#0064ff,#0076f9,#00a9b7,#06f268,#60f800,#bbc100,#f28f00,#ff5100,#ff3000,#ff2600,#ff2500,#ff2b00,#ff4900,#f77f00,#d4ad00,#9cd400,#62f700 21.25px)"></i>
<i style="background:repeating-linear-gradient(90deg,#65f500 0,#21fa44,#00ca9d,#0095d8,#0067ff,#0075fb,#00a6bb,#01f06f,#56f90a,#adca00,#e89a00,#fd6600,#ff4600,#ff3b00,#ff3800,#ff3f00,#ff5900,#f48900,#d2af00,#9cd400,#65f500 21.25px)"></i>
<i style="background:repeating-linear-gradient(90deg,#68f300 0,#25fc3e,#00d195,#0099d0,#006dff,#0077f8,#00a6bc,#00ed74,#4efb12,#a0d200,#dca500,#f77e00,#ff5f00,#ff5300,#ff5100,#ff5600,#fc6c00,#ef9300,#ceb300,#9cd400,#68f300 21.25px)"></i>
<i style="background:repeating-linear-gradient(90deg,#6af200 0,#2afd38,#00da8b,#009fc7,#0078f8,#007df2,#00a6bb,#00eb77,#46fc1a,#93d900,#d1b000,#ef9300,#f97700,#fc6b00,#fd6800,#fc6d00,#f77f00,#e79b00,#cab700,#9ad500,#6af200 21.25px)"></i>
<i style="background:repeating-linear-gradient(90deg,#6cf100 0,#2fff32,#00e181,#00a5bd,#0082ed,#0084ec,#00a8b9,#00e978,#40fd20,#88e000,#c7ba00,#e49d00,#f48900,#f77c00,#f87900,#f77c00,#f38d00,#e0a200,#c5bb00,#98d600,#6cf100 21.25px)"></i>
<i style="background:repeating-linear-gradient(90deg,#6ef000 0,#34fe2c,#00e978,#00abb6,#008de3,#008be4,#00aab7,#00e879,#3bfd25,#7fe500,#b9c200,#dca600,#ef9300,#f58600,#f68300,#f58500,#ee9400,#dba700,#bfbf00,#96d800,#6ef000 21.25px)"></i>
<i style="background:repeating-linear-gradient(90deg,#6fef00 0,#39fe27,#00f070,#00b3b0,#0094d9,#0092dd,#00acb5,#00e879,#37fe29,#78ea00,#acca00,#d2af00,#e69c00,#ef9300,#f29000,#f09200,#e79b00,#d5ac00,#b9c300,#94d900,#6fef00 21.25px)"></i>
<i style="background:repeating-linear-gradient(90deg,#71ee00 0,#40fd20,#08f266,#00bca9,#009bce,#0098d3,#00b1b1,#00eb76,#36fe2a,#73ed00,#a0d100,#c8b900,#daa700,#e39f00,#e69c00,#e59d00,#dda400,#ceb400,#b2c700,#92da00,#71ee00 21.25px)"></i>
<i style="background:repeating-linear-gradient(90deg,#75eb00 0,#4afb16,#14f655,#00cd9b,#00a9b7,#00a5bd,#00bfa7,#05f269,#3bfd25,#71ee00,#97d700,#b7c400,#ccb600,#d3ae00,#d5ac00,#d5ad00,#cfb200,#c2bd00,#aacb00,#91db00,#75eb00 21.25px)"></i>
<i style="background:repeating-linear-gradient(90deg,#7de600 0,#61f700,#32ff2e,#0cf461,#00dd87,#00d78e,#00ef72,#23fb41,#53fa0d,#77ea00,#90db00,#a4cf00,#b1c700,#b8c300,#bac200,#bac200,#b6c400,#adca00,#a0d100,#91db00,#7de600 21.25px)"></i>
<i style="background:repeating-linear-gradient(90deg,#5bf905 0,#4dfb13,#38fe28,#26fc3e,#19f84e,#17f752,#20fa46,#2fff31,#45fc1b,#56f90a,#61f700,#67f400,#6bf100,#6df000,#6ef000,#6ef000,#6df000,#6bf100,#68f300,#63f600,#5bf905 21.25px)"></i>
<i style="background:repeating-linear-gradient(90deg,#00d78e 0,#00d491,#00d096,#00cc9c,#00c8a0,#00c8a0,#00ca9e,#00ce98,#00d393,#00d68f,#00d88d,#00d98b,#00da8a,#00da8a,#00db8a,#00db8a,#00db8a,#00da8a,#00da8b,#00d98c,#00d78e 21.25px)"></i>
<i style="background:repeating-linear-gradient(90deg,#00ed73 0,#00ed74,#00ec75,#00eb76,#00ea77,#00ea77,#00eb77,#00eb75,#00ec74,#00ed74,#00ed73,#00ee73,#00ee73,#00ee73,#00ee73,#00ee73,#00ee73,#00ee73,#00ee73,#00ed73,#00ed73 21.25px)"></i>
<i style="background:repeating-linear-gradient(90deg,#64f600 0,#64f600,#64f600,#64f600,#63f600,#63f600,#64f600,#64f600,#64f600,#64f600,#64f600,#64f600,#64f600,#64f600,#64f600,#64f600,#64f600,#64f600,#64f600,#64f600,#64f600 21.25px)"></i>
<i style="background:repeating-linear-gradient(90deg,#80e500 0,#80e500,#81e400,#81e400,#81e400,#81e400,#80e500,#80e500,#7fe500,#7ee600,#7ee600,#7ee600,#7de600,#7de600,#7de600,#7de600,#7ee600,#7ee600,#7ee600,#7fe500,#80e500 21.25px)"></i>
<i style="background:repeating-linear-gradient(90deg,#92da00 0,#9bd400,#a3d000,#a8cd00,#a8cd00,#a4cf00,#9cd400,#93da00,#89df00,#83e300,#7ee600,#7be800,#79e900,#78e900,#78ea00,#79e900,#7be800,#7ee600,#82e300,#89df00,#92da00 21.25px)"></i>
<i style="background:repeating-linear-gradient(90deg,#cab700 0,#dca500,#ec9600,#f38c00,#f38b00,#ec9600,#dda400,#cbb600,#afc800,#96d700,#85e200,#7be800,#75ec00,#72ed00,#71ee00,#74ec00,#7ae800,#84e200,#95d800,#aec900,#cab700 21.25px)"></i>
<i style="background:repeating-linear-gradient(90deg,#c2bd00 0,#d6ab00,#e69c00,#ef9300,#ef9300,#e79b00,#d8aa00,#c4bc00,#a6ce00,#8ddd00,#7de700,#73ed00,#6df000,#6af200,#6af200,#6df000,#72ed00,#7ce700,#8cde00,#a5cf00,#c2bd00 21.25px)"></i>
<i style="background:repeating-linear-gradient(90deg,#7ae800 0,#82e400,#88e000,#8ddd00,#8ddd00,#89e000,#82e300,#7ae800,#73ed00,#6cf100,#67f400,#64f500,#63f600,#62f700,#62f700,#62f700,#64f500,#67f400,#6cf100,#72ed00,#7ae800 21.25px)"></i>
<i style="background:repeating-linear-gradient(90deg,#5ef802 0,#5ff801,#60f800,#60f800,#60f800,#60f800,#5ff801,#5ef802,#5df803,#5df803,#5cf904,#5cf904,#5cf904,#5bf905,#5bf905,#5cf904,#5cf904,#5cf904,#5df903,#5df803,#5ef802 21.25px)"></i>
<i style="background:repeating-linear-gradient(90deg,#58f908 0,#59f907,#59f907,#59f907,#59f907,#59f907,#59f907,#58f908,#58f908,#58f908,#58f908,#58f908,#58f908,#58f908,#58f908,#58f908,#58f908,#58f908,#58f908,#58f908,#58f908 21.25px)"></i>
<i style="background:repeating-linear-gradient(90deg,#5af906 0,#5af906,#5af906,#5af906,#5af906,#5af906,#5af906,#59f907,#59f907,#59f907,#59f907,#58f908,#58f908,#58f908,#58f908,#58f908,#59f907,#59f907,#59f907,#59f907,#5af906 21.25px)"></i>
<i style="background:repeating-linear-gradient(90deg,#68f300 0,#6bf100,#6df000,#6ef000,#6df000,#6af200,#67f400,#64f600,#61f700,#5ff801,#5df803,#5cf904,#5cf904,#5cf904,#5cf904,#5df803,#5ef802,#60f800,#62f700,#65f500,#68f300 21.25px)"></i>
<i style="background:repeating-linear-gradient(90deg,#89df00 0,#94d900,#9cd400,#9dd300,#99d500,#91db00,#85e200,#7be800,#72ed00,#6bf100,#66f400,#64f600,#62f700,#62f700,#62f700,#64f500,#68f300,#6df000,#75eb00,#7ee600,#89df00 21.25px)"></i>
<i style="background:repeating-linear-gradient(90deg,#91db00 0,#9cd400,#a3d000,#a5ce00,#a1d100,#98d600,#8cdd00,#81e400,#78e900,#72ed00,#6df000,#6af200,#69f300,#68f300,#69f300,#6bf100,#6eef00,#74ec00,#7be800,#85e200,#91db00 21.25px)"></i>
<i style="background:repeating-linear-gradient(90deg,#7be800 0,#7ee600,#80e500,#81e400,#80e500,#7de600,#7ae800,#77ea00,#74ec00,#72ed00,#71ee00,#70ee00,#6fef00,#6fef00,#70ef00,#70ee00,#71ee00,#73ed00,#75eb00,#78ea00,#7be800 21.25px)"></i>
<i style="background:repeating-linear-gradient(90deg,#79e900 0,#79e900,#79e900,#79e900,#79e900,#79e900,#79e900,#78e900,#78ea00,#78ea00,#78ea00,#78ea00,#78ea00,#77ea00,#78ea00,#78ea00,#78ea00,#78ea00,#78ea00,#78e900,#79e900 21.25px)"></i>
<i style="background:repeating-linear-gradient(90deg,#80e500 0,#80e500,#80e500,#80e500,#80e500,#80e500,#80e500,#80e500,#80e500,#80e500,#80e500,#80e500,#80e500,#80e500,#80e500,#80e500,#80e500,#80e500,#80e500,#80e500,#80e500 21.25px)"></i>
<i style="background:repeating-linear-gradient(90deg,#88e000 0,#88e000,#88e000,#88e000,#88e000,#88e000,#88e000,#88e000,#88e000,#88e000,#88e000,#88e000,#88e000,#88e000,#88e000,#88e000,#88e000,#88e000,#88e000,#88e000,#88e000 21.25px)"></i>
</div>
<div class="im" style="left:313px;top:23px;width:10px;height:117px;background:linear-gradient(180deg,#ff0000 0.00%,#ff2800 8.00%,#ff6000 15.00%,#f29000 21.00%,#c7ba00 30.00%,#88e000 38.00%,#60f800 44.00%,#30ff30 50.00%,#00f070 58.60%,#00c8a0 65.00%,#00a8b8 71.50%,#0090e0 78.00%,#0070ff 82.40%,#0030ff 91.00%,#0000ff 100.00%)"></div>
<div class="im" style="left:313px;top:430px;width:10px;height:117px;background:linear-gradient(180deg,#ff0000 0.00%,#ff2800 8.00%,#ff6000 15.00%,#f29000 21.00%,#c7ba00 30.00%,#88e000 38.00%,#60f800 44.00%,#30ff30 50.00%,#00f070 58.60%,#00c8a0 65.00%,#00a8b8 71.50%,#0090e0 78.00%,#0070ff 82.40%,#0030ff 91.00%,#0000ff 100.00%)"></div>
<s style="left:42.00px;top:22.00px;width:1.00px;height:337.00px;background:rgba(30,30,30,.75)"></s>
<s style="left:211.00px;top:22.00px;width:1.00px;height:337.00px;background:rgba(60,30,0,.45)"></s>
<s style="left:42.00px;top:358.00px;width:170.00px;height:1.00px;background:rgba(40,25,0,.6)"></s>
<s style="left:220.00px;top:23.00px;width:1.00px;height:337.00px;background:rgba(30,30,30,.75)"></s>
<s style="left:304.00px;top:23.00px;width:1.00px;height:337.00px;background:rgba(40,40,40,.3)"></s>
<s style="left:220.00px;top:359.00px;width:85.00px;height:1.00px;background:rgba(40,30,0,.55)"></s>
<s style="left:40.00px;top:430.00px;width:1.00px;height:338.00px;background:rgba(30,30,30,.75)"></s>
<s style="left:208.00px;top:430.00px;width:1.00px;height:338.00px;background:rgba(50,45,0,.45)"></s>
<s style="left:40.00px;top:767.00px;width:169.00px;height:1.00px;background:rgba(40,35,0,.6)"></s>
<s style="left:220.00px;top:430.00px;width:1.00px;height:338.00px;background:rgba(30,30,30,.75)"></s>
<s style="left:304.00px;top:430.00px;width:1.00px;height:338.00px;background:rgba(40,40,40,.3)"></s>
<s style="left:220.00px;top:767.00px;width:85.00px;height:1.00px;background:rgba(40,30,0,.55)"></s>
<b style="left:40.00px;top:357.50px;width:2.00px;height:1.00px"></b>
<b style="left:40.00px;top:350.78px;width:2.00px;height:1.00px"></b>
<b style="left:40.00px;top:344.06px;width:2.00px;height:1.00px"></b>
<b style="left:40.00px;top:337.34px;width:2.00px;height:1.00px"></b>
<b style="left:40.00px;top:330.62px;width:2.00px;height:1.00px"></b>
<b style="left:38.50px;top:323.90px;width:3.50px;height:1.00px"></b>
<b style="left:40.00px;top:317.18px;width:2.00px;height:1.00px"></b>
<b style="left:40.00px;top:310.46px;width:2.00px;height:1.00px"></b>
<b style="left:40.00px;top:303.74px;width:2.00px;height:1.00px"></b>
<b style="left:40.00px;top:297.02px;width:2.00px;height:1.00px"></b>
<b style="left:40.00px;top:290.30px;width:2.00px;height:1.00px"></b>
<b style="left:40.00px;top:283.58px;width:2.00px;height:1.00px"></b>
<b style="left:40.00px;top:276.86px;width:2.00px;height:1.00px"></b>
<b style="left:40.00px;top:270.14px;width:2.00px;height:1.00px"></b>
<b style="left:40.00px;top:263.42px;width:2.00px;height:1.00px"></b>
<b style="left:38.50px;top:256.70px;width:3.50px;height:1.00px"></b>
<b style="left:40.00px;top:249.98px;width:2.00px;height:1.00px"></b>
<b style="left:40.00px;top:243.26px;width:2.00px;height:1.00px"></b>
<b style="left:40.00px;top:236.54px;width:2.00px;height:1.00px"></b>
<b style="left:40.00px;top:229.82px;width:2.00px;height:1.00px"></b>
<b style="left:40.00px;top:223.10px;width:2.00px;height:1.00px"></b>
<b style="left:40.00px;top:216.38px;width:2.00px;height:1.00px"></b>
<b style="left:40.00px;top:209.66px;width:2.00px;height:1.00px"></b>
<b style="left:40.00px;top:202.94px;width:2.00px;height:1.00px"></b>
<b style="left:40.00px;top:196.22px;width:2.00px;height:1.00px"></b>
<b style="left:38.50px;top:189.50px;width:3.50px;height:1.00px"></b>
<b style="left:40.00px;top:182.78px;width:2.00px;height:1.00px"></b>
<b style="left:40.00px;top:176.06px;width:2.00px;height:1.00px"></b>
<b style="left:40.00px;top:169.34px;width:2.00px;height:1.00px"></b>
<b style="left:40.00px;top:162.62px;width:2.00px;height:1.00px"></b>
<b style="left:40.00px;top:155.90px;width:2.00px;height:1.00px"></b>
<b style="left:40.00px;top:149.18px;width:2.00px;height:1.00px"></b>
<b style="left:40.00px;top:142.46px;width:2.00px;height:1.00px"></b>
<b style="left:40.00px;top:135.74px;width:2.00px;height:1.00px"></b>
<b style="left:40.00px;top:129.02px;width:2.00px;height:1.00px"></b>
<b style="left:38.50px;top:122.30px;width:3.50px;height:1.00px"></b>
<b style="left:40.00px;top:115.58px;width:2.00px;height:1.00px"></b>
<b style="left:40.00px;top:108.86px;width:2.00px;height:1.00px"></b>
<b style="left:40.00px;top:102.14px;width:2.00px;height:1.00px"></b>
<b style="left:40.00px;top:95.42px;width:2.00px;height:1.00px"></b>
<b style="left:40.00px;top:88.70px;width:2.00px;height:1.00px"></b>
<b style="left:40.00px;top:81.98px;width:2.00px;height:1.00px"></b>
<b style="left:40.00px;top:75.26px;width:2.00px;height:1.00px"></b>
<b style="left:40.00px;top:68.54px;width:2.00px;height:1.00px"></b>
<b style="left:40.00px;top:61.82px;width:2.00px;height:1.00px"></b>
<b style="left:38.50px;top:55.10px;width:3.50px;height:1.00px"></b>
<b style="left:40.00px;top:48.38px;width:2.00px;height:1.00px"></b>
<b style="left:40.00px;top:41.66px;width:2.00px;height:1.00px"></b>
<b style="left:40.00px;top:34.94px;width:2.00px;height:1.00px"></b>
<b style="left:40.00px;top:28.22px;width:2.00px;height:1.00px"></b>
<b style="left:40.00px;top:21.50px;width:2.00px;height:1.00px"></b>
<b style="left:38.00px;top:766.50px;width:2.00px;height:1.00px"></b>
<b style="left:38.00px;top:759.76px;width:2.00px;height:1.00px"></b>
<b style="left:38.00px;top:753.02px;width:2.00px;height:1.00px"></b>
<b style="left:38.00px;top:746.28px;width:2.00px;height:1.00px"></b>
<b style="left:38.00px;top:739.54px;width:2.00px;height:1.00px"></b>
<b style="left:36.50px;top:732.80px;width:3.50px;height:1.00px"></b>
<b style="left:38.00px;top:726.06px;width:2.00px;height:1.00px"></b>
<b style="left:38.00px;top:719.32px;width:2.00px;height:1.00px"></b>
<b style="left:38.00px;top:712.58px;width:2.00px;height:1.00px"></b>
<b style="left:38.00px;top:705.84px;width:2.00px;height:1.00px"></b>
<b style="left:38.00px;top:699.10px;width:2.00px;height:1.00px"></b>
<b style="left:38.00px;top:692.36px;width:2.00px;height:1.00px"></b>
<b style="left:38.00px;top:685.62px;width:2.00px;height:1.00px"></b>
<b style="left:38.00px;top:678.88px;width:2.00px;height:1.00px"></b>
<b style="left:38.00px;top:672.14px;width:2.00px;height:1.00px"></b>
<b style="left:36.50px;top:665.40px;width:3.50px;height:1.00px"></b>
<b style="left:38.00px;top:658.66px;width:2.00px;height:1.00px"></b>
<b style="left:38.00px;top:651.92px;width:2.00px;height:1.00px"></b>
<b style="left:38.00px;top:645.18px;width:2.00px;height:1.00px"></b>
<b style="left:38.00px;top:638.44px;width:2.00px;height:1.00px"></b>
<b style="left:38.00px;top:631.70px;width:2.00px;height:1.00px"></b>
<b style="left:38.00px;top:624.96px;width:2.00px;height:1.00px"></b>
<b style="left:38.00px;top:618.22px;width:2.00px;height:1.00px"></b>
<b style="left:38.00px;top:611.48px;width:2.00px;height:1.00px"></b>
<b style="left:38.00px;top:604.74px;width:2.00px;height:1.00px"></b>
<b style="left:36.50px;top:598.00px;width:3.50px;height:1.00px"></b>
<b style="left:38.00px;top:591.26px;width:2.00px;height:1.00px"></b>
<b style="left:38.00px;top:584.52px;width:2.00px;height:1.00px"></b>
<b style="left:38.00px;top:577.78px;width:2.00px;height:1.00px"></b>
<b style="left:38.00px;top:571.04px;width:2.00px;height:1.00px"></b>
<b style="left:38.00px;top:564.30px;width:2.00px;height:1.00px"></b>
<b style="left:38.00px;top:557.56px;width:2.00px;height:1.00px"></b>
<b style="left:38.00px;top:550.82px;width:2.00px;height:1.00px"></b>
<b style="left:38.00px;top:544.08px;width:2.00px;height:1.00px"></b>
<b style="left:38.00px;top:537.34px;width:2.00px;height:1.00px"></b>
<b style="left:36.50px;top:530.60px;width:3.50px;height:1.00px"></b>
<b style="left:38.00px;top:523.86px;width:2.00px;height:1.00px"></b>
<b style="left:38.00px;top:517.12px;width:2.00px;height:1.00px"></b>
<b style="left:38.00px;top:510.38px;width:2.00px;height:1.00px"></b>
<b style="left:38.00px;top:503.64px;width:2.00px;height:1.00px"></b>
<b style="left:38.00px;top:496.90px;width:2.00px;height:1.00px"></b>
<b style="left:38.00px;top:490.16px;width:2.00px;height:1.00px"></b>
<b style="left:38.00px;top:483.42px;width:2.00px;height:1.00px"></b>
<b style="left:38.00px;top:476.68px;width:2.00px;height:1.00px"></b>
<b style="left:38.00px;top:469.94px;width:2.00px;height:1.00px"></b>
<b style="left:36.50px;top:463.20px;width:3.50px;height:1.00px"></b>
<b style="left:38.00px;top:456.46px;width:2.00px;height:1.00px"></b>
<b style="left:38.00px;top:449.72px;width:2.00px;height:1.00px"></b>
<b style="left:38.00px;top:442.98px;width:2.00px;height:1.00px"></b>
<b style="left:38.00px;top:436.24px;width:2.00px;height:1.00px"></b>
<b style="left:38.00px;top:429.50px;width:2.00px;height:1.00px"></b>
<b style="left:218.00px;top:358.50px;width:2.00px;height:1.00px"></b>
<b style="left:218.00px;top:351.78px;width:2.00px;height:1.00px"></b>
<b style="left:218.00px;top:345.06px;width:2.00px;height:1.00px"></b>
<b style="left:218.00px;top:338.34px;width:2.00px;height:1.00px"></b>
<b style="left:218.00px;top:331.62px;width:2.00px;height:1.00px"></b>
<b style="left:216.50px;top:324.90px;width:3.50px;height:1.00px"></b>
<b style="left:218.00px;top:318.18px;width:2.00px;height:1.00px"></b>
<b style="left:218.00px;top:311.46px;width:2.00px;height:1.00px"></b>
<b style="left:218.00px;top:304.74px;width:2.00px;height:1.00px"></b>
<b style="left:218.00px;top:298.02px;width:2.00px;height:1.00px"></b>
<b style="left:218.00px;top:291.30px;width:2.00px;height:1.00px"></b>
<b style="left:218.00px;top:284.58px;width:2.00px;height:1.00px"></b>
<b style="left:218.00px;top:277.86px;width:2.00px;height:1.00px"></b>
<b style="left:218.00px;top:271.14px;width:2.00px;height:1.00px"></b>
<b style="left:218.00px;top:264.42px;width:2.00px;height:1.00px"></b>
<b style="left:216.50px;top:257.70px;width:3.50px;height:1.00px"></b>
<b style="left:218.00px;top:250.98px;width:2.00px;height:1.00px"></b>
<b style="left:218.00px;top:244.26px;width:2.00px;height:1.00px"></b>
<b style="left:218.00px;top:237.54px;width:2.00px;height:1.00px"></b>
<b style="left:218.00px;top:230.82px;width:2.00px;height:1.00px"></b>
<b style="left:218.00px;top:224.10px;width:2.00px;height:1.00px"></b>
<b style="left:218.00px;top:217.38px;width:2.00px;height:1.00px"></b>
<b style="left:218.00px;top:210.66px;width:2.00px;height:1.00px"></b>
<b style="left:218.00px;top:203.94px;width:2.00px;height:1.00px"></b>
<b style="left:218.00px;top:197.22px;width:2.00px;height:1.00px"></b>
<b style="left:216.50px;top:190.50px;width:3.50px;height:1.00px"></b>
<b style="left:218.00px;top:183.78px;width:2.00px;height:1.00px"></b>
<b style="left:218.00px;top:177.06px;width:2.00px;height:1.00px"></b>
<b style="left:218.00px;top:170.34px;width:2.00px;height:1.00px"></b>
<b style="left:218.00px;top:163.62px;width:2.00px;height:1.00px"></b>
<b style="left:218.00px;top:156.90px;width:2.00px;height:1.00px"></b>
<b style="left:218.00px;top:150.18px;width:2.00px;height:1.00px"></b>
<b style="left:218.00px;top:143.46px;width:2.00px;height:1.00px"></b>
<b style="left:218.00px;top:136.74px;width:2.00px;height:1.00px"></b>
<b style="left:218.00px;top:130.02px;width:2.00px;height:1.00px"></b>
<b style="left:216.50px;top:123.30px;width:3.50px;height:1.00px"></b>
<b style="left:218.00px;top:116.58px;width:2.00px;height:1.00px"></b>
<b style="left:218.00px;top:109.86px;width:2.00px;height:1.00px"></b>
<b style="left:218.00px;top:103.14px;width:2.00px;height:1.00px"></b>
<b style="left:218.00px;top:96.42px;width:2.00px;height:1.00px"></b>
<b style="left:218.00px;top:89.70px;width:2.00px;height:1.00px"></b>
<b style="left:218.00px;top:82.98px;width:2.00px;height:1.00px"></b>
<b style="left:218.00px;top:76.26px;width:2.00px;height:1.00px"></b>
<b style="left:218.00px;top:69.54px;width:2.00px;height:1.00px"></b>
<b style="left:218.00px;top:62.82px;width:2.00px;height:1.00px"></b>
<b style="left:216.50px;top:56.10px;width:3.50px;height:1.00px"></b>
<b style="left:218.00px;top:49.38px;width:2.00px;height:1.00px"></b>
<b style="left:218.00px;top:42.66px;width:2.00px;height:1.00px"></b>
<b style="left:218.00px;top:35.94px;width:2.00px;height:1.00px"></b>
<b style="left:218.00px;top:29.22px;width:2.00px;height:1.00px"></b>
<b style="left:218.00px;top:22.50px;width:2.00px;height:1.00px"></b>
<b style="left:218.00px;top:766.50px;width:2.00px;height:1.00px"></b>
<b style="left:218.00px;top:759.76px;width:2.00px;height:1.00px"></b>
<b style="left:218.00px;top:753.02px;width:2.00px;height:1.00px"></b>
<b style="left:218.00px;top:746.28px;width:2.00px;height:1.00px"></b>
<b style="left:218.00px;top:739.54px;width:2.00px;height:1.00px"></b>
<b style="left:216.50px;top:732.80px;width:3.50px;height:1.00px"></b>
<b style="left:218.00px;top:726.06px;width:2.00px;height:1.00px"></b>
<b style="left:218.00px;top:719.32px;width:2.00px;height:1.00px"></b>
<b style="left:218.00px;top:712.58px;width:2.00px;height:1.00px"></b>
<b style="left:218.00px;top:705.84px;width:2.00px;height:1.00px"></b>
<b style="left:218.00px;top:699.10px;width:2.00px;height:1.00px"></b>
<b style="left:218.00px;top:692.36px;width:2.00px;height:1.00px"></b>
<b style="left:218.00px;top:685.62px;width:2.00px;height:1.00px"></b>
<b style="left:218.00px;top:678.88px;width:2.00px;height:1.00px"></b>
<b style="left:218.00px;top:672.14px;width:2.00px;height:1.00px"></b>
<b style="left:216.50px;top:665.40px;width:3.50px;height:1.00px"></b>
<b style="left:218.00px;top:658.66px;width:2.00px;height:1.00px"></b>
<b style="left:218.00px;top:651.92px;width:2.00px;height:1.00px"></b>
<b style="left:218.00px;top:645.18px;width:2.00px;height:1.00px"></b>
<b style="left:218.00px;top:638.44px;width:2.00px;height:1.00px"></b>
<b style="left:218.00px;top:631.70px;width:2.00px;height:1.00px"></b>
<b style="left:218.00px;top:624.96px;width:2.00px;height:1.00px"></b>
<b style="left:218.00px;top:618.22px;width:2.00px;height:1.00px"></b>
<b style="left:218.00px;top:611.48px;width:2.00px;height:1.00px"></b>
<b style="left:218.00px;top:604.74px;width:2.00px;height:1.00px"></b>
<b style="left:216.50px;top:598.00px;width:3.50px;height:1.00px"></b>
<b style="left:218.00px;top:591.26px;width:2.00px;height:1.00px"></b>
<b style="left:218.00px;top:584.52px;width:2.00px;height:1.00px"></b>
<b style="left:218.00px;top:577.78px;width:2.00px;height:1.00px"></b>
<b style="left:218.00px;top:571.04px;width:2.00px;height:1.00px"></b>
<b style="left:218.00px;top:564.30px;width:2.00px;height:1.00px"></b>
<b style="left:218.00px;top:557.56px;width:2.00px;height:1.00px"></b>
<b style="left:218.00px;top:550.82px;width:2.00px;height:1.00px"></b>
<b style="left:218.00px;top:544.08px;width:2.00px;height:1.00px"></b>
<b style="left:218.00px;top:537.34px;width:2.00px;height:1.00px"></b>
<b style="left:216.50px;top:530.60px;width:3.50px;height:1.00px"></b>
<b style="left:218.00px;top:523.86px;width:2.00px;height:1.00px"></b>
<b style="left:218.00px;top:517.12px;width:2.00px;height:1.00px"></b>
<b style="left:218.00px;top:510.38px;width:2.00px;height:1.00px"></b>
<b style="left:218.00px;top:503.64px;width:2.00px;height:1.00px"></b>
<b style="left:218.00px;top:496.90px;width:2.00px;height:1.00px"></b>
<b style="left:218.00px;top:490.16px;width:2.00px;height:1.00px"></b>
<b style="left:218.00px;top:483.42px;width:2.00px;height:1.00px"></b>
<b style="left:218.00px;top:476.68px;width:2.00px;height:1.00px"></b>
<b style="left:218.00px;top:469.94px;width:2.00px;height:1.00px"></b>
<b style="left:216.50px;top:463.20px;width:3.50px;height:1.00px"></b>
<b style="left:218.00px;top:456.46px;width:2.00px;height:1.00px"></b>
<b style="left:218.00px;top:449.72px;width:2.00px;height:1.00px"></b>
<b style="left:218.00px;top:442.98px;width:2.00px;height:1.00px"></b>
<b style="left:218.00px;top:436.24px;width:2.00px;height:1.00px"></b>
<b style="left:218.00px;top:429.50px;width:2.00px;height:1.00px"></b>
<b style="left:45.38px;top:358.50px;width:1.00px;height:2.00px"></b>
<b style="left:52.14px;top:358.50px;width:1.00px;height:2.00px"></b>
<b style="left:58.90px;top:358.50px;width:1.00px;height:3.50px"></b>
<b style="left:65.66px;top:358.50px;width:1.00px;height:2.00px"></b>
<b style="left:72.42px;top:358.50px;width:1.00px;height:2.00px"></b>
<b style="left:79.18px;top:358.50px;width:1.00px;height:2.00px"></b>
<b style="left:85.94px;top:358.50px;width:1.00px;height:2.00px"></b>
<b style="left:92.70px;top:358.50px;width:1.00px;height:3.50px"></b>
<b style="left:99.46px;top:358.50px;width:1.00px;height:2.00px"></b>
<b style="left:106.22px;top:358.50px;width:1.00px;height:2.00px"></b>
<b style="left:112.98px;top:358.50px;width:1.00px;height:2.00px"></b>
<b style="left:119.74px;top:358.50px;width:1.00px;height:2.00px"></b>
<b style="left:126.50px;top:358.50px;width:1.00px;height:3.50px"></b>
<b style="left:133.26px;top:358.50px;width:1.00px;height:2.00px"></b>
<b style="left:140.02px;top:358.50px;width:1.00px;height:2.00px"></b>
<b style="left:146.78px;top:358.50px;width:1.00px;height:2.00px"></b>
<b style="left:153.54px;top:358.50px;width:1.00px;height:2.00px"></b>
<b style="left:160.30px;top:358.50px;width:1.00px;height:3.50px"></b>
<b style="left:167.06px;top:358.50px;width:1.00px;height:2.00px"></b>
<b style="left:173.82px;top:358.50px;width:1.00px;height:2.00px"></b>
<b style="left:180.58px;top:358.50px;width:1.00px;height:2.00px"></b>
<b style="left:187.34px;top:358.50px;width:1.00px;height:2.00px"></b>
<b style="left:194.10px;top:358.50px;width:1.00px;height:3.50px"></b>
<b style="left:200.86px;top:358.50px;width:1.00px;height:2.00px"></b>
<b style="left:207.62px;top:358.50px;width:1.00px;height:2.00px"></b>
<b style="left:43.37px;top:767.50px;width:1.00px;height:2.00px"></b>
<b style="left:50.11px;top:767.50px;width:1.00px;height:2.00px"></b>
<b style="left:56.85px;top:767.50px;width:1.00px;height:3.50px"></b>
<b style="left:63.59px;top:767.50px;width:1.00px;height:2.00px"></b>
<b style="left:70.33px;top:767.50px;width:1.00px;height:2.00px"></b>
<b style="left:77.07px;top:767.50px;width:1.00px;height:2.00px"></b>
<b style="left:83.81px;top:767.50px;width:1.00px;height:2.00px"></b>
<b style="left:90.55px;top:767.50px;width:1.00px;height:3.50px"></b>
<b style="left:97.29px;top:767.50px;width:1.00px;height:2.00px"></b>
<b style="left:104.03px;top:767.50px;width:1.00px;height:2.00px"></b>
<b style="left:110.77px;top:767.50px;width:1.00px;height:2.00px"></b>
<b style="left:117.51px;top:767.50px;width:1.00px;height:2.00px"></b>
<b style="left:124.25px;top:767.50px;width:1.00px;height:3.50px"></b>
<b style="left:130.99px;top:767.50px;width:1.00px;height:2.00px"></b>
<b style="left:137.73px;top:767.50px;width:1.00px;height:2.00px"></b>
<b style="left:144.47px;top:767.50px;width:1.00px;height:2.00px"></b>
<b style="left:151.21px;top:767.50px;width:1.00px;height:2.00px"></b>
<b style="left:157.95px;top:767.50px;width:1.00px;height:3.50px"></b>
<b style="left:164.69px;top:767.50px;width:1.00px;height:2.00px"></b>
<b style="left:171.43px;top:767.50px;width:1.00px;height:2.00px"></b>
<b style="left:178.17px;top:767.50px;width:1.00px;height:2.00px"></b>
<b style="left:184.91px;top:767.50px;width:1.00px;height:2.00px"></b>
<b style="left:191.65px;top:767.50px;width:1.00px;height:3.50px"></b>
<b style="left:198.39px;top:767.50px;width:1.00px;height:2.00px"></b>
<b style="left:205.13px;top:767.50px;width:1.00px;height:2.00px"></b>
<b style="left:221.70px;top:360.00px;width:0.80px;height:1.60px"></b>
<b style="left:223.40px;top:360.00px;width:0.80px;height:1.60px"></b>
<b style="left:225.10px;top:360.00px;width:0.80px;height:1.60px"></b>
<b style="left:226.80px;top:360.00px;width:0.80px;height:1.60px"></b>
<b style="left:228.50px;top:360.00px;width:0.80px;height:1.60px"></b>
<b style="left:230.20px;top:360.00px;width:0.80px;height:1.60px"></b>
<b style="left:231.90px;top:360.00px;width:0.80px;height:1.60px"></b>
<b style="left:233.60px;top:360.00px;width:0.80px;height:1.60px"></b>
<b style="left:235.30px;top:360.00px;width:0.80px;height:1.60px"></b>
<b style="left:237.00px;top:360.00px;width:1.00px;height:3.50px"></b>
<b style="left:238.70px;top:360.00px;width:0.80px;height:1.60px"></b>
<b style="left:240.40px;top:360.00px;width:0.80px;height:1.60px"></b>
<b style="left:242.10px;top:360.00px;width:0.80px;height:1.60px"></b>
<b style="left:243.80px;top:360.00px;width:0.80px;height:1.60px"></b>
<b style="left:245.50px;top:360.00px;width:0.80px;height:1.60px"></b>
<b style="left:247.20px;top:360.00px;width:0.80px;height:1.60px"></b>
<b style="left:248.90px;top:360.00px;width:0.80px;height:1.60px"></b>
<b style="left:250.60px;top:360.00px;width:0.80px;height:1.60px"></b>
<b style="left:252.30px;top:360.00px;width:0.80px;height:1.60px"></b>
<b style="left:254.00px;top:360.00px;width:1.00px;height:3.50px"></b>
<b style="left:255.70px;top:360.00px;width:0.80px;height:1.60px"></b>
<b style="left:257.40px;top:360.00px;width:0.80px;height:1.60px"></b>
<b style="left:259.10px;top:360.00px;width:0.80px;height:1.60px"></b>
<b style="left:260.80px;top:360.00px;width:0.80px;height:1.60px"></b>
<b style="left:262.50px;top:360.00px;width:0.80px;height:1.60px"></b>
<b style="left:264.20px;top:360.00px;width:0.80px;height:1.60px"></b>
<b style="left:265.90px;top:360.00px;width:0.80px;height:1.60px"></b>
<b style="left:267.60px;top:360.00px;width:0.80px;height:1.60px"></b>
<b style="left:269.30px;top:360.00px;width:0.80px;height:1.60px"></b>
<b style="left:271.00px;top:360.00px;width:1.00px;height:3.50px"></b>
<b style="left:272.70px;top:360.00px;width:0.80px;height:1.60px"></b>
<b style="left:274.40px;top:360.00px;width:0.80px;height:1.60px"></b>
<b style="left:276.10px;top:360.00px;width:0.80px;height:1.60px"></b>
<b style="left:277.80px;top:360.00px;width:0.80px;height:1.60px"></b>
<b style="left:279.50px;top:360.00px;width:0.80px;height:1.60px"></b>
<b style="left:281.20px;top:360.00px;width:0.80px;height:1.60px"></b>
<b style="left:282.90px;top:360.00px;width:0.80px;height:1.60px"></b>
<b style="left:284.60px;top:360.00px;width:0.80px;height:1.60px"></b>
<b style="left:286.30px;top:360.00px;width:0.80px;height:1.60px"></b>
<b style="left:288.00px;top:360.00px;width:1.00px;height:3.50px"></b>
<b style="left:289.70px;top:360.00px;width:0.80px;height:1.60px"></b>
<b style="left:291.40px;top:360.00px;width:0.80px;height:1.60px"></b>
<b style="left:293.10px;top:360.00px;width:0.80px;height:1.60px"></b>
<b style="left:294.80px;top:360.00px;width:0.80px;height:1.60px"></b>
<b style="left:296.50px;top:360.00px;width:0.80px;height:1.60px"></b>
<b style="left:298.20px;top:360.00px;width:0.80px;height:1.60px"></b>
<b style="left:299.90px;top:360.00px;width:0.80px;height:1.60px"></b>
<b style="left:301.60px;top:360.00px;width:0.80px;height:1.60px"></b>
<b style="left:303.30px;top:360.00px;width:0.80px;height:1.60px"></b>
<b style="left:221.70px;top:767.50px;width:0.80px;height:1.60px"></b>
<b style="left:223.40px;top:767.50px;width:0.80px;height:1.60px"></b>
<b style="left:225.10px;top:767.50px;width:0.80px;height:1.60px"></b>
<b style="left:226.80px;top:767.50px;width:0.80px;height:1.60px"></b>
<b style="left:228.50px;top:767.50px;width:0.80px;height:1.60px"></b>
<b style="left:230.20px;top:767.50px;width:0.80px;height:1.60px"></b>
<b style="left:231.90px;top:767.50px;width:0.80px;height:1.60px"></b>
<b style="left:233.60px;top:767.50px;width:0.80px;height:1.60px"></b>
<b style="left:235.30px;top:767.50px;width:0.80px;height:1.60px"></b>
<b style="left:237.00px;top:767.50px;width:1.00px;height:3.50px"></b>
<b style="left:238.70px;top:767.50px;width:0.80px;height:1.60px"></b>
<b style="left:240.40px;top:767.50px;width:0.80px;height:1.60px"></b>
<b style="left:242.10px;top:767.50px;width:0.80px;height:1.60px"></b>
<b style="left:243.80px;top:767.50px;width:0.80px;height:1.60px"></b>
<b style="left:245.50px;top:767.50px;width:0.80px;height:1.60px"></b>
<b style="left:247.20px;top:767.50px;width:0.80px;height:1.60px"></b>
<b style="left:248.90px;top:767.50px;width:0.80px;height:1.60px"></b>
<b style="left:250.60px;top:767.50px;width:0.80px;height:1.60px"></b>
<b style="left:252.30px;top:767.50px;width:0.80px;height:1.60px"></b>
<b style="left:254.00px;top:767.50px;width:1.00px;height:3.50px"></b>
<b style="left:255.70px;top:767.50px;width:0.80px;height:1.60px"></b>
<b style="left:257.40px;top:767.50px;width:0.80px;height:1.60px"></b>
<b style="left:259.10px;top:767.50px;width:0.80px;height:1.60px"></b>
<b style="left:260.80px;top:767.50px;width:0.80px;height:1.60px"></b>
<b style="left:262.50px;top:767.50px;width:0.80px;height:1.60px"></b>
<b style="left:264.20px;top:767.50px;width:0.80px;height:1.60px"></b>
<b style="left:265.90px;top:767.50px;width:0.80px;height:1.60px"></b>
<b style="left:267.60px;top:767.50px;width:0.80px;height:1.60px"></b>
<b style="left:269.30px;top:767.50px;width:0.80px;height:1.60px"></b>
<b style="left:271.00px;top:767.50px;width:1.00px;height:3.50px"></b>
<b style="left:272.70px;top:767.50px;width:0.80px;height:1.60px"></b>
<b style="left:274.40px;top:767.50px;width:0.80px;height:1.60px"></b>
<b style="left:276.10px;top:767.50px;width:0.80px;height:1.60px"></b>
<b style="left:277.80px;top:767.50px;width:0.80px;height:1.60px"></b>
<b style="left:279.50px;top:767.50px;width:0.80px;height:1.60px"></b>
<b style="left:281.20px;top:767.50px;width:0.80px;height:1.60px"></b>
<b style="left:282.90px;top:767.50px;width:0.80px;height:1.60px"></b>
<b style="left:284.60px;top:767.50px;width:0.80px;height:1.60px"></b>
<b style="left:286.30px;top:767.50px;width:0.80px;height:1.60px"></b>
<b style="left:288.00px;top:767.50px;width:1.00px;height:3.50px"></b>
<b style="left:289.70px;top:767.50px;width:0.80px;height:1.60px"></b>
<b style="left:291.40px;top:767.50px;width:0.80px;height:1.60px"></b>
<b style="left:293.10px;top:767.50px;width:0.80px;height:1.60px"></b>
<b style="left:294.80px;top:767.50px;width:0.80px;height:1.60px"></b>
<b style="left:296.50px;top:767.50px;width:0.80px;height:1.60px"></b>
<b style="left:298.20px;top:767.50px;width:0.80px;height:1.60px"></b>
<b style="left:299.90px;top:767.50px;width:0.80px;height:1.60px"></b>
<b style="left:301.60px;top:767.50px;width:0.80px;height:1.60px"></b>
<b style="left:303.30px;top:767.50px;width:0.80px;height:1.60px"></b>
<b style="left:322.50px;top:22.60px;width:2.50px;height:1.00px"></b>
<b style="left:322.50px;top:51.70px;width:2.50px;height:1.00px"></b>
<b style="left:322.50px;top:80.80px;width:2.50px;height:1.00px"></b>
<b style="left:322.50px;top:109.90px;width:2.50px;height:1.00px"></b>
<b style="left:322.50px;top:139.00px;width:2.50px;height:1.00px"></b>
<b style="left:322.50px;top:429.70px;width:2.50px;height:1.00px"></b>
<b style="left:322.50px;top:458.95px;width:2.50px;height:1.00px"></b>
<b style="left:322.50px;top:488.20px;width:2.50px;height:1.00px"></b>
<b style="left:322.50px;top:517.45px;width:2.50px;height:1.00px"></b>
<b style="left:322.50px;top:546.70px;width:2.50px;height:1.00px"></b>
<p class="tt" style="left:90.40px;top:1.40px;">Number density [10<sup>9</sup> cm<sup>-3</sup>]</p>
<p class="tt" style="left:96.00px;top:411.20px;">Number density [10<sup>9</sup> cm<sup>-3</sup>]</p>
<p class="yl" style="left:34.5px;top:55.60px">40</p>
<p class="yl" style="left:34.5px;top:122.80px">20</p>
<p class="yl" style="left:32.5px;top:190.00px">0</p>
<p class="yl" style="left:34.5px;top:257.20px">-20</p>
<p class="yl" style="left:34.5px;top:324.40px">-40</p>
<p class="yl" style="left:34.5px;top:463.70px">40</p>
<p class="yl" style="left:34.5px;top:531.10px">20</p>
<p class="yl" style="left:32.5px;top:598.50px">0</p>
<p class="yl" style="left:34.5px;top:665.90px">-20</p>
<p class="yl" style="left:34.5px;top:733.30px">-40</p>
<p class="ya" style="left:6px;top:188.6px"><i>y</i> [Mm]</p>
<p class="ya" style="left:6px;top:596.6px"><i>y</i> [Mm]</p>
<p class="xl" style="left:59.60px;top:366.20px">-20</p>
<p class="xl" style="left:93.30px;top:366.20px">-10</p>
<p class="xl" style="left:127.00px;top:366.20px">0</p>
<p class="xl" style="left:160.70px;top:366.20px">10</p>
<p class="xl" style="left:194.40px;top:366.20px">20</p>
<p class="xl" style="left:56.40px;top:773.40px">-20</p>
<p class="xl" style="left:90.50px;top:773.40px">-10</p>
<p class="xl" style="left:124.60px;top:773.40px">0</p>
<p class="xl" style="left:158.70px;top:773.40px">10</p>
<p class="xl" style="left:192.80px;top:773.40px">20</p>
<p class="xl zl" style="left:226.60px;top:366.40px;transform:scaleX(1.06)">-7.5</p>
<p class="xl zl" style="left:244.70px;top:366.40px;transform:scaleX(1.06)">-2.5</p>
<p class="xl zl" style="left:262.60px;top:366.40px;transform:scaleX(1.20)">2.5</p>
<p class="xl zl" style="left:281.10px;top:366.40px;transform:scaleX(1.20)">7.5</p>
<p class="xl zl" style="left:226.60px;top:773.80px;transform:scaleX(1.06)">-7.5</p>
<p class="xl zl" style="left:244.70px;top:773.80px;transform:scaleX(1.06)">-2.5</p>
<p class="xl zl" style="left:262.60px;top:773.80px;transform:scaleX(1.20)">2.5</p>
<p class="xl zl" style="left:281.10px;top:773.80px;transform:scaleX(1.20)">7.5</p>
<p class="xa" style="left:108.00px;top:379.00px;"><i>x</i> [Mm]</p>
<p class="xa" style="left:105.00px;top:786.00px;"><i>x</i> [Mm]</p>
<p class="xa" style="left:243.00px;top:379.00px;"><i>z</i> [Mm]</p>
<p class="xa" style="left:243.00px;top:786.00px;"><i>z</i> [Mm]</p>
<p class="cl" style="left:328.2px;top:23.10px">20.6</p>
<p class="cl" style="left:328.2px;top:52.20px">19.9</p>
<p class="cl" style="left:328.2px;top:81.30px">19.3</p>
<p class="cl" style="left:328.2px;top:110.40px">18.7</p>
<p class="cl" style="left:328.2px;top:139.50px">18.0</p>
<p class="cl" style="left:328.2px;top:430.20px">22.1</p>
<p class="cl" style="left:328.2px;top:459.45px">20.4</p>
<p class="cl" style="left:328.2px;top:488.70px">18.6</p>
<p class="cl" style="left:328.2px;top:517.95px">16.8</p>
<p class="cl" style="left:328.2px;top:547.20px">15.1</p>
<p class="pl" style="left:49.50px;top:26.00px;"><i>z</i> = 0</p>
<p class="pl" style="left:47.50px;top:434.00px;"><i>z</i> = 0</p>
<p class="pls" style="left:227.50px;top:28.60px;">x = 0</p>
<p class="pls" style="left:227.50px;top:435.60px;">x = 0</p>
<p class="pl" style="left:49.50px;top:340.00px;">a)</p>
<p class="pl" style="left:227.00px;top:341.00px;">b)</p>
<p class="pl" style="left:49.60px;top:749.60px;">c)</p>
<p class="pl" style="left:227.00px;top:750.00px;">d)</p>
</body></html>
